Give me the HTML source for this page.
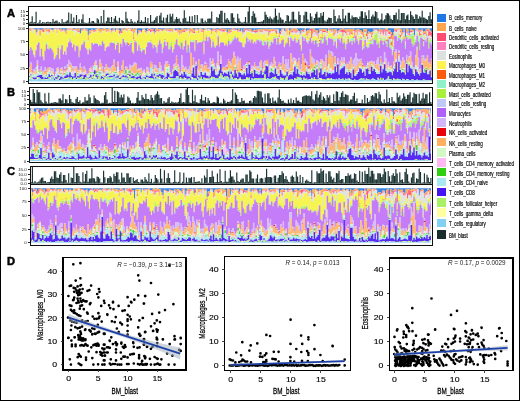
<!DOCTYPE html><html><head><meta charset="utf-8"><style>html,body{margin:0;padding:0;background:#fff;}svg{display:block;will-change:transform;}</style></head><body><svg width="520" height="401" viewBox="0 0 520 401" shape-rendering="crispEdges">
<rect x="0" y="0" width="520" height="401" fill="#fff"/>
<defs><filter id="bl" x="0" y="0" width="1" height="1"><feGaussianBlur stdDeviation="0.35 0.2"/></filter></defs>
<g opacity="1.0" filter="url(#bl)">
<path d="M29.6 28.2v0.6M30.9 28.2v0.6M33.5 28.2v0.5M34.9 28.2v1.0M36.1 28.2v4.2M37.5 28.2v1.1M38.8 28.2v0.6M40.0 28.2v1.9M41.4 28.2v0.8M42.6 28.2v1.6M44.0 28.2v0.5M45.2 28.2v0.3M46.5 28.2v1.0M47.9 28.2v0.4M49.2 28.2v0.6M50.5 28.2v0.7M51.8 28.2v1.3M53.0 28.2v1.9M54.4 28.2v0.3M55.7 28.2v0.4M57.0 28.2v0.6M58.2 28.2v0.4M59.5 28.2v0.8M60.9 28.2v0.6M62.1 28.2v2.0M63.5 28.2v0.8M64.8 28.2v1.5M66.1 28.2v3.4M67.3 28.2v0.4M68.7 28.2v0.4M70.0 28.2v0.4M71.2 28.2v0.4M72.6 28.2v0.2M73.8 28.2v0.9M75.2 28.2v1.0M76.5 28.2v0.2M77.8 28.2v0.8M79.1 28.2v0.4M80.3 28.2v4.7M81.7 28.2v0.7M83.0 28.2v0.9M84.2 28.2v0.4M85.6 28.2v1.1M86.8 28.2v1.1M88.2 28.2v6.9M89.5 28.2v2.3M90.8 28.2v2.3M92.1 28.2v1.1M93.4 28.2v1.9M94.7 28.2v1.7M96.0 28.2v0.8M97.2 28.2v0.2M98.5 28.2v0.3M99.9 28.2v0.7M101.2 28.2v0.9M102.5 28.2v0.7M103.8 28.2v0.3M105.0 28.2v0.3M106.4 28.2v1.0M107.7 28.2v0.9M109.0 28.2v0.4M110.2 28.2v0.3M111.5 28.2v2.0M112.9 28.2v1.5M114.2 28.2v0.4M115.5 28.2v2.3M116.8 28.2v0.5M118.0 28.2v0.2M119.4 28.2v1.9M120.7 28.2v3.6M122.0 28.2v0.4M123.2 28.2v0.5M124.5 28.2v1.1M125.9 28.2v0.4M129.8 28.2v0.4M131.1 28.2v0.5M132.4 28.2v0.9M133.7 28.2v0.4M134.9 28.2v0.7M136.2 28.2v0.4M137.6 28.2v5.7M138.9 28.2v1.9M140.2 28.2v1.9M141.4 28.2v2.8M142.8 28.2v0.6M144.1 28.2v0.3M145.4 28.2v2.4M146.7 28.2v3.3M147.9 28.2v0.9M149.2 28.2v0.4M150.6 28.2v0.6M151.9 28.2v0.9M153.2 28.2v0.7M154.4 28.2v3.5M155.8 28.2v0.7M158.3 28.2v1.3M159.7 28.2v0.9M161.0 28.2v0.7M162.2 28.2v1.5M163.6 28.2v0.8M164.8 28.2v0.5M166.2 28.2v0.6M167.5 28.2v0.5M168.8 28.2v0.6M170.1 28.2v1.1M171.3 28.2v0.5M172.7 28.2v0.6M174.0 28.2v0.4M175.2 28.2v1.8M176.6 28.2v0.7M177.8 28.2v1.1M179.2 28.2v1.9M180.5 28.2v1.7M181.8 28.2v0.5M183.1 28.2v0.6M184.3 28.2v1.0M185.7 28.2v1.3M187.0 28.2v0.9M188.2 28.2v0.5M189.6 28.2v1.2M192.2 28.2v0.4M193.5 28.2v1.2M194.8 28.2v1.7M196.1 28.2v0.3M197.3 28.2v1.0M198.7 28.2v1.0M200.0 28.2v0.3M201.2 28.2v0.6M202.6 28.2v0.7M203.8 28.2v2.1M205.2 28.2v0.2M206.5 28.2v0.5M207.8 28.2v1.3M209.1 28.2v0.5M210.3 28.2v0.9M211.7 28.2v1.9M213.0 28.2v0.5M214.2 28.2v0.6M215.6 28.2v0.6M216.8 28.2v0.7M218.2 28.2v1.1M219.5 28.2v0.6M220.8 28.2v0.5M222.1 28.2v0.9M223.3 28.2v0.7M224.7 28.2v0.8M226.0 28.2v0.9M227.2 28.2v4.0M228.6 28.2v0.9M229.8 28.2v1.7M231.2 28.2v1.1M232.5 28.2v0.3M233.8 28.2v0.3M235.1 28.2v1.1M236.3 28.2v0.6M237.7 28.2v2.1M239.0 28.2v0.5M240.2 28.2v3.1M241.6 28.2v1.4M242.8 28.2v4.2M244.2 28.2v1.1M245.5 28.2v0.4M246.8 28.2v1.0M248.1 28.2v1.1M249.3 28.2v1.4M250.7 28.2v0.9M252.0 28.2v3.0M253.2 28.2v2.4M254.6 28.2v1.4M255.8 28.2v1.9M257.1 28.2v1.5M258.5 28.2v1.3M259.8 28.2v0.9M261.1 28.2v0.7M262.4 28.2v1.3M263.6 28.2v0.7M265.0 28.2v0.8M266.2 28.2v1.0M267.6 28.2v1.0M268.9 28.2v1.2M270.1 28.2v0.8M271.5 28.2v1.1M272.8 28.2v0.6M274.1 28.2v1.1M275.4 28.2v1.3M276.6 28.2v0.8M278.0 28.2v0.8M279.2 28.2v5.2M280.6 28.2v3.0M281.9 28.2v1.0M283.1 28.2v0.3M284.5 28.2v2.6M285.8 28.2v0.6M287.1 28.2v0.2M288.4 28.2v0.4M289.7 28.2v2.5M290.9 28.2v1.3M292.2 28.2v0.4M293.6 28.2v0.6M294.9 28.2v0.5M296.2 28.2v0.4M297.4 28.2v1.0M298.8 28.2v2.7M300.1 28.2v5.1M301.4 28.2v2.1M302.7 28.2v1.5M303.9 28.2v2.0M305.2 28.2v0.3M306.6 28.2v3.4M307.9 28.2v1.7M309.2 28.2v1.6M310.4 28.2v0.4M311.8 28.2v0.5M313.1 28.2v0.6M314.4 28.2v0.6M315.7 28.2v2.2M316.9 28.2v2.0M318.2 28.2v5.4M319.6 28.2v1.2M320.9 28.2v1.2M322.2 28.2v0.7M323.4 28.2v0.7M324.8 28.2v0.9M326.1 28.2v0.7M327.4 28.2v2.9M328.7 28.2v0.4M329.9 28.2v1.2M331.2 28.2v1.6M332.6 28.2v0.9M333.9 28.2v2.6M335.2 28.2v0.7M336.4 28.2v1.3M337.8 28.2v3.4M339.1 28.2v2.0M340.4 28.2v0.7M341.7 28.2v1.1M342.9 28.2v0.3M344.2 28.2v0.7M345.6 28.2v1.4M346.9 28.2v1.2M348.2 28.2v0.8M349.4 28.2v0.5M350.8 28.2v0.9M352.1 28.2v1.1M353.4 28.2v0.6M354.7 28.2v1.5M355.9 28.2v2.4M357.2 28.2v1.0M358.6 28.2v0.9M359.9 28.2v1.7M361.2 28.2v2.6M362.4 28.2v3.9M363.8 28.2v1.2M365.1 28.2v0.8M366.4 28.2v0.8M367.7 28.2v5.6M368.9 28.2v3.3M370.2 28.2v4.6M371.6 28.2v4.1M372.9 28.2v3.3M374.2 28.2v0.8M375.4 28.2v1.0M376.8 28.2v1.3M378.1 28.2v2.9M379.4 28.2v0.6M380.7 28.2v1.5M381.9 28.2v1.2M383.2 28.2v1.5M384.6 28.2v0.8M385.9 28.2v0.3M387.2 28.2v0.4M388.4 28.2v2.1M389.8 28.2v2.2M391.1 28.2v3.9M392.4 28.2v7.3M393.7 28.2v4.0M394.9 28.2v0.3M396.2 28.2v0.3M397.6 28.2v0.4M400.2 28.2v0.5M401.4 28.2v0.9M402.8 28.2v3.8M404.1 28.2v1.0M405.4 28.2v8.5M406.7 28.2v0.3M407.9 28.2v1.3M409.2 28.2v4.7M410.6 28.2v1.2M411.9 28.2v1.5M413.2 28.2v1.7M414.4 28.2v6.7M415.8 28.2v0.7M417.1 28.2v0.4M418.4 28.2v1.5M419.7 28.2v2.2M420.9 28.2v1.6M422.2 28.2v1.3M423.6 28.2v3.5M424.9 28.2v3.1M426.2 28.2v1.2M427.4 28.2v0.7M428.8 28.2v0.5M430.1 28.2v2.3M431.4 28.2v3.5" stroke="#3585e8" stroke-width="1.50" fill="none" shape-rendering="auto"/>
<path d="M29.6 28.7v1.3M30.9 28.7v1.4M32.2 28.3v0.7M33.5 28.6v0.7M36.1 32.4v1.1M37.5 29.2v2.2M38.8 28.8v0.6M40.0 30.1v0.7M41.4 29.0v0.3M42.6 29.8v0.5M44.0 28.7v0.9M45.2 28.4v0.9M46.5 29.2v2.3M47.9 28.6v2.7M49.2 28.7v0.6M50.5 28.8v0.4M51.8 29.5v0.3M53.0 30.0v0.5M54.4 28.5v0.2M55.7 28.5v0.2M57.0 28.7v2.8M58.2 28.6v0.5M59.5 28.9v0.3M60.9 28.8v1.6M62.1 30.2v0.7M63.5 29.0v1.0M64.8 29.6v1.2M66.1 31.6v0.5M67.3 28.6v0.3M68.7 28.5v0.3M70.0 28.5v0.7M71.2 28.5v0.4M72.6 28.4v1.8M73.8 29.0v1.0M75.2 29.2v1.1M76.5 28.4v1.9M77.8 29.0v1.5M79.1 28.5v2.7M81.7 28.8v1.4M83.0 29.0v0.6M84.2 28.6v0.4M85.6 29.3v0.7M86.8 29.3v1.4M88.2 35.0v5.2M89.5 30.4v3.3M90.8 30.5v2.2M92.1 29.2v0.7M93.4 30.1v1.2M94.7 29.8v0.6M96.0 28.9v1.4M97.2 28.4v0.3M98.5 28.4v2.1M99.9 28.8v3.3M101.2 29.1v3.5M102.5 28.8v1.2M103.8 28.4v2.5M105.0 28.5v1.4M106.4 29.1v2.5M107.7 29.0v1.5M109.0 28.5v2.5M110.2 28.4v0.4M111.5 30.2v0.3M112.9 29.6v1.4M114.2 28.6v1.2M115.5 30.4v0.8M116.8 28.6v0.5M118.0 28.4v1.2M119.4 30.0v0.9M120.7 31.8v0.7M122.0 28.5v2.5M123.2 28.7v1.0M124.5 29.2v0.6M125.9 28.5v1.8M127.2 28.3v2.2M128.4 28.3v0.3M129.8 28.5v0.4M131.1 28.6v0.9M132.4 29.0v1.7M133.7 28.5v9.2M134.9 28.8v3.3M136.2 28.6v1.5M137.6 33.8v1.2M138.9 30.1v1.6M140.2 30.0v0.2M141.4 30.9v0.2M142.8 28.7v0.6M144.1 28.4v0.7M145.4 30.5v0.6M146.7 31.4v0.8M147.9 29.0v0.9M149.2 28.5v0.5M150.6 28.7v1.1M151.9 29.0v1.1M153.2 28.9v0.6M154.4 31.7v0.5M155.8 28.9v2.2M157.1 28.3v1.9M158.3 29.5v2.5M159.7 29.1v0.8M161.0 28.8v0.6M162.2 29.7v0.4M163.6 28.9v1.0M164.8 28.7v0.3M166.2 28.7v1.6M167.5 28.6v1.3M168.8 28.8v1.8M170.1 29.2v2.2M171.3 28.7v2.2M172.7 28.8v2.5M174.0 28.5v0.9M175.2 30.0v0.7M176.6 28.8v0.3M177.8 29.3v2.0M179.2 30.1v4.2M180.5 29.8v3.0M181.8 28.7v4.4M183.1 28.8v2.1M184.3 29.1v1.8M185.7 29.4v0.8M187.0 29.0v0.5M188.2 28.6v1.1M189.6 29.4v3.3M190.8 28.3v2.2M192.2 28.5v3.1M193.5 29.3v2.9M194.8 29.8v2.3M196.1 28.4v0.8M197.3 29.2v0.6M198.7 29.2v3.3M200.0 28.5v1.0M201.2 28.7v1.4M202.6 28.9v2.3M203.8 30.3v12.3M205.2 28.4v1.5M206.5 28.6v0.5M207.8 29.5v0.6M209.1 28.7v0.2M210.3 29.0v0.4M211.7 30.1v3.3M213.0 28.7v1.2M214.2 28.8v0.8M215.6 28.7v0.6M216.8 28.9v4.3M218.2 29.3v0.4M219.5 28.8v1.1M220.8 28.6v0.3M222.1 29.1v1.7M223.3 28.8v1.1M224.7 29.0v1.5M226.0 29.0v2.1M227.2 32.1v2.1M228.6 29.1v3.5M229.8 29.8v1.7M231.2 29.2v2.5M232.5 28.4v0.9M233.8 28.4v0.2M235.1 29.3v0.3M236.3 28.8v0.6M237.7 30.2v1.1M239.0 28.7v1.4M240.2 31.3v0.9M241.6 29.6v0.4M242.8 32.3v0.8M244.2 29.3v0.5M245.5 28.5v0.4M246.8 29.1v0.6M248.1 29.2v0.4M249.3 29.6v1.1M250.7 29.0v2.0M252.0 31.1v0.5M253.2 30.5v1.1M254.6 29.6v1.2M255.8 30.0v0.9M257.1 29.6v0.8M258.5 29.5v0.9M259.8 29.1v3.3M261.1 28.9v1.9M262.4 29.5v2.7M263.6 28.8v0.9M265.0 28.9v1.4M266.2 29.1v1.3M267.6 29.1v0.8M268.9 29.3v2.5M270.1 29.0v2.2M271.5 29.2v1.7M272.8 28.8v1.6M274.1 29.3v1.0M275.4 29.5v2.7M276.6 29.0v1.7M278.0 29.0v0.5M279.2 33.3v3.0M280.6 31.2v0.8M281.9 29.2v2.0M283.1 28.5v0.3M284.5 30.8v0.5M285.8 28.8v1.4M287.1 28.4v6.4M288.4 28.5v0.2M289.7 30.7v1.1M290.9 29.4v2.4M292.2 28.6v2.4M293.6 28.8v2.0M294.9 28.6v2.6M296.2 28.6v2.2M297.4 29.2v1.5M298.8 30.8v0.5M300.1 33.2v1.1M301.4 30.3v2.0M302.7 29.7v0.3M303.9 30.1v1.0M305.2 28.4v0.6M306.6 31.6v2.7M307.9 29.9v8.9M309.2 29.7v3.1M310.4 28.6v0.6M311.8 28.7v0.4M313.1 28.7v4.6M314.4 28.7v1.7M315.7 30.3v2.5M316.9 30.1v2.9M318.2 33.5v4.0M319.6 29.4v2.5M320.9 29.4v0.9M322.2 28.8v9.3M323.4 28.8v2.2M324.8 29.1v2.1M326.1 28.9v3.2M327.4 31.1v1.3M328.7 28.6v0.6M329.9 29.3v0.6M331.2 29.8v1.5M332.6 29.1v2.0M333.9 30.8v2.2M335.2 28.9v4.6M336.4 29.5v1.1M337.8 31.5v0.4M339.1 30.1v0.6M340.4 28.8v2.0M341.7 29.2v0.7M342.9 28.4v1.2M344.2 28.9v0.8M345.6 29.6v2.1M346.9 29.4v4.6M348.2 28.9v2.2M349.4 28.7v2.8M350.8 29.1v4.2M352.1 29.3v3.4M353.4 28.7v2.0M354.7 29.7v0.5M355.9 30.5v0.8M357.2 29.2v5.2M358.6 29.1v1.8M359.9 29.9v1.9M361.2 30.8v2.7M362.4 32.0v1.8M363.8 29.3v5.9M365.1 29.0v2.3M366.4 28.9v4.9M367.7 33.8v3.6M368.9 31.5v2.0M370.2 32.8v0.7M371.6 32.3v3.9M372.9 31.4v3.0M374.2 28.9v0.8M375.4 29.2v0.2M376.8 29.4v0.5M378.1 31.1v1.1M379.4 28.7v2.2M380.7 29.6v3.1M381.9 29.3v0.9M383.2 29.7v0.6M384.6 29.0v0.3M385.9 28.4v2.5M387.2 28.6v1.4M388.4 30.3v2.0M389.8 30.3v1.5M391.1 32.1v1.9M392.4 35.5v10.1M393.7 32.2v6.2M394.9 28.4v2.2M396.2 28.5v1.5M397.6 28.6v0.8M398.9 28.3v0.4M400.2 28.7v2.6M401.4 29.1v4.8M402.8 31.9v1.9M404.1 29.1v1.7M405.4 36.7v2.1M406.7 28.4v3.3M407.9 29.5v1.5M409.2 32.9v0.6M410.6 29.3v1.8M411.9 29.6v1.4M413.2 29.9v1.2M414.4 34.9v1.3M415.8 28.8v1.5M417.1 28.5v1.0M418.4 29.7v1.0M419.7 30.3v1.1M420.9 29.8v1.1M422.2 29.4v1.1M423.6 31.6v1.8M424.9 31.2v1.9M426.2 29.4v4.8M427.4 28.8v1.0M428.8 28.6v2.0M430.1 30.4v1.5M431.4 31.7v0.8" stroke="#ffae5f" stroke-width="1.50" fill="none" shape-rendering="auto"/>
<path d="M29.6 30.0v0.4M30.9 30.0v0.7M32.2 29.0v0.4M33.5 29.3v0.3M34.9 29.3v0.3M36.1 33.4v0.6M37.5 31.4v0.4M38.8 29.3v0.3M40.0 30.7v5.0M41.4 29.2v1.1M42.6 30.2v1.6M44.0 29.5v2.6M45.2 29.3v0.5M46.5 31.4v0.3M47.9 31.3v0.3M49.2 29.3v3.1M50.5 29.2v0.4M51.8 29.7v0.3M53.0 30.4v0.4M54.4 28.6v0.6M55.7 28.7v0.5M57.0 31.4v0.7M59.5 29.2v0.8M62.1 30.8v0.3M63.5 29.9v0.7M64.8 30.8v0.8M66.1 32.0v2.0M67.3 28.9v0.8M68.7 28.8v0.4M70.0 29.2v0.5M71.2 28.9v0.3M72.6 30.1v0.4M76.5 30.2v0.4M77.8 30.4v1.3M79.1 31.2v0.7M80.3 33.0v0.4M81.7 30.2v0.5M83.0 29.5v0.5M84.2 28.9v0.4M86.8 30.6v0.4M88.2 40.2v0.3M90.8 32.6v1.0M92.1 29.9v0.6M93.4 31.2v0.6M94.7 30.4v0.6M96.0 30.3v0.7M97.2 28.6v0.3M98.5 30.5v0.3M99.9 32.1v0.3M102.5 30.0v0.3M103.8 30.8v0.3M105.0 29.9v0.4M106.4 31.5v0.8M107.7 30.5v0.3M109.0 30.9v0.8M111.5 30.5v0.9M114.2 29.7v0.6M115.5 31.2v0.6M116.8 29.1v0.4M118.0 29.6v0.6M119.4 30.9v2.2M120.7 32.5v0.8M122.0 30.9v2.2M123.2 29.6v0.5M127.2 30.5v0.4M128.4 28.5v0.4M131.1 29.5v1.6M132.4 30.7v0.3M133.7 37.6v1.6M134.9 32.1v0.3M137.6 35.0v0.4M138.9 31.6v0.9M140.2 30.2v1.1M141.4 31.1v1.5M142.8 29.3v0.8M144.1 29.0v0.4M145.4 31.1v0.7M147.9 29.9v0.9M149.2 29.0v1.6M150.6 29.8v2.3M151.9 30.1v0.5M153.2 29.4v1.7M154.4 32.1v0.3M155.8 31.1v0.9M157.1 30.2v0.7M158.3 31.9v0.3M161.0 29.4v0.5M162.2 30.0v0.9M163.6 29.8v0.5M164.8 28.9v0.5M166.2 30.3v0.5M167.5 29.9v0.5M168.8 30.5v0.8M170.1 31.4v0.7M171.3 30.8v0.2M172.7 31.2v0.5M175.2 30.7v0.4M176.6 29.1v1.2M177.8 31.3v0.4M180.5 32.7v0.3M181.8 33.0v0.4M183.1 30.8v0.9M184.3 30.9v1.0M185.7 30.1v0.3M187.0 29.5v0.8M189.6 32.6v0.5M190.8 30.4v1.0M192.2 31.6v1.0M193.5 32.2v0.7M194.8 32.1v0.9M196.1 29.2v0.2M197.3 29.8v0.2M198.7 32.4v0.5M202.6 31.1v0.5M203.8 42.6v0.5M205.2 29.8v0.3M207.8 30.1v0.4M209.1 28.8v0.2M210.3 29.4v0.6M211.7 33.3v0.2M213.0 29.8v0.2M214.2 29.5v0.3M215.6 29.2v1.1M218.2 29.6v0.7M219.5 29.9v0.6M220.8 28.9v1.7M222.1 30.8v0.5M223.3 29.9v1.6M224.7 30.4v1.1M227.2 34.2v0.3M231.2 31.6v0.5M232.5 29.3v0.4M233.8 28.6v0.8M235.1 29.5v0.8M236.3 29.3v0.6M237.7 31.2v0.4M239.0 30.0v0.7M240.2 32.2v0.4M241.6 29.9v0.6M242.8 33.1v0.6M244.2 29.7v2.3M245.5 28.8v1.1M246.8 29.6v0.5M248.1 29.5v1.1M249.3 30.7v0.5M250.7 31.0v0.3M252.0 31.6v0.4M253.2 31.6v0.3M254.6 30.8v1.1M255.8 30.9v2.4M257.1 30.4v1.8M258.5 30.4v0.4M261.1 30.7v1.0M262.4 32.1v0.2M263.6 29.7v0.6M265.0 30.3v0.8M266.2 30.4v0.5M267.6 29.9v0.8M268.9 31.7v3.7M270.1 31.1v1.0M271.5 30.9v0.2M272.8 30.3v0.8M274.1 30.2v0.5M275.4 32.1v0.3M276.6 30.7v3.4M279.2 36.3v0.8M280.6 32.0v2.0M281.9 31.2v0.3M283.1 28.7v0.5M284.5 31.2v0.3M285.8 30.2v1.2M287.1 34.7v0.6M288.4 28.7v0.6M289.7 31.7v3.1M290.9 31.8v0.5M292.2 30.9v1.6M293.6 30.7v0.7M294.9 31.2v0.5M296.2 30.7v0.3M297.4 30.6v0.8M300.1 34.2v0.6M301.4 32.2v0.3M302.7 30.0v1.5M303.9 31.1v1.0M305.2 29.0v0.7M306.6 34.2v0.8M309.2 32.8v0.2M310.4 29.1v1.4M311.8 29.0v9.1M313.1 33.3v0.4M314.4 30.4v1.4M315.7 32.8v0.5M316.9 33.0v0.3M318.2 37.5v1.0M319.6 31.8v0.7M320.9 30.2v0.7M322.2 38.1v1.3M323.4 30.9v1.2M324.8 31.1v0.8M326.1 32.0v0.4M327.4 32.3v0.4M328.7 29.2v0.5M329.9 29.9v0.8M331.2 31.2v0.4M332.6 31.0v0.4M333.9 32.9v2.9M335.2 33.4v0.3M336.4 30.5v0.9M337.8 31.8v1.3M339.1 30.7v0.6M340.4 30.7v1.1M341.7 29.9v1.9M342.9 29.6v6.6M344.2 29.7v2.5M345.6 31.6v1.3M346.9 33.9v1.0M348.2 31.1v0.5M349.4 31.4v0.9M350.8 33.2v0.5M352.1 32.6v1.4M353.4 30.6v0.4M354.7 30.1v1.5M355.9 31.3v0.4M357.2 34.3v0.3M358.6 30.8v0.3M359.9 31.7v0.6M361.2 33.5v0.5M362.4 33.7v1.0M363.8 35.2v1.9M365.1 31.2v0.7M366.4 33.7v2.4M367.7 37.3v1.7M370.2 33.4v0.4M371.6 36.1v0.9M372.9 34.4v0.4M375.4 29.3v0.4M376.8 29.9v0.6M378.1 32.1v0.4M379.4 30.8v0.6M380.7 32.7v1.2M381.9 30.2v1.0M383.2 30.3v4.3M384.6 29.2v1.5M385.9 30.8v4.7M387.2 29.9v1.0M388.4 32.2v1.3M389.8 31.7v2.2M391.1 33.9v4.6M392.4 45.5v0.8M393.7 38.3v1.1M394.9 30.6v0.5M396.2 29.9v2.2M397.6 29.4v0.8M398.9 28.7v0.8M400.2 31.3v1.0M401.4 33.8v0.6M402.8 33.8v0.6M404.1 30.8v1.0M405.4 38.7v0.5M406.7 31.7v0.7M407.9 30.9v0.6M409.2 33.4v2.1M410.6 31.1v1.4M411.9 31.0v1.2M413.2 31.0v0.2M414.4 36.1v0.4M415.8 30.3v0.3M417.1 29.4v0.4M418.4 30.7v0.3M419.7 31.4v4.4M420.9 30.8v0.8M422.2 30.5v0.3M423.6 33.4v0.8M424.9 33.0v1.1M426.2 34.2v1.6M427.4 29.8v1.2M428.8 30.6v5.4M430.1 31.9v3.0M431.4 32.4v4.3" stroke="#ff5c80" stroke-width="1.50" fill="none" shape-rendering="auto"/>
<path d="M29.6 30.3v0.2M30.9 30.7v0.4M34.9 29.5v0.4M37.5 31.7v0.3M38.8 29.6v0.4M44.0 32.1v0.2M47.9 31.5v0.2M49.2 32.3v0.7M50.5 29.5v0.3M53.0 30.8v1.6M55.7 29.2v0.3M57.0 32.1v1.0M58.2 29.2v0.3M60.9 30.3v1.4M62.1 31.1v0.3M64.8 31.6v0.2M67.3 29.6v0.2M68.7 29.1v0.7M70.0 29.7v0.8M71.2 29.1v0.5M72.6 30.4v0.3M73.8 30.0v0.3M75.2 30.4v0.3M76.5 30.6v0.4M77.8 31.6v0.2M79.1 31.8v0.4M80.3 33.4v0.5M81.7 30.7v0.2M83.0 30.0v0.5M84.2 29.3v0.3M85.6 30.0v0.8M86.8 31.0v0.2M89.5 33.8v0.4M92.1 30.5v0.5M94.7 30.9v1.4M96.0 31.0v0.4M98.5 30.7v0.2M99.9 32.3v0.2M101.2 32.6v0.2M102.5 30.2v0.4M105.0 30.2v0.2M107.7 30.8v0.4M110.2 28.9v0.8M111.5 31.3v1.5M112.9 31.2v0.4M114.2 30.3v0.3M118.0 30.1v0.2M119.4 33.0v1.0M120.7 33.2v0.4M122.0 33.1v0.2M123.2 30.1v0.5M125.9 30.5v0.4M132.4 30.9v0.9M133.7 39.2v0.4M136.2 30.2v0.4M137.6 35.4v0.4M138.9 32.5v0.6M141.4 32.5v0.2M142.8 30.0v0.3M144.1 29.4v0.2M145.4 31.8v0.5M146.7 32.3v0.7M147.9 30.7v0.3M151.9 30.5v1.3M153.2 31.1v0.4M154.4 32.4v1.5M155.8 31.9v0.7M157.1 30.8v0.2M158.3 32.2v0.3M159.7 29.9v1.0M161.0 29.9v0.4M162.2 30.8v0.4M164.8 29.3v0.4M166.2 30.7v0.4M167.5 30.3v0.3M170.1 32.0v0.2M172.7 31.7v0.2M174.0 29.6v0.3M176.6 30.2v0.6M177.8 31.7v1.1M179.2 34.3v1.0M180.5 33.0v0.6M183.1 31.7v0.3M184.3 31.9v0.7M185.7 30.4v1.0M187.0 30.2v0.5M188.2 29.7v0.3M189.6 33.1v0.2M192.2 32.5v0.2M193.5 32.8v0.3M194.8 33.0v0.5M201.2 30.1v1.8M202.6 31.6v0.4M207.8 30.4v0.3M211.7 33.5v0.9M213.0 29.9v1.2M214.2 29.7v0.8M215.6 30.3v1.9M216.8 33.2v0.4M218.2 30.2v0.4M219.5 30.4v0.5M220.8 30.5v1.1M222.1 31.2v0.6M223.3 31.4v0.8M224.7 31.5v0.3M226.0 31.2v0.2M228.6 32.6v0.8M229.8 31.5v1.6M231.2 32.1v0.2M233.8 29.3v0.4M235.1 30.2v0.3M236.3 29.8v0.4M237.7 31.6v0.4M239.0 30.7v0.7M244.2 32.0v0.5M245.5 29.9v0.4M246.8 30.1v0.4M248.1 30.5v0.6M250.7 31.2v0.4M252.0 31.9v0.3M254.6 31.8v0.2M257.1 32.1v0.3M261.1 31.7v0.3M265.0 31.1v0.2M266.2 30.8v0.6M267.6 30.7v1.1M268.9 35.4v0.3M270.1 32.1v0.4M271.5 31.0v0.3M272.8 31.1v0.4M274.1 30.7v0.3M276.6 34.0v0.2M278.0 29.5v0.5M279.2 37.0v0.4M280.6 33.9v0.3M281.9 31.4v0.8M283.1 29.2v0.2M288.4 29.3v0.5M290.9 32.2v0.3M292.2 32.4v0.4M293.6 31.3v0.4M294.9 31.7v1.1M296.2 30.9v2.3M297.4 31.4v0.9M300.1 34.8v0.5M301.4 32.5v1.0M303.9 32.1v0.2M306.6 35.0v0.3M309.2 33.0v0.4M310.4 30.5v0.2M313.1 33.7v0.2M314.4 31.7v0.3M315.7 33.2v0.6M316.9 33.3v2.3M318.2 38.4v0.5M319.6 32.4v0.3M320.9 30.8v0.2M327.4 32.6v0.6M328.7 29.6v0.4M331.2 31.6v0.7M332.6 31.4v0.2M333.9 35.8v0.3M335.2 33.7v0.3M337.8 33.1v0.2M340.4 31.8v0.3M342.9 36.1v0.4M346.9 34.9v0.3M349.4 32.3v3.0M350.8 33.7v0.6M352.1 34.0v1.0M353.4 31.0v0.3M354.7 31.6v6.3M355.9 31.6v0.9M357.2 34.5v0.5M358.6 31.1v0.5M363.8 37.1v0.4M366.4 36.0v0.2M367.7 39.0v0.3M368.9 33.5v0.5M370.2 33.7v0.3M371.6 36.9v0.3M374.2 29.8v1.1M375.4 29.7v0.3M378.1 32.5v0.7M379.4 31.4v0.5M380.7 33.8v0.2M381.9 31.2v1.5M383.2 34.5v0.9M384.6 30.7v1.2M385.9 35.4v0.7M387.2 30.9v0.8M388.4 33.5v0.8M391.1 38.4v0.8M392.4 46.3v0.2M393.7 39.4v0.3M396.2 32.1v0.2M397.6 30.2v0.4M398.9 29.5v0.2M400.2 32.2v0.2M401.4 34.3v1.4M402.8 34.3v0.3M404.1 31.7v1.1M405.4 39.2v1.8M406.7 32.3v0.9M407.9 31.5v3.2M409.2 35.5v0.3M413.2 31.2v0.3M417.1 29.8v1.3M418.4 30.9v1.0M419.7 35.7v0.6M420.9 31.5v0.2M422.2 30.7v0.3M423.6 34.1v1.3M424.9 34.1v0.2M426.2 35.7v0.3M428.8 35.9v0.3M430.1 34.9v0.9" stroke="#ff8dc6" stroke-width="1.50" fill="none" shape-rendering="auto"/>
<path d="M29.6 30.5v0.4M30.9 31.0v0.7M32.2 29.5v1.0M33.5 29.6v3.4M34.9 29.8v0.3M36.1 34.0v0.8M37.5 32.0v3.3M38.8 29.9v1.1M40.0 35.7v1.8M41.4 30.3v0.4M42.6 31.8v0.7M44.0 32.3v1.1M45.2 29.8v0.4M46.5 31.8v2.3M47.9 31.7v3.2M49.2 32.9v0.5M50.5 29.8v0.6M51.8 30.0v0.6M53.0 32.3v0.5M54.4 29.2v0.2M55.7 29.5v1.0M57.0 33.1v2.0M58.2 29.4v0.5M59.5 30.0v0.7M60.9 31.7v0.4M62.1 31.4v0.7M63.5 30.6v0.7M64.8 31.8v0.3M66.1 34.0v0.6M67.3 29.8v0.3M68.7 29.7v0.8M70.0 30.4v0.3M71.2 29.5v0.6M72.6 30.7v0.9M73.8 30.3v1.4M75.2 30.6v4.6M76.5 30.9v0.8M77.8 31.8v1.4M79.1 32.2v1.1M80.3 33.8v0.9M83.0 30.5v0.3M84.2 29.5v0.3M85.6 30.7v1.1M86.8 31.2v0.6M88.2 40.6v0.9M89.5 34.1v1.1M90.8 33.6v0.5M92.1 30.9v0.2M93.4 31.8v1.3M94.7 32.3v0.4M96.0 31.4v0.5M97.2 29.0v0.8M98.5 30.9v1.0M99.9 32.4v0.6M101.2 32.8v0.8M102.5 30.5v0.4M103.8 31.2v0.4M105.0 30.3v0.2M106.4 32.4v0.9M107.7 31.2v0.8M109.0 31.7v0.4M110.2 29.7v0.8M111.5 32.7v0.3M112.9 31.5v0.6M114.2 30.5v0.8M115.5 31.9v0.6M116.8 29.6v0.7M118.0 30.2v0.6M119.4 33.9v2.4M120.7 33.5v0.5M122.0 33.3v0.4M123.2 30.5v0.2M124.5 30.0v0.3M125.9 30.8v0.7M127.2 30.9v1.1M128.4 28.9v0.6M129.8 29.0v1.2M131.1 31.1v0.5M132.4 31.8v2.7M133.7 39.5v0.7M134.9 32.4v0.4M136.2 30.5v1.4M137.6 35.8v1.3M138.9 33.0v1.0M140.2 31.4v2.2M141.4 32.7v0.7M142.8 30.3v0.6M144.1 29.6v0.3M145.4 32.3v0.3M146.7 32.9v1.6M147.9 31.0v2.4M149.2 30.7v0.6M150.6 32.1v2.7M151.9 31.8v0.5M153.2 31.4v0.4M154.4 33.8v0.9M155.8 32.6v0.4M157.1 31.0v0.4M158.3 32.4v0.8M159.7 30.8v1.3M161.0 30.2v0.9M162.2 31.1v2.3M163.6 30.4v0.2M164.8 29.7v0.3M166.2 31.1v0.6M167.5 30.6v2.0M168.8 31.4v0.6M170.1 32.2v1.5M171.3 31.2v0.8M172.7 31.9v1.3M174.0 29.8v0.9M175.2 31.2v0.8M176.6 30.7v1.0M177.8 32.7v0.6M179.2 35.2v0.6M180.5 33.5v0.4M181.8 33.5v0.4M183.1 31.9v0.5M184.3 32.5v0.8M185.7 31.4v0.5M187.0 30.7v1.9M188.2 30.0v1.1M189.6 33.2v3.0M190.8 31.4v0.7M192.2 32.7v0.6M193.5 33.0v0.5M194.8 33.4v1.2M196.1 29.5v2.0M197.3 30.1v0.9M198.7 32.9v0.8M200.0 29.6v0.8M201.2 31.9v0.8M202.6 31.9v0.4M203.8 43.2v0.6M205.2 30.1v0.7M206.5 29.2v1.6M207.8 30.7v0.6M209.1 29.1v1.4M210.3 30.1v1.1M211.7 34.3v1.6M213.0 31.0v0.2M214.2 30.5v0.6M215.6 32.1v0.4M216.8 33.5v3.7M218.2 30.6v0.2M219.5 30.9v0.2M220.8 31.6v3.2M222.1 31.7v0.3M223.3 32.2v0.3M224.7 31.7v0.7M226.0 31.4v0.5M227.2 34.6v0.3M228.6 33.3v0.3M229.8 33.0v1.1M231.2 32.3v0.5M232.5 29.8v1.0M233.8 29.7v1.6M235.1 30.4v0.7M236.3 30.2v0.4M237.7 31.9v0.3M239.0 31.4v0.7M240.2 32.5v0.6M241.6 30.6v1.7M242.8 33.8v4.2M244.2 32.5v3.3M245.5 30.2v4.6M246.8 30.4v2.0M248.1 31.1v1.1M249.3 31.2v0.5M250.7 31.6v1.4M252.0 32.2v1.5M253.2 31.9v1.7M254.6 32.0v1.4M255.8 33.3v1.2M257.1 32.3v1.1M258.5 30.7v1.3M259.8 32.4v3.8M261.1 31.9v1.6M262.4 32.4v2.5M263.6 30.4v3.5M265.0 31.3v2.5M266.2 31.4v6.7M267.6 31.7v0.8M268.9 35.6v1.4M270.1 32.4v1.6M271.5 31.3v1.6M272.8 31.5v2.2M274.1 30.9v1.3M275.4 32.5v0.5M276.6 34.1v1.0M278.0 29.9v3.2M279.2 37.3v1.8M280.6 34.1v1.4M281.9 32.1v3.7M283.1 29.3v6.2M284.5 31.6v9.6M285.8 31.4v2.0M287.1 35.4v2.2M288.4 29.7v0.9M289.7 34.9v4.6M290.9 32.5v0.6M292.2 32.8v2.1M293.6 31.6v3.0M294.9 32.7v1.3M296.2 33.2v1.5M297.4 32.2v2.9M298.8 31.4v2.9M300.1 35.2v3.7M301.4 33.4v10.7M302.7 31.4v2.0M303.9 32.3v2.6M305.2 29.7v3.4M306.6 35.2v1.1M307.9 38.9v2.1M309.2 33.3v2.2M310.4 30.7v0.6M311.8 38.2v1.1M313.1 33.8v3.2M314.4 32.0v4.2M315.7 33.7v2.8M316.9 35.5v2.0M318.2 38.9v1.4M319.6 32.6v3.7M320.9 31.0v2.8M322.2 39.4v0.6M323.4 32.2v2.6M324.8 31.9v1.1M326.1 32.4v3.9M327.4 33.2v3.5M328.7 30.0v1.3M329.9 30.8v2.7M331.2 32.2v1.3M332.6 31.5v1.6M333.9 36.1v1.9M335.2 33.9v2.4M336.4 31.5v11.3M337.8 33.3v2.6M339.1 31.4v2.7M340.4 32.0v3.0M341.7 31.9v1.3M342.9 36.5v2.3M344.2 32.2v3.7M345.6 32.9v6.8M346.9 35.1v1.0M348.2 31.7v2.0M349.4 35.2v1.4M350.8 34.3v0.4M352.1 34.9v0.7M353.4 31.3v1.4M354.7 37.9v0.9M355.9 32.4v1.1M357.2 35.0v0.7M358.6 31.6v7.9M359.9 32.4v3.1M361.2 33.9v1.4M362.4 34.8v6.2M363.8 37.4v3.7M365.1 32.0v1.8M366.4 36.2v6.4M367.7 39.3v3.0M368.9 33.9v5.7M370.2 34.0v5.6M371.6 37.1v1.7M372.9 34.9v1.4M374.2 30.9v4.6M375.4 30.0v1.5M376.8 30.6v1.2M378.1 33.1v5.0M379.4 31.8v8.6M380.7 34.0v3.1M381.9 32.6v1.9M383.2 35.4v3.5M384.6 31.8v5.0M385.9 36.1v2.9M387.2 31.7v6.7M388.4 34.2v2.1M389.8 33.9v2.6M391.1 39.2v1.9M392.4 46.5v4.8M393.7 39.7v6.2M394.9 31.2v2.8M396.2 32.2v1.4M397.6 30.5v6.5M398.9 29.6v4.0M400.2 32.4v2.1M401.4 35.7v2.6M402.8 34.6v2.4M404.1 32.7v2.4M405.4 41.0v3.2M406.7 33.2v0.9M407.9 34.7v1.8M409.2 35.7v0.4M410.6 32.6v1.6M411.9 32.3v0.6M413.2 31.4v1.7M414.4 36.5v1.7M415.8 30.7v8.3M417.1 31.0v1.3M418.4 31.8v3.2M419.7 36.3v1.5M420.9 31.7v1.6M422.2 30.9v3.7M423.6 35.4v3.4M424.9 34.3v1.9M426.2 36.0v2.7M427.4 31.1v2.7M428.8 36.2v4.6M430.1 35.7v2.8M431.4 36.7v3.0" stroke="#e0e3e3" stroke-width="1.50" fill="none" shape-rendering="auto"/>
<path d="M29.6 30.8v18.8M30.9 31.7v15.2M32.2 30.5v18.5M33.5 33.0v20.5M34.9 30.1v26.4M36.1 34.7v14.9M37.5 35.2v8.5M38.8 31.0v10.6M40.0 37.5v17.6M41.4 30.7v17.6M42.6 32.5v23.2M44.0 33.3v26.5M45.2 30.2v19.2M46.5 34.1v8.3M47.9 34.8v13.0M49.2 33.4v12.7M50.5 30.4v16.6M51.8 30.5v18.3M53.0 32.7v19.2M54.4 29.4v29.3M55.7 30.4v26.3M57.0 35.0v18.9M58.2 29.9v15.7M59.5 30.6v27.4M60.9 32.0v16.4M62.1 32.0v12.6M63.5 31.2v22.6M64.8 32.0v18.7M66.1 34.6v19.6M67.3 30.1v16.3M68.7 30.5v11.4M70.0 30.7v7.5M71.2 30.0v11.7M72.6 31.6v15.4M73.8 31.6v12.1M75.2 35.2v15.1M76.5 31.6v13.7M77.8 33.2v12.5M79.1 33.3v23.0M80.3 34.6v14.7M81.7 31.0v12.6M83.0 30.7v12.8M84.2 29.8v10.3M85.6 31.8v15.5M86.8 31.7v17.0M88.2 41.4v12.1M89.5 35.1v12.9M90.8 34.0v16.0M92.1 31.1v11.6M93.4 33.0v10.7M94.7 32.7v10.5M96.0 31.9v10.5M97.2 29.8v13.5M98.5 31.8v13.5M99.9 32.9v11.4M101.2 33.6v10.3M102.5 30.8v9.1M103.8 31.6v10.9M105.0 30.5v19.6M106.4 33.3v14.1M107.7 31.9v13.5M109.0 32.1v13.8M110.2 30.4v12.2M111.5 33.0v9.0M112.9 32.0v10.8M114.2 31.2v10.3M115.5 32.4v16.5M116.8 30.3v13.9M118.0 30.7v11.3M119.4 36.3v16.1M120.7 34.0v8.6M122.0 33.7v10.9M123.2 30.7v7.3M124.5 30.3v10.1M125.9 31.5v12.1M127.2 31.9v9.5M128.4 29.5v13.8M129.8 30.2v13.9M131.1 31.6v9.6M132.4 34.4v16.5M133.7 40.2v12.8M134.9 32.7v7.8M136.2 31.8v9.3M137.6 37.0v12.1M138.9 34.0v9.5M140.2 33.5v14.7M141.4 33.4v17.1M142.8 30.8v17.3M144.1 29.8v18.5M145.4 32.6v20.9M146.7 34.5v11.6M147.9 33.3v8.6M149.2 31.3v10.0M150.6 34.7v6.2M151.9 32.2v10.1M153.2 31.7v15.4M154.4 34.7v9.9M155.8 33.0v13.4M157.1 31.3v18.1M158.3 33.2v10.2M159.7 32.1v7.1M161.0 31.1v11.6M162.2 33.4v16.3M163.6 30.5v12.6M164.8 29.9v9.8M166.2 31.6v13.1M167.5 32.5v9.1M168.8 31.9v15.8M170.1 33.6v11.6M171.3 31.9v10.0M172.7 33.2v18.2M174.0 30.7v16.9M175.2 32.0v10.1M176.6 31.7v6.4M177.8 33.3v11.0M179.2 35.7v9.1M180.5 33.8v8.5M181.8 33.8v7.3M183.1 32.3v16.2M184.3 33.2v12.2M185.7 31.8v7.6M187.0 32.5v17.9M188.2 31.0v13.0M189.6 36.2v11.4M190.8 32.1v8.5M192.2 33.3v7.6M193.5 33.5v6.5M194.8 34.6v14.6M196.1 31.5v8.2M197.3 30.9v11.1M198.7 33.7v8.2M200.0 30.4v11.1M201.2 32.6v8.9M202.6 32.3v7.1M203.8 43.8v8.2M205.2 30.7v9.5M206.5 30.7v5.0M207.8 31.3v8.8M209.1 30.4v6.0M210.3 31.2v7.5M211.7 35.9v10.5M213.0 31.2v8.6M214.2 31.1v13.4M215.6 32.5v14.2M216.8 37.1v7.9M218.2 30.8v4.7M219.5 31.1v14.6M220.8 34.8v7.2M222.1 31.9v9.7M223.3 32.4v9.6M224.7 32.3v12.8M226.0 31.9v11.4M227.2 34.8v10.4M228.6 33.6v5.3M229.8 34.1v6.9M231.2 32.7v8.6M232.5 30.7v7.5M233.8 31.2v7.8M235.1 31.1v4.5M236.3 30.5v7.7M237.7 32.1v4.8M239.0 32.0v8.9M240.2 33.1v7.7M241.6 32.2v9.4M242.8 37.9v8.1M244.2 35.8v10.1M245.5 34.8v7.0M246.8 32.3v3.8M248.1 32.1v7.2M249.3 31.6v7.3M250.7 33.0v7.5M252.0 33.6v5.5M253.2 33.5v9.6M254.6 33.4v7.9M255.8 34.4v7.4M257.1 33.4v5.8M258.5 32.0v7.2M259.8 36.2v3.9M261.1 33.5v5.7M262.4 34.8v8.0M263.6 33.9v6.5M265.0 33.7v6.9M266.2 38.0v5.0M267.6 32.5v6.9M268.9 36.9v10.1M270.1 34.0v7.2M271.5 32.8v7.5M272.8 33.6v8.1M274.1 32.2v3.9M275.4 33.0v3.7M276.6 35.1v7.0M278.0 33.0v3.8M279.2 39.0v3.6M280.6 35.4v7.0M281.9 35.7v4.4M283.1 35.5v3.2M284.5 41.1v5.1M285.8 33.3v8.7M287.1 37.5v4.8M288.4 30.6v6.0M289.7 39.5v4.7M290.9 33.1v2.8M292.2 34.9v3.7M293.6 34.5v5.7M294.9 33.9v3.0M296.2 34.6v6.9M297.4 35.1v4.7M298.8 34.3v3.9M300.1 38.9v5.2M301.4 44.1v4.3M302.7 33.4v2.5M303.9 34.8v5.0M305.2 33.1v2.7M306.6 36.2v3.7M307.9 40.9v2.1M309.2 35.4v4.7M310.4 31.2v5.6M311.8 39.2v2.5M313.1 37.0v2.4M314.4 36.1v5.0M315.7 36.5v3.1M316.9 37.5v2.6M318.2 40.2v3.6M319.6 36.2v3.9M320.9 33.8v3.6M322.2 39.9v3.0M323.4 34.7v3.0M324.8 33.0v1.8M326.1 36.2v1.5M327.4 36.6v4.5M328.7 31.2v4.9M329.9 33.4v4.0M331.2 33.5v4.0M332.6 33.1v5.3M333.9 38.0v3.9M335.2 36.2v2.3M336.4 42.7v3.6M337.8 35.8v2.1M339.1 34.1v4.6M340.4 34.9v4.3M341.7 33.1v2.2M342.9 38.8v4.0M344.2 35.8v3.7M345.6 39.7v4.2M346.9 36.1v6.3M348.2 33.6v2.5M349.4 36.5v4.9M350.8 34.6v4.0M352.1 35.6v2.8M353.4 32.6v4.5M354.7 38.7v2.0M355.9 33.5v1.4M357.2 35.7v3.6M358.6 39.4v2.9M359.9 35.4v2.7M361.2 35.3v2.0M362.4 41.0v6.1M363.8 41.1v4.3M365.1 33.8v2.4M366.4 42.6v2.2M367.7 42.3v4.1M368.9 39.6v4.5M370.2 39.5v1.1M371.6 38.8v1.0M372.9 36.2v2.6M374.2 35.5v1.7M375.4 31.5v1.8M376.8 31.7v1.7M378.1 38.1v3.3M379.4 40.3v2.4M380.7 37.1v1.4M381.9 34.5v2.6M383.2 38.9v2.8M384.6 36.7v1.6M385.9 38.9v1.4M387.2 38.4v1.1M388.4 36.3v1.2M389.8 36.5v0.7M391.1 41.1v0.7M392.4 51.2v1.1M393.7 45.8v0.9M394.9 34.0v0.6M396.2 33.6v0.6M397.6 36.9v0.4M398.9 33.5v1.0M400.2 34.5v0.7M401.4 38.3v0.9M402.8 36.9v1.2M404.1 35.0v1.6M405.4 44.2v0.9M406.7 34.0v0.6M407.9 36.4v0.9M409.2 36.1v0.6M410.6 34.1v0.6M411.9 32.9v0.7M413.2 33.1v0.7M414.4 38.2v0.6M415.8 38.9v0.5M417.1 32.3v0.5M418.4 35.0v0.8M419.7 37.7v1.2M420.9 33.2v0.9M422.2 34.6v1.3M423.6 38.8v1.0M424.9 36.1v1.4M426.2 38.7v0.7M427.4 33.7v0.6M428.8 40.7v0.6M430.1 38.4v0.4M431.4 39.6v0.6" stroke="#f6f452" stroke-width="1.50" fill="none" shape-rendering="auto"/>
<path d="M29.6 49.6v0.3M41.4 48.2v0.3M45.2 49.3v0.3M49.2 46.0v0.5M53.0 51.8v0.2M55.7 56.6v0.4M66.1 54.1v0.2M70.0 38.1v0.2M75.2 50.2v0.2M76.5 45.3v0.2M77.8 45.7v0.2M80.3 49.2v0.6M81.7 43.5v0.2M85.6 47.3v0.3M88.2 53.5v0.3M90.8 49.9v0.3M103.8 42.4v0.2M110.2 42.5v0.2M118.0 42.0v0.3M120.7 42.5v0.3M122.0 44.6v1.1M123.2 37.9v0.2M125.9 43.5v0.3M127.2 41.4v0.2M128.4 43.3v1.8M129.8 44.0v0.2M132.4 50.9v0.4M133.7 53.0v0.7M134.9 40.5v0.4M140.2 48.2v0.7M147.9 41.9v0.3M150.6 40.8v0.3M151.9 42.2v0.3M159.7 39.1v0.2M162.2 49.6v0.2M163.6 43.0v0.4M164.8 39.6v0.3M174.0 47.5v0.3M177.8 44.2v0.3M187.0 50.4v0.5M194.8 49.1v0.2M197.3 42.0v0.3M203.8 51.9v0.6M206.5 35.7v0.2M210.3 38.6v0.2M211.7 46.3v0.3M213.0 39.8v0.4M214.2 44.4v0.3M215.6 46.6v0.3M218.2 35.4v0.3M219.5 45.6v0.6M220.8 41.9v0.2M226.0 43.2v0.6M227.2 45.1v0.5M248.1 39.3v0.7M250.7 40.4v0.4M255.8 41.8v0.2M257.1 39.2v0.2M259.8 40.1v0.5M262.4 42.8v0.4M263.6 40.3v0.3M267.6 39.3v0.5M271.5 40.3v0.2M275.4 36.6v0.2M276.6 42.1v0.4M278.0 36.7v0.3M279.2 42.6v0.2M281.9 40.1v0.7M283.1 38.7v0.7M285.8 42.0v0.3M289.7 44.1v0.5M290.9 35.9v0.3M292.2 38.5v0.3M294.9 36.9v0.3M296.2 41.5v0.7M297.4 39.7v0.3M298.8 38.2v0.2M301.4 48.4v0.2M303.9 39.8v0.4M305.2 35.7v0.4M311.8 41.7v0.2M314.4 41.1v0.4M316.9 40.0v0.2M318.2 43.7v0.5M319.6 40.1v1.3M320.9 37.3v0.8M323.4 37.6v0.2M332.6 38.3v0.3M333.9 41.9v0.2M335.2 38.4v0.2M337.8 37.9v0.5M339.1 38.6v0.6M340.4 39.2v0.4M342.9 42.7v0.2M344.2 39.4v0.4M345.6 43.9v0.3M346.9 42.3v0.3M349.4 41.4v0.3M352.1 38.4v0.2M353.4 37.1v0.8M354.7 40.7v0.2M357.2 39.2v0.5M358.6 42.2v0.3M359.9 38.0v0.5M361.2 37.3v1.3M362.4 47.1v0.5M363.8 45.3v0.5M366.4 44.7v0.3M367.7 46.3v0.3M370.2 40.6v0.6M371.6 39.7v0.8M372.9 38.7v0.9M376.8 33.4v0.3M379.4 42.7v0.2M380.7 38.5v0.5M383.2 41.6v0.7M384.6 38.3v0.3M385.9 40.3v0.6M387.2 39.4v2.0M388.4 37.4v0.6M389.8 37.1v2.2M391.1 41.7v3.9M392.4 52.3v0.3M393.7 46.6v0.4M394.9 34.5v0.3M397.6 37.3v0.2M398.9 34.5v0.4M400.2 35.1v2.4M402.8 38.0v0.6M404.1 36.6v0.7M407.9 37.3v0.2M409.2 36.6v0.2M410.6 34.7v0.2M413.2 33.7v0.2M415.8 39.4v0.2M420.9 34.1v1.2M422.2 35.9v0.3M423.6 39.7v1.2M424.9 37.5v0.3M428.8 41.3v0.3M430.1 38.8v0.4M431.4 40.2v0.3" stroke="#ff6a22" stroke-width="1.50" fill="none" shape-rendering="auto"/>
<path d="M29.6 49.8v0.4M32.2 48.9v0.5M33.5 53.5v0.8M34.9 56.6v0.3M36.1 49.6v0.4M37.5 43.7v0.4M40.0 55.2v0.6M41.4 48.4v0.2M42.6 55.8v0.5M46.5 42.4v1.8M47.9 47.9v0.4M49.2 46.5v0.9M50.5 47.1v0.4M51.8 48.9v0.4M53.0 52.0v0.3M54.4 58.8v0.6M55.7 57.0v1.0M57.0 53.9v0.8M58.2 45.6v0.3M59.5 58.0v0.3M60.9 48.5v0.4M64.8 50.8v0.2M66.1 54.3v0.7M67.3 46.4v0.6M68.7 42.0v0.3M70.0 38.3v0.6M71.2 41.7v0.7M72.6 47.0v0.3M73.8 43.7v0.7M75.2 50.4v0.4M79.1 56.3v0.2M80.3 49.8v0.4M81.7 43.7v0.3M83.0 43.5v0.4M84.2 40.1v1.3M85.6 47.5v0.3M86.8 48.7v0.3M88.2 53.7v0.3M89.5 48.1v1.0M90.8 50.2v0.4M93.4 43.8v0.9M101.2 43.9v0.5M102.5 40.0v0.4M103.8 42.6v0.9M107.7 45.4v0.7M109.0 45.8v0.3M114.2 41.5v1.4M115.5 48.9v0.3M116.8 44.2v0.2M118.0 42.2v0.8M119.4 52.4v0.4M120.7 42.7v0.6M122.0 45.6v1.0M123.2 38.1v0.3M124.5 40.4v1.3M125.9 43.7v0.5M127.2 41.6v0.4M128.4 45.1v0.3M129.8 44.2v0.5M131.1 41.1v1.6M132.4 51.3v0.8M133.7 53.6v0.4M134.9 40.9v0.5M136.2 41.1v0.5M137.6 49.1v0.3M138.9 43.5v0.2M140.2 48.8v0.3M141.4 50.6v0.8M142.8 48.2v0.8M144.1 48.4v1.1M145.4 53.4v0.2M146.7 46.0v0.8M147.9 42.1v0.5M149.2 41.4v0.7M150.6 41.1v0.4M151.9 42.4v1.3M153.2 47.1v0.7M155.8 46.5v0.4M157.1 49.4v1.8M158.3 43.4v0.3M159.7 39.3v0.4M161.0 42.8v0.4M162.2 49.8v2.6M163.6 43.4v1.9M164.8 39.9v0.4M168.8 47.6v1.1M170.1 45.3v1.6M171.3 42.0v1.0M172.7 51.4v0.6M174.0 47.7v0.8M175.2 42.1v1.0M176.6 38.2v0.5M177.8 44.5v0.2M179.2 44.8v0.6M180.5 42.3v0.3M181.8 41.1v0.3M183.1 48.5v0.2M184.3 45.5v0.7M185.7 39.4v0.2M187.0 50.9v1.0M188.2 44.0v0.6M189.6 47.6v4.8M190.8 40.6v1.0M192.2 40.9v0.8M193.5 40.0v1.8M194.8 49.3v1.6M197.3 42.3v0.9M198.7 41.9v0.5M201.2 41.5v0.5M202.6 39.4v1.3M203.8 52.5v1.2M205.2 40.3v0.2M206.5 35.8v0.7M207.8 40.1v0.7M209.1 36.5v0.3M211.7 46.6v0.2M213.0 40.1v0.6M214.2 44.7v1.7M215.6 46.8v0.3M216.8 45.0v0.4M218.2 35.7v0.6M219.5 46.2v0.4M223.3 42.0v0.4M226.0 43.8v0.2M228.6 38.9v0.2M229.8 41.0v2.4M231.2 41.4v0.4M232.5 38.2v1.5M233.8 39.0v0.5M235.1 35.6v0.3M236.3 38.2v0.3M237.7 36.9v0.3M240.2 40.8v0.7M241.6 41.7v0.5M242.8 45.9v0.4M244.2 45.9v1.1M245.5 41.8v0.6M246.8 36.2v0.5M248.1 39.9v1.6M249.3 38.9v1.2M250.7 40.7v0.4M252.0 39.1v0.3M254.6 41.2v0.4M255.8 42.0v0.6M257.1 39.3v0.3M258.5 39.2v0.5M259.8 40.5v1.3M261.1 39.2v0.3M262.4 43.1v0.6M263.6 40.5v4.3M265.0 40.5v0.3M266.2 43.0v0.7M267.6 39.7v1.2M268.9 47.0v1.5M270.1 41.1v3.9M271.5 40.4v0.8M272.8 41.7v0.3M274.1 36.2v0.3M275.4 36.8v1.0M276.6 42.5v1.4M278.0 37.0v0.9M279.2 42.8v0.6M281.9 40.7v0.5M283.1 39.4v0.4M284.5 46.2v0.4M285.8 42.2v0.3M287.1 42.3v0.3M288.4 36.6v0.9M289.7 44.6v0.4M290.9 36.1v1.4M292.2 38.7v1.2M294.9 37.1v0.4M296.2 42.1v0.4M297.4 39.9v0.8M298.8 38.3v0.6M300.1 44.2v0.4M301.4 48.6v0.2M302.7 36.0v0.2M303.9 40.1v0.3M305.2 36.1v0.3M307.9 42.9v0.3M309.2 40.1v0.3M310.4 36.8v0.2M311.8 41.8v0.5M313.1 39.4v0.3M314.4 41.5v1.6M315.7 39.6v0.2M316.9 40.2v0.6M318.2 44.2v1.1M319.6 41.4v0.5M320.9 38.1v0.7M323.4 37.8v4.3M324.8 34.8v0.4M326.1 37.7v0.6M327.4 41.1v1.5M328.7 36.1v0.4M329.9 37.4v0.9M331.2 37.6v0.3M332.6 38.6v0.3M333.9 42.0v0.9M335.2 38.6v1.6M336.4 46.3v1.4M337.8 38.3v0.3M339.1 39.1v0.5M340.4 39.6v0.7M341.7 35.3v1.1M342.9 42.9v0.3M344.2 39.8v0.8M345.6 44.1v1.4M346.9 42.6v0.9M348.2 36.2v0.5M349.4 41.7v0.4M350.8 38.7v1.7M352.1 38.5v3.5M353.4 37.8v2.2M354.7 40.9v0.9M355.9 35.0v0.4M358.6 42.4v0.6M359.9 38.5v0.7M361.2 38.5v0.5M362.4 47.5v1.2M363.8 45.8v1.5M365.1 36.1v0.4M366.4 45.0v0.9M367.7 46.6v0.5M368.9 44.1v1.6M370.2 41.2v1.8M371.6 40.5v2.6M372.9 39.6v1.7M374.2 37.2v0.5M375.4 33.3v1.2M376.8 33.6v0.3M378.1 41.5v0.4M379.4 42.8v0.4M380.7 38.9v0.4M381.9 37.2v2.8M383.2 42.2v1.6M384.6 38.6v1.1M385.9 40.8v0.8M387.2 41.4v3.6M388.4 37.9v1.1M389.8 39.2v4.0M391.1 45.6v1.1M392.4 52.5v0.3M393.7 46.9v2.0M394.9 34.8v0.7M396.2 34.2v1.1M397.6 37.4v2.4M398.9 34.8v1.2M400.2 37.4v0.6M401.4 39.2v1.8M402.8 38.5v0.9M404.1 37.3v0.4M405.4 45.1v2.6M406.7 34.7v1.2M407.9 37.5v0.4M409.2 36.8v0.6M410.6 34.8v2.5M411.9 33.6v2.4M413.2 33.9v1.9M414.4 38.8v3.4M415.8 39.5v0.3M417.1 32.8v1.0M418.4 35.8v4.2M419.7 39.0v3.4M420.9 35.2v1.3M422.2 36.1v1.3M423.6 40.9v2.6M424.9 37.7v0.8M426.2 39.4v0.3M427.4 34.3v0.4M428.8 41.5v0.6M430.1 39.1v0.7M431.4 40.4v1.3" stroke="#9bf2ce" stroke-width="1.50" fill="none" shape-rendering="auto"/>
<path d="M29.6 50.2v0.8M30.9 47.0v0.2M32.2 49.4v0.5M33.5 54.3v0.4M34.9 56.8v0.4M36.1 50.0v0.3M37.5 44.1v0.5M38.8 41.7v0.5M40.0 55.7v0.5M41.4 48.6v0.4M42.6 56.2v0.2M44.0 59.9v0.2M45.2 49.7v1.4M46.5 44.2v0.2M47.9 48.3v0.3M49.2 47.3v1.9M50.5 47.5v0.4M51.8 49.2v0.4M58.2 45.8v1.8M59.5 58.2v1.0M60.9 48.8v0.7M62.1 44.7v0.4M63.5 54.1v0.4M64.8 51.0v0.4M67.3 46.9v0.3M70.0 38.9v0.5M71.2 42.3v0.5M72.6 47.3v0.4M75.2 50.8v0.4M76.5 45.5v0.2M77.8 46.0v0.3M79.1 56.5v0.6M81.7 43.9v0.9M83.0 43.9v0.3M84.2 41.4v0.4M85.6 47.8v0.3M86.8 49.0v0.3M89.5 49.1v0.3M92.1 42.8v0.2M96.0 42.4v0.8M97.2 43.4v0.3M98.5 45.5v0.6M99.9 44.4v0.5M101.2 44.4v1.1M102.5 40.3v1.2M105.0 50.3v0.3M107.7 46.0v0.3M109.0 46.1v0.5M110.2 42.8v0.4M111.5 42.0v0.6M114.2 42.9v0.2M115.5 49.2v0.4M116.8 44.3v0.5M119.4 52.8v0.3M120.7 43.3v0.4M122.0 46.6v0.3M123.2 38.4v0.7M124.5 41.7v0.5M125.9 44.1v1.1M127.2 41.9v0.5M128.4 45.3v0.5M129.8 44.6v0.3M132.4 52.0v0.2M133.7 54.0v0.2M136.2 41.5v0.7M137.6 49.4v1.3M138.9 43.7v1.2M140.2 49.0v0.6M141.4 51.3v1.1M142.8 48.9v1.3M144.1 49.5v0.3M145.4 53.6v0.7M150.6 41.4v0.7M151.9 43.7v0.4M153.2 47.7v0.4M155.8 46.8v0.4M157.1 51.2v0.8M158.3 43.6v0.5M159.7 39.6v0.6M161.0 43.1v0.3M162.2 52.4v0.4M163.6 45.3v1.9M164.8 40.2v0.4M166.2 44.9v0.8M167.5 41.6v0.4M168.8 48.7v0.5M170.1 46.8v2.2M171.3 42.9v3.3M172.7 51.9v0.5M174.0 48.5v0.3M175.2 43.1v1.3M176.6 38.7v0.6M177.8 44.7v0.3M179.2 45.3v1.0M180.5 42.5v5.9M181.8 41.4v1.5M183.1 48.7v0.2M185.7 39.6v0.8M187.0 51.8v0.3M188.2 44.6v0.5M190.8 41.6v0.3M192.2 41.6v0.7M193.5 41.7v0.3M194.8 50.9v0.3M197.3 43.1v0.5M198.7 42.3v0.4M201.2 42.0v0.5M202.6 40.7v0.8M203.8 53.6v0.3M205.2 40.5v0.5M206.5 36.5v0.5M207.8 40.8v0.3M211.7 46.8v0.7M213.0 40.7v1.1M214.2 46.3v0.5M215.6 47.0v0.6M218.2 36.2v0.2M220.8 42.2v0.6M222.1 41.7v0.2M223.3 42.3v0.5M226.0 43.9v0.5M227.2 45.7v0.5M228.6 39.1v1.8M229.8 43.3v0.8M231.2 41.8v0.2M232.5 39.6v1.5M233.8 39.4v0.3M235.1 35.9v1.2M236.3 38.5v0.7M239.0 41.0v0.3M240.2 41.5v0.7M241.6 42.1v0.5M242.8 46.3v0.3M244.2 46.9v0.5M245.5 42.4v0.6M246.8 36.7v1.1M248.1 41.5v0.3M250.7 41.1v1.3M253.2 43.2v0.4M254.6 41.6v0.4M255.8 42.5v1.0M257.1 39.6v0.3M261.1 39.5v1.1M262.4 43.7v1.0M263.6 44.8v0.4M265.0 40.8v0.8M266.2 43.6v1.3M267.6 40.9v0.4M268.9 48.4v0.5M270.1 45.0v0.8M271.5 41.2v0.6M272.8 41.9v0.6M274.1 36.4v1.8M275.4 37.8v0.6M276.6 43.9v0.3M278.0 37.8v0.3M279.2 43.3v0.7M280.6 42.6v0.9M283.1 39.7v0.4M284.5 46.5v0.2M285.8 42.5v1.6M287.1 42.6v0.6M289.7 44.9v1.0M290.9 37.5v0.5M292.2 39.9v0.3M293.6 40.3v0.3M294.9 37.4v0.2M296.2 42.4v0.3M297.4 40.7v0.6M298.8 38.9v0.4M301.4 48.7v2.2M302.7 36.2v0.5M303.9 40.4v0.6M305.2 36.4v1.5M306.6 40.2v0.3M307.9 43.2v0.3M309.2 40.4v0.4M310.4 36.9v1.0M313.1 39.6v1.1M314.4 43.0v1.1M315.7 39.7v0.3M316.9 40.8v1.9M318.2 45.2v1.7M319.6 41.8v0.7M320.9 38.7v1.3M322.2 43.1v0.6M323.4 42.0v0.4M324.8 35.2v1.0M326.1 38.3v0.3M327.4 42.6v1.8M328.7 36.5v1.1M329.9 38.3v0.3M331.2 37.8v1.1M333.9 42.9v1.3M335.2 40.2v1.3M336.4 47.6v0.6M337.8 38.5v0.5M339.1 39.6v0.3M340.4 40.2v0.8M341.7 36.4v1.3M342.9 43.1v0.6M344.2 40.5v1.7M345.6 45.5v3.4M346.9 43.4v0.5M348.2 36.6v1.9M349.4 42.0v1.0M350.8 40.4v0.8M352.1 42.0v2.5M353.4 39.9v0.6M354.7 41.7v1.2M355.9 35.3v0.4M357.2 39.8v0.6M358.6 43.0v1.4M359.9 39.1v0.8M361.2 39.0v0.5M362.4 48.6v0.8M363.8 47.2v0.3M365.1 36.4v3.3M366.4 45.8v0.6M367.7 47.1v0.8M368.9 45.7v1.4M370.2 42.9v1.0M371.6 43.0v1.0M372.9 41.2v1.4M374.2 37.7v1.1M375.4 34.5v5.7M376.8 33.9v9.9M378.1 41.8v1.0M379.4 43.2v4.7M380.7 39.3v1.1M381.9 39.9v0.3M383.2 43.8v0.5M384.6 39.7v0.7M385.9 41.5v1.2M387.2 44.9v1.7M388.4 38.9v0.4M389.8 43.2v3.5M391.1 46.6v2.3M392.4 52.8v1.9M393.7 48.8v0.5M394.9 35.4v0.4M396.2 35.2v0.7M397.6 39.8v0.9M398.9 35.9v2.3M400.2 38.0v0.8M401.4 41.0v1.4M402.8 39.3v1.1M404.1 37.6v1.0M405.4 47.6v0.8M406.7 35.8v1.5M407.9 37.8v1.2M409.2 37.4v1.0M410.6 37.3v1.2M411.9 36.0v6.5M413.2 35.8v10.4M414.4 42.2v2.4M415.8 39.7v1.8M417.1 33.8v1.3M418.4 40.0v0.7M419.7 42.3v7.6M420.9 36.5v0.4M422.2 37.4v0.4M423.6 43.5v2.0M424.9 38.5v0.8M426.2 39.6v1.3M427.4 34.6v1.0M428.8 42.0v5.9M430.1 39.8v2.5M431.4 41.7v0.3" stroke="#b1f250" stroke-width="1.50" fill="none" shape-rendering="auto"/>
<path d="M30.9 47.1v0.3M32.2 49.9v0.4M34.9 57.1v0.2M37.5 44.5v0.2M38.8 42.2v0.7M40.0 56.2v0.4M41.4 48.9v0.2M44.0 60.0v0.3M49.2 49.2v0.4M62.1 45.1v0.2M64.8 51.3v0.3M68.7 42.4v0.2M70.0 39.3v1.4M75.2 51.1v0.2M76.5 45.7v0.3M77.8 46.2v0.7M79.1 57.1v0.3M80.3 50.2v0.4M81.7 44.8v0.6M88.2 54.1v0.4M89.5 49.3v0.2M92.1 43.0v0.2M93.4 44.7v0.3M94.7 43.2v0.3M96.0 43.2v0.3M97.2 43.6v0.3M101.2 45.4v0.5M103.8 43.5v0.3M105.0 50.6v0.4M114.2 43.1v0.4M125.9 45.1v0.3M127.2 42.4v0.2M128.4 45.8v0.3M129.8 44.9v0.2M131.1 42.8v0.2M134.9 41.5v0.3M136.2 42.2v0.4M137.6 50.7v0.4M138.9 44.8v0.7M140.2 49.6v0.6M142.8 50.2v0.3M146.7 46.9v0.3M147.9 42.6v0.6M150.6 42.1v0.4M151.9 44.0v0.2M153.2 48.0v0.3M154.4 44.7v0.2M157.1 51.9v1.2M158.3 44.0v0.7M159.7 40.1v0.4M161.0 43.4v0.6M163.6 47.1v0.3M164.8 40.5v1.0M166.2 45.6v0.4M168.8 49.1v0.3M170.1 49.0v0.2M175.2 44.4v0.2M176.6 39.2v0.2M181.8 42.8v0.2M183.1 48.9v0.9M185.7 40.3v0.2M187.0 52.0v0.4M190.8 41.8v0.2M203.8 53.8v0.4M209.1 36.9v0.3M210.3 38.9v0.3M211.7 47.4v0.2M214.2 46.7v0.2M215.6 47.5v0.3M222.1 41.9v0.5M223.3 42.7v0.5M224.7 45.3v0.3M226.0 44.3v0.2M229.8 44.1v0.4M231.2 42.0v1.2M232.5 41.0v0.3M235.1 37.1v0.3M239.0 41.3v0.3M241.6 42.5v0.2M242.8 46.5v0.5M245.5 42.9v1.3M255.8 43.5v0.2M257.1 39.9v0.5M258.5 39.8v0.4M261.1 40.5v0.2M262.4 44.7v0.4M263.6 45.2v0.5M265.0 41.5v0.3M272.8 42.4v1.1M274.1 38.2v0.7M275.4 38.3v0.2M276.6 44.2v0.3M279.2 44.0v0.4M280.6 43.4v0.4M284.5 46.7v0.5M289.7 45.9v0.6M292.2 40.1v0.4M293.6 40.6v0.5M294.9 37.6v1.0M296.2 42.7v0.5M297.4 41.2v1.3M301.4 50.9v0.3M305.2 37.8v0.5M306.6 40.4v1.4M307.9 43.5v0.4M309.2 40.7v0.2M311.8 42.3v0.5M315.7 40.0v0.3M316.9 42.7v0.9M318.2 46.8v0.3M319.6 42.5v0.4M320.9 40.0v0.4M322.2 43.7v0.3M323.4 42.4v0.4M324.8 36.2v0.3M326.1 38.5v1.9M327.4 44.3v0.6M328.7 37.5v0.4M331.2 38.9v0.3M332.6 39.0v0.9M333.9 44.1v1.5M339.1 39.9v0.3M340.4 40.9v1.4M341.7 37.6v0.4M342.9 43.6v0.3M344.2 42.1v0.5M345.6 48.9v0.4M348.2 38.4v0.6M349.4 43.0v0.2M350.8 41.1v0.2M352.1 44.4v0.4M353.4 40.4v0.3M354.7 42.8v0.3M355.9 35.6v0.2M357.2 40.3v0.2M358.6 44.3v0.3M359.9 39.9v0.4M361.2 39.4v0.6M362.4 49.4v0.5M363.8 47.5v1.2M365.1 39.7v0.4M366.4 46.4v0.6M367.7 47.8v0.4M368.9 47.1v0.4M372.9 42.6v1.8M374.2 38.7v1.1M375.4 40.1v0.2M376.8 43.8v1.1M378.1 42.8v0.7M379.4 47.8v0.3M380.7 40.3v0.3M381.9 40.2v0.2M384.6 40.3v0.7M385.9 42.7v0.8M387.2 46.6v0.5M389.8 46.7v1.0M391.1 48.8v0.6M392.4 54.7v0.7M393.7 49.3v0.9M394.9 35.7v0.4M396.2 35.8v0.4M397.6 40.6v0.5M398.9 38.1v0.2M400.2 38.7v1.1M401.4 42.3v0.9M402.8 40.4v0.3M405.4 48.4v0.4M406.7 37.3v0.4M407.9 39.0v0.8M409.2 38.3v0.7M411.9 42.5v1.0M413.2 46.1v0.5M414.4 44.5v0.2M415.8 41.5v0.4M417.1 35.1v0.6M418.4 40.7v0.8M419.7 49.9v0.3M420.9 36.9v0.6M422.2 37.7v0.9M423.6 45.4v1.0M424.9 39.3v1.0M426.2 40.8v1.1M427.4 35.6v2.2M428.8 47.9v1.0M430.1 42.2v0.6M431.4 41.9v2.7" stroke="#c6cef9" stroke-width="1.50" fill="none" shape-rendering="auto"/>
<path d="M29.6 51.1v16.1M30.9 47.4v15.0M32.2 50.2v21.8M33.5 54.7v14.3M34.9 57.3v11.7M36.1 50.3v17.2M37.5 44.7v15.5M38.8 42.8v27.6M40.0 56.5v13.1M41.4 49.1v17.5M42.6 56.5v14.5M44.0 60.3v10.0M45.2 51.1v16.2M46.5 44.5v25.3M47.9 48.7v18.3M49.2 49.5v17.4M50.5 47.9v19.8M51.8 49.6v19.0M53.0 52.4v16.3M54.4 59.6v16.5M55.7 58.1v13.7M57.0 54.9v13.0M58.2 47.7v19.5M59.5 59.2v10.9M60.9 49.6v18.4M62.1 45.3v22.2M63.5 54.6v16.2M64.8 51.6v14.8M66.1 55.1v16.4M67.3 47.2v17.3M68.7 42.5v17.8M70.0 40.7v21.3M71.2 42.9v20.9M72.6 47.6v18.6M73.8 44.5v21.6M75.2 51.3v14.8M76.5 45.9v20.2M77.8 46.8v22.9M79.1 57.3v12.6M80.3 50.5v12.9M81.7 45.3v21.7M83.0 44.2v28.2M84.2 41.8v24.4M85.6 48.1v20.7M86.8 49.4v23.9M88.2 54.5v18.7M89.5 49.5v18.9M90.8 50.8v15.9M92.1 43.1v27.7M93.4 45.0v20.6M94.7 43.4v18.9M96.0 43.5v16.9M97.2 43.9v21.7M98.5 46.2v22.6M99.9 44.8v14.8M101.2 45.9v17.7M102.5 41.5v24.7M103.8 43.8v29.7M105.0 51.0v16.0M106.4 47.6v16.3M107.7 46.4v20.5M109.0 46.6v21.9M110.2 43.2v24.5M111.5 42.6v24.0M112.9 43.1v22.0M114.2 43.4v16.2M115.5 49.6v17.8M116.8 44.9v25.9M118.0 43.1v18.3M119.4 53.1v17.5M120.7 43.7v26.5M122.0 46.8v18.5M123.2 39.1v21.4M124.5 42.2v27.8M125.9 45.3v21.2M127.2 42.6v24.3M128.4 46.0v23.5M129.8 45.0v19.8M131.1 43.0v23.5M132.4 52.3v12.9M133.7 54.2v8.8M134.9 41.7v20.3M136.2 42.6v20.9M137.6 51.1v18.3M138.9 45.5v22.7M140.2 50.2v18.2M141.4 52.5v15.2M142.8 50.4v21.0M144.1 49.8v19.8M145.4 54.3v18.6M146.7 47.1v19.8M147.9 43.1v24.3M149.2 42.2v29.7M150.6 42.4v19.0M151.9 44.1v18.4M153.2 48.2v20.8M154.4 44.9v19.9M155.8 47.3v18.1M157.1 53.1v14.9M158.3 44.7v24.1M159.7 40.5v21.5M161.0 43.9v21.8M162.2 52.9v17.9M163.6 47.4v23.5M164.8 41.5v23.2M166.2 46.0v15.1M167.5 42.1v19.0M168.8 49.4v14.6M170.1 49.2v22.8M171.3 46.3v27.2M172.7 52.5v16.9M174.0 48.9v15.6M175.2 44.5v18.9M176.6 39.4v16.1M177.8 44.9v19.5M179.2 46.3v21.2M180.5 48.5v23.4M181.8 42.9v12.3M183.1 49.8v15.5M184.3 46.3v21.5M185.7 40.5v26.3M187.0 52.3v16.7M188.2 45.1v23.9M189.6 52.6v13.5M190.8 42.0v10.8M192.2 42.4v23.2M193.5 42.0v15.4M194.8 51.2v13.6M196.1 39.9v21.5M197.3 43.6v25.2M198.7 42.7v16.4M200.0 41.9v26.5M201.2 42.5v22.1M202.6 41.5v22.8M203.8 54.2v12.6M205.2 41.0v20.7M206.5 37.0v25.9M207.8 41.2v27.1M209.1 37.1v30.1M210.3 39.2v18.7M211.7 47.5v14.1M213.0 41.8v17.0M214.2 46.9v16.4M215.6 47.8v19.5M216.8 45.5v17.4M218.2 36.4v15.0M219.5 46.8v19.1M220.8 42.7v12.7M222.1 42.3v24.5M223.3 43.1v23.8M224.7 45.6v21.6M226.0 44.5v21.2M227.2 46.3v18.5M228.6 41.0v18.0M229.8 44.4v16.5M231.2 43.2v19.9M232.5 41.2v17.6M233.8 39.8v12.0M235.1 37.3v18.8M236.3 39.3v19.6M237.7 37.4v19.4M239.0 41.5v18.6M240.2 42.2v16.1M241.6 42.7v25.6M242.8 47.0v22.1M244.2 47.4v17.8M245.5 44.1v20.2M246.8 37.8v24.2M248.1 41.8v24.2M249.3 40.2v20.7M250.7 42.4v27.9M252.0 39.5v26.3M253.2 43.6v22.5M254.6 42.0v20.4M255.8 43.7v22.8M257.1 40.3v26.1M258.5 40.2v26.1M259.8 42.0v20.6M261.1 40.7v19.7M262.4 45.0v23.9M263.6 45.7v16.5M265.0 41.7v19.1M266.2 45.0v15.0M267.6 41.4v18.4M268.9 49.0v18.6M270.1 45.8v18.9M271.5 41.9v20.7M272.8 43.4v21.0M274.1 38.8v18.1M275.4 38.5v22.7M276.6 44.4v21.8M278.0 38.1v31.2M279.2 44.4v18.1M280.6 43.7v19.3M281.9 41.3v24.9M283.1 40.1v15.8M284.5 47.2v16.9M285.8 44.2v15.1M287.1 43.1v20.6M288.4 37.8v21.3M289.7 46.4v21.3M290.9 38.0v15.2M292.2 40.5v18.3M293.6 41.1v16.2M294.9 38.5v19.7M296.2 43.1v16.4M297.4 42.5v18.5M298.8 39.4v18.5M300.1 44.8v24.2M301.4 51.1v13.3M302.7 36.7v17.1M303.9 41.1v20.2M305.2 38.3v20.5M306.6 41.8v19.2M307.9 43.8v25.4M309.2 40.9v24.7M310.4 37.9v11.2M311.8 42.8v14.0M313.1 40.7v17.7M314.4 44.2v15.0M315.7 40.3v23.5M316.9 43.5v16.7M318.2 47.1v14.3M319.6 42.9v19.2M320.9 40.3v19.3M322.2 44.0v15.6M323.4 42.7v18.3M324.8 36.4v25.8M326.1 40.3v14.5M327.4 44.9v21.3M328.7 37.9v12.1M329.9 38.7v18.3M331.2 39.1v12.1M332.6 39.8v12.7M333.9 45.6v18.8M335.2 41.6v14.5M336.4 48.3v16.5M337.8 39.1v18.9M339.1 40.1v27.2M340.4 42.3v18.5M341.7 38.0v19.4M342.9 43.9v17.9M344.2 42.6v14.4M345.6 49.2v15.1M346.9 44.0v18.7M348.2 39.0v25.6M349.4 43.1v18.0M350.8 41.2v15.7M352.1 44.7v20.1M353.4 40.7v19.1M354.7 43.0v15.6M355.9 35.8v17.5M357.2 40.4v17.8M358.6 44.6v14.6M359.9 40.3v19.1M361.2 40.0v18.8M362.4 49.9v13.4M363.8 48.6v16.3M365.1 40.0v27.0M366.4 46.9v18.7M367.7 48.2v13.6M368.9 47.4v14.8M370.2 43.9v17.4M371.6 44.0v16.8M372.9 44.4v17.9M374.2 39.8v21.1M375.4 40.3v24.0M376.8 44.8v15.6M378.1 43.4v14.0M379.4 48.1v16.3M380.7 40.5v16.1M381.9 40.4v23.6M383.2 44.4v18.2M384.6 41.0v11.3M385.9 43.5v14.8M387.2 47.1v18.3M388.4 39.5v22.4M389.8 47.6v18.3M391.1 49.3v16.3M392.4 55.3v13.1M393.7 50.1v11.6M394.9 36.0v15.5M396.2 36.2v13.2M397.6 41.1v22.0M398.9 38.3v12.2M400.2 39.8v20.4M401.4 43.1v18.6M402.8 40.6v16.9M404.1 38.6v21.6M405.4 48.7v15.0M406.7 37.6v17.6M407.9 39.7v20.6M409.2 39.0v17.3M410.6 38.5v12.9M411.9 43.4v18.4M413.2 46.6v20.8M414.4 44.7v22.8M415.8 41.9v13.4M417.1 35.7v11.0M418.4 41.4v16.3M419.7 50.1v18.9M420.9 37.4v31.0M422.2 38.6v17.1M423.6 46.3v9.2M424.9 40.3v19.4M426.2 41.9v16.5M427.4 37.7v17.4M428.8 48.8v13.6M430.1 42.8v21.2M431.4 44.6v14.2" stroke="#c47cf8" stroke-width="1.50" fill="none" shape-rendering="auto"/>
<path d="M29.6 67.2v1.9M30.9 62.3v1.7M32.2 71.9v2.2M33.5 68.9v2.1M34.9 69.0v3.5M36.1 67.5v2.4M37.5 60.1v3.4M38.8 70.3v1.6M40.0 69.6v0.5M41.4 66.5v4.5M42.6 71.0v2.4M44.0 70.3v1.0M45.2 67.3v4.5M46.5 69.7v1.4M47.9 66.9v0.7M49.2 66.9v1.9M50.5 67.6v3.8M51.8 68.5v2.4M53.0 68.7v3.7M54.4 76.0v0.3M55.7 71.8v0.5M57.0 67.9v0.6M58.2 67.1v1.3M59.5 70.1v1.6M60.9 67.9v1.0M62.1 67.4v1.4M63.5 70.7v1.8M64.8 66.3v3.2M66.1 71.4v0.6M67.3 64.5v3.5M68.7 60.3v6.8M70.0 61.9v2.9M71.2 63.7v1.4M72.6 66.2v3.0M73.8 66.0v6.7M75.2 66.0v2.5M76.5 66.1v1.2M77.8 69.7v1.3M79.1 69.9v0.9M80.3 63.4v4.2M81.7 66.9v1.3M83.0 72.4v1.8M84.2 66.1v3.5M85.6 68.7v1.1M86.8 73.2v0.7M88.2 73.1v1.6M89.5 68.4v2.1M90.8 66.7v0.7M92.1 70.8v1.7M93.4 65.5v1.6M94.7 62.2v0.4M96.0 60.3v4.3M97.2 65.6v1.8M99.9 59.6v1.6M101.2 63.5v0.6M102.5 66.2v3.2M103.8 73.5v1.2M105.0 66.9v2.3M106.4 63.8v0.5M107.7 66.8v1.5M109.0 68.5v0.9M110.2 67.7v0.5M111.5 66.5v4.8M112.9 65.1v1.0M114.2 59.5v1.6M115.5 67.4v0.3M116.8 70.7v2.1M118.0 61.4v1.8M119.4 70.5v1.0M120.7 70.1v0.8M122.0 65.3v4.6M123.2 60.4v0.8M124.5 69.9v3.1M125.9 66.4v1.2M127.2 66.8v2.0M128.4 69.4v4.6M129.8 64.8v3.3M131.1 66.4v3.3M132.4 65.1v1.8M133.7 63.0v3.3M134.9 61.9v2.5M136.2 63.5v0.4M137.6 69.3v1.3M138.9 68.1v1.1M140.2 68.4v1.0M141.4 67.7v3.5M142.8 71.3v0.7M144.1 69.6v1.1M145.4 72.8v0.4M146.7 66.8v3.3M147.9 67.4v2.4M149.2 71.9v0.4M150.6 61.4v1.5M151.9 62.5v0.9M153.2 68.9v0.6M154.4 64.7v3.3M155.8 65.3v3.1M157.1 68.0v1.8M158.3 68.7v2.5M159.7 61.9v0.7M161.0 65.6v5.3M162.2 70.7v0.9M163.6 70.8v0.9M164.8 64.7v3.0M166.2 61.1v2.1M167.5 61.1v2.7M168.8 63.9v1.2M170.1 72.0v0.4M171.3 73.4v0.2M172.7 69.3v0.7M174.0 64.5v1.4M175.2 63.4v2.9M176.6 55.4v1.5M177.8 64.4v1.4M179.2 67.4v1.6M180.5 71.8v1.6M181.8 55.2v14.3M183.1 65.2v2.0M184.3 67.8v1.4M185.7 66.8v2.0M187.0 69.0v1.1M188.2 69.0v1.5M189.6 66.0v5.6M190.8 52.7v0.4M192.2 65.6v0.9M193.5 57.3v1.1M194.8 64.7v3.5M196.1 61.4v1.2M197.3 68.7v2.2M198.7 59.1v1.0M200.0 68.3v0.5M201.2 64.6v0.8M202.6 64.2v2.3M203.8 66.8v2.4M205.2 61.7v2.9M206.5 62.9v2.0M207.8 68.2v1.3M209.1 67.2v2.3M210.3 57.9v11.0M211.7 61.6v1.3M213.0 58.7v1.5M214.2 63.3v1.4M215.6 67.2v1.2M216.8 62.9v5.9M218.2 51.4v9.3M219.5 65.8v0.4M220.8 55.4v2.8M222.1 66.8v0.7M223.3 66.9v0.6M224.7 67.2v0.9M226.0 65.7v1.2M227.2 64.8v2.9M228.6 58.9v1.2M229.8 60.9v2.2M231.2 63.0v2.5M232.5 58.7v0.6M233.8 51.7v2.7M235.1 56.0v1.2M236.3 58.8v6.0M237.7 56.7v13.5M239.0 60.0v1.8M240.2 58.2v1.7M241.6 68.3v0.9M242.8 69.0v0.8M244.2 65.1v0.7M245.5 64.3v5.5M246.8 61.9v1.0M248.1 66.0v2.9M249.3 60.9v0.5M252.0 65.7v2.5M253.2 66.0v3.8M254.6 62.3v1.1M255.8 66.4v0.8M257.1 66.4v2.2M258.5 66.2v2.2M259.8 62.6v5.4M261.1 60.3v0.7M262.4 68.8v0.5M263.6 62.1v3.8M265.0 60.7v4.5M266.2 59.9v0.9M267.6 59.8v0.5M268.9 67.5v2.5M270.1 64.7v1.0M271.5 62.6v3.7M272.8 64.4v1.2M274.1 56.8v1.8M275.4 61.1v4.0M276.6 66.1v1.1M278.0 69.3v2.7M279.2 62.4v1.3M280.6 63.0v1.8M281.9 66.2v2.0M283.1 55.9v7.2M284.5 64.0v0.5M285.8 59.2v10.4M287.1 63.6v5.5M288.4 59.0v12.8M289.7 67.7v1.7M290.9 53.2v0.6M292.2 58.7v3.8M293.6 57.2v4.9M294.9 58.2v1.0M296.2 59.4v5.8M297.4 60.9v0.6M298.8 57.8v2.4M300.1 69.0v2.9M301.4 64.3v4.9M302.7 53.7v1.0M303.9 61.2v0.7M305.2 58.7v4.2M306.6 60.9v3.8M307.9 69.2v1.0M309.2 65.6v1.1M310.4 49.1v3.6M311.8 56.8v7.0M313.1 58.3v5.2M314.4 59.1v3.3M315.7 63.7v1.4M316.9 60.1v1.5M318.2 61.4v7.0M319.6 62.0v4.3M320.9 59.5v0.6M322.2 59.5v2.1M323.4 61.0v7.0M324.8 62.2v3.6M326.1 54.8v3.2M327.4 66.1v1.5M328.7 50.0v4.0M329.9 56.9v1.0M331.2 51.1v1.9M332.6 52.5v4.4M333.9 64.3v1.8M335.2 56.0v0.8M336.4 64.8v1.1M337.8 57.9v3.7M339.1 67.2v3.1M340.4 60.7v3.4M341.7 57.3v3.6M342.9 61.8v1.2M344.2 56.9v3.4M345.6 64.2v4.2M346.9 62.7v1.1M348.2 64.6v3.6M349.4 61.1v2.7M350.8 56.8v1.6M352.1 64.8v4.8M353.4 59.8v4.4M354.7 58.5v8.0M355.9 53.2v17.1M357.2 58.2v7.4M358.6 59.1v3.0M359.9 59.3v4.6M361.2 58.8v1.3M362.4 63.2v2.4M363.8 64.9v0.4M365.1 67.0v2.4M366.4 65.6v0.3M367.7 61.7v0.8M368.9 62.2v2.9M370.2 61.3v0.2M371.6 60.8v1.8M372.9 62.2v0.6M374.2 60.9v3.1M375.4 64.2v1.6M376.8 60.4v4.0M378.1 57.4v6.3M379.4 64.3v4.0M380.7 56.5v2.4M381.9 64.0v2.3M383.2 62.5v1.4M384.6 52.3v8.8M385.9 58.3v4.3M387.2 65.3v1.6M388.4 61.8v3.7M389.8 65.9v1.3M391.1 65.6v0.6M392.4 68.4v1.3M393.7 61.6v1.1M394.9 51.4v1.1M396.2 49.4v3.0M397.6 63.0v0.7M398.9 50.4v2.9M400.2 60.1v4.1M401.4 61.6v3.5M402.8 57.5v2.5M404.1 60.1v2.1M405.4 63.6v6.7M406.7 55.1v4.5M407.9 60.2v1.8M409.2 56.2v1.0M410.6 51.4v5.2M411.9 61.7v3.3M413.2 67.4v1.6M414.4 67.4v1.6M415.8 55.2v2.3M417.1 46.7v2.7M418.4 57.7v12.3M419.7 68.9v1.8M420.9 68.4v1.3M422.2 55.6v1.7M423.6 55.5v6.1M424.9 59.7v1.3M426.2 58.3v1.5M427.4 55.0v1.6M428.8 62.3v0.7M430.1 63.9v0.4M431.4 58.7v1.3" stroke="#d6bcf9" stroke-width="1.50" fill="none" shape-rendering="auto"/>
<path d="M33.5 70.9v0.2M36.1 69.8v0.2M37.5 63.4v0.2M38.8 71.8v0.3M40.0 70.1v0.3M42.6 73.4v0.3M44.0 71.2v0.4M45.2 71.8v0.8M46.5 71.1v0.3M47.9 67.6v0.3M51.8 70.9v0.3M53.0 72.4v0.3M57.0 68.4v0.2M58.2 68.4v0.4M59.5 71.7v0.3M60.9 68.9v0.3M64.8 69.5v0.8M66.1 71.9v0.2M67.3 68.0v0.5M70.0 64.7v0.3M72.6 69.1v0.4M81.7 68.2v0.6M84.2 69.6v0.2M85.6 69.7v0.6M86.8 73.8v0.2M90.8 67.4v0.4M96.0 64.5v0.3M98.5 68.9v0.3M101.2 64.0v0.2M102.5 69.3v0.2M116.8 72.8v0.3M119.4 71.5v0.5M120.7 70.9v0.5M122.0 69.9v1.0M127.2 68.7v0.2M128.4 74.0v0.8M129.8 68.0v0.2M131.1 69.7v0.6M150.6 62.8v0.2M151.9 63.3v0.5M158.3 71.1v0.2M167.5 63.7v0.6M168.8 65.1v0.4M171.3 73.6v0.3M176.6 56.9v0.7M183.1 67.1v0.2M194.8 68.2v0.3M198.7 60.0v0.2M200.0 68.8v0.3M205.2 64.5v0.6M206.5 64.8v0.2M207.8 69.4v0.5M209.1 69.4v0.4M213.0 60.2v0.2M220.8 58.2v0.3M222.1 67.5v0.9M223.3 67.4v0.2M224.7 68.1v0.3M226.0 66.9v0.5M227.2 67.6v1.2M228.6 60.1v0.5M229.8 63.1v0.2M237.7 70.1v0.7M239.0 61.8v0.2M241.6 69.1v1.1M245.5 69.8v0.5M248.1 68.9v0.3M249.3 61.3v0.7M250.7 70.3v0.2M253.2 69.8v0.5M254.6 63.3v0.3M257.1 68.5v0.2M262.4 69.3v0.4M263.6 65.9v0.4M266.2 60.7v0.2M267.6 60.2v0.5M268.9 70.0v0.2M274.1 58.5v0.3M275.4 65.1v0.3M276.6 67.2v0.3M278.0 72.0v0.3M279.2 63.7v0.4M280.6 64.7v0.3M281.9 68.1v0.6M284.5 64.5v0.2M287.1 69.1v0.4M288.4 71.8v0.5M292.2 62.5v0.3M293.6 62.0v0.2M296.2 65.1v0.3M297.4 61.5v0.7M298.8 60.1v0.4M300.1 71.9v0.3M303.9 61.9v0.5M305.2 62.9v2.1M306.6 64.7v0.4M309.2 66.6v1.7M311.8 63.7v0.4M315.7 65.1v0.2M318.2 68.3v0.2M320.9 60.1v0.2M332.6 56.8v0.3M333.9 66.1v0.2M336.4 65.8v0.2M345.6 68.4v0.3M346.9 63.7v0.3M348.2 68.2v0.6M355.9 70.2v0.6M357.2 65.5v0.3M358.6 62.1v0.5M359.9 63.9v0.3M361.2 60.0v0.5M362.4 65.6v0.6M363.8 65.2v0.6M367.7 62.4v0.4M368.9 65.1v0.4M375.4 65.8v0.3M380.7 58.8v0.6M381.9 66.2v0.3M383.2 63.9v0.2M384.6 61.0v0.3M385.9 62.5v0.3M388.4 65.4v0.2M398.9 53.3v0.6M402.8 60.0v0.3M404.1 62.2v0.4M405.4 70.3v0.5M407.9 62.0v0.3M413.2 68.9v0.2M414.4 68.9v0.2M417.1 49.4v0.2M422.2 57.3v0.4M423.6 61.5v0.2M431.4 59.9v0.7" stroke="#ea1a22" stroke-width="1.50" fill="none" shape-rendering="auto"/>
<path d="M29.6 69.0v4.7M30.9 64.0v8.6M32.2 74.2v1.0M33.5 71.1v2.5M34.9 72.5v1.2M36.1 70.0v3.9M37.5 63.6v1.8M38.8 72.0v0.5M40.0 70.3v0.8M41.4 71.1v0.9M42.6 73.6v1.2M44.0 71.5v3.8M45.2 72.5v1.5M46.5 71.3v3.6M47.9 67.8v4.2M49.2 68.8v1.5M50.5 71.5v1.6M51.8 71.2v0.5M53.0 72.6v1.4M54.4 76.3v0.5M55.7 72.3v1.9M57.0 68.6v3.1M58.2 68.7v0.3M59.5 71.9v2.3M60.9 69.1v2.0M62.1 68.8v3.0M63.5 72.6v2.5M64.8 70.3v1.6M66.1 72.1v0.9M67.3 68.5v1.5M68.7 67.2v0.6M70.0 65.0v2.6M71.2 65.1v7.3M72.6 69.4v2.2M73.8 72.7v0.4M75.2 68.5v2.2M76.5 67.3v8.1M77.8 70.9v1.4M79.1 70.9v2.4M80.3 67.6v2.8M81.7 68.8v3.6M83.0 74.3v1.7M84.2 69.7v2.5M85.6 70.3v0.9M86.8 74.0v1.0M88.2 74.8v1.4M89.5 70.5v3.2M90.8 67.8v1.3M92.1 72.6v0.4M93.4 67.2v0.3M94.7 62.6v2.7M96.0 64.8v0.5M97.2 67.4v5.3M98.5 69.2v2.6M99.9 61.2v5.7M101.2 64.2v6.9M102.5 69.5v3.1M103.8 74.6v1.3M105.0 69.2v4.4M106.4 64.3v5.8M107.7 68.4v1.6M109.0 69.4v3.3M110.2 68.3v2.6M111.5 71.3v1.9M112.9 66.0v6.3M114.2 61.3v9.9M115.5 67.8v3.2M116.8 73.0v0.6M118.0 63.2v3.7M119.4 71.9v4.0M120.7 71.3v4.2M122.0 70.8v2.4M123.2 61.3v11.5M124.5 73.1v1.6M125.9 67.6v1.4M127.2 68.9v1.0M128.4 74.8v0.8M129.8 68.2v1.7M131.1 70.2v3.9M132.4 67.0v3.9M133.7 66.3v7.2M134.9 64.4v9.5M136.2 63.8v9.4M137.6 70.7v1.5M138.9 69.2v4.5M140.2 69.4v2.9M141.4 71.2v4.8M142.8 72.0v1.5M144.1 70.7v1.1M145.4 73.3v0.8M146.7 70.2v1.7M147.9 69.8v1.8M149.2 72.2v2.1M150.6 63.0v5.1M151.9 63.8v3.3M153.2 69.6v4.4M154.4 68.1v1.5M155.8 68.4v3.7M157.1 69.8v2.9M158.3 71.3v1.5M159.7 62.6v5.5M161.0 70.9v1.3M162.2 71.7v0.4M163.6 71.7v0.9M164.8 67.6v6.8M166.2 63.2v3.7M167.5 64.2v3.2M168.8 65.4v0.8M170.1 72.4v2.2M171.3 73.8v1.3M172.7 70.0v1.7M174.0 65.9v3.6M175.2 66.3v1.0M176.6 57.5v9.1M177.8 65.9v4.3M179.2 69.0v4.7M180.5 73.5v0.4M181.8 69.6v1.5M183.1 67.3v5.6M184.3 69.2v0.4M185.7 68.8v3.5M187.0 70.1v1.1M188.2 70.6v1.5M189.6 71.6v2.4M190.8 53.1v21.5M192.2 66.6v0.8M193.5 58.5v6.9M194.8 68.4v2.0M196.1 62.6v0.7M197.3 70.9v5.4M198.7 60.1v10.7M200.0 69.1v4.0M201.2 65.5v3.2M202.6 66.5v4.5M203.8 69.2v2.8M205.2 65.0v5.5M206.5 65.0v6.5M207.8 69.8v2.2M209.1 69.8v3.3M210.3 69.0v1.5M211.7 62.9v1.6M213.0 60.4v4.0M214.2 64.7v1.6M215.6 68.4v2.2M216.8 68.8v3.7M218.2 60.7v4.7M219.5 66.3v0.8M220.8 58.4v0.4M222.1 68.4v1.3M223.3 67.6v3.2M224.7 68.3v2.2M226.0 67.4v3.0M227.2 68.8v1.8M228.6 60.6v7.4M229.8 63.2v8.6M231.2 65.7v3.1M232.5 59.3v11.7M233.8 54.4v18.2M235.1 57.3v7.6M236.3 64.8v6.6M237.7 70.8v3.1M239.0 62.0v9.2M240.2 59.9v11.4M241.6 70.2v1.6M242.8 69.8v1.4M244.2 65.9v3.2M245.5 70.2v1.7M246.8 63.0v1.2M248.1 69.1v0.5M249.3 62.0v0.9M250.7 70.5v0.9M252.0 68.3v0.9M253.2 70.2v2.6M254.6 63.6v3.6M255.8 67.3v2.2M257.1 68.7v1.2M258.5 68.5v2.2M259.8 68.0v2.2M261.1 61.1v5.8M262.4 69.6v2.3M263.6 66.2v2.6M265.0 65.2v2.6M266.2 60.9v3.7M267.6 60.7v3.8M268.9 70.1v3.4M270.1 65.8v0.5M271.5 66.3v0.2M272.8 65.6v2.0M274.1 58.8v9.2M275.4 65.3v0.9M276.6 67.5v2.1M278.0 72.2v1.8M279.2 64.0v9.3M280.6 65.0v1.9M281.9 68.6v0.9M283.1 63.1v7.1M284.5 64.7v7.8M285.8 69.7v3.8M287.1 69.4v0.9M288.4 72.3v2.1M289.7 69.4v2.4M290.9 53.9v17.3M292.2 62.7v8.7M293.6 62.2v2.4M294.9 59.3v1.8M296.2 65.4v2.0M297.4 62.2v2.7M298.8 60.5v9.0M300.1 72.2v1.4M301.4 69.3v1.6M302.7 54.8v16.6M303.9 62.3v9.7M305.2 64.9v8.0M306.6 65.0v2.4M307.9 70.2v0.7M309.2 68.3v1.3M310.4 52.7v17.6M311.8 64.1v4.7M313.1 63.6v4.1M314.4 62.4v3.1M315.7 65.3v4.3M316.9 61.7v2.9M318.2 68.5v7.0M319.6 66.4v1.6M320.9 60.3v2.5M322.2 61.7v8.7M323.4 68.1v1.1M324.8 65.7v1.7M326.1 58.0v15.9M327.4 67.7v2.0M328.7 54.0v10.1M329.9 57.9v11.3M331.2 53.0v15.1M332.6 57.1v13.4M333.9 66.3v3.9M335.2 56.8v5.9M336.4 66.0v2.0M337.8 61.6v1.3M339.1 70.3v0.5M340.4 64.2v2.1M341.7 61.0v2.5M342.9 63.1v1.6M344.2 60.4v2.8M345.6 68.6v0.8M346.9 64.0v3.9M348.2 68.7v3.3M349.4 63.8v5.2M350.8 58.4v10.6M352.1 69.5v5.3M353.4 64.2v2.9M354.7 66.7v7.3M355.9 70.8v2.2M357.2 65.7v5.5M358.6 62.5v6.9M359.9 64.1v1.7M361.2 60.5v6.7M362.4 66.1v3.1M363.8 65.7v1.6M365.1 69.5v1.4M366.4 66.0v1.6M367.7 62.7v0.5M368.9 65.4v4.0M370.2 61.5v10.4M371.6 62.7v1.3M372.9 62.8v2.5M374.2 64.0v1.8M375.4 66.0v2.6M376.8 64.4v4.6M378.1 63.7v7.6M379.4 68.2v2.6M380.7 59.3v2.9M381.9 66.4v3.3M383.2 64.1v1.1M384.6 61.2v1.4M385.9 62.7v5.2M387.2 67.0v2.9M388.4 65.6v1.3M389.8 67.2v1.3M391.1 66.3v2.6M392.4 69.7v2.7M393.7 62.8v3.5M394.9 52.5v11.8M396.2 52.3v6.7M397.6 63.9v6.2M398.9 53.8v2.7M400.2 64.3v1.3M401.4 65.2v5.0M402.8 60.3v8.1M404.1 62.6v5.8M405.4 70.8v2.1M406.7 59.6v2.4M407.9 62.2v5.8M409.2 57.2v5.0M410.6 56.5v8.8M411.9 65.1v1.2M413.2 69.0v1.2M414.4 69.1v2.3M415.8 57.5v7.5M417.1 49.5v17.6M418.4 69.9v1.3M419.7 70.7v2.0M420.9 69.7v2.2M422.2 57.7v5.3M423.6 61.6v7.7M424.9 61.0v6.9M426.2 59.9v7.4M427.4 56.6v14.8M428.8 63.0v7.3M430.1 64.4v3.1M431.4 60.5v15.6" stroke="#ffb870" stroke-width="1.50" fill="none" shape-rendering="auto"/>
<path d="M29.6 73.7v1.3M30.9 72.6v0.5M32.2 75.1v1.3M33.5 73.5v1.0M34.9 73.7v1.7M36.1 73.9v1.0M37.5 65.4v8.0M38.8 72.5v1.3M40.0 71.1v0.5M41.4 72.0v1.8M42.6 74.7v0.4M44.0 75.3v0.7M45.2 73.9v1.2M46.5 74.9v0.4M47.9 71.9v2.6M49.2 70.3v1.3M50.5 73.1v1.3M51.8 71.6v0.7M53.0 73.9v1.4M54.4 76.8v0.8M55.7 74.2v1.4M57.0 71.6v1.0M58.2 69.0v0.4M59.5 74.2v0.3M60.9 71.1v0.7M62.1 71.7v0.6M63.5 75.0v0.5M64.8 71.8v1.0M66.1 72.9v0.7M67.3 69.9v1.8M68.7 67.8v1.5M70.0 67.6v4.3M71.2 72.3v1.5M72.6 71.6v0.9M73.8 73.1v0.9M75.2 70.7v0.4M77.8 72.3v0.7M79.1 73.2v0.6M80.3 70.4v2.7M81.7 72.3v0.3M83.0 76.0v0.8M84.2 72.2v0.6M85.6 71.1v1.2M86.8 74.9v0.8M88.2 76.1v1.2M89.5 73.6v0.4M90.8 69.0v0.7M92.1 73.0v3.5M93.4 67.4v1.9M94.7 65.2v0.6M96.0 65.2v4.7M97.2 72.6v0.7M98.5 71.7v0.2M99.9 66.9v2.6M101.2 71.1v1.5M102.5 72.5v3.1M103.8 75.9v0.7M105.0 73.6v1.5M106.4 70.0v1.0M107.7 70.0v1.3M109.0 72.7v0.6M110.2 70.8v2.5M111.5 73.1v0.2M112.9 72.3v1.7M114.2 71.1v0.5M115.5 71.0v0.8M116.8 73.5v0.7M118.0 66.8v7.0M119.4 75.9v0.8M120.7 75.4v0.4M122.0 73.2v0.5M123.2 72.7v1.0M125.9 69.0v0.5M127.2 69.8v3.8M128.4 75.5v1.5M129.8 69.8v0.8M131.1 74.1v0.6M133.7 73.5v0.7M134.9 73.8v1.1M136.2 73.1v0.3M138.9 73.6v0.3M140.2 72.2v0.3M141.4 75.9v0.5M142.8 73.5v1.0M144.1 71.8v3.5M145.4 74.1v1.5M146.7 71.8v0.6M147.9 71.5v3.3M150.6 68.1v0.4M151.9 67.0v0.6M153.2 74.0v0.5M154.4 69.5v0.4M155.8 72.1v2.3M157.1 72.6v0.8M158.3 72.7v0.7M159.7 68.1v0.5M161.0 72.2v0.6M162.2 72.1v0.7M163.6 72.5v0.5M166.2 66.8v8.3M167.5 67.4v1.9M168.8 66.1v5.7M170.1 74.6v0.6M171.3 75.1v0.7M172.7 71.6v0.6M174.0 69.4v0.2M175.2 67.3v1.4M176.6 66.5v0.9M179.2 73.7v0.3M180.5 73.8v0.6M181.8 71.0v0.7M183.1 72.8v1.6M184.3 69.6v0.9M185.7 72.3v0.4M187.0 71.1v0.4M188.2 72.0v1.1M189.6 73.9v1.1M190.8 74.6v0.6M192.2 67.3v1.7M193.5 65.4v0.6M194.8 70.3v1.1M196.1 63.3v0.4M197.3 76.3v0.3M198.7 70.8v0.6M200.0 73.1v1.4M201.2 68.7v0.6M202.6 70.9v0.8M203.8 72.0v0.4M205.2 70.5v0.9M206.5 71.5v0.8M207.8 72.0v1.8M209.1 73.1v1.6M210.3 70.4v2.6M211.7 64.5v0.2M213.0 64.3v2.1M214.2 66.3v0.4M215.6 70.5v1.2M216.8 72.5v1.5M218.2 65.3v6.7M219.5 67.0v1.5M220.8 58.8v0.5M222.1 69.6v0.6M223.3 70.8v0.5M224.7 70.4v0.7M226.0 70.3v0.5M227.2 70.5v1.4M228.6 67.9v1.7M231.2 68.7v0.7M232.5 71.0v0.8M233.8 72.6v0.9M235.1 64.8v2.1M236.3 71.4v0.5M237.7 73.8v1.3M239.0 71.2v0.4M240.2 71.3v0.6M241.6 71.7v0.2M242.8 71.2v0.5M244.2 69.0v2.1M245.5 71.8v1.6M246.8 64.1v1.0M248.1 69.6v1.2M249.3 62.8v0.8M250.7 71.3v0.7M252.0 69.1v1.6M253.2 72.8v1.1M254.6 67.2v0.3M255.8 69.5v1.0M257.1 69.8v0.3M258.5 70.6v0.7M259.8 70.2v0.5M261.1 66.8v0.3M262.4 71.9v0.7M263.6 68.8v1.7M265.0 67.8v1.9M266.2 64.5v0.5M267.6 64.5v0.5M268.9 73.5v1.2M270.1 66.2v1.7M271.5 66.5v1.5M272.8 67.6v2.7M274.1 67.9v2.8M275.4 66.1v0.7M276.6 69.5v2.1M278.0 74.0v0.3M279.2 73.2v0.3M280.6 66.9v0.6M281.9 69.5v0.8M283.1 70.1v1.4M284.5 72.4v0.8M285.8 73.5v0.3M287.1 70.3v0.4M288.4 74.3v0.6M289.7 71.8v0.7M290.9 71.2v1.0M292.2 71.3v1.3M293.6 64.5v2.8M294.9 61.0v3.0M296.2 67.4v0.7M297.4 64.8v1.3M298.8 69.5v0.3M302.7 71.4v2.4M303.9 71.9v1.1M305.2 72.8v0.2M306.6 67.4v0.9M307.9 70.8v0.8M309.2 69.5v1.7M310.4 70.3v0.8M311.8 68.7v2.1M313.1 67.6v0.3M314.4 65.4v0.7M315.7 69.5v1.5M316.9 64.5v0.5M318.2 75.4v0.5M320.9 62.7v1.8M322.2 70.4v0.4M323.4 69.2v0.2M324.8 67.4v2.1M326.1 73.9v1.2M327.4 69.7v1.2M328.7 64.1v4.7M329.9 69.2v1.9M331.2 68.1v1.5M332.6 70.4v0.6M333.9 70.1v0.7M335.2 62.7v1.2M336.4 68.0v1.7M337.8 62.8v0.9M339.1 70.7v0.6M340.4 66.3v1.0M341.7 63.4v1.1M342.9 64.6v0.3M344.2 63.2v0.8M345.6 69.4v0.6M346.9 67.8v0.6M348.2 72.0v0.5M349.4 68.9v0.9M350.8 69.0v1.6M352.1 74.8v0.9M353.4 67.0v0.4M354.7 73.9v0.6M355.9 73.0v1.7M357.2 71.2v1.2M358.6 69.4v0.4M359.9 65.8v1.2M361.2 67.2v1.2M362.4 69.2v2.3M363.8 67.3v1.2M365.1 70.9v3.4M366.4 67.5v0.6M367.7 63.2v1.2M368.9 69.3v0.7M370.2 71.9v1.1M371.6 64.0v0.9M372.9 65.3v1.8M375.4 68.6v1.6M376.8 69.0v3.9M378.1 71.2v0.7M379.4 70.8v0.9M380.7 62.2v0.3M381.9 69.7v0.8M383.2 65.1v1.4M384.6 62.6v0.7M385.9 67.8v0.4M387.2 69.8v0.5M388.4 66.9v1.7M389.8 68.4v1.0M391.1 68.8v2.1M392.4 72.3v1.1M393.7 66.2v2.0M394.9 64.2v2.1M396.2 59.0v0.6M397.6 70.0v0.4M398.9 56.5v2.2M400.2 65.5v0.9M401.4 70.1v0.8M402.8 68.3v0.6M404.1 68.4v1.0M405.4 72.8v0.5M406.7 62.0v0.2M407.9 68.0v0.6M409.2 62.1v1.8M410.6 65.2v1.0M411.9 66.3v1.3M413.2 70.2v1.5M414.4 71.4v2.0M415.8 64.9v2.3M417.1 67.1v3.4M418.4 71.2v2.1M422.2 62.9v0.7M423.6 69.3v0.6M424.9 67.9v0.4M426.2 67.3v0.6M427.4 71.3v0.5M428.8 70.3v1.7M430.1 67.5v1.2" stroke="#d6f9ca" stroke-width="1.50" fill="none" shape-rendering="auto"/>
<path d="M29.6 75.0v0.7M30.9 73.0v0.6M32.2 76.3v0.3M33.5 74.5v0.3M34.9 75.3v0.3M36.1 74.8v0.4M37.5 73.3v0.7M38.8 73.7v0.3M42.6 75.0v0.4M44.0 75.9v0.8M45.2 75.0v0.8M46.5 75.2v0.4M47.9 74.4v0.2M49.2 71.5v0.7M50.5 74.4v0.2M51.8 72.2v0.2M53.0 75.3v0.5M54.4 77.6v0.2M57.0 72.6v1.5M58.2 69.3v0.6M59.5 74.5v1.7M60.9 71.7v1.7M62.1 72.3v2.4M63.5 75.5v1.3M64.8 72.8v0.5M66.1 73.6v0.4M67.3 71.7v0.3M68.7 69.3v2.8M70.0 71.8v0.3M72.6 72.5v1.5M75.2 71.0v0.8M77.8 73.0v0.6M79.1 73.7v0.2M80.3 73.1v0.5M81.7 72.5v1.2M83.0 76.7v0.4M84.2 72.8v0.5M85.6 72.3v1.1M86.8 75.7v0.3M88.2 77.3v0.3M89.5 73.9v0.3M90.8 69.6v2.4M92.1 76.4v0.5M93.4 69.3v3.1M94.7 65.7v0.5M96.0 69.8v1.1M97.2 73.2v0.8M98.5 71.9v0.6M99.9 69.4v1.0M101.2 72.5v0.2M102.5 75.5v0.3M103.8 76.6v0.6M105.0 75.0v0.4M106.4 70.9v1.1M107.7 71.2v1.1M109.0 73.2v0.6M110.2 73.3v0.3M111.5 73.3v0.8M112.9 74.0v0.8M114.2 71.5v1.1M115.5 71.7v0.6M116.8 74.1v0.3M120.7 75.8v0.2M122.0 73.6v0.3M125.9 69.4v0.3M127.2 73.5v0.2M128.4 77.0v0.4M129.8 70.6v0.3M131.1 74.6v0.4M132.4 70.9v2.3M133.7 74.1v0.8M134.9 74.9v0.2M136.2 73.4v0.8M137.6 72.3v0.4M138.9 73.8v0.4M140.2 72.5v0.7M141.4 76.4v0.8M142.8 74.5v1.6M144.1 75.2v0.9M146.7 72.3v1.5M147.9 74.8v0.3M151.9 67.6v0.5M153.2 74.4v0.5M154.4 69.9v2.2M155.8 74.4v0.7M157.1 73.3v0.3M158.3 73.4v0.3M161.0 72.8v0.7M162.2 72.7v0.7M163.6 73.0v0.3M164.8 74.5v0.2M166.2 75.1v0.4M167.5 69.3v0.3M171.3 75.7v0.2M172.7 72.2v0.5M174.0 69.5v0.3M176.6 67.4v0.3M177.8 70.2v0.4M179.2 73.9v0.3M181.8 71.7v0.5M183.1 74.4v0.4M184.3 70.5v0.4M185.7 72.6v0.3M187.0 71.5v1.4M188.2 73.1v0.6M189.6 74.9v0.3M190.8 75.2v0.7M192.2 68.9v2.3M193.5 65.9v0.4M194.8 71.4v3.2M196.1 63.7v0.9M197.3 76.6v0.3M198.7 71.3v2.6M201.2 69.2v0.7M202.6 71.6v0.3M203.8 72.4v0.3M205.2 71.3v0.5M206.5 72.2v2.2M207.8 73.7v0.8M209.1 74.7v2.1M210.3 73.0v0.7M211.7 64.7v0.5M214.2 66.6v0.2M215.6 71.7v0.6M216.8 73.9v0.4M218.2 72.0v0.5M219.5 68.5v1.1M220.8 59.2v3.9M222.1 70.2v0.9M223.3 71.3v1.5M224.7 71.0v0.3M227.2 71.8v0.8M229.8 71.9v1.2M231.2 69.4v0.5M232.5 71.7v0.2M235.1 66.8v0.5M236.3 71.9v0.3M237.7 75.0v0.3M241.6 71.9v0.4M242.8 71.6v2.1M244.2 71.0v0.4M245.5 73.3v0.3M246.8 65.1v0.3M248.1 70.7v0.5M249.3 63.6v0.4M250.7 71.9v0.8M252.0 70.7v0.3M253.2 73.8v0.7M254.6 67.4v0.8M255.8 70.5v0.8M257.1 70.1v1.2M258.5 71.3v1.3M259.8 70.6v2.4M261.1 67.0v0.3M262.4 72.5v0.4M263.6 70.4v1.5M265.0 69.7v0.2M268.9 74.6v0.6M270.1 67.8v2.1M271.5 67.9v0.6M272.8 70.2v0.3M274.1 70.7v0.9M276.6 71.5v0.5M278.0 74.2v0.4M279.2 73.4v0.5M280.6 67.4v0.8M281.9 70.2v1.1M283.1 71.4v0.9M284.5 73.2v0.6M285.8 73.7v0.2M287.1 70.6v0.5M288.4 74.9v0.2M289.7 72.4v0.9M290.9 72.1v0.4M292.2 72.5v1.0M293.6 67.3v2.4M294.9 64.0v0.4M296.2 68.1v1.0M297.4 66.1v0.5M300.1 73.6v0.5M301.4 70.9v1.4M302.7 73.8v1.2M303.9 73.0v0.4M305.2 73.0v0.3M306.6 68.2v0.9M307.9 71.6v1.1M309.2 71.2v1.3M310.4 71.0v4.0M311.8 70.8v0.4M313.1 67.9v0.8M314.4 66.1v0.6M315.7 71.0v0.7M316.9 64.9v0.5M322.2 70.7v0.4M323.4 69.4v0.6M324.8 69.5v0.3M327.4 70.9v0.5M328.7 68.7v1.9M329.9 71.1v0.8M331.2 69.6v2.7M332.6 70.9v0.3M333.9 70.7v0.4M336.4 69.7v0.4M337.8 63.7v0.2M339.1 71.3v0.6M340.4 67.2v0.6M341.7 64.4v2.2M342.9 64.9v0.4M345.6 69.9v0.4M348.2 72.4v0.4M349.4 69.7v1.0M350.8 70.6v0.5M352.1 75.6v0.3M353.4 67.4v0.6M354.7 74.5v0.3M355.9 74.6v0.3M357.2 72.4v0.5M358.6 69.7v0.3M361.2 68.4v0.2M363.8 68.4v0.4M365.1 74.3v0.2M366.4 68.1v0.2M367.7 64.4v1.5M368.9 69.9v0.2M370.2 73.0v0.2M371.6 64.8v0.2M372.9 67.1v0.8M374.2 65.9v1.4M375.4 70.2v0.3M378.1 71.8v0.3M379.4 71.6v0.5M380.7 62.4v0.4M381.9 70.5v0.4M383.2 66.5v1.4M385.9 68.2v0.2M387.2 70.2v1.0M388.4 68.5v0.4M389.8 69.4v0.4M391.1 70.9v0.3M392.4 73.4v0.3M393.7 68.1v0.5M396.2 59.5v0.5M398.9 58.7v0.8M400.2 66.4v0.6M401.4 70.9v0.2M404.1 69.3v1.3M405.4 73.2v0.2M406.7 62.2v0.2M407.9 68.5v0.6M409.2 63.9v0.8M413.2 71.6v0.2M414.4 73.4v0.5M418.4 73.3v0.4M419.7 72.8v1.0M420.9 71.9v0.4M422.2 63.5v0.6M423.6 69.8v0.6M424.9 68.2v0.8M427.4 71.8v0.3M428.8 72.0v0.2M430.1 68.6v0.3M431.4 76.2v0.3" stroke="#ffbff2" stroke-width="1.50" fill="none" shape-rendering="auto"/>
<path d="M33.5 74.8v0.3M36.1 75.2v0.3M37.5 74.0v0.2M40.0 71.6v0.9M41.4 73.8v0.2M42.6 75.4v0.6M44.0 76.7v0.4M45.2 75.7v0.3M46.5 75.6v0.3M47.9 74.5v0.3M49.2 72.2v0.2M51.8 72.4v0.2M53.0 75.7v0.3M57.0 74.0v0.2M58.2 69.9v0.4M59.5 76.1v1.0M60.9 73.3v0.6M62.1 74.7v0.7M63.5 76.8v0.7M64.8 73.2v1.4M66.1 74.0v0.5M67.3 71.9v0.4M70.0 72.0v0.2M71.2 74.0v0.6M72.6 73.9v0.3M73.8 74.1v0.2M76.5 75.5v0.5M77.8 73.5v0.5M79.1 73.9v0.3M85.6 73.4v0.2M89.5 74.1v0.3M90.8 72.0v0.8M92.1 76.9v0.3M93.4 72.3v0.7M94.7 66.2v0.5M96.0 70.9v2.3M97.2 74.0v1.1M98.5 72.4v0.6M99.9 70.4v0.5M101.2 72.7v0.8M102.5 75.8v0.3M103.8 77.1v0.3M107.7 72.2v0.4M109.0 73.8v1.2M110.2 73.6v0.4M112.9 74.7v0.2M114.2 72.5v0.5M115.5 72.3v0.7M116.8 74.4v0.9M119.4 76.7v0.3M120.7 76.0v0.3M123.2 73.8v0.4M124.5 74.9v0.6M125.9 69.7v4.1M127.2 73.7v1.2M128.4 77.3v0.6M129.8 70.8v2.1M131.1 74.9v0.7M132.4 73.2v1.9M133.7 74.9v0.5M134.9 75.1v1.5M136.2 74.1v1.7M137.6 72.6v1.5M138.9 74.1v1.4M140.2 73.1v0.7M141.4 77.1v0.2M145.4 75.6v0.4M146.7 73.8v0.6M151.9 68.1v0.6M153.2 74.8v0.6M157.1 73.6v0.6M158.3 73.7v0.2M159.7 68.7v0.4M161.0 73.5v0.2M162.2 73.3v0.6M163.6 73.2v0.4M164.8 74.7v0.5M166.2 75.5v0.3M167.5 69.5v0.5M172.7 72.6v0.5M174.0 69.8v0.3M175.2 68.7v0.6M176.6 67.6v0.6M177.8 70.5v0.4M179.2 74.1v0.3M183.1 74.7v0.3M184.3 70.8v0.7M185.7 72.9v0.3M187.0 72.8v0.3M188.2 73.6v0.7M189.6 75.2v0.3M190.8 75.8v0.4M192.2 71.2v0.7M194.8 74.5v0.6M196.1 64.6v0.5M197.3 76.9v0.3M200.0 74.5v0.3M201.2 69.9v0.3M205.2 71.7v0.2M210.3 73.7v0.8M213.0 66.5v0.3M214.2 66.8v0.7M215.6 72.2v0.5M219.5 69.5v0.5M227.2 72.6v0.2M228.6 69.7v0.2M229.8 73.1v0.2M231.2 69.8v0.6M233.8 73.5v0.4M235.1 67.3v1.2M236.3 72.2v0.4M237.7 75.3v0.4M239.0 71.6v0.3M240.2 71.9v0.3M244.2 71.3v0.5M245.5 73.5v0.3M246.8 65.3v0.8M250.7 72.6v0.4M252.0 71.0v0.8M253.2 74.5v1.1M255.8 71.2v0.7M257.1 71.3v0.4M258.5 72.6v0.4M261.1 67.3v0.5M262.4 72.8v0.6M263.6 71.9v1.0M265.0 69.8v1.1M266.2 65.0v0.6M267.6 65.0v0.3M268.9 75.2v0.2M270.1 69.9v0.3M271.5 68.5v2.2M272.8 70.5v0.8M274.1 71.5v0.4M275.4 66.9v0.4M276.6 72.0v0.2M278.0 74.6v0.2M279.2 73.9v0.4M284.5 73.7v0.2M287.1 71.1v0.2M288.4 75.1v0.5M290.9 72.5v0.6M292.2 73.5v0.2M293.6 69.6v0.3M294.9 64.4v0.2M297.4 66.6v0.6M301.4 72.3v1.6M302.7 74.9v0.4M303.9 73.3v0.3M305.2 73.2v0.5M306.6 69.1v0.3M307.9 72.7v0.6M309.2 72.4v0.8M310.4 75.0v0.3M311.8 71.1v0.3M313.1 68.6v2.9M314.4 66.7v1.3M315.7 71.6v1.1M316.9 65.3v1.2M318.2 76.0v0.4M319.6 68.2v1.5M320.9 64.6v0.9M322.2 71.1v0.5M323.4 69.9v0.5M324.8 69.7v0.3M326.1 75.2v0.6M327.4 71.4v0.3M328.7 70.5v0.3M329.9 71.9v0.3M331.2 72.2v0.2M335.2 63.9v0.6M336.4 70.0v0.4M340.4 67.8v0.4M341.7 66.6v0.2M344.2 64.0v0.4M346.9 68.4v0.3M349.4 70.6v0.3M350.8 71.0v0.5M352.1 75.8v0.7M353.4 67.9v0.5M354.7 74.7v0.3M355.9 74.9v0.3M357.2 72.8v0.3M358.6 69.9v0.3M363.8 68.8v0.2M365.1 74.4v0.4M366.4 68.3v0.2M367.7 65.8v0.2M368.9 70.1v0.8M371.6 65.0v0.4M372.9 67.8v0.3M375.4 70.4v0.5M378.1 72.0v0.4M379.4 72.1v0.3M380.7 62.8v0.6M385.9 68.4v0.2M387.2 71.2v0.3M389.8 69.7v0.5M392.4 73.6v0.8M393.7 68.6v0.9M394.9 66.3v0.5M400.2 66.9v0.6M402.8 69.0v1.1M404.1 70.6v0.8M405.4 73.4v0.3M406.7 62.4v0.6M407.9 69.1v0.2M409.2 64.6v0.3M410.6 66.3v0.2M411.9 67.6v0.3M413.2 71.8v1.0M414.4 73.9v0.3M415.8 67.2v0.3M417.1 70.4v0.4M418.4 73.6v0.2M419.7 73.8v0.3M420.9 72.2v0.2M422.2 64.0v0.4M424.9 69.0v3.2M426.2 67.9v1.2M427.4 72.0v0.2M428.8 72.2v0.6M430.1 68.8v0.3" stroke="#45d528" stroke-width="1.50" fill="none" shape-rendering="auto"/>
<path d="M29.6 75.7v0.7M30.9 73.7v1.0M32.2 76.7v0.8M33.5 75.0v2.5M34.9 75.7v2.2M36.1 75.5v2.1M37.5 74.1v1.9M38.8 74.1v1.6M40.0 72.5v2.7M41.4 73.9v1.0M42.6 75.9v1.1M44.0 77.1v0.9M45.2 75.9v1.7M46.5 75.9v2.1M47.9 74.8v2.1M49.2 72.3v2.0M50.5 74.6v1.8M51.8 72.6v2.5M53.0 76.0v1.5M54.4 77.8v1.1M55.7 75.7v1.6M57.0 74.1v3.2M58.2 70.3v5.1M59.5 77.1v1.7M60.9 73.8v2.7M62.1 75.3v1.9M63.5 77.5v0.7M64.8 74.6v1.8M66.1 74.4v1.2M67.3 72.2v2.4M68.7 72.2v3.3M70.0 72.2v0.4M71.2 74.5v1.3M72.6 74.1v2.4M73.8 74.3v2.3M75.2 71.9v1.0M76.5 75.9v1.6M77.8 74.0v2.1M79.1 74.1v2.4M80.3 73.6v0.9M81.7 73.7v0.7M83.0 77.1v0.9M84.2 73.3v1.8M85.6 73.6v1.1M86.8 76.0v1.1M88.2 77.5v0.6M89.5 74.4v2.6M90.8 72.7v2.1M92.1 77.1v0.8M93.4 73.0v1.8M94.7 66.7v3.6M96.0 73.2v1.3M97.2 75.0v1.3M98.5 73.0v2.7M99.9 70.8v1.7M101.2 73.5v2.9M102.5 76.0v0.8M103.8 77.3v0.6M105.0 75.5v0.8M106.4 72.0v1.7M107.7 72.6v0.9M109.0 74.9v1.4M110.2 73.9v2.0M111.5 74.2v1.5M112.9 74.9v1.4M114.2 73.0v1.5M115.5 72.9v4.6M116.8 75.2v1.2M118.0 74.0v1.5M119.4 76.9v1.2M120.7 76.2v1.3M122.0 73.9v2.6M123.2 74.1v1.2M124.5 75.4v0.9M125.9 73.8v1.9M127.2 74.9v1.8M128.4 77.8v0.9M129.8 72.9v1.8M131.1 75.5v1.3M132.4 75.1v1.2M133.7 75.3v0.7M134.9 76.5v1.1M136.2 75.7v1.8M137.6 74.0v2.7M138.9 75.5v1.2M140.2 73.8v1.8M141.4 77.3v1.1M142.8 76.1v1.6M144.1 76.2v1.4M145.4 76.0v1.4M146.7 74.4v1.2M147.9 75.1v1.2M149.2 74.6v2.2M150.6 68.6v7.6M151.9 68.6v5.2M153.2 75.4v1.1M154.4 72.1v1.6M155.8 75.2v1.9M157.1 74.1v1.1M158.3 73.9v1.4M159.7 69.0v4.9M161.0 73.6v1.1M162.2 73.9v1.2M163.6 73.5v2.0M164.8 75.2v2.7M166.2 75.7v1.4M167.5 69.9v2.9M168.8 72.0v1.9M170.1 75.3v1.8M171.3 76.0v0.7M172.7 73.1v3.4M174.0 70.0v1.3M175.2 69.3v0.9M176.6 68.1v3.0M177.8 70.8v1.5M179.2 74.3v1.4M180.5 74.6v0.9M181.8 72.3v1.5M183.1 75.0v0.9M184.3 71.5v0.7M185.7 73.1v1.2M187.0 73.0v3.4M188.2 74.3v2.3M189.6 75.5v1.2M190.8 76.2v1.9M192.2 71.8v1.7M193.5 66.4v1.1M194.8 75.1v0.8M196.1 65.0v0.8M197.3 77.1v1.1M198.7 73.9v1.7M200.0 74.8v1.7M201.2 70.1v2.0M202.6 72.0v2.8M203.8 72.6v2.4M205.2 71.9v0.9M206.5 74.4v1.1M207.8 74.6v1.5M209.1 76.7v0.9M210.3 74.4v1.4M211.7 65.2v1.6M213.0 66.7v4.3M214.2 67.4v1.9M215.6 72.6v2.2M216.8 74.4v1.2M218.2 72.5v1.8M219.5 69.9v0.7M220.8 63.1v1.0M222.1 71.1v0.8M223.3 72.8v1.5M224.7 71.4v1.1M226.0 71.0v2.6M227.2 72.7v1.5M228.6 69.8v1.8M229.8 73.3v2.0M231.2 70.3v1.2M232.5 72.0v2.5M233.8 73.9v2.4M235.1 68.5v1.3M236.3 72.5v1.0M237.7 75.6v1.2M239.0 71.8v0.5M240.2 72.2v0.9M241.6 72.4v2.2M242.8 73.8v1.5M244.2 71.8v1.9M245.5 73.8v1.6M246.8 66.0v1.9M248.1 71.3v2.6M249.3 64.0v0.7M250.7 72.9v1.1M252.0 71.8v1.0M253.2 75.6v1.2M254.6 68.3v1.7M255.8 71.8v1.9M257.1 71.6v2.2M258.5 72.9v1.9M259.8 73.0v1.3M261.1 67.7v2.7M262.4 73.4v1.7M263.6 72.8v1.5M265.0 70.9v0.5M266.2 65.5v0.4M267.6 65.3v1.1M268.9 75.3v1.4M270.1 70.2v2.7M271.5 70.7v1.1M272.8 71.2v1.7M274.1 71.9v2.5M275.4 67.2v1.3M276.6 72.1v1.9M278.0 74.7v1.4M279.2 74.2v1.6M280.6 68.2v2.0M281.9 71.4v2.4M283.1 72.4v3.1M284.5 73.9v1.7M285.8 74.0v1.6M287.1 71.3v0.6M288.4 75.6v0.7M289.7 73.4v1.4M290.9 73.0v1.2M292.2 73.6v1.7M293.6 69.9v1.9M294.9 64.5v2.0M296.2 69.1v4.6M297.4 67.1v1.9M298.8 69.8v4.2M300.1 74.2v1.5M301.4 73.8v1.2M302.7 75.2v1.0M303.9 73.5v1.3M305.2 73.7v2.1M306.6 69.3v2.1M307.9 73.3v0.5M309.2 73.1v1.2M310.4 75.3v1.2M311.8 71.4v1.4M313.1 71.5v0.7M314.4 67.9v2.0M315.7 72.7v2.4M316.9 66.4v2.8M318.2 76.4v1.9M319.6 69.7v2.8M320.9 65.5v3.0M322.2 71.6v3.4M323.4 70.4v3.8M324.8 69.9v2.2M326.1 75.8v0.6M327.4 71.6v1.0M328.7 70.8v2.9M329.9 72.1v1.1M331.2 72.3v2.1M332.6 71.3v2.1M333.9 71.2v2.1M335.2 64.4v2.2M336.4 70.3v1.7M337.8 64.0v0.7M339.1 71.9v2.5M340.4 68.1v1.7M341.7 66.8v1.8M342.9 65.3v2.5M344.2 64.3v1.9M345.6 70.4v3.7M346.9 68.7v3.6M348.2 72.9v2.2M349.4 70.9v1.1M350.8 71.4v1.8M352.1 76.5v1.5M353.4 68.4v1.1M354.7 75.0v1.2M355.9 75.2v0.9M357.2 73.0v0.9M358.6 70.2v1.9M359.9 67.1v1.2M361.2 68.6v0.7M362.4 71.7v1.2M363.8 69.0v2.6M365.1 74.8v1.3M366.4 68.4v0.6M367.7 66.0v2.6M368.9 70.9v3.3M370.2 73.3v0.7M371.6 65.4v1.5M372.9 68.1v2.8M374.2 67.3v1.8M375.4 70.9v1.2M376.8 73.0v0.9M378.1 72.4v1.5M379.4 72.3v1.7M380.7 63.4v2.4M381.9 71.0v1.6M383.2 67.9v1.3M384.6 63.4v1.0M385.9 68.5v2.6M387.2 71.4v1.6M388.4 68.9v3.7M389.8 70.2v1.7M391.1 71.2v1.1M392.4 74.4v0.9M393.7 69.5v1.8M394.9 66.8v2.0M396.2 60.2v2.1M397.6 70.5v1.6M398.9 59.5v2.3M400.2 67.4v2.7M401.4 71.1v1.7M402.8 70.0v1.9M404.1 71.3v1.3M405.4 73.6v1.3M406.7 62.9v1.0M407.9 69.3v2.9M409.2 64.9v0.7M410.6 66.5v1.7M411.9 67.9v1.5M413.2 72.7v1.2M414.4 74.1v1.7M415.8 67.4v1.8M417.1 70.8v1.0M418.4 73.8v0.3M419.7 74.0v1.6M420.9 72.4v0.7M422.2 64.4v0.5M423.6 70.4v2.2M424.9 72.2v1.0M426.2 69.1v0.9M427.4 72.2v2.1M428.8 72.7v1.7M430.1 69.1v1.5M431.4 76.4v0.8" stroke="#b1eaf2" stroke-width="1.50" fill="none" shape-rendering="auto"/>
<path d="M29.6 76.3v1.0M30.9 74.6v1.0M32.2 77.4v0.8M33.5 77.5v1.5M34.9 77.8v2.0M36.1 77.5v1.4M37.5 75.9v1.4M38.8 75.6v1.5M40.0 75.1v3.1M41.4 74.9v4.7M42.6 77.0v2.0M44.0 77.9v0.8M45.2 77.6v1.3M46.5 77.9v1.2M47.9 76.9v2.0M49.2 74.3v2.6M50.5 76.3v1.0M51.8 75.0v1.0M53.0 77.5v1.0M54.4 78.8v1.4M55.7 77.3v1.4M57.0 77.3v1.7M58.2 75.3v2.3M59.5 78.7v1.3M60.9 76.4v3.4M62.1 77.2v1.5M63.5 78.2v0.7M64.8 76.4v1.9M66.1 75.6v2.6M67.3 74.6v3.2M68.7 75.5v1.4M70.0 72.6v5.8M71.2 75.8v1.2M72.6 76.5v2.6M73.8 76.6v1.1M75.2 72.9v4.9M76.5 77.5v1.6M77.8 76.1v1.4M79.1 76.5v1.8M80.3 74.5v2.8M81.7 74.4v2.0M83.0 78.0v1.1M84.2 75.0v4.0M85.6 74.6v2.8M86.8 77.0v0.6M88.2 78.0v0.7M89.5 77.0v1.0M90.8 74.7v2.9M92.1 77.9v1.0M93.4 74.7v1.7M94.7 70.3v3.8M96.0 74.4v2.6M97.2 76.2v2.7M98.5 75.7v1.0M99.9 72.5v1.1M101.2 76.3v2.6M102.5 76.7v1.5M103.8 77.9v1.7M105.0 76.2v1.1M106.4 73.7v2.4M107.7 73.4v1.5M109.0 76.3v1.3M110.2 75.9v1.7M111.5 75.7v1.6M112.9 76.2v0.8M114.2 74.4v2.1M115.5 77.4v1.0M116.8 76.4v1.3M118.0 75.5v2.3M119.4 78.1v1.0M120.7 77.5v1.7M122.0 76.4v1.1M123.2 75.3v2.0M124.5 76.3v1.1M125.9 75.6v1.9M127.2 76.7v1.2M128.4 78.7v1.1M129.8 74.6v1.6M131.1 76.8v1.4M132.4 76.2v1.7M133.7 75.9v2.8M134.9 77.6v0.5M136.2 77.5v1.8M137.6 76.7v2.5M138.9 76.7v1.3M140.2 75.5v3.7M141.4 78.3v0.7M142.8 77.7v0.9M144.1 77.5v0.9M145.4 77.3v1.6M146.7 75.5v1.5M147.9 76.2v1.2M149.2 76.7v1.6M150.6 76.1v2.1M151.9 73.8v4.3M153.2 76.5v2.5M154.4 73.7v2.1M155.8 77.0v1.7M157.1 75.2v1.5M158.3 75.2v2.2M159.7 73.9v2.0M161.0 74.7v3.8M162.2 75.1v4.2M163.6 75.4v2.0M164.8 77.9v1.3M166.2 77.1v1.5M167.5 72.7v6.7M168.8 73.9v3.2M170.1 77.1v1.2M171.3 76.7v1.3M172.7 76.5v1.8M174.0 71.3v7.4M175.2 70.1v8.1M176.6 71.1v5.1M177.8 72.3v3.8M179.2 75.7v3.0M180.5 75.4v1.6M181.8 73.7v4.9M183.1 75.8v3.1M184.3 72.1v5.4M185.7 74.2v3.9M187.0 76.4v3.4M188.2 76.5v2.2M189.6 76.7v1.8M190.8 78.1v1.9M192.2 73.5v3.5M193.5 67.4v10.8M194.8 75.8v2.3M196.1 65.8v12.7M197.3 78.2v2.1M198.7 75.6v1.8M200.0 76.4v2.4M201.2 72.0v4.7M202.6 74.7v4.4M203.8 75.0v2.5M205.2 72.7v5.3M206.5 75.5v3.1M207.8 76.0v2.6M209.1 77.5v1.3M210.3 75.8v2.1M211.7 66.7v10.1M213.0 70.9v6.0M214.2 69.2v8.1M215.6 74.8v3.5M216.8 75.6v2.8M218.2 74.2v4.3M219.5 70.5v5.6M220.8 64.1v9.2M222.1 71.8v3.6M223.3 74.2v3.4M224.7 72.4v4.2M226.0 73.6v3.1M227.2 74.2v2.0M228.6 71.6v6.0M229.8 75.2v4.3M231.2 71.4v2.7M232.5 74.4v3.1M233.8 76.3v3.1M235.1 69.7v8.2M236.3 73.4v4.8M237.7 76.7v2.8M239.0 72.2v6.6M240.2 73.0v4.5M241.6 74.5v4.9M242.8 75.2v4.5M244.2 73.6v5.7M245.5 75.4v4.1M246.8 67.9v9.0M248.1 73.8v4.4M249.3 64.7v12.8M250.7 74.0v6.1M252.0 72.7v5.2M253.2 76.7v2.6M254.6 69.9v8.1M255.8 73.7v4.6M257.1 73.7v4.7M258.5 74.7v3.3M259.8 74.3v4.3M261.1 70.4v7.9M262.4 75.1v3.3M263.6 74.3v3.9M265.0 71.3v3.0M266.2 65.9v13.2M267.6 66.4v11.7M268.9 76.7v2.0M270.1 72.8v6.2M271.5 71.7v6.3M272.8 72.9v4.7M274.1 74.3v3.1M275.4 68.4v8.2M276.6 74.0v4.6M278.0 76.1v3.5M279.2 75.7v4.5M280.6 70.1v7.3M281.9 73.7v4.7M283.1 75.4v2.5M284.5 75.6v4.3M285.8 75.5v2.3M287.1 71.8v4.5M288.4 76.2v3.8M289.7 74.7v5.1M290.9 74.2v5.4M292.2 75.3v3.7M293.6 71.7v8.3M294.9 66.5v11.6M296.2 73.7v5.2M297.4 69.0v7.9M298.8 74.0v3.4M300.1 75.6v2.0M301.4 75.0v3.2M302.7 76.1v4.0M303.9 74.7v3.0M305.2 75.8v3.1M306.6 71.4v7.1M307.9 73.8v6.1M309.2 74.3v5.0M310.4 76.4v2.8M311.8 72.7v5.0M313.1 72.2v7.0M314.4 69.9v7.4M315.7 75.0v4.0M316.9 69.2v10.4M318.2 78.2v1.3M319.6 72.4v5.9M320.9 68.4v9.6M322.2 74.9v4.3M323.4 74.1v5.0M324.8 72.1v7.3M326.1 76.4v3.4M327.4 72.5v6.0M328.7 73.7v4.5M329.9 73.1v6.2M331.2 74.4v3.8M332.6 73.3v5.8M333.9 73.3v5.9M335.2 66.6v13.1M336.4 72.0v6.9M337.8 64.6v15.1M339.1 74.4v4.1M340.4 69.8v9.5M341.7 68.5v10.6M342.9 67.7v10.8M344.2 66.2v14.0M345.6 74.1v4.6M346.9 72.2v7.0M348.2 75.0v3.6M349.4 71.9v6.7M350.8 73.2v6.4M352.1 78.0v2.3M353.4 69.5v10.5M354.7 76.1v3.3M355.9 76.1v4.2M357.2 73.9v6.0M358.6 72.0v7.9M359.9 68.3v10.9M361.2 69.3v8.7M362.4 72.9v5.9M363.8 71.5v7.0M365.1 76.1v4.0M366.4 69.0v9.4M367.7 68.6v10.9M368.9 74.1v5.5M370.2 73.9v5.9M371.6 66.8v12.6M372.9 70.9v7.3M374.2 69.0v10.0M375.4 72.0v7.7M376.8 73.9v6.1M378.1 73.9v3.9M379.4 73.9v5.7M380.7 65.7v12.0M381.9 72.6v7.4M383.2 69.2v9.2M384.6 64.3v15.7M385.9 71.1v8.7M387.2 72.9v5.8M388.4 72.6v3.8M389.8 71.8v7.2M391.1 72.2v7.0M392.4 75.2v4.9M393.7 71.3v7.0M394.9 68.7v10.8M396.2 62.2v17.3M397.6 72.1v6.6M398.9 61.8v17.3M400.2 70.0v9.3M401.4 72.8v7.4M402.8 71.9v6.8M404.1 72.5v6.7M405.4 74.8v5.3M406.7 63.9v15.4M407.9 72.2v6.8M409.2 65.5v14.9M410.6 68.2v11.9M411.9 69.3v10.2M413.2 73.9v5.6M414.4 75.7v4.5M415.8 69.2v10.8M417.1 71.7v7.9M418.4 74.0v6.2M419.7 75.6v4.7M420.9 73.0v7.3M422.2 64.9v15.5M423.6 72.6v6.5M424.9 73.1v6.8M426.2 69.9v10.1M427.4 74.3v5.9M428.8 74.3v5.7M430.1 70.6v9.7M431.4 77.2v3.4" stroke="#582cf2" stroke-width="1.50" fill="none" shape-rendering="auto"/>
<path d="M29.6 77.2v0.5M30.9 75.5v2.7M32.2 78.2v0.6M33.5 78.9v0.6M34.9 79.8v0.4M36.1 78.9v0.8M37.5 77.3v0.8M38.8 77.1v0.8M40.0 78.2v0.4M41.4 79.6v0.5M42.6 79.0v0.4M44.0 78.6v0.4M45.2 78.9v1.0M46.5 79.0v0.6M47.9 78.8v0.4M49.2 76.9v1.1M50.5 77.3v1.5M51.8 76.0v1.0M53.0 78.4v1.2M55.7 78.6v0.5M57.0 79.0v0.7M58.2 77.6v1.9M59.5 79.9v0.5M60.9 79.7v0.5M62.1 78.6v0.4M63.5 78.8v0.7M64.8 78.3v0.5M66.1 78.1v0.4M67.3 77.7v0.5M68.7 76.8v1.0M70.0 78.3v0.6M71.2 76.9v2.5M72.6 79.0v1.0M73.8 77.7v2.2M75.2 77.7v0.4M77.8 77.4v1.6M79.1 78.3v0.6M80.3 77.3v1.6M81.7 76.3v2.6M83.0 79.0v0.5M84.2 78.9v0.9M85.6 77.3v1.7M86.8 77.5v2.6M88.2 78.7v0.5M89.5 77.9v0.8M90.8 77.6v1.0M92.1 78.9v0.3M93.4 76.3v2.9M94.7 74.0v2.6M96.0 77.0v1.6M97.2 78.8v0.3M98.5 76.6v2.4M99.9 73.5v5.2M101.2 78.9v0.9M102.5 78.2v1.7M103.8 79.5v0.3M105.0 77.2v1.2M106.4 76.0v3.3M107.7 74.9v0.6M109.0 77.6v1.3M110.2 77.5v1.3M111.5 77.2v1.3M112.9 77.0v0.4M114.2 76.5v0.4M115.5 78.4v0.3M116.8 77.7v0.6M118.0 77.7v1.4M119.4 79.0v0.3M120.7 79.2v0.3M122.0 77.4v1.6M123.2 77.2v1.3M124.5 77.4v0.8M125.9 77.4v0.4M127.2 77.8v0.7M129.8 76.1v3.4M131.1 78.1v1.3M132.4 77.9v1.0M133.7 78.6v0.9M134.9 78.0v0.7M136.2 79.2v0.5M137.6 79.1v0.5M138.9 77.9v1.0M140.2 79.1v0.7M141.4 79.0v0.2M142.8 78.6v0.3M144.1 78.3v0.9M145.4 78.9v0.7M146.7 77.0v1.0M147.9 77.4v0.8M149.2 78.3v0.4M150.6 78.2v0.7M151.9 78.1v1.1M153.2 79.0v0.5M154.4 75.7v1.2M155.8 78.7v0.5M157.1 76.6v1.0M158.3 77.4v0.9M159.7 75.8v2.5M161.0 78.5v0.8M162.2 79.2v0.4M163.6 77.4v1.4M164.8 79.1v0.4M168.8 77.1v0.9M170.1 78.2v1.1M171.3 78.0v1.8M172.7 78.2v0.8M174.0 78.6v0.6M175.2 78.2v0.3M176.6 76.2v0.3M177.8 76.0v2.5M179.2 78.7v0.6M180.5 76.9v2.5M181.8 78.6v0.9M183.1 78.9v0.6M184.3 77.5v1.3M185.7 78.1v0.5M188.2 78.7v0.5M189.6 78.4v0.3M190.8 79.9v0.3M192.2 77.0v0.7M193.5 78.1v0.6M194.8 78.0v1.1M196.1 78.5v1.0M198.7 77.3v0.5M200.0 78.7v0.9M201.2 76.7v2.6M202.6 79.1v0.6M203.8 77.4v1.3M205.2 77.9v1.2M206.5 78.5v0.9M207.8 78.6v0.7M209.1 78.7v0.6M210.3 77.8v1.1M211.7 76.7v1.8M213.0 76.8v1.1M214.2 77.2v1.5M215.6 78.3v0.7M216.8 78.3v0.5M218.2 78.5v0.9M219.5 76.0v1.4M220.8 73.2v3.9M222.1 75.3v3.2M223.3 77.5v0.6M224.7 76.5v3.3M226.0 76.7v0.3M227.2 76.1v1.4M228.6 77.5v0.7M229.8 79.4v0.4M231.2 74.0v4.3M232.5 77.5v1.7M233.8 79.3v0.3M235.1 77.9v1.5M236.3 78.2v0.2M237.7 79.5v0.5M239.0 78.8v0.4M240.2 77.5v1.4M241.6 79.3v0.5M242.8 79.7v0.4M244.2 79.3v0.7M245.5 79.4v0.5M246.8 76.9v1.5M248.1 78.2v1.6M249.3 77.5v1.7M250.7 80.0v0.2M252.0 77.9v0.5M253.2 79.3v0.3M254.6 78.0v1.6M255.8 78.3v0.4M257.1 78.4v1.4M258.5 77.9v1.6M259.8 78.5v0.8M261.1 78.3v0.4M262.4 78.4v0.8M263.6 78.2v1.6M265.0 74.3v4.6M266.2 79.1v0.7M267.6 78.1v0.5M268.9 78.7v0.2M270.1 79.0v0.2M271.5 78.0v1.0M272.8 77.5v0.4M274.1 77.3v0.9M275.4 76.6v2.5M276.6 78.5v0.6M279.2 80.2v0.3M280.6 77.3v1.8M281.9 78.4v1.0M283.1 77.9v2.1M284.5 79.8v0.4M285.8 77.8v1.3M287.1 76.3v3.4M289.7 79.8v0.5M290.9 79.5v0.6M292.2 78.9v0.7M293.6 80.0v0.2M294.9 78.1v1.6M296.2 78.9v0.7M297.4 76.8v2.5M298.8 77.3v0.9M300.1 77.6v2.0M301.4 78.2v0.4M303.9 77.6v1.8M305.2 78.8v0.9M306.6 78.4v0.4M307.9 79.8v0.3M309.2 79.2v0.4M310.4 79.2v0.3M311.8 77.7v0.7M313.1 79.1v0.4M314.4 77.3v2.4M315.7 79.0v0.9M316.9 79.5v0.2M318.2 79.4v0.2M319.6 78.2v0.4M320.9 77.9v0.5M322.2 79.2v0.6M323.4 79.1v1.1M324.8 79.3v1.1M326.1 79.7v0.6M327.4 78.5v1.1M328.7 78.1v1.4M329.9 79.3v0.6M331.2 78.1v0.3M332.6 79.1v0.2M333.9 79.1v0.5M335.2 79.7v0.6M336.4 78.8v0.4M339.1 78.5v0.2M340.4 79.2v0.2M341.7 79.1v1.0M342.9 78.5v0.9M344.2 80.1v0.5M345.6 78.6v1.2M346.9 79.2v0.2M348.2 78.5v0.4M349.4 78.6v1.0M350.8 79.5v0.5M353.4 79.9v0.3M354.7 79.4v0.5M358.6 79.8v0.3M359.9 79.1v0.2M361.2 77.9v0.6M362.4 78.7v1.4M363.8 78.5v0.6M365.1 80.0v0.3M366.4 78.4v0.6M367.7 79.4v0.5M368.9 79.6v0.5M371.6 79.4v0.3M372.9 78.1v0.3M375.4 79.7v0.4M376.8 80.0v0.5M378.1 77.8v1.5M379.4 79.5v0.2M380.7 77.7v2.3M381.9 79.9v0.3M383.2 78.3v1.1M384.6 79.9v0.2M387.2 78.7v0.2M388.4 76.3v2.7M389.8 79.0v0.3M391.1 79.2v0.5M392.4 80.1v0.3M393.7 78.2v0.7M394.9 79.5v1.0M396.2 79.5v0.5M397.6 78.6v1.7M398.9 79.1v0.4M400.2 79.3v0.8M402.8 78.7v0.4M404.1 79.2v0.7M405.4 80.1v0.3M406.7 79.3v0.5M407.9 78.9v0.4M409.2 80.4v0.2M411.9 79.5v0.3M413.2 79.5v0.7M414.4 80.2v0.4M415.8 79.9v0.4M417.1 79.6v0.7M418.4 80.1v0.3M419.7 80.2v0.3M422.2 80.4v0.2M423.6 79.1v1.4M424.9 79.8v0.5M426.2 79.9v0.3M427.4 80.1v0.2M428.8 80.0v0.4M430.1 80.3v0.3M431.4 80.6v0.5" stroke="#b1f274" stroke-width="1.50" fill="none" shape-rendering="auto"/>
<path d="M29.6 77.7v1.3M30.9 78.2v0.4M32.2 78.8v0.7M37.5 78.0v1.3M38.8 77.9v0.4M40.0 78.5v0.2M42.6 79.3v0.2M45.2 79.8v0.3M46.5 79.6v0.2M47.9 79.2v0.3M49.2 78.0v0.3M50.5 78.7v0.6M51.8 76.9v0.3M55.7 79.0v0.2M58.2 79.5v0.3M64.8 78.7v0.5M66.1 78.5v0.5M67.3 78.2v0.8M70.0 78.9v0.3M71.2 79.4v0.3M73.8 79.8v0.2M75.2 78.0v0.2M76.5 79.2v0.4M77.8 79.0v0.3M84.2 79.8v0.3M88.2 79.2v0.3M89.5 78.6v0.3M90.8 78.5v0.7M92.1 79.1v0.4M93.4 79.2v0.4M94.7 76.6v1.4M96.0 78.6v1.1M98.5 79.0v0.4M105.0 78.4v0.7M106.4 79.3v0.4M107.7 75.5v0.5M111.5 78.5v0.6M114.2 76.9v0.3M115.5 78.7v0.7M116.8 78.2v0.2M118.0 79.0v0.3M119.4 79.3v0.4M122.0 79.0v0.9M123.2 78.4v0.4M124.5 78.2v0.4M125.9 77.8v0.3M127.2 78.4v0.2M128.4 79.8v0.3M129.8 79.5v0.4M131.1 79.4v0.4M132.4 78.8v0.8M134.9 78.7v0.3M142.8 78.8v0.2M144.1 79.2v0.3M146.7 77.9v0.5M147.9 78.1v0.2M149.2 78.6v1.0M150.6 78.9v0.5M151.9 79.1v0.6M153.2 79.4v0.3M154.4 76.8v0.6M155.8 79.2v0.4M157.1 77.6v0.4M158.3 78.2v0.3M159.7 78.2v1.1M161.0 79.2v0.3M162.2 79.6v0.5M163.6 78.7v0.3M164.8 79.5v0.3M166.2 78.6v0.5M167.5 79.5v0.6M168.8 77.9v1.0M170.1 79.3v0.5M172.7 78.9v0.2M176.6 76.5v0.9M179.2 79.2v0.3M180.5 79.4v0.7M183.1 79.4v0.4M184.3 78.7v0.8M185.7 78.5v0.9M187.0 79.9v0.5M188.2 79.1v0.2M189.6 78.7v0.6M190.8 80.1v0.3M192.2 77.6v1.8M194.8 79.1v0.3M196.1 79.4v0.6M198.7 77.7v0.6M200.0 79.6v0.4M201.2 79.3v0.3M206.5 79.3v0.7M207.8 79.2v0.5M209.1 79.3v0.2M211.7 78.5v1.3M215.6 79.0v0.2M216.8 78.7v0.3M218.2 79.4v0.2M219.5 77.4v0.7M220.8 77.0v0.3M222.1 78.4v0.3M223.3 78.1v1.1M224.7 79.8v0.3M228.6 78.2v0.3M231.2 78.3v0.3M233.8 79.5v0.6M235.1 79.3v0.3M236.3 78.4v1.0M237.7 80.0v0.2M239.0 79.1v0.4M240.2 78.9v1.2M244.2 79.9v0.3M245.5 79.8v0.2M246.8 78.3v1.2M248.1 79.7v0.3M250.7 80.2v0.2M254.6 79.6v0.2M255.8 78.7v0.4M259.8 79.3v0.2M265.0 78.8v0.9M270.1 79.2v0.5M271.5 78.9v0.2M272.8 77.8v0.3M274.1 78.2v0.9M275.4 79.0v0.4M278.0 79.6v0.3M280.6 79.1v0.4M281.9 79.4v0.5M283.1 79.9v0.3M284.5 80.1v0.2M285.8 79.1v0.3M288.4 80.1v0.2M294.9 79.6v0.3M296.2 79.5v0.3M297.4 79.3v0.2M298.8 78.2v0.2M300.1 79.5v0.5M301.4 78.6v0.2M303.9 79.4v0.4M305.2 79.7v0.5M306.6 78.7v0.2M309.2 79.6v0.3M310.4 79.4v0.5M311.8 78.4v1.0M313.1 79.5v0.4M314.4 79.6v0.3M315.7 79.8v0.4M318.2 79.6v0.3M319.6 78.6v0.7M320.9 78.4v2.1M322.2 79.8v0.3M323.4 80.1v0.3M327.4 79.6v0.3M328.7 79.5v0.7M329.9 79.9v0.2M331.2 78.4v1.1M339.1 78.6v0.4M340.4 79.4v0.2M342.9 79.3v0.3M344.2 80.6v0.3M349.4 79.6v0.7M350.8 80.0v0.3M353.4 80.1v0.3M354.7 79.8v0.3M355.9 80.3v0.4M358.6 80.1v0.2M359.9 79.3v0.5M366.4 78.9v0.8M367.7 79.8v0.5M368.9 80.0v0.3M371.6 79.6v0.4M374.2 79.1v0.4M375.4 80.0v0.3M380.7 79.9v0.5M381.9 80.2v0.3M383.2 79.3v0.4M385.9 79.8v0.6M387.2 78.9v0.4M388.4 78.9v0.3M393.7 78.9v0.9M400.2 80.0v0.3M401.4 80.2v0.3M402.8 79.0v0.3M404.1 79.9v0.2M406.7 79.8v0.3M407.9 79.3v0.4M410.6 80.1v0.2M411.9 79.7v0.3M417.1 80.2v0.2M418.4 80.3v0.3M426.2 80.2v0.3M428.8 80.3v0.4M430.1 80.5v0.2" stroke="#ffffaa" stroke-width="1.50" fill="none" shape-rendering="auto"/>
<path d="M29.6 78.9v2.4M30.9 78.5v2.9M32.2 79.4v1.9M33.5 79.5v1.8M34.9 80.2v1.2M36.1 79.7v1.6M37.5 79.3v2.0M38.8 78.2v3.2M40.0 78.7v2.7M41.4 80.1v1.3M42.6 79.5v1.8M44.0 79.1v2.3M45.2 80.1v1.3M46.5 79.7v1.6M47.9 79.4v1.9M49.2 78.2v3.2M50.5 79.2v2.1M51.8 77.1v4.2M53.0 79.6v1.8M54.4 80.3v1.0M55.7 79.2v2.2M57.0 79.8v1.5M58.2 79.7v1.6M59.5 80.5v0.9M60.9 80.2v1.1M62.1 79.1v2.2M63.5 79.6v1.8M64.8 79.2v2.2M66.1 78.9v2.5M67.3 79.0v2.4M68.7 77.9v3.4M70.0 79.1v2.2M71.2 79.6v1.8M72.6 80.1v1.3M73.8 80.0v1.3M75.2 78.2v3.1M76.5 79.5v1.8M77.8 79.3v2.1M79.1 79.0v2.4M80.3 78.9v2.4M81.7 78.9v2.4M83.0 79.6v1.7M84.2 80.0v1.4M85.6 79.1v2.2M86.8 80.1v1.2M88.2 79.4v1.9M89.5 78.9v2.5M90.8 79.2v2.1M92.1 79.5v1.9M93.4 79.5v1.9M94.7 77.9v3.4M96.0 79.6v1.8M97.2 79.2v2.2M98.5 79.4v2.0M99.9 78.7v2.7M101.2 79.8v1.5M102.5 79.9v1.4M103.8 79.9v1.4M105.0 79.1v2.3M106.4 79.7v1.6M107.7 76.0v5.4M109.0 78.9v2.5M110.2 79.0v2.4M111.5 79.0v2.4M112.9 77.4v3.9M114.2 77.1v4.3M115.5 79.4v2.0M116.8 78.4v2.9M118.0 79.3v2.1M119.4 79.6v1.7M120.7 79.6v1.7M122.0 79.8v1.5M123.2 78.8v2.5M124.5 78.6v2.8M125.9 78.0v3.4M127.2 78.6v2.7M128.4 80.1v1.2M129.8 79.8v1.6M131.1 79.8v1.6M132.4 79.6v1.8M133.7 79.6v1.7M134.9 79.0v2.3M136.2 79.7v1.6M137.6 79.6v1.7M138.9 78.9v2.4M140.2 79.8v1.6M141.4 79.2v2.1M142.8 79.0v2.3M144.1 79.5v1.9M145.4 79.7v1.7M146.7 78.4v3.0M147.9 78.3v3.0M149.2 79.6v1.8M150.6 79.3v2.0M151.9 79.7v1.7M153.2 79.7v1.7M154.4 77.4v4.0M155.8 79.5v1.9M157.1 78.0v3.4M158.3 78.5v2.9M159.7 79.2v2.1M161.0 79.5v1.9M162.2 80.0v1.4M163.6 79.0v2.4M164.8 79.7v1.6M166.2 79.1v2.3M167.5 80.0v1.4M168.8 78.9v2.5M170.1 79.7v1.7M171.3 79.8v1.6M172.7 79.1v2.3M174.0 79.3v2.0M175.2 78.5v2.8M176.6 77.3v4.0M177.8 78.6v2.7M179.2 79.5v1.9M180.5 80.0v1.4M181.8 79.5v1.9M183.1 79.7v1.6M184.3 79.5v1.9M185.7 79.3v2.0M187.0 80.3v1.0M188.2 79.3v2.0M189.6 79.3v2.1M190.8 80.4v1.0M192.2 79.3v2.0M193.5 78.8v2.5M194.8 79.3v2.0M196.1 80.0v1.4M197.3 80.4v1.0M198.7 78.3v3.1M200.0 79.9v1.4M201.2 79.5v1.8M202.6 79.6v1.7M203.8 78.8v2.6M205.2 79.3v2.1M206.5 79.9v1.4M207.8 79.6v1.8M209.1 79.5v1.9M210.3 78.9v2.4M211.7 79.7v1.6M213.0 78.0v3.4M214.2 78.8v2.6M215.6 79.2v2.2M216.8 78.9v2.4M218.2 79.5v1.8M219.5 78.0v3.3M220.8 77.3v4.0M222.1 78.7v2.7M223.3 79.1v2.2M224.7 80.1v1.3M226.0 77.0v4.4M227.2 77.6v3.8M228.6 78.5v2.9M229.8 79.9v1.4M231.2 78.6v2.8M232.5 79.2v2.1M233.8 80.0v1.3M235.1 79.6v1.8M236.3 79.4v2.0M237.7 80.2v1.2M239.0 79.5v1.9M240.2 80.1v1.3M241.6 79.9v1.4M242.8 80.1v1.2M244.2 80.2v1.2M245.5 80.0v1.4M246.8 79.4v2.0M248.1 79.9v1.4M249.3 79.2v2.1M250.7 80.4v1.0M252.0 78.4v2.9M253.2 79.7v1.6M254.6 79.8v1.6M255.8 79.0v2.4M257.1 79.8v1.5M258.5 79.6v1.7M259.8 79.5v1.8M261.1 78.7v2.6M262.4 79.1v2.3M263.6 79.8v1.5M265.0 79.7v1.6M266.2 79.9v1.4M267.6 78.6v2.8M268.9 78.9v2.4M270.1 79.6v1.7M271.5 79.0v2.3M272.8 78.1v3.3M274.1 79.1v2.2M275.4 79.3v2.0M276.6 79.1v2.2M278.0 79.9v1.5M279.2 80.6v0.7M280.6 79.4v1.9M281.9 79.8v1.5M283.1 80.2v1.2M284.5 80.3v1.1M285.8 79.3v2.0M287.1 79.7v1.6M288.4 80.3v1.1M289.7 80.4v1.0M290.9 80.2v1.1M292.2 79.6v1.7M293.6 80.2v1.1M294.9 79.8v1.5M296.2 79.8v1.6M297.4 79.4v1.9M298.8 78.3v3.0M300.1 80.0v1.4M301.4 78.7v2.6M302.7 80.2v1.1M303.9 79.8v1.6M305.2 80.1v1.3M306.6 78.9v2.5M307.9 80.1v1.2M309.2 79.8v1.6M310.4 79.8v1.5M311.8 79.3v2.0M313.1 79.8v1.6M314.4 79.9v1.4M315.7 80.1v1.2M316.9 79.8v1.6M318.2 79.9v1.5M319.6 79.2v2.1M320.9 80.4v0.9M322.2 80.0v1.3M323.4 80.3v1.0M324.8 80.4v1.0M326.1 80.3v1.1M327.4 79.9v1.5M328.7 80.1v1.2M329.9 80.0v1.3M331.2 79.4v1.9M332.6 79.3v2.0M333.9 79.7v1.7M335.2 80.4v1.0M336.4 79.2v2.2M337.8 79.8v1.6M339.1 79.0v2.3M340.4 79.5v1.8M341.7 80.1v1.2M342.9 79.6v1.8M344.2 80.8v0.5M345.6 79.8v1.5M346.9 79.5v1.9M348.2 79.0v2.4M349.4 80.2v1.1M350.8 80.2v1.1M352.1 80.4v0.9M353.4 80.4v1.0M354.7 80.1v1.3M355.9 80.7v0.7M357.2 80.1v1.3M358.6 80.3v1.1M359.9 79.8v1.6M361.2 78.6v2.8M362.4 80.1v1.3M363.8 79.1v2.2M365.1 80.4v0.9M366.4 79.6v1.7M367.7 80.3v1.1M368.9 80.3v1.1M370.2 80.0v1.3M371.6 79.9v1.4M372.9 78.5v2.8M374.2 79.4v1.9M375.4 80.2v1.1M376.8 80.4v0.9M378.1 79.4v1.9M379.4 79.8v1.6M380.7 80.3v1.1M381.9 80.4v0.9M383.2 79.7v1.7M384.6 80.2v1.1M385.9 80.4v1.0M387.2 79.2v2.1M388.4 79.2v2.1M389.8 79.3v2.0M391.1 79.8v1.6M392.4 80.4v1.0M393.7 79.7v1.6M394.9 80.5v0.8M396.2 80.0v1.3M397.6 80.4v0.9M398.9 79.5v1.8M400.2 80.3v1.0M401.4 80.4v0.9M402.8 79.3v2.1M404.1 80.0v1.3M405.4 80.4v0.9M406.7 80.0v1.3M407.9 79.6v1.7M409.2 80.6v0.7M410.6 80.3v1.1M411.9 80.0v1.4M413.2 80.1v1.3M414.4 80.7v0.7M415.8 80.2v1.1M417.1 80.3v1.0M418.4 80.6v0.7M419.7 80.6v0.8M420.9 80.6v0.7M422.2 80.6v0.7M423.6 80.5v0.9M424.9 80.3v1.0M426.2 80.5v0.9M427.4 80.4v1.0M428.8 80.6v0.7M430.1 80.7v0.6M431.4 81.0v0.3" stroke="#90d5f2" stroke-width="1.50" fill="none" shape-rendering="auto"/>
</g>
<path d="M29.6 23.8v-1.3M30.9 23.8v-2.1M32.2 23.8v-7.6M33.5 23.8v-1.4M34.9 23.8v-1.7M36.1 23.8v-12.0M37.5 23.8v-0.9M38.8 23.8v-1.3M40.0 23.8v-3.9M41.4 23.8v-0.9M42.6 23.8v-1.9M44.0 23.8v-1.6M45.2 23.8v-1.1M46.5 23.8v-1.9M47.9 23.8v-2.0M49.2 23.8v-1.6M50.5 23.8v-1.7M51.8 23.8v-1.2M53.0 23.8v-4.8M54.4 23.8v-2.1M55.7 23.8v-3.1M57.0 23.8v-3.4M58.2 23.8v-1.2M59.5 23.8v-1.6M60.9 23.8v-0.9M62.1 23.8v-4.8M63.5 23.8v-1.6M64.8 23.8v-1.5M66.1 23.8v-2.2M67.3 23.8v-3.5M68.7 23.8v-11.4M70.0 23.8v-1.3M71.2 23.8v-10.1M72.6 23.8v-2.3M73.8 23.8v-6.2M75.2 23.8v-1.0M76.5 23.8v-8.7M77.8 23.8v-1.8M79.1 23.8v-4.6M80.3 23.8v-0.8M81.7 23.8v-4.6M83.0 23.8v-9.6M84.2 23.8v-1.4M85.6 23.8v-1.1M86.8 23.8v-0.8M88.2 23.8v-1.2M89.5 23.8v-5.8M90.8 23.8v-1.3M92.1 23.8v-2.9M93.4 23.8v-2.9M94.7 23.8v-1.3M96.0 23.8v-0.8M97.2 23.8v-5.6M98.5 23.8v-4.4M99.9 23.8v-1.1M101.2 23.8v-7.7M102.5 23.8v-1.1M103.8 23.8v-13.8M105.0 23.8v-1.0M106.4 23.8v-2.6M107.7 23.8v-6.3M109.0 23.8v-6.3M110.2 23.8v-1.7M111.5 23.8v-6.7M112.9 23.8v-1.7M114.2 23.8v-5.3M115.5 23.8v-7.7M116.8 23.8v-3.4M118.0 23.8v-2.1M119.4 23.8v-6.1M120.7 23.8v-0.9M122.0 23.8v-3.8M123.2 23.8v-2.9M124.5 23.8v-1.1M125.9 23.8v-12.1M127.2 23.8v-5.4M128.4 23.8v-2.2M129.8 23.8v-1.7M131.1 23.8v-4.9M132.4 23.8v-2.4M133.7 23.8v-1.0M134.9 23.8v-2.0M136.2 23.8v-1.1M137.6 23.8v-3.4M138.9 23.8v-13.5M140.2 23.8v-1.8M141.4 23.8v-3.6M142.8 23.8v-2.1M144.1 23.8v-2.1M145.4 23.8v-6.9M146.7 23.8v-1.2M147.9 23.8v-5.8M149.2 23.8v-0.9M150.6 23.8v-8.7M151.9 23.8v-2.1M153.2 23.8v-2.2M154.4 23.8v-3.9M155.8 23.8v-6.3M157.1 23.8v-7.7M158.3 23.8v-0.9M159.7 23.8v-8.4M161.0 23.8v-11.1M162.2 23.8v-3.2M163.6 23.8v-6.3M164.8 23.8v-1.3M166.2 23.8v-6.1M167.5 23.8v-9.1M168.8 23.8v-1.6M170.1 23.8v-10.0M171.3 23.8v-7.4M172.7 23.8v-10.1M174.0 23.8v-2.2M175.2 23.8v-4.5M176.6 23.8v-6.7M177.8 23.8v-4.7M179.2 23.8v-5.3M180.5 23.8v-2.0M181.8 23.8v-1.1M183.1 23.8v-5.2M184.3 23.8v-13.5M185.7 23.8v-6.0M187.0 23.8v-2.3M188.2 23.8v-2.3M189.6 23.8v-7.5M190.8 23.8v-1.8M192.2 23.8v-7.6M193.5 23.8v-1.5M194.8 23.8v-8.7M196.1 23.8v-0.8M197.3 23.8v-8.8M198.7 23.8v-1.3M200.0 23.8v-1.0M201.2 23.8v-5.2M202.6 23.8v-5.3M203.8 23.8v-1.5M205.2 23.8v-3.4M206.5 23.8v-1.6M207.8 23.8v-5.1M209.1 23.8v-5.3M210.3 23.8v-5.3M211.7 23.8v-12.2M213.0 23.8v-1.2M214.2 23.8v-1.3M215.6 23.8v-1.3M216.8 23.8v-6.9M218.2 23.8v-5.9M219.5 23.8v-9.6M220.8 23.8v-13.0M222.1 23.8v-13.0M223.3 23.8v-1.4M224.7 23.8v-11.1M226.0 23.8v-4.4M227.2 23.8v-5.9M228.6 23.8v-4.1M229.8 23.8v-2.0M231.2 23.8v-10.6M232.5 23.8v-10.6M233.8 23.8v-6.4M235.1 23.8v-1.7M236.3 23.8v-0.9M237.7 23.8v-10.0M239.0 23.8v-5.3M240.2 23.8v-2.2M241.6 23.8v-1.4M242.8 23.8v-1.2M244.2 23.8v-2.1M245.5 23.8v-6.7M246.8 23.8v-1.2M248.1 23.8v-12.2M249.3 23.8v-16.8M250.7 23.8v-1.1M252.0 23.8v-7.8M253.2 23.8v-12.5M254.6 23.8v-10.2M255.8 23.8v-6.4M257.1 23.8v-1.7M258.5 23.8v-1.8M259.8 23.8v-1.8M261.1 23.8v-2.4M262.4 23.8v-2.4M263.6 23.8v-3.7M265.0 23.8v-12.0M266.2 23.8v-9.0M267.6 23.8v-6.8M268.9 23.8v-5.1M270.1 23.8v-7.2M271.5 23.8v-5.3M272.8 23.8v-4.4M274.1 23.8v-6.3M275.4 23.8v-15.2M276.6 23.8v-8.0M278.0 23.8v-4.1M279.2 23.8v-11.1M280.6 23.8v-6.3M281.9 23.8v-4.4M283.1 23.8v-4.1M284.5 23.8v-1.0M285.8 23.8v-2.9M287.1 23.8v-8.7M288.4 23.8v-8.0M289.7 23.8v-2.2M290.9 23.8v-4.0M292.2 23.8v-12.0M293.6 23.8v-12.0M294.9 23.8v-4.3M296.2 23.8v-4.0M297.4 23.8v-1.0M298.8 23.8v-12.2M300.1 23.8v-8.9M301.4 23.8v-1.0M302.7 23.8v-1.5M303.9 23.8v-8.6M305.2 23.8v-12.0M306.6 23.8v-12.0M307.9 23.8v-4.2M309.2 23.8v-1.7M310.4 23.8v-10.6M311.8 23.8v-7.2M313.1 23.8v-3.2M314.4 23.8v-5.9M315.7 23.8v-10.1M316.9 23.8v-12.0M318.2 23.8v-6.3M319.6 23.8v-6.3M320.9 23.8v-10.8M322.2 23.8v-8.1M323.4 23.8v-11.9M324.8 23.8v-3.4M326.1 23.8v-2.4M327.4 23.8v-4.3M328.7 23.8v-6.2M329.9 23.8v-5.8M331.2 23.8v-5.8M332.6 23.8v-0.9M333.9 23.8v-14.4M335.2 23.8v-7.7M336.4 23.8v-2.3M337.8 23.8v-5.4M339.1 23.8v-8.5M340.4 23.8v-5.0M341.7 23.8v-2.9M342.9 23.8v-14.9M344.2 23.8v-5.3M345.6 23.8v-8.2M346.9 23.8v-2.1M348.2 23.8v-11.1M349.4 23.8v-11.1M350.8 23.8v-5.0M352.1 23.8v-8.2M353.4 23.8v-6.6M354.7 23.8v-6.5M355.9 23.8v-6.7M357.2 23.8v-6.3M358.6 23.8v-4.9M359.9 23.8v-7.3M361.2 23.8v-12.5M362.4 23.8v-12.5M363.8 23.8v-5.9M365.1 23.8v-11.6M366.4 23.8v-8.2M367.7 23.8v-4.7M368.9 23.8v-13.5M370.2 23.8v-4.8M371.6 23.8v-7.2M372.9 23.8v-9.4M374.2 23.8v-7.2M375.4 23.8v-12.5M376.8 23.8v-11.8M378.1 23.8v-5.6M379.4 23.8v-3.3M380.7 23.8v-4.2M381.9 23.8v-10.4M383.2 23.8v-3.3M384.6 23.8v-4.5M385.9 23.8v-8.5M387.2 23.8v-10.9M388.4 23.8v-10.4M389.8 23.8v-8.3M391.1 23.8v-5.1M392.4 23.8v-3.7M393.7 23.8v-8.8M394.9 23.8v-8.8M396.2 23.8v-11.3M397.6 23.8v-4.4M398.9 23.8v-14.6M400.2 23.8v-3.6M401.4 23.8v-10.8M402.8 23.8v-10.9M404.1 23.8v-10.9M405.4 23.8v-4.6M406.7 23.8v-8.3M407.9 23.8v-9.2M409.2 23.8v-3.9M410.6 23.8v-12.5M411.9 23.8v-8.8M413.2 23.8v-7.2M414.4 23.8v-4.7M415.8 23.8v-9.6M417.1 23.8v-9.1M418.4 23.8v-5.1M419.7 23.8v-7.6M420.9 23.8v-6.2M422.2 23.8v-13.0M423.6 23.8v-6.2M424.9 23.8v-6.0M426.2 23.8v-4.7M427.4 23.8v-4.1M428.8 23.8v-7.7M430.1 23.8v-11.5M431.4 23.8v-4.5" stroke="#1c3434" stroke-width="1.17" fill="none" shape-rendering="auto"/>
<rect x="28.5" y="6.5" width="404.0" height="18.4" fill="none" stroke="#111" stroke-width="1"/>
<rect x="28.5" y="24.9" width="404.0" height="58.300000000000004" fill="none" stroke="#111" stroke-width="1"/>
<line x1="28.5" y1="24.9" x2="432.5" y2="24.9" stroke="#111" stroke-width="1.3"/>
<line x1="26.0" y1="11.0" x2="28.5" y2="11.0" stroke="#222" stroke-width="1"/>
<text x="25.2" y="12.5" font-family="Liberation Sans, sans-serif" font-size="4.4" fill="#1a1a1a" text-anchor="end">15</text>
<line x1="26.0" y1="15.2" x2="28.5" y2="15.2" stroke="#222" stroke-width="1"/>
<text x="25.2" y="16.7" font-family="Liberation Sans, sans-serif" font-size="4.4" fill="#1a1a1a" text-anchor="end">10</text>
<line x1="26.0" y1="19.3" x2="28.5" y2="19.3" stroke="#222" stroke-width="1"/>
<text x="25.2" y="20.8" font-family="Liberation Sans, sans-serif" font-size="4.4" fill="#1a1a1a" text-anchor="end">5</text>
<line x1="26.0" y1="23.5" x2="28.5" y2="23.5" stroke="#222" stroke-width="1"/>
<text x="25.2" y="25.0" font-family="Liberation Sans, sans-serif" font-size="4.4" fill="#1a1a1a" text-anchor="end">0</text>
<line x1="26.0" y1="28.20" x2="28.5" y2="28.20" stroke="#222" stroke-width="1"/>
<text x="25.2" y="29.70" font-family="Liberation Sans, sans-serif" font-size="4.4" fill="#1a1a1a" text-anchor="end">100</text>
<line x1="26.0" y1="41.47" x2="28.5" y2="41.47" stroke="#222" stroke-width="1"/>
<text x="25.2" y="42.97" font-family="Liberation Sans, sans-serif" font-size="4.4" fill="#1a1a1a" text-anchor="end">75</text>
<line x1="26.0" y1="54.75" x2="28.5" y2="54.75" stroke="#222" stroke-width="1"/>
<text x="25.2" y="56.25" font-family="Liberation Sans, sans-serif" font-size="4.4" fill="#1a1a1a" text-anchor="end">50</text>
<line x1="26.0" y1="68.02" x2="28.5" y2="68.02" stroke="#222" stroke-width="1"/>
<text x="25.2" y="69.52" font-family="Liberation Sans, sans-serif" font-size="4.4" fill="#1a1a1a" text-anchor="end">25</text>
<line x1="26.0" y1="81.30" x2="28.5" y2="81.30" stroke="#222" stroke-width="1"/>
<text x="25.2" y="82.80" font-family="Liberation Sans, sans-serif" font-size="4.4" fill="#1a1a1a" text-anchor="end">0</text>
<text font-family="Liberation Sans, sans-serif" font-size="10.5" font-weight="bold" fill="#000" stroke="#000" stroke-width="0.45" transform="translate(6.9 16.5) scale(1.06 1)">A</text>
<g opacity="1.0" filter="url(#bl)">
<path d="M30.6 108.3v2.4M34.5 108.3v3.4M35.8 108.3v3.9M37.1 108.3v0.8M38.4 108.3v1.3M39.7 108.3v5.7M41.0 108.3v2.6M42.3 108.3v3.8M43.6 108.3v1.0M44.9 108.3v2.8M46.2 108.3v2.2M47.5 108.3v0.9M50.1 108.3v1.3M51.4 108.3v1.5M52.7 108.3v1.7M54.0 108.3v1.0M55.3 108.3v0.7M56.6 108.3v0.7M57.8 108.3v0.6M59.1 108.3v0.8M60.4 108.3v2.7M61.7 108.3v0.9M63.0 108.3v0.8M64.3 108.3v0.8M65.6 108.3v0.8M66.9 108.3v1.6M68.2 108.3v3.6M69.5 108.3v1.5M70.8 108.3v2.3M72.1 108.3v2.7M73.4 108.3v0.7M74.7 108.3v2.7M76.0 108.3v0.9M77.3 108.3v1.1M78.6 108.3v0.7M79.9 108.3v0.4M81.2 108.3v2.6M82.5 108.3v0.4M83.7 108.3v0.3M85.0 108.3v1.4M86.3 108.3v1.9M87.6 108.3v0.5M91.5 108.3v0.6M92.8 108.3v1.2M94.1 108.3v0.8M95.4 108.3v0.4M96.7 108.3v1.1M98.0 108.3v3.4M99.3 108.3v2.3M100.6 108.3v3.5M101.9 108.3v1.1M103.2 108.3v1.4M104.5 108.3v1.0M105.8 108.3v0.7M107.1 108.3v1.9M108.4 108.3v0.5M109.7 108.3v0.5M110.9 108.3v2.3M112.2 108.3v1.7M113.5 108.3v4.7M114.8 108.3v2.3M116.1 108.3v1.6M117.4 108.3v4.8M118.7 108.3v1.0M120.0 108.3v1.5M121.3 108.3v2.7M122.6 108.3v2.2M123.9 108.3v2.1M125.2 108.3v2.0M126.5 108.3v0.8M127.8 108.3v1.1M129.1 108.3v0.9M131.7 108.3v0.3M133.0 108.3v0.4M134.3 108.3v3.5M135.6 108.3v0.9M136.9 108.3v1.0M138.1 108.3v1.4M139.4 108.3v4.4M140.7 108.3v0.9M142.0 108.3v4.9M143.3 108.3v0.4M144.6 108.3v2.9M145.9 108.3v0.3M147.2 108.3v0.3M148.5 108.3v2.2M149.8 108.3v1.3M151.1 108.3v1.9M152.4 108.3v0.6M153.7 108.3v0.3M155.0 108.3v0.8M156.3 108.3v2.4M157.6 108.3v0.9M158.9 108.3v0.8M160.2 108.3v0.9M161.5 108.3v0.8M162.8 108.3v0.3M164.0 108.3v0.4M165.3 108.3v0.6M166.6 108.3v0.3M167.9 108.3v1.1M169.2 108.3v0.6M170.5 108.3v0.5M171.8 108.3v1.9M173.1 108.3v2.2M174.4 108.3v1.2M175.7 108.3v2.0M177.0 108.3v0.6M178.3 108.3v0.9M179.6 108.3v0.6M180.9 108.3v0.5M182.2 108.3v0.6M183.5 108.3v0.7M184.8 108.3v0.4M186.1 108.3v0.6M187.4 108.3v1.0M188.7 108.3v0.6M190.0 108.3v0.2M191.2 108.3v0.5M192.5 108.3v0.5M193.8 108.3v0.9M195.1 108.3v3.0M196.4 108.3v0.5M197.7 108.3v0.4M199.0 108.3v3.9M200.3 108.3v1.1M201.6 108.3v2.1M202.9 108.3v3.4M204.2 108.3v0.7M205.5 108.3v1.0M206.8 108.3v0.4M208.1 108.3v1.2M209.4 108.3v0.3M210.7 108.3v1.9M212.0 108.3v0.8M213.3 108.3v2.7M214.6 108.3v0.6M215.9 108.3v1.0M217.2 108.3v1.6M218.4 108.3v1.5M219.7 108.3v1.3M221.0 108.3v3.2M222.3 108.3v0.5M223.6 108.3v2.3M224.9 108.3v0.9M226.2 108.3v3.5M227.5 108.3v0.3M228.8 108.3v1.1M230.1 108.3v0.4M231.4 108.3v1.1M232.7 108.3v0.2M234.0 108.3v0.3M235.3 108.3v0.8M236.6 108.3v3.4M237.9 108.3v1.1M239.2 108.3v3.2M240.5 108.3v2.1M241.8 108.3v0.6M243.1 108.3v2.0M244.3 108.3v1.3M245.6 108.3v1.7M246.9 108.3v1.2M248.2 108.3v1.3M249.5 108.3v0.7M250.8 108.3v0.4M252.1 108.3v0.7M253.4 108.3v0.6M254.7 108.3v0.9M256.0 108.3v1.0M257.3 108.3v1.4M258.6 108.3v1.0M259.9 108.3v0.4M261.2 108.3v1.5M262.5 108.3v3.1M263.8 108.3v5.2M265.1 108.3v0.3M266.4 108.3v0.8M267.7 108.3v0.7M269.0 108.3v1.1M270.3 108.3v0.6M271.5 108.3v0.8M272.8 108.3v0.8M274.1 108.3v0.3M275.4 108.3v0.7M276.7 108.3v5.0M278.0 108.3v1.2M279.3 108.3v1.1M280.6 108.3v4.2M281.9 108.3v0.5M283.2 108.3v3.5M284.5 108.3v4.1M285.8 108.3v0.8M287.1 108.3v2.3M288.4 108.3v2.5M289.7 108.3v1.7M291.0 108.3v0.9M292.3 108.3v0.2M293.6 108.3v1.0M294.9 108.3v4.7M296.2 108.3v2.3M297.5 108.3v4.4M298.7 108.3v0.7M300.0 108.3v3.2M301.3 108.3v4.8M302.6 108.3v1.1M303.9 108.3v0.4M305.2 108.3v1.9M306.5 108.3v0.9M307.8 108.3v1.0M309.1 108.3v0.7M310.4 108.3v0.6M311.7 108.3v0.3M313.0 108.3v1.0M314.3 108.3v0.7M315.6 108.3v0.9M316.9 108.3v2.3M318.2 108.3v0.4M319.5 108.3v0.6M320.8 108.3v0.6M322.1 108.3v2.8M323.4 108.3v0.9M324.6 108.3v1.4M325.9 108.3v1.4M327.2 108.3v1.7M328.5 108.3v2.8M329.8 108.3v0.9M331.1 108.3v1.6M332.4 108.3v1.8M333.7 108.3v0.6M335.0 108.3v1.3M336.3 108.3v0.7M337.6 108.3v0.6M338.9 108.3v0.4M340.2 108.3v1.0M341.5 108.3v0.4M342.8 108.3v0.4M344.1 108.3v0.9M345.4 108.3v0.4M346.7 108.3v0.3M348.0 108.3v0.4M349.3 108.3v0.9M350.6 108.3v0.4M351.8 108.3v1.0M353.1 108.3v0.9M354.4 108.3v0.9M355.7 108.3v0.9M357.0 108.3v1.3M358.3 108.3v0.3M359.6 108.3v1.5M360.9 108.3v3.7M362.2 108.3v7.4M363.5 108.3v2.3M364.8 108.3v2.5M366.1 108.3v0.8M367.4 108.3v0.6M368.7 108.3v0.5M370.0 108.3v2.3M371.3 108.3v0.6M372.6 108.3v1.0M373.9 108.3v0.5M375.2 108.3v0.4M376.5 108.3v0.8M377.8 108.3v0.6M379.0 108.3v0.7M380.3 108.3v1.7M381.6 108.3v2.9M382.9 108.3v1.4M384.2 108.3v0.3M385.5 108.3v4.3M386.8 108.3v1.1M388.1 108.3v0.4M389.4 108.3v1.1M390.7 108.3v0.8M392.0 108.3v2.4M393.3 108.3v8.0M394.6 108.3v1.8M395.9 108.3v0.8M397.2 108.3v1.4M398.5 108.3v0.3M399.8 108.3v1.9M401.1 108.3v1.7M402.4 108.3v0.3M404.9 108.3v0.2M406.2 108.3v1.3M407.5 108.3v0.9M408.8 108.3v6.1M410.1 108.3v3.1M411.4 108.3v3.4M412.7 108.3v1.9M414.0 108.3v0.5M415.3 108.3v2.2M416.6 108.3v0.8M417.9 108.3v0.7M419.2 108.3v1.1M420.5 108.3v1.4M421.8 108.3v1.2M423.1 108.3v0.7M424.4 108.3v0.6M425.7 108.3v0.6M427.0 108.3v1.3M428.3 108.3v1.5M429.6 108.3v0.5M430.9 108.3v4.2" stroke="#3585e8" stroke-width="1.50" fill="none" shape-rendering="auto"/>
<path d="M30.6 110.6v1.5M31.9 108.4v0.5M33.2 108.4v1.0M34.5 111.6v2.4M35.8 112.1v7.1M37.1 109.1v0.6M38.4 109.6v1.0M39.7 113.9v3.4M41.0 110.8v1.8M42.3 112.0v1.8M43.6 109.2v4.1M44.9 111.0v5.6M46.2 110.5v3.2M47.5 109.2v4.8M48.8 108.4v2.7M50.1 109.5v4.2M51.4 109.7v0.9M52.7 110.0v1.7M54.0 109.3v2.1M55.3 108.9v0.5M56.6 109.0v0.9M57.8 108.8v2.8M59.1 109.1v2.2M60.4 110.9v0.9M61.7 109.2v1.7M63.0 109.1v0.3M64.3 109.0v0.4M65.6 109.1v0.7M66.9 109.9v2.0M68.2 111.8v0.7M69.5 109.7v1.6M70.8 110.6v2.1M72.1 110.9v11.4M73.4 108.9v1.5M74.7 111.0v0.4M76.0 109.2v0.5M77.3 109.3v0.7M78.6 109.0v0.4M79.9 108.7v1.2M81.2 110.8v8.9M82.5 108.6v2.5M83.7 108.5v2.4M85.0 109.7v1.9M86.3 110.1v0.4M87.6 108.8v0.4M88.9 108.4v0.5M90.2 108.4v1.2M91.5 108.9v1.3M92.8 109.4v0.6M94.1 109.0v1.5M95.4 108.7v0.3M96.7 109.3v0.4M98.0 111.7v1.0M99.3 110.5v1.4M100.6 111.8v0.3M101.9 109.3v0.7M103.2 109.6v0.5M104.5 109.3v4.0M105.8 109.0v1.1M107.1 110.1v0.9M108.4 108.7v0.9M109.7 108.7v4.8M110.9 110.5v3.9M112.2 109.9v0.7M113.5 113.0v0.9M114.8 110.5v0.9M116.1 109.9v0.9M117.4 113.1v0.9M118.7 109.2v1.8M120.0 109.8v3.9M121.3 111.0v2.5M122.6 110.5v0.8M123.9 110.3v1.5M125.2 110.3v0.7M126.5 109.0v0.9M127.8 109.4v0.6M129.1 109.1v2.9M130.4 108.4v0.7M131.7 108.5v3.3M133.0 108.6v7.5M135.6 109.1v2.8M136.9 109.3v12.2M138.1 109.7v0.7M139.4 112.6v3.0M140.7 109.1v8.1M142.0 113.2v3.5M143.3 108.6v2.5M144.6 111.1v0.6M145.9 108.5v1.4M147.2 108.6v1.0M148.5 110.5v0.6M149.8 109.6v1.6M151.1 110.2v1.4M152.4 108.8v0.8M153.7 108.6v1.1M155.0 109.1v2.7M156.3 110.6v1.2M157.6 109.1v4.2M158.9 109.0v2.9M160.2 109.2v1.7M161.5 109.0v0.4M162.8 108.5v0.6M164.0 108.6v0.6M165.3 108.9v1.6M166.6 108.6v0.5M167.9 109.4v2.0M169.2 108.8v1.1M170.5 108.7v2.8M171.8 110.1v0.7M173.1 110.5v1.0M174.4 109.4v1.2M175.7 110.2v1.0M177.0 108.8v1.7M178.3 109.2v4.9M179.6 108.9v4.9M180.9 108.7v1.4M182.2 108.8v4.0M183.5 109.0v9.2M184.8 108.6v1.0M186.1 108.9v1.2M187.4 109.3v0.4M188.7 108.8v0.8M190.0 108.5v1.0M191.2 108.8v2.5M192.5 108.7v1.3M193.8 109.1v1.1M195.1 111.3v0.6M196.4 108.8v0.5M197.7 108.7v1.5M199.0 112.2v8.3M200.3 109.4v1.6M201.6 110.3v4.9M202.9 111.7v8.8M204.2 108.9v0.8M205.5 109.3v1.0M206.8 108.6v1.5M208.1 109.5v9.3M209.4 108.6v0.7M210.7 110.2v4.8M212.0 109.1v1.0M213.3 111.0v1.0M214.6 108.9v0.5M215.9 109.2v0.3M217.2 109.9v2.4M218.4 109.8v3.3M219.7 109.6v3.6M221.0 111.5v0.4M222.3 108.7v0.2M223.6 110.6v1.2M224.9 109.2v0.5M226.2 111.8v0.9M227.5 108.6v1.8M228.8 109.4v0.8M230.1 108.6v0.5M231.4 109.3v1.3M232.7 108.5v0.8M234.0 108.6v1.7M235.3 109.0v0.3M236.6 111.6v2.1M237.9 109.3v0.4M239.2 111.5v5.0M240.5 110.4v3.4M241.8 108.9v1.5M243.1 110.3v0.7M244.3 109.5v1.9M245.6 109.9v1.6M246.9 109.4v0.6M248.2 109.5v1.8M249.5 108.9v0.5M250.8 108.7v0.5M252.1 108.9v1.6M253.4 108.9v4.0M254.7 109.2v1.1M256.0 109.3v0.4M257.3 109.6v1.7M258.6 109.3v1.8M259.9 108.7v2.5M261.2 109.7v0.9M262.5 111.3v1.3M263.8 113.4v4.8M265.1 108.6v0.4M266.4 109.0v1.3M267.7 109.0v1.9M269.0 109.3v0.8M270.3 108.8v1.4M271.5 109.0v1.2M272.8 109.1v3.5M274.1 108.6v18.6M275.4 108.9v1.4M276.7 113.3v0.4M278.0 109.4v0.8M279.3 109.4v2.1M280.6 112.5v0.4M281.9 108.7v0.8M283.2 111.7v0.9M284.5 112.3v4.5M285.8 109.1v1.4M287.1 110.5v1.1M288.4 110.8v0.6M289.7 109.9v1.7M291.0 109.2v0.2M292.3 108.5v0.4M293.6 109.3v3.2M294.9 112.9v3.0M296.2 110.5v4.7M297.5 112.7v0.8M298.7 109.0v0.8M300.0 111.4v1.6M301.3 113.0v1.7M302.6 109.3v1.9M303.9 108.6v3.7M305.2 110.1v8.4M306.5 109.2v0.5M307.8 109.3v1.1M309.1 108.9v0.5M310.4 108.8v0.3M311.7 108.5v1.4M313.0 109.2v5.9M314.3 109.0v3.3M315.6 109.1v1.2M316.9 110.5v1.3M318.2 108.6v1.4M319.5 108.9v3.8M320.8 108.8v0.9M322.1 111.1v0.7M323.4 109.2v0.5M324.6 109.6v0.8M325.9 109.7v0.4M327.2 109.9v1.8M328.5 111.1v3.0M329.8 109.1v0.8M331.1 109.8v3.9M332.4 110.1v0.9M333.7 108.8v0.6M335.0 109.6v0.5M336.3 108.9v0.6M338.9 108.6v0.3M340.2 109.2v1.2M341.5 108.6v1.8M342.8 108.6v1.4M344.1 109.1v1.1M345.4 108.7v1.0M346.7 108.5v2.4M348.0 108.7v3.9M349.3 109.2v1.2M350.6 108.7v1.3M351.8 109.3v4.1M353.1 109.1v2.4M354.4 109.1v2.6M355.7 109.2v1.6M357.0 109.5v2.7M359.6 109.7v2.9M360.9 111.9v1.8M362.2 115.6v0.4M363.5 110.6v1.0M364.8 110.7v5.6M366.1 109.1v6.0M367.4 108.8v4.0M368.7 108.8v6.0M370.0 110.5v1.3M371.3 108.9v0.9M372.6 109.3v3.2M373.9 108.8v0.6M375.2 108.6v3.1M376.5 109.1v1.1M377.8 108.8v0.5M379.0 108.9v1.6M380.3 109.9v0.5M381.6 111.1v1.3M382.9 109.6v1.1M384.2 108.6v0.9M385.5 112.5v2.3M386.8 109.3v2.0M388.1 108.6v3.1M389.4 109.4v4.8M390.7 109.0v0.7M392.0 110.7v0.2M393.3 116.2v0.8M394.6 110.1v1.5M395.9 109.0v1.1M397.2 109.6v1.3M398.5 108.5v0.3M399.8 110.2v0.6M401.1 110.0v0.6M402.4 108.6v0.4M403.7 108.4v0.4M404.9 108.5v0.9M406.2 109.6v3.8M407.5 109.1v1.9M408.8 114.4v2.0M410.1 111.4v1.9M411.4 111.6v5.0M412.7 110.1v2.4M414.0 108.8v1.1M415.3 110.4v3.1M416.6 109.0v1.4M417.9 108.9v2.0M419.2 109.4v1.2M420.5 109.7v0.4M421.8 109.4v1.6M423.1 109.0v2.7M424.4 108.8v2.0M425.7 108.8v12.6M427.0 109.6v3.4M428.3 109.7v4.1M429.6 108.7v1.1M430.9 112.5v0.7" stroke="#ffae5f" stroke-width="1.50" fill="none" shape-rendering="auto"/>
<path d="M30.6 112.1v1.1M31.9 108.9v0.2M33.2 109.4v0.4M34.5 113.9v0.4M35.8 119.2v0.5M37.1 109.6v0.3M38.4 110.5v2.0M39.7 117.3v1.5M41.0 112.6v4.3M42.3 113.7v1.3M43.6 113.3v0.7M44.9 116.6v0.5M47.5 113.9v0.3M48.8 111.1v0.3M51.4 110.6v0.2M52.7 111.6v0.5M54.0 111.3v1.6M55.3 109.4v0.4M56.6 109.8v0.2M57.8 111.5v0.2M59.1 111.2v0.3M60.4 111.8v0.6M61.7 110.8v0.6M63.0 109.3v1.0M64.3 109.3v0.3M65.6 109.7v1.1M66.9 111.8v0.7M68.2 112.5v2.3M69.5 111.3v2.5M70.8 112.6v0.6M72.1 122.2v0.4M73.4 110.4v0.2M74.7 111.4v0.4M76.0 109.7v3.0M77.3 110.0v1.0M78.6 109.3v0.6M79.9 109.8v2.7M81.2 119.6v0.4M82.5 111.1v0.2M83.7 110.9v1.2M85.0 111.5v2.2M86.3 110.5v0.3M87.6 109.1v0.8M88.9 108.9v1.8M90.2 109.6v2.3M91.5 110.2v0.5M92.8 109.9v1.8M94.1 110.5v1.6M95.4 108.9v2.4M96.7 109.7v1.2M98.0 112.6v0.8M99.3 111.9v2.2M100.6 112.0v1.4M101.9 110.0v2.3M103.2 110.0v3.3M104.5 113.2v0.3M107.1 111.0v0.7M108.4 109.6v8.6M109.7 113.4v0.5M110.9 114.4v1.2M114.8 111.4v0.8M116.1 110.7v1.1M117.4 113.9v1.5M118.7 111.0v0.4M120.0 113.7v0.9M121.3 113.4v0.7M122.6 111.2v2.0M123.9 111.7v0.6M125.2 110.9v0.7M126.5 109.9v1.2M127.8 110.0v1.4M130.4 109.0v1.0M131.7 111.7v0.6M133.0 116.1v1.7M134.3 111.9v0.5M135.6 111.9v1.0M136.9 121.4v0.4M138.1 110.4v0.5M139.4 115.6v0.4M140.7 117.2v0.6M142.0 116.6v1.4M143.3 111.1v2.3M145.9 109.9v1.2M147.2 109.6v0.3M148.5 111.0v0.8M149.8 111.1v3.4M151.1 111.6v0.3M152.4 109.6v0.9M153.7 109.6v4.7M155.0 111.8v1.4M156.3 111.7v3.4M157.6 113.2v3.8M158.9 111.8v1.8M160.2 110.8v0.9M161.5 109.4v0.3M162.8 109.1v0.6M164.0 109.2v0.4M165.3 110.4v4.2M166.6 109.1v1.6M167.9 111.4v0.6M169.2 109.9v0.6M170.5 111.4v0.4M171.8 110.8v1.2M173.1 111.5v2.4M174.4 110.6v3.9M175.7 111.2v0.4M177.0 110.5v2.2M178.3 114.1v2.8M179.6 113.7v8.2M180.9 110.1v0.3M182.2 112.7v0.3M183.5 118.1v0.3M184.8 109.6v0.2M187.4 109.7v0.5M188.7 109.6v0.8M190.0 109.5v1.2M191.2 111.2v0.6M192.5 110.0v0.4M193.8 110.2v0.9M195.1 111.8v0.4M196.4 109.2v0.3M197.7 110.1v1.8M199.0 120.4v1.6M200.3 111.0v0.2M201.6 115.1v0.8M202.9 120.4v2.7M204.2 109.7v1.3M205.5 110.3v1.1M206.8 110.0v0.4M208.1 118.8v0.2M209.4 109.2v0.5M210.7 115.0v0.7M212.0 110.1v0.3M213.3 112.0v0.8M215.9 109.5v0.5M217.2 112.2v0.3M218.4 113.0v0.9M219.7 113.2v1.5M221.0 111.8v1.5M222.3 108.9v1.8M223.6 111.8v0.6M224.9 109.6v1.0M226.2 112.6v0.7M227.5 110.4v4.7M228.8 110.1v1.0M230.1 109.1v0.8M231.4 110.5v1.2M232.7 109.2v0.4M234.0 110.3v0.8M235.3 109.3v0.4M237.9 109.7v0.3M239.2 116.5v0.2M240.5 113.7v0.5M241.8 110.3v1.6M243.1 110.9v2.1M244.3 111.4v1.0M245.6 111.5v1.0M246.9 110.0v0.7M248.2 111.3v4.5M249.5 109.4v0.2M250.8 109.2v0.4M252.1 110.4v0.5M253.4 112.8v1.2M254.7 110.2v0.9M256.0 109.6v1.0M257.3 111.3v2.2M259.9 111.1v0.3M261.2 110.6v0.3M262.5 112.6v0.2M265.1 108.9v0.6M266.4 110.2v2.5M267.7 110.8v0.6M269.0 110.1v1.9M270.3 110.2v2.5M271.5 110.1v0.8M272.8 112.5v0.7M274.1 127.1v0.5M275.4 110.3v0.3M276.7 113.6v0.3M279.3 111.4v0.8M280.6 112.8v1.6M281.9 109.5v0.4M283.2 112.6v0.5M284.5 116.8v0.4M285.8 110.4v0.7M287.1 111.6v0.2M288.4 111.3v0.3M289.7 111.6v0.3M291.0 109.4v0.6M292.3 108.8v1.4M293.6 112.5v0.5M294.9 115.8v0.9M296.2 115.2v1.4M297.5 113.4v0.9M298.7 109.7v0.3M300.0 113.0v1.5M301.3 114.7v3.4M302.6 111.1v5.6M303.9 112.3v0.5M305.2 118.5v0.8M306.5 109.6v1.0M307.8 110.3v0.4M310.4 109.1v0.7M311.7 109.9v1.8M313.0 115.1v1.3M314.3 112.2v0.9M315.6 110.3v0.3M316.9 111.8v0.3M319.5 112.6v0.8M320.8 109.7v2.8M322.1 111.8v1.0M323.4 109.7v1.2M324.6 110.3v0.6M325.9 110.0v0.9M327.2 111.7v0.7M328.5 114.0v1.1M329.8 109.8v0.6M332.4 110.9v0.5M333.7 109.4v0.8M335.0 110.0v0.2M336.3 109.5v1.2M337.6 109.0v0.7M338.9 108.9v0.5M341.5 110.3v0.6M342.8 110.0v0.4M344.1 110.2v0.5M345.4 109.7v2.0M346.7 110.9v0.4M348.0 112.5v0.5M349.3 110.3v1.0M350.6 109.9v0.4M351.8 113.3v0.2M353.1 111.5v0.3M354.4 111.6v0.7M355.7 110.8v0.5M357.0 112.2v0.2M358.3 108.6v2.8M359.6 112.6v0.8M360.9 113.7v0.7M362.2 116.0v0.7M363.5 111.5v0.9M364.8 116.3v1.6M366.1 115.0v6.6M367.4 112.8v3.7M368.7 114.7v0.7M370.0 111.8v1.0M371.3 109.8v1.1M372.6 112.4v0.4M373.9 109.3v0.5M375.2 111.7v0.5M376.5 110.1v0.8M377.8 109.3v0.2M379.0 110.5v0.4M380.3 110.4v3.1M381.6 112.3v0.6M382.9 110.7v0.6M384.2 109.4v1.1M385.5 114.8v0.7M386.8 111.3v0.7M388.1 111.7v1.2M389.4 114.2v0.5M390.7 109.6v1.1M392.0 110.8v0.9M393.3 117.0v2.0M394.6 111.6v2.4M395.9 110.1v1.0M397.2 110.9v1.2M398.5 108.8v0.9M399.8 110.7v1.1M401.1 110.5v1.4M402.4 109.0v0.5M403.7 108.8v0.3M404.9 109.3v1.0M406.2 113.3v0.8M407.5 111.0v0.4M408.8 116.3v0.8M410.1 113.3v1.4M411.4 116.6v0.3M412.7 112.5v1.3M414.0 109.8v0.4M415.3 113.5v0.3M416.6 110.4v0.4M417.9 110.8v1.1M419.2 110.5v0.3M420.5 110.0v0.4M421.8 111.0v2.0M423.1 111.6v0.2M424.4 110.8v0.6M425.7 121.4v0.5M427.0 112.9v0.7M428.3 113.8v2.9M429.6 109.7v0.6M430.9 113.2v0.7" stroke="#ff5c80" stroke-width="1.50" fill="none" shape-rendering="auto"/>
<path d="M33.2 109.7v0.4M34.5 114.3v0.3M35.8 119.6v1.8M37.1 109.9v0.5M38.4 112.5v0.3M39.7 118.7v0.4M41.0 116.8v0.8M42.3 115.0v0.7M43.6 113.9v1.6M44.9 117.0v0.5M46.2 113.7v0.3M47.5 114.2v1.7M48.8 111.4v1.1M52.7 112.0v0.4M54.0 112.8v0.9M56.6 110.0v0.3M57.8 111.7v0.5M59.1 111.5v0.5M60.4 112.3v0.4M61.7 111.3v1.7M63.0 110.3v0.5M64.3 109.6v0.4M65.6 110.7v0.4M66.9 112.4v0.4M68.2 114.8v4.7M73.4 110.6v0.4M74.7 111.7v0.5M76.0 112.7v0.5M77.3 110.9v0.5M78.6 109.9v0.2M79.9 112.4v0.3M85.0 113.6v0.6M86.3 110.8v1.0M87.6 109.8v0.6M90.2 111.8v0.2M91.5 110.6v0.7M92.8 111.7v2.3M94.1 112.0v1.0M95.4 111.2v0.7M96.7 110.8v0.7M98.0 113.3v0.2M99.3 114.1v0.4M100.6 113.4v0.3M101.9 112.2v0.3M103.2 113.3v0.9M104.5 113.5v2.4M107.1 111.7v4.5M108.4 118.2v0.5M109.7 113.9v1.0M116.1 111.8v0.2M117.4 115.4v0.9M118.7 111.3v1.5M120.0 114.6v0.5M121.3 114.0v0.3M122.6 113.2v1.7M123.9 112.3v0.7M125.2 111.5v0.5M126.5 111.0v0.2M127.8 111.3v0.9M129.1 112.0v0.4M130.4 110.0v0.2M131.7 112.3v0.5M133.0 117.7v0.6M134.3 112.3v0.3M135.6 112.8v0.5M136.9 121.8v3.4M138.1 110.9v0.4M142.0 117.9v0.5M143.3 113.3v1.0M144.6 111.7v0.3M145.9 111.1v0.8M147.2 109.8v0.3M151.1 111.8v0.3M153.7 114.3v1.5M155.0 113.1v0.2M156.3 115.0v1.9M158.9 113.5v0.2M162.8 109.7v0.4M165.3 114.6v0.4M166.6 110.6v0.8M167.9 112.0v0.3M169.2 110.4v1.1M170.5 111.8v0.3M171.8 111.9v0.3M173.1 113.8v0.5M174.4 114.5v0.6M175.7 111.5v1.1M177.0 112.7v0.2M178.3 116.9v0.2M180.9 110.3v0.2M182.2 113.0v0.4M183.5 118.4v0.2M184.8 109.8v0.4M186.1 110.1v0.4M187.4 110.1v0.3M188.7 110.3v0.6M190.0 110.6v0.2M191.2 111.7v0.2M193.8 111.0v0.2M195.1 112.1v0.4M196.4 109.4v0.2M197.7 111.9v0.2M199.0 122.0v0.2M201.6 115.8v0.4M204.2 110.9v0.8M205.5 111.3v0.5M206.8 110.4v0.6M208.1 118.9v0.5M209.4 109.6v0.2M213.3 112.7v0.2M214.6 109.4v0.8M215.9 109.9v0.6M218.4 113.9v0.4M223.6 112.3v1.9M224.9 110.6v0.4M228.8 111.1v0.3M230.1 109.8v0.5M231.4 111.7v0.2M232.7 109.5v0.2M234.0 111.1v2.1M235.3 109.6v0.3M239.2 116.6v0.6M240.5 114.2v1.2M241.8 111.9v1.2M243.1 112.9v0.4M244.3 112.4v0.7M245.6 112.5v0.6M246.9 110.6v1.7M248.2 115.7v0.4M249.5 109.5v0.3M250.8 109.5v0.6M252.1 110.9v1.3M253.4 114.0v0.3M254.7 111.0v0.3M256.0 110.6v0.4M257.3 113.4v0.3M259.9 111.3v0.5M261.2 110.9v0.5M263.8 118.3v0.3M266.4 112.7v0.3M269.0 112.0v0.5M270.3 112.7v0.6M274.1 127.5v0.2M276.7 113.9v0.7M278.0 110.3v0.6M279.3 112.2v3.1M280.6 114.3v1.1M281.9 109.8v0.3M283.2 113.0v0.3M285.8 111.0v0.6M287.1 111.8v1.0M288.4 111.6v0.2M289.7 111.9v0.3M291.0 110.0v0.2M292.3 110.2v1.5M293.6 112.9v0.3M294.9 116.7v0.9M296.2 116.6v1.5M297.5 114.3v0.4M298.7 110.0v0.3M303.9 112.8v0.2M305.2 119.2v0.7M306.5 110.6v0.8M307.8 110.6v0.6M310.4 109.7v0.7M311.7 111.6v0.6M313.0 116.4v0.5M316.9 112.1v0.3M319.5 113.4v0.5M324.6 110.9v0.4M325.9 110.9v0.4M328.5 115.1v0.4M329.8 110.4v0.8M331.1 113.8v0.6M332.4 111.4v0.9M333.7 110.1v1.7M335.0 110.2v0.6M337.6 109.6v0.4M338.9 109.3v0.9M341.5 110.9v0.4M342.8 110.3v0.9M344.1 110.6v0.3M345.4 111.6v4.4M346.7 111.2v2.4M348.0 113.0v0.5M349.3 111.2v0.9M351.8 113.5v0.4M353.1 111.8v0.3M354.4 112.3v0.2M355.7 111.2v0.3M357.0 112.4v0.4M358.3 111.4v0.3M359.6 113.4v0.3M360.9 114.3v0.3M362.2 116.6v0.3M363.5 112.4v0.8M364.8 117.8v0.7M366.1 121.6v0.6M367.4 116.4v0.2M370.0 112.7v0.5M371.3 110.8v0.8M372.6 112.8v0.4M373.9 109.8v0.6M375.2 112.1v0.6M376.5 110.9v0.6M379.0 110.9v0.3M382.9 111.2v0.5M385.5 115.4v0.2M386.8 112.0v0.3M388.1 112.8v0.8M389.4 114.6v2.2M390.7 110.7v0.7M392.0 111.7v0.4M393.3 119.0v0.4M394.6 113.9v0.3M395.9 111.0v0.8M397.2 112.0v0.6M398.5 109.6v0.2M399.8 111.7v1.9M401.1 111.9v0.4M402.4 109.4v0.6M406.2 114.0v0.6M407.5 111.3v0.3M408.8 117.0v1.1M410.1 114.6v1.1M411.4 116.8v1.2M412.7 113.8v0.6M414.0 110.2v0.3M415.3 113.8v2.2M416.6 110.7v0.7M417.9 111.8v0.4M419.2 110.7v0.6M420.5 110.3v0.3M421.8 112.9v1.7M423.1 111.8v0.5M424.4 111.3v1.1M425.7 121.8v1.5M427.0 113.6v0.5M429.6 110.2v0.2M430.9 113.8v0.3" stroke="#ff8dc6" stroke-width="1.50" fill="none" shape-rendering="auto"/>
<path d="M30.6 113.2v3.5M31.9 109.1v5.1M33.2 110.0v2.2M34.5 114.5v2.0M35.8 121.3v1.6M37.1 110.3v2.5M38.4 112.7v1.5M39.7 119.1v4.9M41.0 117.6v1.6M42.3 115.6v0.7M43.6 115.5v0.8M44.9 117.4v3.8M46.2 113.9v9.3M47.5 115.9v4.6M48.8 112.4v1.5M50.1 113.8v1.4M51.4 110.8v4.8M52.7 112.4v4.8M54.0 113.6v1.2M55.3 109.8v12.4M56.6 110.2v8.6M57.8 112.1v0.8M59.1 111.9v2.1M60.4 112.7v2.9M61.7 113.0v0.7M63.0 110.7v3.2M64.3 110.0v3.1M65.6 111.1v8.3M66.9 112.8v8.0M68.2 119.4v3.3M69.5 113.8v4.3M70.8 113.3v2.9M72.1 122.7v3.1M73.4 110.9v6.6M74.7 112.2v3.9M76.0 113.1v2.9M77.3 111.4v2.1M78.6 110.1v1.9M79.9 112.6v0.9M81.2 120.1v1.7M82.5 111.4v8.8M83.7 112.2v6.2M85.0 114.1v12.5M86.3 111.7v5.0M87.6 110.4v1.1M88.9 110.8v1.2M90.2 111.9v1.5M91.5 111.2v0.7M92.8 113.9v3.9M94.1 113.0v3.3M95.4 111.9v7.2M96.7 111.5v3.9M98.0 113.5v8.6M99.3 114.4v2.1M100.6 113.6v1.1M101.9 112.5v2.2M103.2 114.1v0.9M104.5 115.9v4.1M105.8 110.3v3.7M107.1 116.2v1.2M108.4 118.6v1.0M109.7 114.9v0.8M110.9 115.7v1.8M112.2 110.7v2.7M113.5 114.1v1.6M114.8 112.3v3.6M116.1 111.9v3.1M117.4 116.2v4.9M118.7 112.8v4.7M120.0 115.0v2.3M121.3 114.3v6.3M122.6 114.8v1.2M123.9 112.9v1.6M125.2 112.0v2.9M126.5 111.2v8.6M127.8 112.1v1.3M129.1 112.4v1.4M130.4 110.2v8.3M131.7 112.7v2.5M133.0 118.2v1.3M134.3 112.5v3.7M135.6 113.2v2.9M136.9 125.1v0.6M138.1 111.2v1.9M139.4 116.0v1.3M140.7 117.8v1.2M142.0 118.4v1.0M143.3 114.2v1.5M144.6 112.0v6.0M145.9 111.8v2.5M147.2 110.1v1.0M148.5 111.8v1.4M149.8 114.6v1.8M151.1 112.1v2.7M152.4 110.5v1.7M153.7 115.8v2.9M155.0 113.3v4.4M156.3 116.9v4.1M157.6 117.1v2.3M158.9 113.7v0.9M160.2 111.8v0.7M161.5 109.8v14.4M162.8 110.1v4.5M164.0 109.6v2.3M165.3 115.0v2.4M166.6 111.3v3.2M167.9 112.2v6.6M169.2 111.5v6.2M170.5 112.0v4.5M171.8 112.2v6.7M173.1 114.3v2.5M174.4 115.0v3.6M175.7 112.5v0.7M177.0 112.9v1.7M178.3 117.0v12.5M179.6 122.0v2.1M180.9 110.5v1.2M182.2 113.3v16.5M183.5 118.5v4.9M184.8 110.2v2.0M186.1 110.4v0.9M187.4 110.3v3.4M188.7 110.8v7.9M190.0 110.8v9.7M191.2 111.8v4.4M192.5 110.3v0.6M193.8 111.2v4.7M195.1 112.5v9.5M196.4 109.6v4.7M197.7 112.0v1.3M199.0 122.2v0.9M200.3 111.3v1.1M201.6 116.2v4.9M202.9 123.2v1.5M204.2 111.6v3.9M205.5 111.8v0.9M206.8 111.0v0.3M208.1 119.4v1.2M209.4 109.8v1.2M210.7 115.8v2.9M212.0 110.5v2.1M213.3 112.9v2.5M214.6 110.1v3.7M215.9 110.4v2.6M217.2 112.6v2.8M218.4 114.3v2.0M219.7 114.7v3.8M221.0 113.2v1.1M222.3 110.8v3.9M223.6 114.2v1.5M224.9 110.9v3.0M226.2 113.3v2.8M227.5 115.1v3.9M228.8 111.3v1.9M230.1 110.2v2.9M231.4 111.9v1.7M232.7 109.7v8.2M234.0 113.1v2.1M235.3 109.9v0.5M236.6 114.0v6.3M237.9 110.1v2.1M239.2 117.2v2.1M240.5 115.3v1.9M241.8 113.1v1.2M243.1 113.3v7.1M244.3 113.0v2.3M245.6 113.0v2.3M246.9 112.3v2.2M248.2 116.1v1.5M249.5 109.8v11.4M250.8 110.1v3.9M252.1 112.1v2.0M253.4 114.2v0.9M254.7 111.3v1.5M256.0 111.0v1.9M257.3 113.7v1.4M258.6 111.2v0.8M259.9 111.8v2.4M261.2 111.3v4.1M262.5 112.9v1.8M263.8 118.5v2.2M265.1 109.6v3.4M266.4 113.0v2.7M267.7 111.5v14.3M269.0 112.5v9.9M270.3 113.2v3.3M271.5 110.9v16.1M272.8 113.2v1.9M274.1 127.7v2.2M275.4 110.6v0.6M276.7 114.5v10.0M278.0 110.9v1.5M279.3 115.2v8.3M280.6 115.4v2.6M281.9 110.1v2.0M283.2 113.2v3.7M284.5 117.2v9.7M285.8 111.6v7.2M287.1 112.8v4.6M288.4 111.7v3.0M289.7 112.2v13.2M291.0 110.1v8.4M292.3 111.6v5.3M293.6 113.2v1.3M294.9 117.6v1.5M296.2 118.1v5.0M297.5 114.6v7.0M298.7 110.2v7.7M300.0 114.6v7.8M301.3 118.1v8.1M302.6 116.8v3.3M303.9 112.9v5.2M305.2 119.9v0.5M306.5 111.3v5.7M307.8 111.1v4.5M309.1 109.7v5.4M310.4 110.3v1.5M311.7 112.2v4.3M313.0 116.8v1.3M314.3 113.1v4.4M315.6 110.6v1.5M316.9 112.4v1.5M318.2 110.1v0.4M319.5 113.8v1.7M320.8 112.5v2.9M322.1 112.8v4.3M323.4 110.9v1.1M324.6 111.3v1.7M325.9 111.2v2.4M327.2 112.5v4.2M328.5 115.4v2.3M329.8 111.2v3.7M331.1 114.3v7.0M332.4 112.3v2.7M333.7 111.8v4.2M335.0 110.7v1.2M336.3 110.8v4.8M337.6 110.0v5.3M338.9 110.2v5.1M340.2 110.5v1.4M341.5 111.2v1.6M342.8 111.2v4.8M344.1 110.9v7.9M345.4 115.9v3.9M346.7 113.6v4.5M348.0 113.4v7.8M349.3 112.1v2.1M350.6 110.2v0.8M351.8 113.9v0.9M353.1 112.1v2.3M354.4 112.5v6.4M355.7 111.5v7.2M357.0 112.7v2.2M358.3 111.6v5.1M359.6 113.7v1.5M360.9 114.6v0.5M362.2 116.9v1.5M363.5 113.2v6.2M364.8 118.5v1.2M366.1 122.2v0.5M367.4 116.6v2.7M368.7 115.5v2.5M370.0 113.2v1.2M371.3 111.6v6.0M372.6 113.1v0.6M373.9 110.4v0.5M375.2 112.6v7.3M376.5 111.4v7.3M377.8 109.6v1.8M379.0 111.1v3.4M380.3 113.6v2.1M381.6 113.0v1.4M382.9 111.7v3.3M384.2 110.6v5.6M385.5 115.5v8.8M386.8 112.2v5.7M388.1 113.6v5.2M389.4 116.7v3.1M390.7 111.3v4.0M392.0 112.0v1.4M393.3 119.3v6.6M394.6 114.2v10.7M395.9 111.7v3.8M397.2 112.5v4.5M398.5 109.8v5.2M399.8 113.6v2.4M401.1 112.3v4.6M402.4 110.0v6.7M403.7 109.1v5.0M404.9 110.3v2.5M406.2 114.5v4.0M407.5 111.6v17.8M408.8 118.1v3.7M410.1 115.6v4.6M411.4 118.0v2.9M412.7 114.3v3.0M414.0 110.5v4.0M415.3 115.9v2.7M416.6 111.4v2.8M417.9 112.2v5.1M419.2 111.3v3.2M420.5 110.6v11.9M421.8 114.6v5.4M423.1 112.3v6.8M424.4 112.4v3.0M425.7 123.3v1.2M427.0 114.0v2.6M428.3 116.8v4.3M429.6 110.4v1.5M430.9 114.1v4.6" stroke="#e0e3e3" stroke-width="1.50" fill="none" shape-rendering="auto"/>
<path d="M30.6 116.7v9.8M31.9 114.2v12.6M33.2 112.2v7.2M34.5 116.5v6.9M35.8 122.9v5.9M37.1 112.8v17.3M38.4 114.2v17.6M39.7 123.9v5.0M41.0 119.1v11.0M42.3 116.3v13.6M43.6 116.2v17.8M44.9 121.2v6.1M46.2 123.2v4.7M47.5 120.4v17.4M48.8 113.9v15.9M50.1 115.1v5.5M51.4 115.6v2.9M52.7 117.1v7.7M54.0 114.7v12.1M55.3 122.2v7.8M56.6 118.8v12.7M57.8 112.9v5.6M59.1 114.0v4.7M60.4 115.5v6.9M61.7 113.6v14.2M63.0 113.9v7.9M64.3 113.0v9.4M65.6 119.3v15.9M66.9 120.7v12.3M68.2 122.7v5.8M69.5 118.1v10.7M70.8 116.1v2.0M72.1 125.8v7.8M73.4 117.4v6.3M74.7 116.0v4.1M76.0 116.0v2.3M77.3 113.5v5.8M78.6 111.9v8.1M79.9 113.5v9.0M81.2 121.8v9.1M82.5 120.1v13.5M83.7 118.3v5.3M85.0 126.6v5.4M86.3 116.7v12.9M87.6 111.5v7.5M88.9 111.9v7.3M90.2 113.4v3.7M91.5 111.8v27.0M92.8 117.8v12.9M94.1 116.3v5.4M95.4 119.1v16.8M96.7 115.4v6.6M98.0 122.0v6.7M99.3 116.5v8.3M100.6 114.7v12.1M101.9 114.6v5.8M103.2 115.0v11.2M104.5 119.9v11.0M105.8 113.9v6.7M107.1 117.3v8.7M108.4 119.6v21.9M109.7 115.6v23.5M110.9 117.5v13.3M112.2 113.4v10.0M113.5 115.7v17.1M114.8 115.8v16.5M116.1 115.0v10.7M117.4 121.1v10.9M118.7 117.4v14.8M120.0 117.3v11.6M121.3 120.5v11.7M122.6 115.9v7.2M123.9 114.5v8.4M125.2 114.8v10.4M126.5 119.8v8.6M127.8 113.4v5.0M129.1 113.7v19.6M130.4 118.4v12.6M131.7 115.2v10.0M133.0 119.4v8.0M134.3 116.1v10.1M135.6 116.1v6.2M136.9 125.6v4.5M138.1 113.1v7.5M139.4 117.2v9.0M140.7 119.0v9.8M142.0 119.3v5.9M143.3 115.7v16.7M144.6 117.9v9.3M145.9 114.2v6.5M147.2 111.0v17.0M148.5 113.2v5.6M149.8 116.3v6.9M151.1 114.7v12.8M152.4 112.2v13.5M153.7 118.7v3.2M155.0 117.7v8.5M156.3 120.9v2.8M157.6 119.3v4.5M158.9 114.5v13.4M160.2 112.4v9.3M161.5 124.1v3.4M162.8 114.5v13.6M164.0 111.8v5.5M165.3 117.3v13.6M166.6 114.5v14.1M167.9 118.8v4.8M169.2 117.6v16.5M170.5 116.4v10.4M171.8 118.8v9.1M173.1 116.7v16.1M174.4 118.6v8.8M175.7 113.2v6.0M177.0 114.6v6.1M178.3 129.5v3.5M179.6 124.1v6.8M180.9 111.6v9.3M182.2 129.8v10.1M183.5 123.4v10.3M184.8 112.1v5.7M186.1 111.3v9.7M187.4 113.6v3.3M188.7 118.7v5.3M190.0 120.4v4.4M191.2 116.2v25.4M192.5 110.9v10.8M193.8 115.8v7.6M195.1 122.0v9.4M196.4 114.2v18.0M197.7 113.3v10.2M199.0 123.0v8.0M200.3 112.3v10.5M201.6 121.0v6.5M202.9 124.6v18.9M204.2 115.5v7.6M205.5 112.6v4.9M206.8 111.2v6.9M208.1 120.6v6.5M209.4 110.9v7.9M210.7 118.6v4.1M212.0 112.5v6.6M213.3 115.4v4.2M214.6 113.8v5.1M215.9 113.0v5.5M217.2 115.3v10.5M218.4 116.2v12.1M219.7 118.4v12.0M221.0 114.3v5.8M222.3 114.6v3.8M223.6 115.7v12.3M224.9 113.9v3.1M226.2 116.0v14.2M227.5 119.0v15.1M228.8 113.1v18.2M230.1 113.1v8.5M231.4 113.5v18.5M232.7 117.9v6.0M234.0 115.1v11.6M235.3 110.4v7.1M236.6 120.2v7.7M237.9 112.1v8.3M239.2 119.2v13.8M240.5 117.1v18.8M241.8 114.2v9.1M243.1 120.3v6.7M244.3 115.2v11.2M245.6 115.3v11.7M246.9 114.5v14.4M248.2 117.5v14.4M249.5 121.1v2.9M250.8 113.9v16.4M252.1 114.1v10.6M253.4 115.1v12.7M254.7 112.8v11.6M256.0 112.8v4.2M257.3 115.0v3.6M258.6 111.9v6.5M259.9 114.1v9.5M261.2 115.3v7.8M262.5 114.7v3.3M263.8 120.7v11.5M265.1 113.0v4.8M266.4 115.6v7.6M267.7 125.7v7.3M269.0 122.4v11.5M270.3 116.5v11.3M271.5 127.0v6.1M272.8 115.1v3.4M274.1 129.9v7.4M275.4 111.2v10.4M276.7 124.4v9.8M278.0 112.4v6.1M279.3 123.4v2.9M280.6 117.9v5.7M281.9 112.0v12.1M283.2 116.9v8.3M284.5 126.9v13.2M285.8 118.7v14.8M287.1 117.3v11.1M288.4 114.7v16.6M289.7 125.3v6.6M291.0 118.5v11.1M292.3 116.9v9.7M293.6 114.4v11.1M294.9 119.0v3.1M296.2 123.0v15.1M297.5 121.5v6.4M298.7 117.9v20.4M300.0 122.3v7.1M301.3 126.1v5.6M302.6 120.0v10.1M303.9 118.1v12.7M305.2 120.4v3.0M306.5 116.9v5.7M307.8 115.6v15.4M309.1 115.0v3.0M310.4 111.8v10.6M311.7 116.4v9.7M313.0 118.1v4.3M314.3 117.4v4.2M315.6 112.1v8.2M316.9 113.9v10.4M318.2 110.5v8.6M319.5 115.4v6.1M320.8 115.4v2.7M322.1 117.1v9.4M323.4 111.9v10.7M324.6 113.0v8.3M325.9 113.5v7.5M327.2 116.7v13.7M328.5 117.7v8.1M329.8 114.8v4.3M331.1 121.3v8.9M332.4 114.9v12.1M333.7 116.0v7.9M335.0 111.9v11.7M336.3 115.5v10.3M337.6 115.2v5.4M338.9 115.3v12.3M340.2 111.9v6.4M341.5 112.7v7.5M342.8 116.0v7.8M344.1 118.7v4.9M345.4 119.8v3.1M346.7 118.0v7.0M348.0 121.2v8.7M349.3 114.1v5.6M350.6 111.0v11.2M351.8 114.8v12.8M353.1 114.3v4.8M354.4 118.8v6.0M355.7 118.6v8.4M357.0 114.9v5.4M358.3 116.6v10.3M359.6 115.1v10.6M360.9 115.0v21.2M362.2 118.3v11.5M363.5 119.3v7.8M364.8 119.6v10.8M366.1 122.6v12.1M367.4 119.2v9.9M368.7 117.9v5.0M370.0 114.3v13.8M371.3 117.5v4.9M372.6 113.7v9.1M373.9 110.9v3.1M375.2 119.8v8.7M376.5 118.6v6.2M377.8 111.4v7.2M379.0 114.5v9.9M380.3 115.6v8.3M381.6 114.4v7.3M382.9 114.9v4.3M384.2 116.2v3.2M385.5 124.3v3.9M386.8 117.8v12.1M388.1 118.7v14.2M389.4 119.8v5.4M390.7 115.3v4.8M392.0 113.4v5.6M393.3 125.9v4.7M394.6 124.8v5.1M395.9 115.5v5.4M397.2 116.9v2.4M398.5 115.0v8.0M399.8 115.9v4.7M401.1 116.9v2.7M402.4 116.6v2.7M403.7 114.0v1.1M404.9 112.8v3.6M406.2 118.5v5.2M407.5 129.3v1.5M408.8 121.7v1.3M410.1 120.2v2.8M411.4 120.8v1.0M412.7 117.3v0.8M414.0 114.5v0.5M415.3 118.6v0.8M416.6 114.2v0.3M417.9 117.2v0.8M419.2 114.4v1.3M420.5 122.5v0.8M421.8 119.9v0.5M423.1 119.1v1.9M424.4 115.3v2.3M425.7 124.4v1.7M427.0 116.5v1.2M428.3 121.0v1.0M430.9 118.7v0.9" stroke="#f6f452" stroke-width="1.50" fill="none" shape-rendering="auto"/>
<path d="M30.6 126.4v0.2M34.5 123.4v0.2M39.7 128.9v0.3M46.2 127.8v0.2M48.8 129.8v0.5M50.1 120.5v0.9M52.7 124.8v0.2M54.0 126.8v0.3M59.1 118.6v0.5M66.9 132.9v0.3M69.5 128.7v0.4M72.1 133.6v0.3M82.5 133.6v0.3M85.0 132.0v0.2M96.7 121.9v0.2M100.6 126.7v0.4M101.9 120.4v0.3M103.2 126.1v0.3M105.8 120.6v0.2M109.7 139.0v0.4M112.2 123.3v0.2M114.8 132.3v0.3M116.1 125.6v0.2M125.2 125.2v0.2M126.5 128.3v0.7M127.8 118.4v0.3M134.3 126.2v0.3M136.9 130.1v0.3M138.1 120.6v0.3M155.0 126.2v0.6M156.3 123.7v0.4M164.0 117.3v0.4M165.3 130.8v0.4M169.2 134.0v0.2M184.8 117.8v0.3M193.8 123.4v0.2M204.2 123.0v0.3M206.8 118.1v0.3M223.6 128.0v0.5M237.9 120.4v0.3M239.2 132.9v0.4M240.5 135.9v0.4M241.8 123.3v0.2M248.2 131.8v0.2M253.4 127.7v0.2M254.7 124.3v0.2M266.4 123.2v0.2M269.0 133.8v0.3M272.8 118.5v0.3M283.2 125.2v0.2M296.2 138.1v0.2M297.5 127.8v0.2M298.7 138.2v0.2M303.9 130.7v0.3M307.8 130.9v0.2M310.4 122.4v0.3M336.3 125.8v0.2M337.6 120.5v0.4M338.9 127.5v0.2M340.2 118.2v0.4M341.5 120.2v0.2M342.8 123.7v0.3M348.0 129.8v0.2M349.3 119.7v0.7M351.8 127.6v0.9M353.1 119.1v0.3M357.0 120.2v0.2M358.3 126.8v0.4M359.6 125.6v0.3M362.2 129.8v0.2M366.1 134.7v0.3M367.4 129.1v0.5M370.0 128.1v0.6M371.3 122.4v0.2M373.9 114.0v0.3M376.5 124.8v0.4M377.8 118.5v0.4M379.0 124.4v0.4M382.9 119.1v0.5M384.2 119.3v0.2M385.5 128.2v0.4M388.1 132.9v0.3M389.4 125.1v0.3M390.7 120.1v0.4M392.0 119.0v0.3M394.6 129.8v0.3M395.9 120.9v0.4M397.2 119.2v2.9M398.5 123.0v0.7M399.8 120.6v0.6M401.1 119.6v0.2M403.7 115.1v0.3M404.9 116.4v0.6M406.2 123.6v1.0M407.5 130.8v0.3M410.1 122.9v0.6M411.4 121.8v0.3M412.7 118.1v1.0M414.0 114.9v0.6M415.3 119.4v0.4M416.6 114.5v0.8M417.9 118.0v0.9M419.2 115.7v0.4M420.5 123.2v0.2M421.8 120.4v0.4M427.0 117.7v0.4M428.3 122.0v0.5M430.9 119.5v1.3" stroke="#ff6a22" stroke-width="1.50" fill="none" shape-rendering="auto"/>
<path d="M31.9 126.9v0.4M33.2 119.5v0.5M34.5 123.5v1.3M35.8 128.8v0.2M37.1 130.1v1.2M38.4 131.8v0.2M42.3 129.8v0.3M43.6 134.1v0.8M44.9 127.3v0.7M47.5 137.9v0.2M48.8 130.2v0.5M50.1 121.4v0.4M52.7 124.9v0.2M54.0 127.0v0.3M55.3 130.0v0.6M56.6 131.6v1.2M57.8 118.5v1.1M59.1 119.0v0.3M64.3 122.4v0.5M65.6 135.3v2.6M66.9 133.2v1.7M68.2 128.6v0.4M74.7 120.1v0.4M76.0 118.3v0.6M77.3 119.3v0.6M79.9 122.5v0.3M81.2 130.8v0.2M82.5 133.8v0.3M83.7 123.7v0.3M85.0 132.1v0.6M86.3 129.6v0.4M87.6 119.1v0.2M88.9 119.2v0.2M90.2 117.1v0.5M91.5 138.9v1.2M92.8 130.6v0.7M94.1 121.7v0.7M95.4 135.8v0.7M96.7 122.0v0.9M98.0 128.7v1.1M99.3 124.9v0.4M100.6 127.0v0.7M101.9 120.6v0.4M103.2 126.4v0.3M104.5 131.0v0.6M105.8 120.8v1.5M107.1 126.0v1.2M108.4 141.5v0.4M109.7 139.3v0.2M110.9 130.8v0.2M116.1 125.8v0.4M117.4 132.0v1.6M118.7 132.2v1.3M120.0 129.0v0.3M121.3 132.1v0.4M127.8 118.7v0.2M130.4 131.0v0.2M131.7 125.2v0.3M133.0 127.5v0.3M134.3 126.4v0.8M135.6 122.3v0.4M138.1 120.8v1.1M139.4 126.2v0.8M140.7 128.8v0.2M143.3 132.4v0.5M144.6 127.2v0.4M145.9 120.7v0.8M149.8 123.4v0.3M152.4 125.7v0.3M153.7 121.9v1.2M155.0 126.7v1.0M156.3 124.0v0.4M157.6 123.8v0.4M158.9 127.9v1.1M160.2 121.8v0.5M161.5 127.5v0.2M162.8 128.1v0.7M164.0 117.7v0.3M165.3 131.1v0.3M170.5 126.9v0.5M171.8 127.9v0.3M173.1 132.8v1.0M174.4 127.4v1.0M175.7 119.2v0.7M177.0 120.7v0.6M178.3 133.0v0.6M180.9 121.0v0.5M182.2 139.9v0.4M183.5 133.8v1.0M184.8 118.0v0.4M186.1 121.0v0.3M187.4 117.0v0.3M188.7 124.0v0.9M190.0 124.8v0.7M195.1 131.4v0.3M196.4 132.2v0.3M197.7 123.5v0.5M199.0 131.0v0.7M200.3 122.7v0.5M201.6 127.5v0.8M202.9 143.5v0.3M204.2 123.2v0.5M205.5 117.6v0.8M206.8 118.4v0.6M208.1 127.0v0.3M210.7 122.7v0.9M212.0 119.1v0.3M213.3 119.6v0.2M214.6 119.0v0.3M215.9 118.6v0.2M217.2 125.8v0.6M219.7 130.5v1.0M222.3 118.4v0.2M223.6 128.5v0.4M228.8 131.4v1.4M230.1 121.5v0.6M231.4 132.0v0.4M232.7 124.0v0.3M236.6 127.9v0.6M237.9 120.6v0.3M239.2 133.3v0.2M240.5 136.3v0.5M241.8 123.5v0.4M243.1 127.0v0.4M244.3 126.4v0.2M245.6 127.0v0.2M249.5 124.0v0.5M250.8 130.3v0.8M252.1 124.7v2.4M256.0 117.1v0.4M257.3 118.7v1.0M259.9 123.7v1.0M261.2 123.1v0.4M262.5 117.9v0.2M263.8 132.2v0.8M265.1 117.8v0.2M266.4 123.3v0.7M267.7 133.1v0.2M270.3 127.8v0.4M274.1 137.3v0.3M278.0 118.4v0.4M279.3 126.3v0.3M280.6 123.6v0.8M281.9 124.2v0.2M283.2 125.4v0.2M285.8 133.5v1.3M287.1 128.5v0.3M288.4 131.3v0.2M291.0 129.5v1.0M292.3 126.6v0.3M293.6 125.5v0.6M294.9 122.2v0.3M296.2 138.3v0.3M297.5 128.0v0.5M300.0 129.5v0.3M306.5 122.6v0.7M307.8 131.1v0.6M309.1 118.0v0.5M310.4 122.6v0.2M311.7 126.3v0.6M313.0 122.4v0.4M314.3 121.7v0.2M315.6 120.2v0.2M316.9 124.3v0.7M319.5 121.5v0.3M324.6 121.3v0.5M325.9 121.0v0.4M327.2 130.4v0.3M328.5 125.8v1.1M329.8 119.1v2.2M332.4 127.1v0.5M333.7 123.9v0.2M335.0 123.7v0.5M336.3 126.0v0.2M338.9 127.7v0.2M340.2 118.6v0.2M341.5 120.4v0.5M342.8 124.0v0.5M344.1 123.6v0.7M345.4 122.9v3.2M346.7 125.1v0.7M348.0 130.0v0.2M349.3 120.4v0.8M350.6 122.2v4.3M351.8 128.4v2.6M353.1 119.3v3.2M354.4 124.9v0.4M355.7 127.1v0.6M357.0 120.3v0.5M358.3 127.2v1.4M359.6 125.8v0.7M360.9 136.4v1.1M364.8 130.5v0.5M366.1 134.9v0.4M367.4 129.5v0.2M368.7 123.0v0.6M370.0 128.6v1.4M371.3 122.6v1.3M372.6 122.8v2.0M373.9 114.3v0.5M375.2 128.6v0.8M376.5 125.2v0.3M377.8 118.8v1.4M379.0 124.8v2.4M380.3 123.9v3.1M381.6 121.8v1.4M382.9 119.6v0.8M384.2 119.5v0.2M385.5 128.5v0.6M386.8 130.0v2.8M388.1 133.1v0.5M389.4 125.3v0.4M390.7 120.4v1.5M392.0 119.2v1.8M393.3 130.6v1.2M394.6 130.1v0.3M395.9 121.2v1.9M397.2 122.1v0.7M398.5 123.6v0.5M399.8 121.2v0.3M401.1 119.7v2.0M402.4 119.4v1.5M403.7 115.3v0.9M404.9 116.9v0.8M406.2 124.6v0.9M408.8 123.0v0.6M410.1 123.5v1.5M411.4 122.0v3.5M412.7 119.1v3.3M414.0 115.4v5.1M415.3 119.7v1.2M416.6 115.2v2.8M417.9 118.9v0.4M419.2 116.0v0.5M420.5 123.4v4.1M421.8 120.7v1.6M423.1 121.0v2.5M424.4 117.7v3.3M425.7 126.2v1.3M427.0 118.0v3.4M428.3 122.4v7.7M429.6 112.1v1.8M430.9 120.8v4.3" stroke="#9bf2ce" stroke-width="1.50" fill="none" shape-rendering="auto"/>
<path d="M30.6 126.7v0.6M31.9 127.2v0.5M34.5 124.8v0.6M35.8 129.0v0.7M37.1 131.3v2.0M38.4 132.0v1.7M39.7 129.2v2.8M41.0 130.3v0.2M44.9 127.9v0.2M46.2 128.1v0.3M47.5 138.0v0.8M48.8 130.6v0.2M52.7 125.1v0.9M54.0 127.3v0.7M55.3 130.5v0.5M57.8 119.5v0.3M59.1 119.2v0.8M60.4 122.6v0.9M61.7 128.0v0.3M64.3 122.9v0.4M65.6 137.8v0.3M66.9 134.8v0.8M69.5 129.1v3.4M70.8 118.2v0.4M73.4 123.9v0.5M74.7 120.5v0.3M76.0 118.8v0.3M77.3 119.8v1.2M78.6 120.1v0.7M79.9 122.8v0.2M81.2 131.0v0.8M82.5 134.1v0.3M83.7 123.9v0.3M86.3 129.9v0.3M88.9 119.4v0.2M90.2 117.6v0.5M91.5 140.0v0.6M92.8 131.2v0.7M94.1 122.4v2.7M95.4 136.5v0.2M96.7 122.9v0.4M98.0 129.8v0.4M99.3 125.2v2.9M100.6 127.6v0.3M101.9 121.0v0.3M103.2 126.7v0.6M104.5 131.5v0.3M105.8 122.2v0.2M107.1 127.1v0.6M108.4 141.9v0.4M109.7 139.5v0.2M117.4 133.6v0.9M118.7 133.5v0.5M120.0 129.2v0.3M122.6 123.2v0.4M123.9 122.9v0.3M127.8 118.8v1.2M129.1 133.4v2.2M130.4 131.2v0.3M131.7 125.5v0.3M133.0 127.8v0.6M134.3 127.2v0.4M135.6 122.6v1.2M136.9 130.4v0.3M138.1 121.8v0.7M142.0 125.2v0.3M143.3 132.8v0.3M144.6 127.5v0.5M145.9 121.5v1.4M147.2 128.0v0.3M148.5 118.9v0.2M149.8 123.6v0.3M151.1 127.5v0.5M152.4 125.9v0.2M155.0 127.7v1.7M156.3 124.4v1.0M158.9 129.0v0.7M160.2 122.2v0.4M161.5 127.6v0.7M162.8 128.7v0.4M165.3 131.4v0.2M169.2 134.3v0.6M171.8 128.1v0.3M173.1 133.8v0.3M174.4 128.3v0.5M175.7 119.8v0.6M177.0 121.2v0.4M180.9 121.4v0.4M182.2 140.3v0.4M183.5 134.7v0.9M186.1 121.2v0.5M188.7 124.9v0.5M190.0 125.4v0.3M191.2 141.7v0.4M192.5 121.8v0.6M193.8 123.7v2.3M195.1 131.6v1.1M196.4 132.5v0.4M199.0 131.7v0.3M200.3 123.2v0.5M201.6 128.2v0.5M204.2 123.6v0.8M205.5 118.3v0.2M206.8 119.0v0.2M208.1 127.3v0.4M209.4 118.9v0.5M210.7 123.6v0.3M212.0 119.3v0.5M215.9 118.7v0.3M218.4 128.4v0.2M219.7 131.4v0.3M221.0 120.2v0.5M224.9 117.1v0.6M226.2 130.3v0.9M227.5 134.2v1.0M228.8 132.7v0.6M231.4 132.4v0.4M234.0 126.9v0.9M235.3 117.5v0.3M236.6 128.5v0.3M237.9 120.8v0.2M239.2 133.4v0.4M240.5 136.7v0.4M241.8 123.8v0.7M243.1 127.3v1.0M244.3 126.6v0.5M248.2 132.1v0.4M253.4 128.0v1.0M254.7 124.6v0.7M256.0 117.5v2.1M257.3 119.7v0.7M258.6 118.4v0.7M259.9 124.6v0.7M262.5 118.1v0.6M263.8 133.0v0.3M266.4 124.0v0.7M267.7 133.2v0.3M269.0 134.2v0.4M270.3 128.1v0.2M271.5 133.2v0.3M272.8 118.8v0.2M274.1 137.5v0.2M275.4 121.6v0.2M276.7 134.4v0.3M278.0 118.7v0.7M279.3 126.6v0.3M284.5 140.3v0.4M285.8 134.8v1.1M287.1 128.7v0.6M288.4 131.5v0.3M289.7 132.0v0.3M291.0 130.5v0.7M292.3 126.8v0.3M293.6 126.0v1.0M294.9 122.4v0.4M297.5 128.4v0.5M298.7 138.4v0.6M300.0 129.7v0.3M303.9 131.0v0.5M305.2 123.5v0.3M306.5 123.3v0.3M307.8 131.7v0.6M310.4 122.7v0.3M311.7 126.8v1.0M314.3 121.9v0.2M315.6 120.4v0.4M316.9 125.0v0.3M319.5 121.8v0.5M323.4 122.8v0.4M324.6 121.8v0.5M325.9 121.4v0.5M327.2 130.7v0.2M328.5 126.8v0.3M332.4 127.5v0.5M333.7 124.1v0.3M335.0 124.1v0.6M336.3 126.2v1.4M337.6 121.0v0.8M338.9 127.9v0.4M340.2 118.8v0.4M341.5 120.8v2.2M342.8 124.4v1.0M344.1 124.2v3.7M345.4 126.0v4.6M346.7 125.7v0.3M348.0 130.2v1.9M349.3 121.1v3.3M350.6 126.4v0.5M351.8 130.9v0.3M353.1 122.4v1.4M354.4 125.2v2.5M355.7 127.6v1.1M357.0 120.8v0.9M358.3 128.6v0.5M359.6 126.5v0.8M360.9 137.4v4.1M363.5 127.3v0.3M364.8 130.9v0.6M366.1 135.3v1.4M367.4 129.7v2.2M368.7 123.6v0.6M370.0 129.9v1.7M371.3 123.9v0.3M372.6 124.8v0.7M373.9 114.7v0.6M375.2 129.3v0.5M377.8 120.1v0.8M379.0 127.1v2.1M380.3 126.9v0.5M381.6 123.1v1.2M382.9 120.3v2.5M384.2 119.6v0.3M385.5 129.0v0.6M386.8 132.7v0.7M388.1 133.6v1.3M389.4 125.6v3.3M390.7 121.8v7.5M392.0 120.9v1.3M393.3 131.8v1.5M394.6 130.4v3.1M395.9 123.1v0.6M397.2 122.8v1.5M398.5 124.0v1.2M399.8 121.4v2.6M401.1 121.6v8.0M402.4 120.9v1.2M403.7 116.2v0.8M404.9 117.6v1.4M406.2 125.4v2.0M407.5 131.2v0.7M408.8 123.5v1.5M410.1 124.9v1.4M411.4 125.5v1.5M412.7 122.3v0.9M414.0 120.4v1.7M415.3 120.9v6.2M416.6 118.0v6.0M417.9 119.2v0.9M419.2 116.4v0.5M420.5 127.4v3.1M421.8 122.3v3.9M423.1 123.4v1.5M424.4 120.9v0.7M425.7 127.4v1.8M427.0 121.4v1.1M428.3 130.0v1.3M429.6 113.9v0.5M430.9 125.0v1.0" stroke="#b1f250" stroke-width="1.50" fill="none" shape-rendering="auto"/>
<path d="M30.6 127.2v0.4M31.9 127.7v0.3M33.2 120.0v0.4M34.5 125.3v0.3M47.5 138.7v0.2M51.4 118.7v0.5M52.7 125.9v0.6M59.1 120.0v0.7M60.4 123.4v0.5M63.0 122.0v0.2M64.3 123.2v0.4M66.9 135.6v0.4M73.4 124.3v0.3M78.6 120.8v0.3M85.0 132.7v0.8M86.3 130.2v0.4M92.8 131.8v0.2M94.1 125.0v0.4M96.7 123.2v0.2M99.3 128.1v0.2M104.5 131.7v0.2M121.3 132.4v0.4M122.6 123.6v0.2M123.9 123.2v0.2M125.2 125.5v0.9M126.5 129.2v0.6M127.8 120.0v0.3M135.6 123.7v0.3M136.9 130.7v0.4M138.1 122.5v0.4M139.4 127.0v0.3M140.7 129.1v0.3M142.0 125.4v0.2M143.3 133.1v0.7M147.2 128.2v0.3M149.8 123.9v0.3M151.1 128.0v0.2M153.7 123.2v0.3M155.0 129.3v0.6M156.3 125.4v0.5M161.5 128.3v0.2M164.0 117.9v0.3M165.3 131.6v0.2M169.2 134.9v0.3M173.1 134.1v0.6M175.7 120.4v0.3M177.0 121.6v0.3M178.3 133.6v0.3M180.9 121.7v0.2M183.5 135.6v0.2M184.8 118.4v0.2M196.4 132.9v0.3M197.7 124.0v0.2M202.9 143.9v0.3M204.2 124.4v0.2M205.5 118.5v0.3M206.8 119.1v0.5M213.3 119.9v0.2M214.6 119.4v0.3M215.9 119.0v0.2M219.7 131.7v0.8M224.9 117.6v0.3M228.8 133.3v0.4M231.4 132.7v0.2M237.9 121.0v0.2M243.1 128.3v0.4M244.3 127.0v0.5M246.9 129.1v0.3M266.4 124.7v0.2M267.7 133.4v0.3M269.0 134.5v0.3M270.3 128.3v0.6M271.5 133.5v0.6M274.1 137.6v0.4M275.4 121.8v0.2M279.3 126.8v0.4M280.6 124.4v0.3M281.9 124.5v0.3M283.2 125.6v0.3M287.1 129.2v0.2M293.6 127.0v0.2M297.5 128.8v0.2M298.7 138.9v0.2M300.0 130.0v0.2M302.6 130.4v0.3M307.8 132.2v0.3M310.4 123.0v0.5M311.7 127.8v1.0M313.0 122.9v0.3M315.6 120.8v0.5M320.8 118.2v0.2M322.1 126.7v0.3M323.4 123.1v0.5M327.2 130.9v0.7M331.1 130.5v0.3M332.4 128.0v0.6M333.7 124.4v0.2M335.0 124.7v1.6M336.3 127.5v0.3M337.6 121.8v0.3M340.2 119.1v0.3M348.0 132.0v0.3M349.3 124.4v0.5M350.6 126.9v0.3M351.8 131.1v0.3M353.1 123.8v0.2M355.7 128.6v0.2M358.3 129.0v0.2M360.9 141.5v0.2M363.5 127.6v0.4M367.4 131.9v0.3M368.7 124.2v0.7M370.0 131.5v0.6M371.3 124.1v0.4M372.6 125.4v0.3M373.9 115.3v1.0M376.5 125.4v0.3M377.8 120.9v0.5M379.0 129.2v1.1M380.3 127.4v0.6M381.6 124.2v0.7M382.9 122.7v1.4M384.2 119.9v0.6M385.5 129.6v2.2M386.8 133.3v1.5M388.1 134.9v0.2M389.4 128.9v3.0M390.7 129.2v4.6M392.0 122.2v0.6M393.3 133.2v0.3M394.6 133.4v0.3M395.9 123.6v0.3M397.2 124.2v0.4M398.5 125.2v0.3M399.8 124.0v0.3M401.1 129.5v0.9M402.4 122.0v1.0M404.9 119.0v0.6M406.2 127.4v1.0M407.5 131.8v1.9M408.8 125.0v2.6M411.4 127.0v0.7M412.7 123.2v0.3M414.0 122.0v0.2M415.3 127.0v0.8M416.6 124.0v0.2M417.9 120.0v0.6M419.2 116.8v0.3M421.8 126.1v0.4M425.7 129.2v0.5M428.3 131.3v0.3M429.6 114.4v0.3" stroke="#c6cef9" stroke-width="1.50" fill="none" shape-rendering="auto"/>
<path d="M30.6 127.5v22.3M31.9 127.9v19.7M33.2 120.4v17.3M34.5 125.6v21.6M35.8 129.7v14.4M37.1 133.3v8.8M38.4 133.6v10.7M39.7 132.1v8.3M41.0 130.5v2.7M42.3 130.3v6.0M43.6 134.9v8.3M44.9 128.1v19.5M46.2 128.5v24.8M47.5 138.9v6.0M48.8 130.9v11.4M50.1 121.9v28.8M51.4 119.2v32.9M52.7 126.5v17.1M54.0 128.0v10.1M55.3 131.0v13.0M56.6 132.9v10.9M57.8 119.9v20.2M59.1 120.6v25.7M60.4 123.8v22.5M61.7 128.3v20.3M63.0 122.2v27.8M64.3 123.6v24.6M65.6 138.1v12.8M66.9 135.9v15.3M68.2 129.1v17.5M69.5 132.6v11.8M70.8 118.5v24.0M72.1 134.2v9.4M73.4 124.6v12.6M74.7 120.8v25.2M76.0 119.1v30.8M77.3 120.9v12.9M78.6 121.0v19.1M79.9 123.1v16.0M81.2 131.8v15.3M82.5 134.5v9.2M83.7 124.2v20.6M85.0 133.5v14.5M86.3 130.5v14.5M87.6 119.3v15.4M88.9 119.6v9.9M90.2 118.1v20.5M91.5 140.5v8.3M92.8 132.0v17.2M94.1 125.4v18.9M95.4 136.7v9.6M96.7 123.4v26.4M98.0 130.2v21.3M99.3 128.3v18.8M100.6 127.9v16.2M101.9 121.3v28.8M103.2 127.2v20.2M104.5 131.9v12.1M105.8 122.4v23.9M107.1 127.8v18.8M108.4 142.2v10.0M109.7 139.8v8.2M110.9 131.1v19.8M112.2 123.7v26.4M113.5 133.1v15.8M114.8 132.9v10.0M116.1 126.3v19.4M117.4 134.5v14.8M118.7 134.0v13.2M120.0 129.6v14.8M121.3 132.8v20.5M122.6 123.7v18.9M123.9 123.4v22.9M125.2 126.4v15.7M126.5 129.8v17.9M127.8 120.2v16.9M129.1 135.7v16.9M130.4 131.5v14.1M131.7 125.8v22.8M133.0 128.3v16.8M134.3 127.6v20.9M135.6 124.0v17.9M136.9 131.1v10.7M138.1 122.9v9.9M139.4 127.2v17.2M140.7 129.4v18.0M142.0 125.6v22.6M143.3 133.7v18.0M144.6 128.2v14.8M145.9 122.8v17.9M147.2 128.4v9.0M148.5 119.1v14.7M149.8 124.1v19.4M151.1 128.2v23.5M152.4 126.1v20.3M153.7 123.5v20.0M155.0 129.9v12.3M156.3 125.8v13.0M157.6 124.2v25.6M158.9 129.7v14.5M160.2 122.7v27.8M161.5 128.5v23.9M162.8 129.1v16.2M164.0 118.1v27.1M165.3 131.8v12.1M166.6 128.9v19.0M167.9 123.9v13.8M169.2 135.1v16.3M170.5 127.5v22.7M171.8 128.5v17.8M173.1 134.6v15.3M174.4 128.9v22.8M175.7 120.6v28.4M177.0 121.8v14.5M178.3 133.8v15.3M179.6 131.2v10.3M180.9 121.9v17.5M182.2 140.7v8.6M183.5 135.7v15.0M184.8 118.6v23.8M186.1 121.8v28.4M187.4 117.4v33.5M188.7 125.5v19.3M190.0 125.7v14.3M191.2 142.1v7.0M192.5 122.3v28.9M193.8 126.0v15.9M195.1 132.8v18.6M196.4 133.1v12.8M197.7 124.1v20.7M199.0 132.0v10.2M200.3 123.6v11.0M201.6 128.7v14.9M202.9 144.1v4.7M204.2 124.5v15.6M205.5 118.8v22.5M206.8 119.5v15.1M208.1 127.7v12.6M209.4 119.4v9.7M210.7 123.9v21.0M212.0 119.9v20.4M213.3 120.0v17.1M214.6 119.6v26.9M215.9 119.1v23.1M217.2 126.6v21.5M218.4 128.6v25.4M219.7 132.4v14.2M221.0 120.9v26.8M222.3 118.7v20.2M223.6 128.9v15.5M224.9 117.8v23.5M226.2 131.2v16.8M227.5 135.2v14.4M228.8 133.7v17.2M230.1 122.2v12.6M231.4 132.9v15.0M232.7 124.6v23.4M234.0 127.9v9.6M235.3 117.8v30.3M236.6 128.9v17.9M237.9 121.2v6.7M239.2 133.8v13.1M240.5 137.1v7.4M241.8 124.5v12.5M243.1 128.6v11.9M244.3 127.4v18.0M245.6 127.4v7.5M246.9 129.4v21.6M248.2 132.5v16.6M249.5 124.6v14.4M250.8 131.2v12.2M252.1 127.2v13.7M253.4 129.0v19.2M254.7 125.3v10.8M256.0 119.6v22.5M257.3 120.4v19.7M258.6 119.1v21.5M259.9 125.3v11.9M261.2 123.7v19.6M262.5 118.7v5.6M263.8 133.3v8.4M265.1 118.1v21.4M266.4 124.9v14.7M267.7 133.7v12.9M269.0 134.8v10.3M270.3 128.8v14.4M271.5 134.0v9.0M272.8 119.0v20.7M274.1 138.0v6.8M275.4 122.0v16.0M276.7 134.8v5.9M278.0 119.5v15.6M279.3 127.1v11.7M280.6 124.7v24.4M281.9 124.7v16.4M283.2 125.9v3.9M284.5 140.6v11.4M285.8 135.9v11.7M287.1 129.4v12.3M288.4 131.8v14.6M289.7 132.3v8.0M291.0 131.2v12.3M292.3 127.2v10.1M293.6 127.2v19.1M294.9 122.8v17.5M296.2 138.7v12.9M297.5 129.0v17.1M298.7 139.1v13.5M300.0 130.2v16.1M301.3 131.9v15.5M302.6 130.6v16.7M303.9 131.4v9.0M305.2 123.7v23.5M306.5 123.7v14.0M307.8 132.5v15.3M309.1 118.6v33.9M310.4 123.4v23.6M311.7 128.7v15.4M313.0 123.2v23.7M314.3 122.2v26.5M315.6 121.3v23.3M316.9 125.2v20.4M318.2 119.4v20.5M319.5 122.2v13.7M320.8 118.4v27.1M322.1 126.9v14.4M323.4 123.6v12.5M324.6 122.2v22.7M325.9 122.0v14.4M327.2 131.6v16.4M328.5 127.1v19.2M329.8 121.3v8.7M331.1 130.7v12.2M332.4 128.5v14.8M333.7 124.5v12.3M335.0 126.2v12.8M336.3 127.8v9.4M337.6 122.1v11.6M338.9 128.4v12.1M340.2 119.3v18.8M341.5 123.1v19.3M342.8 125.5v16.6M344.1 128.0v9.7M345.4 130.6v13.6M346.7 126.1v22.9M348.0 132.2v9.1M349.3 124.8v11.0M350.6 127.1v14.5M351.8 131.4v14.1M353.1 123.9v20.4M354.4 127.7v21.8M355.7 128.8v13.5M357.0 121.6v12.3M358.3 129.2v18.9M359.6 127.3v13.8M360.9 141.6v5.7M362.2 130.3v9.5M363.5 127.9v14.0M364.8 131.5v8.8M366.1 136.7v3.9M367.4 132.2v11.4M368.7 124.8v16.9M370.0 132.1v8.2M371.3 124.5v7.4M372.6 125.6v21.0M373.9 116.2v23.1M375.2 129.9v10.5M376.5 125.7v8.9M377.8 121.3v13.8M379.0 130.3v9.2M380.3 127.9v17.7M381.6 124.9v24.2M382.9 124.1v18.0M384.2 120.4v12.8M385.5 131.7v11.3M386.8 134.8v7.3M388.1 135.1v9.1M389.4 131.9v9.3M390.7 133.8v10.5M392.0 122.8v16.9M393.3 133.5v16.5M394.6 133.6v11.8M395.9 123.9v12.2M397.2 124.6v14.6M398.5 125.4v9.6M399.8 124.2v17.2M401.1 130.4v14.5M402.4 122.9v17.6M403.7 117.1v23.7M404.9 119.5v14.5M406.2 128.3v12.6M407.5 133.7v15.5M408.8 127.6v13.5M410.1 126.5v5.3M411.4 127.6v16.6M412.7 123.5v13.9M414.0 122.2v10.1M415.3 127.7v14.8M416.6 124.1v8.7M417.9 120.6v20.7M419.2 117.0v12.8M420.5 130.6v11.1M421.8 126.5v17.3M423.1 124.9v11.3M424.4 121.6v5.2M425.7 129.7v12.6M427.0 122.5v15.1M428.3 131.5v18.0M429.6 114.6v13.7M430.9 126.0v13.5" stroke="#c47cf8" stroke-width="1.50" fill="none" shape-rendering="auto"/>
<path d="M30.6 149.8v0.8M31.9 147.6v2.0M33.2 137.6v4.7M34.5 147.2v1.3M35.8 144.1v0.4M37.1 142.0v3.6M38.4 144.3v2.7M39.7 140.3v2.4M41.0 133.2v2.9M42.3 136.2v14.7M43.6 143.2v1.4M44.9 147.6v3.0M46.2 153.2v1.0M47.5 144.8v1.2M48.8 142.3v2.7M50.1 150.6v2.3M51.4 152.1v0.7M52.7 143.6v0.7M54.0 138.1v2.5M55.3 144.0v1.4M56.6 143.7v1.0M59.1 146.3v0.5M60.4 146.3v1.4M61.7 148.6v0.6M64.3 148.1v1.3M65.6 150.9v0.7M66.9 151.2v0.6M68.2 146.6v0.4M69.5 144.3v1.4M70.8 142.5v1.6M72.1 143.5v2.2M73.4 137.1v4.0M74.7 146.0v0.8M76.0 149.8v1.0M77.3 133.8v12.9M78.6 140.1v2.2M79.9 139.1v4.2M81.2 147.0v0.6M82.5 143.7v2.4M83.7 144.8v4.0M85.0 147.9v0.6M86.3 144.9v0.9M87.6 134.7v6.4M88.9 129.5v0.9M90.2 138.6v1.0M91.5 148.8v1.2M92.8 149.2v0.7M94.1 144.2v0.5M95.4 146.3v0.7M96.7 149.7v0.6M98.0 151.4v0.6M99.3 147.0v0.9M100.6 144.1v4.8M101.9 150.1v1.5M103.2 147.4v1.5M104.5 144.0v0.3M105.8 146.3v1.3M107.1 146.5v0.5M108.4 152.2v0.4M109.7 148.0v1.5M110.9 150.9v0.7M112.2 150.1v0.6M113.5 148.9v4.6M114.8 142.9v1.3M116.1 145.6v2.1M117.4 149.2v0.6M118.7 147.1v1.0M120.0 144.3v0.5M121.3 153.2v0.5M122.6 142.5v1.6M123.9 146.3v1.1M125.2 142.0v0.5M126.5 147.6v0.3M127.8 137.1v0.4M129.1 152.5v0.3M130.4 145.5v0.2M131.7 148.5v0.7M133.0 145.1v2.5M134.3 148.4v0.9M135.6 141.9v5.3M136.9 141.7v0.8M138.1 132.7v2.6M139.4 144.4v0.9M140.7 147.3v2.5M142.0 148.2v6.4M143.3 151.6v0.3M144.6 142.9v0.7M145.9 140.7v1.3M147.2 137.4v3.9M148.5 133.8v0.5M149.8 143.5v0.9M151.1 151.7v1.5M152.4 146.4v1.2M153.7 143.4v0.6M155.0 142.1v1.0M156.3 138.8v1.4M157.6 149.7v0.8M158.9 144.2v1.1M160.2 150.4v0.6M161.5 152.4v0.6M162.8 145.2v0.8M164.0 145.2v0.9M165.3 143.8v3.7M166.6 147.9v2.7M167.9 137.7v5.9M169.2 151.4v2.2M170.5 150.1v0.5M171.8 146.2v0.5M173.1 149.9v0.8M174.4 151.6v1.0M175.7 149.0v0.8M177.0 136.3v0.8M178.3 149.1v1.3M179.6 141.4v2.9M180.9 139.3v1.9M182.2 149.2v1.5M183.5 150.7v1.2M184.8 142.3v0.5M186.1 150.1v0.5M187.4 150.9v0.9M188.7 144.8v1.1M190.0 140.0v2.1M191.2 149.0v2.1M192.5 151.2v2.0M193.8 141.9v3.7M195.1 151.4v1.2M196.4 145.8v5.8M197.7 144.8v3.9M199.0 142.1v3.8M200.3 134.5v5.7M201.6 143.6v1.2M202.9 148.8v1.0M204.2 140.1v6.0M205.5 141.3v4.4M206.8 134.5v8.6M208.1 140.2v1.5M209.4 129.1v9.3M210.7 144.9v0.8M212.0 140.2v0.5M213.3 137.1v3.5M214.6 146.5v3.0M215.9 142.2v4.5M217.2 148.1v0.8M218.4 154.0v0.6M219.7 146.6v2.1M221.0 147.6v0.7M222.3 138.9v1.4M223.6 144.3v1.2M224.9 141.3v0.9M226.2 148.0v5.2M227.5 149.5v1.5M228.8 150.8v1.2M230.1 134.8v8.8M231.4 147.8v0.5M232.7 147.9v0.5M234.0 137.5v3.6M235.3 148.0v3.1M236.6 146.7v3.0M237.9 127.8v12.2M239.2 146.8v0.5M240.5 144.5v2.4M241.8 137.0v4.0M243.1 140.5v1.2M244.3 145.3v2.4M245.6 134.8v2.1M246.9 150.9v0.4M248.2 149.1v3.5M249.5 138.9v5.0M250.8 143.3v7.5M252.1 140.9v5.4M253.4 148.2v1.8M254.7 136.0v3.0M256.0 142.0v3.1M257.3 140.0v1.0M258.6 140.5v7.9M259.9 137.1v4.1M261.2 143.3v2.4M262.5 124.3v2.6M263.8 141.7v1.4M265.1 139.5v1.4M266.4 139.5v3.0M267.7 146.5v7.1M269.0 145.0v2.4M270.3 143.1v2.1M271.5 143.0v3.0M272.8 139.7v1.1M274.1 144.7v3.6M275.4 137.9v3.3M276.7 140.6v10.9M278.0 135.1v5.8M279.3 138.8v2.1M280.6 149.0v3.8M281.9 141.1v10.9M283.2 129.7v2.0M284.5 152.0v1.4M285.8 147.6v2.4M287.1 141.6v0.3M288.4 146.4v1.5M289.7 140.2v2.8M291.0 143.5v0.6M292.3 137.2v11.7M293.6 146.3v2.1M294.9 140.2v4.7M296.2 151.5v1.3M297.5 146.1v0.5M298.7 152.5v0.3M300.0 146.3v0.8M301.3 147.3v0.9M302.6 147.2v3.4M303.9 140.3v1.4M305.2 147.2v1.9M306.5 137.6v1.4M307.8 147.8v2.4M309.1 152.4v3.3M310.4 146.9v3.6M311.7 144.0v5.0M313.0 146.8v2.9M314.3 148.7v0.5M315.6 144.5v1.6M316.9 145.6v1.0M318.2 139.9v1.9M319.5 135.9v10.8M320.8 145.5v2.8M322.1 141.2v4.5M323.4 136.0v2.1M324.6 144.8v2.1M325.9 136.3v0.9M327.2 147.9v2.1M328.5 146.2v6.5M329.8 130.0v0.8M331.1 142.9v1.8M332.4 143.2v3.6M333.7 136.8v3.9M335.0 139.0v2.2M336.3 137.1v1.0M337.6 133.6v3.8M338.9 140.4v1.2M340.2 138.1v1.7M341.5 142.3v3.5M342.8 142.1v2.5M344.1 137.6v0.9M345.4 144.1v2.9M346.7 148.9v1.5M348.0 141.3v1.2M349.3 135.8v6.8M350.6 141.6v1.9M351.8 145.5v1.1M353.1 144.3v1.7M354.4 149.5v0.9M355.7 142.3v4.0M357.0 133.9v4.1M358.3 148.1v4.3M359.6 141.0v4.9M360.9 147.3v5.6M362.2 139.8v4.9M363.5 141.8v1.0M364.8 140.3v2.3M366.1 140.6v1.0M367.4 143.5v0.6M368.7 141.6v3.1M370.0 140.2v2.4M371.3 131.8v3.3M372.6 146.6v1.6M373.9 139.3v3.5M375.2 140.3v5.4M376.5 134.5v5.9M377.8 135.1v3.3M379.0 139.5v5.9M380.3 145.6v3.6M381.6 149.0v2.6M382.9 142.0v6.4M384.2 133.1v5.6M385.5 142.9v1.2M386.8 142.1v2.0M388.1 144.2v1.6M389.4 141.2v3.3M390.7 144.2v5.6M392.0 139.6v7.6M393.3 149.9v1.7M394.6 145.4v2.4M395.9 136.1v1.4M397.2 139.1v2.2M398.5 135.0v9.4M399.8 141.3v4.5M401.1 144.8v0.7M402.4 140.4v3.9M403.7 140.8v0.4M404.9 133.9v1.7M406.2 140.8v6.0M407.5 149.1v1.0M408.8 141.1v0.8M410.1 131.7v7.7M411.4 144.2v3.2M412.7 137.3v2.0M414.0 132.3v6.6M415.3 142.5v1.1M416.6 132.8v3.5M417.9 141.3v9.0M419.2 129.8v9.5M420.5 141.6v0.8M421.8 143.7v6.1M423.1 136.2v6.6M424.4 126.7v1.2M425.7 142.2v2.5M427.0 137.6v9.5M428.3 149.5v0.7M429.6 128.2v1.1M430.9 139.4v5.5" stroke="#d6bcf9" stroke-width="1.50" fill="none" shape-rendering="auto"/>
<path d="M37.1 145.5v0.3M38.4 147.0v0.3M39.7 142.6v0.5M43.6 144.6v0.3M44.9 150.6v0.4M48.8 145.0v0.6M54.0 140.5v0.2M55.3 145.3v0.3M56.6 144.6v0.2M63.0 150.0v0.4M64.3 149.3v0.2M68.2 146.9v0.2M83.7 148.7v0.2M87.6 141.0v0.4M94.1 144.7v1.4M95.4 146.9v0.9M96.7 150.3v0.2M103.2 148.8v0.2M105.8 147.5v0.4M108.4 152.5v0.3M109.7 149.5v0.4M110.9 151.6v0.6M112.2 150.7v0.3M114.8 144.2v1.2M126.5 147.9v0.4M127.8 137.4v0.3M129.1 152.7v0.2M130.4 145.7v0.2M138.1 135.2v0.2M139.4 145.2v0.7M153.7 144.0v0.2M155.0 143.1v0.4M160.2 150.9v0.5M165.3 147.4v0.3M173.1 150.7v0.2M175.7 149.7v0.4M177.0 137.1v0.2M188.7 145.8v0.4M190.0 142.1v0.6M191.2 151.0v0.3M197.7 148.6v0.2M199.0 145.8v0.4M202.9 149.7v0.2M204.2 146.0v0.8M205.5 145.6v1.3M212.0 140.6v0.5M213.3 140.6v0.4M215.9 146.7v0.2M217.2 148.8v1.4M218.4 154.5v0.5M231.4 148.3v0.3M235.3 151.1v0.2M241.8 140.9v0.3M243.1 141.6v0.3M244.3 147.7v0.2M245.6 136.9v0.2M248.2 152.5v0.4M250.8 150.8v0.5M252.1 146.2v0.2M254.7 139.0v0.4M257.3 141.0v0.2M259.9 141.1v0.2M262.5 126.8v0.8M263.8 143.0v0.3M266.4 142.4v0.2M267.7 153.6v0.4M269.0 147.4v0.4M270.3 145.2v0.7M271.5 145.9v0.5M278.0 140.8v0.9M281.9 152.0v0.4M283.2 131.7v0.4M285.8 150.0v0.2M288.4 147.9v0.4M292.3 148.8v0.4M296.2 152.7v0.4M297.5 146.6v0.2M306.5 139.0v0.3M307.8 150.2v0.3M310.4 150.5v0.5M311.7 148.9v0.5M313.0 149.7v0.6M316.9 146.6v0.5M318.2 141.7v0.3M319.5 146.7v0.3M322.1 145.7v0.2M323.4 138.0v0.3M328.5 152.6v0.2M331.1 144.7v0.2M332.4 146.8v0.3M333.7 140.6v0.3M335.0 141.2v0.3M336.3 138.0v0.3M338.9 141.6v0.5M340.2 139.7v0.2M345.4 147.0v0.2M346.7 150.4v0.7M348.0 142.5v0.3M351.8 146.6v0.2M353.1 145.9v0.5M359.6 145.9v0.4M360.9 152.9v0.3M363.5 142.8v0.4M364.8 142.5v0.5M370.0 142.6v0.5M371.3 135.1v1.1M372.6 148.1v0.2M373.9 142.7v0.4M375.2 145.7v0.4M376.5 140.3v0.2M377.8 138.3v0.6M380.3 149.1v0.4M384.2 138.7v0.4M385.5 144.0v0.3M386.8 144.0v0.6M388.1 145.7v0.3M389.4 144.5v0.6M392.0 147.2v0.5M394.6 147.7v0.4M395.9 137.4v0.8M397.2 141.3v0.3M398.5 144.4v0.6M399.8 145.8v0.3M401.1 145.5v0.3M402.4 144.3v0.3M406.2 146.8v0.5M407.5 150.0v0.4M410.1 139.4v0.5M415.3 143.5v0.4M417.9 150.2v0.2M420.5 142.3v0.4M423.1 142.7v0.3M424.4 127.9v0.2M428.3 150.1v0.3M430.9 144.9v0.6" stroke="#ea1a22" stroke-width="1.50" fill="none" shape-rendering="auto"/>
<path d="M30.6 150.6v0.8M31.9 149.5v0.4M33.2 142.3v3.1M34.5 148.5v3.4M35.8 144.6v8.4M37.1 145.7v5.1M38.4 147.2v1.0M39.7 143.1v1.3M41.0 136.1v5.6M42.3 151.1v4.1M43.6 144.8v3.8M44.9 151.0v2.4M46.2 154.2v0.7M47.5 146.0v3.1M48.8 145.5v1.3M50.1 153.0v1.9M51.4 152.7v5.0M52.7 144.2v1.6M54.0 140.7v6.6M55.3 145.5v7.1M56.6 144.8v8.7M57.8 140.1v8.6M59.1 146.7v2.5M60.4 147.7v1.4M61.7 149.3v2.6M63.0 150.4v1.8M64.3 149.5v1.9M65.6 151.6v1.8M66.9 151.8v1.1M68.2 147.1v3.1M69.5 145.8v5.8M70.8 144.1v10.0M72.1 145.8v3.4M73.4 141.1v2.8M74.7 146.8v4.1M76.0 150.8v2.1M77.3 146.7v3.1M78.6 142.3v7.6M79.9 143.4v7.1M81.2 147.6v1.6M82.5 146.2v1.6M83.7 148.8v2.5M85.0 148.6v5.4M86.3 145.9v1.7M87.6 141.4v1.4M88.9 130.4v2.6M90.2 139.7v3.7M91.5 150.1v1.4M92.8 150.0v1.9M94.1 146.0v1.3M95.4 147.7v1.5M96.7 150.5v0.5M98.0 152.0v2.6M99.3 147.9v0.9M100.6 149.0v1.0M101.9 151.6v1.7M103.2 149.0v0.9M104.5 144.4v2.0M105.8 147.9v1.9M107.1 147.0v2.9M108.4 152.7v3.6M109.7 149.8v2.5M110.9 152.1v0.9M112.2 151.0v1.4M113.5 153.4v0.6M114.8 145.4v2.4M116.1 147.8v4.1M117.4 149.8v2.1M118.7 148.1v0.6M120.0 144.8v0.4M121.3 153.7v0.8M122.6 144.2v1.0M123.9 147.4v0.5M125.2 142.5v2.0M126.5 148.3v2.2M127.8 137.6v0.5M129.1 152.9v1.3M130.4 145.9v6.0M131.7 149.2v0.9M133.0 147.7v1.6M134.3 149.3v0.8M135.6 147.2v0.8M136.9 142.6v4.3M138.1 135.4v0.6M139.4 145.9v1.5M140.7 149.9v0.6M142.0 154.6v0.5M143.3 151.9v1.8M144.6 143.6v3.5M145.9 141.9v7.7M147.2 141.3v5.3M148.5 134.2v20.1M149.8 144.3v1.3M151.1 153.2v1.7M152.4 147.5v3.9M153.7 144.2v1.7M155.0 143.4v1.0M156.3 140.3v0.9M157.6 150.5v2.4M158.9 145.3v6.9M160.2 151.4v1.5M161.5 153.1v0.7M162.8 146.0v0.6M164.0 146.1v2.2M165.3 147.7v0.6M166.6 150.5v1.9M167.9 143.6v7.9M169.2 153.6v0.7M170.5 150.6v0.7M171.8 146.8v0.5M173.1 150.9v1.1M174.4 152.6v1.3M175.7 150.0v0.7M177.0 137.2v7.8M178.3 150.3v2.2M179.6 144.3v2.8M180.9 141.2v3.4M182.2 150.7v0.4M183.5 151.9v2.9M184.8 142.9v3.6M186.1 150.6v2.1M187.4 151.8v1.1M188.7 146.2v1.0M190.0 142.6v5.0M191.2 151.3v1.6M192.5 153.1v2.3M193.8 145.6v2.9M195.1 152.6v0.5M196.4 151.6v0.9M197.7 148.8v5.4M199.0 146.2v6.6M200.3 140.2v3.1M201.6 144.8v3.9M202.9 149.9v0.6M204.2 146.7v1.0M205.5 146.8v1.9M206.8 143.2v2.5M208.1 141.8v4.2M209.4 138.4v0.9M210.7 145.8v5.0M212.0 141.1v4.7M213.3 141.0v1.1M214.6 149.5v1.9M215.9 146.8v4.3M217.2 150.1v1.7M218.4 155.0v1.0M219.7 148.7v2.9M221.0 148.3v4.2M222.3 140.3v5.1M223.6 145.5v1.2M224.9 142.3v2.6M226.2 153.2v0.8M227.5 151.1v1.1M228.8 152.1v1.2M230.1 143.6v1.2M231.4 148.6v3.1M232.7 148.4v1.9M234.0 141.1v3.9M235.3 151.3v2.6M236.6 149.8v5.2M237.9 140.0v7.8M239.2 147.3v0.5M240.5 146.9v0.5M241.8 141.1v1.1M243.1 141.9v6.3M244.3 147.9v3.7M245.6 137.1v1.2M246.9 151.3v1.0M248.2 152.9v1.3M249.5 144.0v9.8M250.8 151.3v0.8M252.1 146.4v2.0M253.4 150.0v1.3M254.7 139.3v2.8M256.0 145.2v2.1M257.3 141.2v8.1M258.6 148.4v0.9M259.9 141.3v4.6M261.2 145.7v3.1M262.5 127.6v5.4M263.8 143.3v3.0M265.1 141.0v9.8M266.4 142.6v3.5M267.7 153.9v0.9M269.0 147.7v2.2M270.3 145.8v4.8M271.5 146.4v7.1M272.8 140.9v1.8M274.1 148.3v1.7M275.4 141.2v2.1M276.7 151.6v1.2M278.0 141.6v5.6M279.3 140.9v3.2M280.6 152.8v2.3M281.9 152.3v2.7M283.2 132.0v5.2M284.5 153.4v2.5M285.8 150.1v2.1M287.1 141.9v6.8M288.4 148.2v6.0M289.7 143.1v6.2M291.0 144.1v3.0M292.3 149.2v0.5M293.6 148.4v3.3M294.9 145.0v2.7M296.2 153.1v1.9M297.5 146.8v1.5M298.7 152.9v0.7M300.0 147.1v0.9M301.3 148.3v4.2M302.6 150.7v1.6M303.9 141.7v11.4M305.2 149.1v5.7M306.5 139.3v9.1M307.8 150.4v2.9M309.1 155.7v1.8M310.4 151.0v3.3M311.7 149.4v4.5M313.0 150.3v2.5M314.3 149.2v2.6M315.6 146.2v1.3M316.9 147.0v3.5M318.2 142.0v2.8M319.5 146.9v5.8M320.8 148.3v6.9M322.1 145.8v8.1M323.4 138.3v7.7M324.6 147.0v1.5M325.9 137.2v1.7M327.2 150.0v1.0M328.5 152.8v1.6M329.8 130.7v22.7M331.1 144.9v6.1M332.4 147.0v3.4M333.7 140.9v12.7M335.0 141.5v12.0M336.3 138.3v1.5M337.6 137.5v11.8M338.9 142.1v7.9M340.2 139.9v11.6M341.5 145.9v3.7M342.8 144.7v5.9M344.1 138.5v10.6M345.4 147.2v4.8M346.7 151.1v2.6M348.0 142.8v5.2M349.3 142.7v2.2M350.6 143.5v1.2M351.8 146.7v1.0M353.1 146.3v2.8M354.4 150.4v1.6M355.7 146.4v1.4M357.0 138.0v14.7M358.3 152.4v2.5M359.6 146.3v1.6M360.9 153.1v1.2M362.2 144.7v5.0M363.5 143.1v4.3M364.8 143.0v2.7M366.1 141.6v13.5M367.4 144.1v4.4M368.7 144.8v7.8M370.0 143.1v4.5M371.3 136.2v4.1M372.6 148.3v5.1M373.9 143.0v0.5M375.2 146.1v2.5M376.5 140.5v10.6M377.8 138.9v8.6M379.0 145.4v4.3M380.3 149.5v2.6M381.6 151.7v4.1M382.9 148.4v6.9M384.2 139.0v1.9M385.5 144.3v3.5M386.8 144.5v3.6M388.1 146.0v1.1M389.4 145.0v3.1M390.7 149.8v1.3M392.0 147.6v3.4M393.3 151.7v2.3M394.6 148.1v5.0M395.9 138.1v5.1M397.2 141.5v6.8M398.5 144.9v8.0M399.8 146.0v5.3M401.1 145.7v3.7M402.4 144.5v5.3M403.7 141.3v5.0M404.9 135.7v5.8M406.2 147.2v2.3M407.5 150.4v3.2M408.8 141.9v9.1M410.1 139.8v2.1M411.4 147.5v1.5M412.7 139.4v8.1M414.0 139.0v2.6M415.3 143.8v5.1M416.6 136.3v3.0M417.9 150.4v1.9M419.2 139.3v7.2M420.5 142.7v0.6M421.8 149.8v3.4M423.1 142.9v8.5M424.4 128.1v19.4M425.7 144.8v5.6M427.0 147.2v2.2M428.3 150.4v1.7M429.6 129.3v2.5M430.9 145.4v1.5" stroke="#ffb870" stroke-width="1.50" fill="none" shape-rendering="auto"/>
<path d="M30.6 151.3v2.7M31.9 149.9v1.3M33.2 145.3v3.4M34.5 151.8v0.9M35.8 152.9v1.1M37.1 150.8v2.8M38.4 148.2v1.4M39.7 144.4v1.9M41.0 141.6v0.8M42.3 155.1v0.5M43.6 148.5v1.7M44.9 153.3v1.3M46.2 154.9v0.4M47.5 149.0v0.6M48.8 146.8v0.6M50.1 154.8v0.8M51.4 157.7v0.4M52.7 145.8v3.6M54.0 147.3v0.8M55.3 152.6v0.7M56.6 153.5v1.4M57.8 148.7v7.6M59.1 149.2v1.6M60.4 149.0v1.7M61.7 151.9v0.3M63.0 152.1v1.0M64.3 151.3v2.3M65.6 153.3v3.1M66.9 152.8v0.9M68.2 150.1v1.2M69.5 151.6v2.3M70.8 154.1v0.9M72.1 149.1v1.0M73.4 143.8v6.1M74.7 150.9v2.9M76.0 152.8v1.3M77.3 149.8v0.5M78.6 149.8v0.7M79.9 150.5v1.5M81.2 149.1v4.3M82.5 147.8v0.4M83.7 151.3v0.3M85.0 153.9v0.5M86.3 147.6v7.9M87.6 142.8v0.9M88.9 133.0v17.1M90.2 143.3v6.3M91.5 151.4v1.8M92.8 151.8v1.8M94.1 147.2v2.1M95.4 149.1v1.3M96.7 150.9v0.7M98.0 154.6v0.4M99.3 148.7v0.3M100.6 150.0v0.7M101.9 153.2v1.3M103.2 149.9v0.7M104.5 146.4v2.5M105.8 149.7v1.7M107.1 149.9v5.0M108.4 156.2v1.6M109.7 152.2v2.0M110.9 153.0v2.0M112.2 152.3v1.3M113.5 154.0v0.8M114.8 147.7v1.1M116.1 151.8v0.6M117.4 151.9v0.6M118.7 148.7v1.4M120.0 145.2v1.5M121.3 154.4v0.3M122.6 145.1v1.9M123.9 147.8v0.3M125.2 144.4v0.6M126.5 150.4v1.4M127.8 138.0v0.6M129.1 154.2v0.9M130.4 151.8v3.5M131.7 150.1v2.6M133.0 149.2v3.2M134.3 150.0v2.1M135.6 147.9v4.7M136.9 146.8v2.7M138.1 136.0v14.5M139.4 147.4v3.5M140.7 150.4v3.3M142.0 155.0v0.8M143.3 153.6v1.8M144.6 147.0v1.4M145.9 149.6v0.8M147.2 146.6v1.8M148.5 154.2v1.5M149.8 145.5v1.4M151.1 154.8v1.5M152.4 151.4v2.9M153.7 145.8v0.5M155.0 144.3v3.3M156.3 141.2v3.5M157.6 152.8v2.5M158.9 152.2v0.5M160.2 152.9v0.6M161.5 153.7v0.8M162.8 146.6v1.4M164.0 148.3v0.8M165.3 148.2v2.9M166.6 152.4v0.7M167.9 151.5v2.5M169.2 154.3v1.4M170.5 151.2v4.3M171.8 147.3v3.4M173.1 151.9v1.7M174.4 153.8v0.3M175.7 150.7v0.6M177.0 145.0v1.2M178.3 152.4v2.3M179.6 147.1v4.1M180.9 144.5v6.0M182.2 151.1v3.1M183.5 154.7v0.6M184.8 146.4v0.6M186.1 152.6v2.2M187.4 152.8v2.8M188.7 147.1v4.7M190.0 147.6v7.7M191.2 152.8v0.7M192.5 155.4v0.8M193.8 148.5v1.2M195.1 153.1v0.7M196.4 152.4v0.6M197.7 154.2v0.5M199.0 152.7v1.1M200.3 143.3v1.1M201.6 148.6v1.7M202.9 150.4v3.1M204.2 147.7v0.9M205.5 148.6v1.5M206.8 145.6v1.3M208.1 145.9v5.4M209.4 139.2v0.5M210.7 150.7v0.8M212.0 145.8v0.6M213.3 142.0v1.1M214.6 151.4v2.2M215.9 151.1v1.4M217.2 151.8v1.5M218.4 156.0v0.4M219.7 151.5v1.4M221.0 152.5v1.1M222.3 145.3v1.8M223.6 146.6v2.4M224.9 144.8v1.3M226.2 154.0v1.6M227.5 152.2v0.5M228.8 153.3v2.1M230.1 144.7v0.8M231.4 151.6v0.8M232.7 150.3v2.4M234.0 145.0v1.0M235.3 153.8v0.4M236.6 154.9v0.7M237.9 147.7v3.1M239.2 147.8v1.5M240.5 147.3v3.9M241.8 142.2v5.9M243.1 148.1v3.5M244.3 151.6v1.7M245.6 138.2v1.7M246.9 152.2v1.4M248.2 154.1v2.0M249.5 153.8v1.4M250.8 152.0v1.9M252.1 148.3v0.5M253.4 151.3v1.9M254.7 142.1v12.9M256.0 147.3v1.7M257.3 149.3v1.9M258.6 149.3v3.2M259.9 145.9v6.2M261.2 148.8v1.8M262.5 132.9v0.8M263.8 146.3v2.4M265.1 150.7v3.6M266.4 146.0v3.4M267.7 154.8v0.3M269.0 149.9v0.5M270.3 150.6v0.6M271.5 153.4v0.8M272.8 142.6v2.8M274.1 149.9v1.8M275.4 143.2v0.8M276.7 152.8v1.0M278.0 147.2v6.0M279.3 144.0v1.5M280.6 155.1v0.3M281.9 154.9v0.7M283.2 137.1v1.0M284.5 155.8v0.5M285.8 152.2v1.4M287.1 148.7v0.8M288.4 154.2v1.2M289.7 149.3v7.4M291.0 147.0v8.4M292.3 149.6v0.7M293.6 151.7v2.7M294.9 147.7v1.1M296.2 154.9v1.2M297.5 148.2v2.7M298.7 153.5v0.9M300.0 147.9v5.1M301.3 152.5v0.3M302.6 152.3v0.4M303.9 153.1v0.8M305.2 154.8v0.3M306.5 148.4v1.4M307.8 153.3v0.4M309.1 157.5v0.7M310.4 154.2v0.6M311.7 153.9v1.6M313.0 152.8v0.8M314.3 151.7v2.5M315.6 147.5v2.9M316.9 150.4v0.7M318.2 144.8v3.3M319.5 152.7v1.2M320.8 155.1v1.5M322.1 153.9v1.1M323.4 145.9v3.2M324.6 148.4v6.7M325.9 138.9v5.8M327.2 151.0v0.4M328.5 154.3v0.4M329.8 153.4v0.3M331.1 150.9v1.6M332.4 150.3v1.0M333.7 153.5v2.5M336.3 139.7v1.8M337.6 149.2v2.1M338.9 149.9v1.6M340.2 151.4v0.8M341.5 149.5v1.1M342.8 150.5v0.7M344.1 149.0v2.6M345.4 151.9v1.5M346.7 153.6v1.8M348.0 148.0v3.4M349.3 144.8v1.1M350.6 144.7v0.5M351.8 147.7v2.3M353.1 149.1v0.5M354.4 151.9v2.0M355.7 147.8v2.8M357.0 152.7v0.4M358.3 154.8v0.3M359.6 147.8v2.0M360.9 154.2v2.8M362.2 149.7v2.7M363.5 147.4v4.5M364.8 145.7v2.7M366.1 155.1v1.1M367.4 148.5v3.1M368.7 152.5v0.3M370.0 147.6v1.3M371.3 140.2v10.3M372.6 153.3v1.5M373.9 143.5v2.2M375.2 148.5v2.0M376.5 151.1v0.8M377.8 147.5v4.0M379.0 149.7v1.1M380.3 152.1v2.0M381.6 155.7v1.1M382.9 155.2v0.4M384.2 140.9v3.2M385.5 147.7v2.2M386.8 148.1v1.9M388.1 147.1v2.7M389.4 148.0v0.6M390.7 151.1v2.7M392.0 151.0v5.7M393.3 153.9v1.5M394.6 153.0v0.3M395.9 143.2v0.8M397.2 148.2v1.4M398.5 152.8v1.1M399.8 151.3v1.1M401.1 149.4v0.6M402.4 149.8v0.2M403.7 146.2v0.5M404.9 141.5v4.7M406.2 149.4v0.5M407.5 153.5v0.5M408.8 150.9v0.7M410.1 141.8v0.8M411.4 149.0v2.0M412.7 147.4v2.0M414.0 141.5v2.6M415.3 148.9v0.9M416.6 139.3v5.3M417.9 152.3v0.7M419.2 146.4v1.0M420.5 143.2v5.0M421.8 153.1v1.6M423.1 151.4v1.3M424.4 147.4v0.8M425.7 150.3v1.2M427.0 149.4v1.3M428.3 152.0v1.7M429.6 131.8v0.9M430.9 146.9v1.8" stroke="#d6f9ca" stroke-width="1.50" fill="none" shape-rendering="auto"/>
<path d="M30.6 154.0v1.0M31.9 151.2v0.4M33.2 148.7v1.1M34.5 152.6v1.0M35.8 154.0v1.1M37.1 153.5v1.0M38.4 149.5v0.6M39.7 146.2v0.8M41.0 142.3v0.6M42.3 155.6v0.5M43.6 150.1v1.1M44.9 154.6v0.7M46.2 155.3v0.7M47.5 149.6v2.9M48.8 147.3v2.3M50.1 155.5v1.0M52.7 149.3v0.5M54.0 148.0v1.0M55.3 153.3v0.6M56.6 154.8v0.5M57.8 156.2v0.7M59.1 150.7v1.3M60.4 150.6v0.6M61.7 152.2v0.5M63.0 153.1v0.2M66.9 153.6v0.3M68.2 151.3v2.1M69.5 153.9v0.8M70.8 154.9v0.3M72.1 150.0v0.8M73.4 149.9v0.8M74.7 153.8v0.7M76.0 154.0v1.6M77.3 150.2v2.4M78.6 150.4v0.2M81.2 153.3v0.5M82.5 148.2v0.7M83.7 151.6v0.5M85.0 154.3v0.6M86.3 155.5v0.4M87.6 143.6v0.9M88.9 150.0v0.5M90.2 149.5v0.9M91.5 153.2v0.8M92.8 153.5v1.7M94.1 149.3v1.9M95.4 150.4v1.3M96.7 151.5v1.4M98.0 154.9v0.6M99.3 148.9v0.5M100.6 150.6v0.2M101.9 154.4v1.2M103.2 150.5v1.3M104.5 148.9v1.6M105.8 151.4v0.4M107.1 154.8v0.4M108.4 157.7v0.2M109.7 154.1v0.5M110.9 155.0v1.8M112.2 153.5v0.2M113.5 154.8v0.3M114.8 148.7v0.6M116.1 152.4v1.9M117.4 152.5v1.1M118.7 150.0v1.5M120.0 146.6v0.5M121.3 154.6v1.0M122.6 146.9v1.0M123.9 148.0v1.0M125.2 145.0v5.8M126.5 151.7v0.7M127.8 138.5v0.3M129.1 155.0v0.4M130.4 155.3v0.5M131.7 152.6v2.2M133.0 152.4v0.3M134.3 152.1v0.7M135.6 152.5v3.1M136.9 149.4v3.3M138.1 150.5v0.6M139.4 150.8v2.7M140.7 153.7v1.1M142.0 155.8v1.1M143.3 155.4v0.5M144.6 148.4v1.2M145.9 150.3v1.3M147.2 148.3v1.9M148.5 155.7v0.2M149.8 146.9v1.0M151.1 156.3v0.4M152.4 154.3v1.3M153.7 146.3v1.3M155.0 147.6v0.6M156.3 144.6v0.7M157.6 155.2v0.7M158.9 152.6v2.1M160.2 153.4v1.4M161.5 154.5v0.4M162.8 148.0v2.2M164.0 149.1v0.9M165.3 151.1v0.7M166.6 153.1v0.8M169.2 155.7v0.9M171.8 150.7v1.1M173.1 153.5v1.6M174.4 154.1v0.3M175.7 151.2v0.5M177.0 146.2v0.8M178.3 154.6v0.5M179.6 151.1v1.4M180.9 150.5v2.4M182.2 154.1v0.6M183.5 155.2v0.3M184.8 146.9v1.1M186.1 154.8v1.6M187.4 155.6v0.7M188.7 151.7v0.7M190.0 155.3v0.6M191.2 153.5v0.9M192.5 156.1v0.4M193.8 149.7v4.4M195.1 153.7v0.4M196.4 153.0v0.7M197.7 154.7v1.8M199.0 153.8v1.6M200.3 144.3v0.3M201.6 150.3v1.4M202.9 153.5v0.7M204.2 148.6v2.4M205.5 150.1v2.3M206.8 146.9v0.9M208.1 151.2v1.0M209.4 139.7v1.6M210.7 151.5v0.4M212.0 146.4v4.7M213.3 143.1v1.1M214.6 153.6v1.1M215.9 152.4v0.2M219.7 152.9v0.5M221.0 153.5v1.4M222.3 147.1v0.5M223.6 149.0v3.6M224.9 146.1v8.8M226.2 155.6v0.9M227.5 152.7v1.6M228.8 155.3v1.2M230.1 145.5v0.5M231.4 152.4v0.8M232.7 152.7v0.5M234.0 145.9v0.9M235.3 154.2v1.5M236.6 155.5v0.3M237.9 150.8v1.6M239.2 149.2v2.0M240.5 151.1v0.6M241.8 148.0v1.5M243.1 151.5v0.7M244.3 153.3v0.7M245.6 139.9v1.0M246.9 153.6v0.7M248.2 156.1v0.5M249.5 155.1v0.6M250.8 153.9v1.1M253.4 153.1v0.8M254.7 155.0v0.4M256.0 148.9v0.9M257.3 151.1v0.5M258.6 152.5v1.9M259.9 152.1v1.0M261.2 150.5v1.1M262.5 133.7v1.9M263.8 148.6v2.6M265.1 154.3v1.9M266.4 149.3v3.6M267.7 155.1v1.9M269.0 150.4v1.3M270.3 151.1v0.5M272.8 145.3v1.0M274.1 151.7v0.7M275.4 144.0v0.5M276.7 153.7v0.5M278.0 153.1v0.8M279.3 145.4v1.6M280.6 155.3v0.4M281.9 155.5v0.4M283.2 138.0v0.6M284.5 156.3v0.4M285.8 153.5v0.5M287.1 149.4v0.8M288.4 155.3v0.3M291.0 155.4v0.3M292.3 150.3v0.6M293.6 154.3v1.9M294.9 148.8v0.3M296.2 156.1v0.3M297.5 150.9v0.6M298.7 154.3v0.9M300.0 152.9v1.0M301.3 152.7v1.1M302.6 152.6v1.8M303.9 153.8v1.9M305.2 155.0v0.5M306.5 149.7v0.6M307.8 153.7v0.9M309.1 158.1v0.5M310.4 154.8v0.5M311.7 155.4v0.3M313.0 153.5v1.6M314.3 154.1v0.6M315.6 150.3v0.9M316.9 151.0v0.6M320.8 156.6v0.2M322.1 154.9v0.5M323.4 149.1v1.2M324.6 155.1v0.6M325.9 144.6v0.6M327.2 151.4v0.4M328.5 154.7v1.0M329.8 153.7v0.9M331.1 152.5v0.5M332.4 151.3v1.2M333.7 155.9v0.6M335.0 153.5v0.6M336.3 141.5v1.6M337.6 151.2v0.6M338.9 151.5v1.3M341.5 150.6v1.6M342.8 151.2v2.5M344.1 151.6v2.2M345.4 153.3v0.7M346.7 155.4v0.3M348.0 151.3v0.3M349.3 145.9v0.9M350.6 145.1v0.8M351.8 150.0v1.4M353.1 149.6v3.7M354.4 153.8v1.7M355.7 150.5v0.6M357.0 153.0v1.1M358.3 155.1v0.9M359.6 149.7v0.4M360.9 156.9v0.5M362.2 152.3v3.7M363.5 151.9v0.8M364.8 148.3v1.5M366.1 156.1v0.3M367.4 151.6v1.1M368.7 152.8v0.7M370.0 148.8v1.2M371.3 150.4v0.4M372.6 154.8v0.4M373.9 145.7v0.9M375.2 150.4v0.3M376.5 151.9v0.6M377.8 151.4v0.6M379.0 150.7v0.5M381.6 156.8v0.8M382.9 155.6v0.7M384.2 144.0v0.5M385.5 149.9v0.6M386.8 149.9v0.3M388.1 149.8v0.6M389.4 148.6v1.3M390.7 153.8v2.0M392.0 156.6v0.7M393.3 155.4v0.3M394.6 153.2v0.3M395.9 143.9v1.0M397.2 149.5v1.2M398.5 153.8v2.0M399.8 152.3v0.7M402.4 149.9v2.7M403.7 146.7v0.5M404.9 146.1v2.4M406.2 149.9v1.0M407.5 153.9v1.0M408.8 151.6v0.4M410.1 142.6v0.9M411.4 150.9v0.6M412.7 149.3v0.7M414.0 144.0v0.4M415.3 149.8v0.8M416.6 144.6v0.5M419.2 147.4v1.0M420.5 148.2v0.3M421.8 154.7v0.4M423.1 152.6v1.2M424.4 148.2v0.7M425.7 151.5v0.4M427.0 150.6v1.5M428.3 153.6v0.4M429.6 132.7v0.2M430.9 148.6v0.7" stroke="#ffbff2" stroke-width="1.50" fill="none" shape-rendering="auto"/>
<path d="M30.6 155.0v0.6M31.9 151.6v0.8M33.2 149.8v1.4M34.5 153.6v0.6M35.8 155.0v1.4M37.1 154.5v2.0M38.4 150.1v3.4M39.7 146.9v0.8M41.0 142.9v0.8M42.3 156.0v0.5M43.6 151.2v0.8M44.9 155.2v0.8M46.2 155.9v0.7M47.5 152.5v0.6M48.8 149.5v0.3M50.1 156.5v0.3M51.4 158.1v0.4M52.7 149.8v0.3M54.0 148.9v0.4M55.3 153.8v0.3M56.6 155.3v0.3M57.8 156.9v0.3M59.1 152.0v0.7M60.4 151.1v0.3M61.7 152.7v0.2M63.0 153.3v0.2M64.3 153.7v0.7M66.9 153.9v0.8M68.2 153.4v0.3M70.8 155.2v0.6M72.1 150.8v1.9M73.4 150.7v0.3M74.7 154.4v0.3M76.0 155.6v0.7M77.3 152.6v1.8M78.6 150.6v0.5M81.2 153.8v0.3M82.5 148.8v1.8M83.7 152.0v0.8M85.0 154.9v0.4M87.6 144.4v0.3M90.2 150.4v0.4M92.8 155.2v0.6M94.1 151.2v0.9M95.4 151.7v0.8M96.7 152.9v0.3M98.0 155.4v0.4M100.6 150.8v0.3M101.9 155.6v0.3M103.2 151.7v0.4M104.5 150.4v1.0M105.8 151.7v2.0M107.1 155.2v0.4M109.7 154.6v0.9M112.2 153.7v0.3M113.5 155.1v0.8M114.8 149.3v4.0M116.1 154.3v0.9M117.4 153.5v1.0M118.7 151.5v0.5M120.0 147.0v0.5M121.3 155.5v0.3M122.6 147.9v0.8M123.9 148.9v1.3M126.5 152.4v0.5M127.8 138.8v2.6M129.1 155.4v0.4M130.4 155.7v1.7M131.7 154.8v0.2M133.0 152.6v0.5M135.6 155.6v0.4M136.9 152.6v0.8M139.4 153.5v0.2M140.7 154.8v0.2M142.0 156.9v0.3M143.3 155.9v0.4M144.6 149.5v0.3M145.9 151.6v0.4M147.2 150.1v0.4M148.5 155.8v0.8M149.8 147.9v3.9M151.1 156.6v0.6M152.4 155.6v0.4M153.7 147.5v1.5M155.0 148.2v1.0M156.3 145.3v0.5M157.6 155.9v0.4M158.9 154.7v0.2M162.8 150.1v1.5M164.0 149.9v0.6M165.3 151.8v1.1M166.6 153.8v0.8M167.9 154.1v0.8M169.2 156.6v0.4M171.8 151.8v0.4M173.1 155.1v0.4M174.4 154.3v0.4M175.7 151.7v0.8M177.0 146.9v1.7M178.3 155.1v1.1M179.6 152.5v0.9M180.9 152.8v0.2M182.2 154.7v0.5M183.5 155.5v0.4M184.8 148.0v0.3M186.1 156.3v0.4M187.4 156.2v1.0M188.7 152.4v0.4M191.2 154.3v0.7M192.5 156.5v0.3M193.8 154.1v1.8M195.1 154.0v0.6M196.4 153.6v0.5M197.7 156.5v0.5M200.3 144.6v2.2M201.6 151.7v0.7M202.9 154.2v0.6M204.2 151.0v1.0M205.5 152.3v0.7M206.8 147.8v2.4M208.1 152.1v1.5M209.4 141.2v1.1M210.7 151.8v0.5M212.0 151.0v1.2M213.3 144.2v0.7M214.6 154.6v0.2M217.2 153.4v0.7M218.4 156.5v0.5M219.7 153.3v0.3M222.3 147.6v0.4M223.6 152.6v0.3M224.9 154.8v0.3M226.2 156.4v0.3M227.5 154.2v0.6M228.8 156.5v0.3M230.1 146.0v0.7M231.4 153.1v0.3M232.7 153.1v0.6M234.0 146.8v0.6M235.3 155.6v0.3M236.6 155.8v0.6M237.9 152.3v0.5M239.2 151.2v2.2M240.5 151.7v1.3M241.8 149.4v0.9M243.1 152.2v1.6M245.6 140.8v0.3M246.9 154.2v0.9M249.5 155.6v0.5M250.8 154.9v0.7M252.1 149.0v0.5M253.4 153.9v0.9M254.7 155.3v0.7M256.0 149.8v1.5M257.3 151.6v0.8M258.6 154.3v0.7M259.9 153.0v0.3M261.2 151.5v0.3M262.5 135.6v0.6M263.8 151.2v2.6M265.1 156.2v0.5M266.4 152.9v0.6M267.7 156.9v0.6M269.0 151.6v0.4M270.3 151.6v0.6M271.5 154.3v0.7M272.8 146.3v0.7M274.1 152.3v0.6M275.4 144.4v0.3M278.0 153.8v0.6M279.3 147.0v2.1M280.6 155.6v1.6M281.9 155.8v0.4M283.2 138.6v0.9M284.5 156.6v0.6M285.8 154.0v1.0M287.1 150.2v0.4M288.4 155.6v0.6M289.7 156.6v0.5M292.3 150.8v0.7M293.6 156.1v0.4M294.9 149.1v1.0M296.2 156.3v1.6M297.5 151.4v0.9M298.7 155.2v0.3M300.0 153.9v0.4M301.3 153.8v0.9M302.6 154.3v0.4M303.9 155.7v0.4M305.2 155.4v0.2M306.5 150.3v0.4M307.8 154.5v1.2M309.1 158.6v0.5M310.4 155.3v0.4M311.7 155.7v1.2M313.0 155.0v1.5M314.3 154.7v0.5M315.6 151.1v0.4M316.9 151.6v0.8M318.2 148.1v0.5M319.5 153.9v0.5M320.8 156.7v0.4M322.1 155.4v0.6M323.4 150.2v0.3M324.6 155.7v0.5M325.9 145.1v0.3M327.2 151.7v0.2M328.5 155.7v0.3M329.8 154.5v0.2M331.1 152.9v0.4M332.4 152.5v1.1M333.7 156.5v0.7M335.0 154.1v0.8M336.3 143.0v0.5M337.6 151.7v3.9M338.9 152.8v0.3M340.2 152.3v0.2M341.5 152.2v3.1M342.8 153.6v0.6M344.1 153.7v0.8M345.4 154.0v0.3M346.7 155.7v0.3M348.0 151.5v0.6M349.3 146.7v0.3M350.6 145.9v0.2M351.8 151.3v0.4M355.7 151.0v0.8M357.0 154.1v0.5M358.3 156.0v0.3M359.6 150.0v1.1M360.9 157.4v0.2M362.2 155.9v0.4M363.5 152.6v1.1M364.8 149.7v0.7M367.4 152.6v0.9M368.7 153.4v0.8M370.0 149.9v0.7M372.6 155.1v0.3M375.2 150.7v0.2M379.0 151.1v0.6M380.3 154.1v1.7M382.9 156.2v0.7M384.2 144.5v0.5M385.5 150.5v0.6M386.8 150.1v0.2M389.4 149.8v1.2M390.7 155.7v0.4M394.6 153.5v0.4M397.2 150.7v0.3M398.5 155.8v0.5M399.8 153.0v0.6M401.1 150.1v0.6M402.4 152.6v0.4M403.7 147.2v0.4M404.9 148.5v0.2M406.2 150.9v0.6M407.5 154.9v0.2M408.8 151.9v0.4M410.1 143.4v0.4M411.4 151.5v1.3M412.7 150.0v0.3M416.6 145.0v5.3M417.9 153.0v0.5M419.2 148.3v0.2M421.8 155.0v0.5M423.1 153.8v0.3M424.4 148.8v0.3M425.7 151.8v0.7M427.0 152.1v0.5M428.3 154.0v0.7M429.6 132.9v0.8M430.9 149.2v1.6" stroke="#45d528" stroke-width="1.50" fill="none" shape-rendering="auto"/>
<path d="M30.6 155.5v1.5M31.9 152.3v1.2M33.2 151.1v2.9M34.5 154.2v3.3M35.8 156.4v1.9M37.1 156.5v1.7M38.4 153.4v4.1M39.7 147.7v7.5M41.0 143.7v4.3M42.3 156.4v2.2M43.6 151.9v5.3M44.9 156.0v1.4M46.2 156.6v2.6M47.5 153.1v5.2M48.8 149.8v3.0M50.1 156.7v2.1M51.4 158.5v1.0M52.7 150.0v2.5M54.0 149.3v5.4M55.3 154.0v4.0M56.6 155.5v3.6M57.8 157.1v2.2M59.1 152.6v5.1M60.4 151.4v4.8M61.7 152.8v6.1M63.0 153.5v5.0M64.3 154.4v2.6M65.6 156.6v1.8M66.9 154.6v2.4M68.2 153.7v4.1M69.5 154.8v3.0M70.8 155.8v2.3M72.1 152.6v3.7M73.4 150.9v5.7M74.7 154.6v3.6M76.0 156.2v2.6M77.3 154.3v4.5M78.6 151.1v2.7M79.9 152.1v4.5M81.2 154.0v2.4M82.5 150.5v5.9M83.7 152.7v2.7M85.0 155.2v2.6M86.3 155.9v1.4M87.6 144.7v2.6M88.9 150.5v6.0M90.2 150.7v4.1M91.5 154.1v2.8M92.8 155.7v2.6M94.1 152.1v6.2M95.4 152.5v3.2M96.7 153.1v4.1M98.0 155.7v2.9M99.3 149.5v1.2M100.6 151.0v5.5M101.9 155.9v2.5M103.2 152.0v4.3M104.5 151.4v5.3M105.8 153.7v2.8M107.1 155.5v1.0M108.4 158.0v1.3M109.7 155.4v1.6M110.9 156.9v2.7M112.2 153.9v4.3M113.5 155.9v2.6M114.8 153.2v2.5M116.1 155.1v3.1M117.4 154.5v2.5M118.7 151.9v4.2M120.0 147.5v6.3M121.3 155.8v1.2M122.6 148.7v4.7M123.9 150.1v5.9M125.2 150.8v6.0M126.5 152.8v4.0M127.8 141.3v8.3M129.1 155.8v2.3M130.4 157.3v1.9M131.7 155.0v2.2M133.0 153.1v4.0M134.3 152.9v3.7M135.6 155.9v2.1M136.9 153.4v4.0M138.1 151.1v6.9M139.4 153.6v3.6M140.7 155.0v2.3M142.0 157.1v1.3M143.3 156.3v1.6M144.6 149.8v1.5M145.9 151.9v2.5M147.2 150.5v7.0M148.5 156.6v1.5M149.8 151.8v3.8M151.1 157.2v1.1M152.4 155.9v1.4M153.7 149.0v6.4M155.0 149.2v7.0M156.3 145.7v9.5M157.6 156.2v1.6M158.9 154.9v2.6M160.2 154.9v3.8M161.5 154.9v1.5M162.8 151.6v6.6M164.0 150.5v6.6M165.3 152.8v4.8M166.6 154.6v4.2M167.9 154.8v3.5M169.2 156.9v1.0M170.5 155.7v1.1M171.8 152.1v1.6M173.1 155.4v1.5M174.4 154.6v0.9M175.7 152.4v2.5M177.0 148.6v3.1M178.3 156.2v2.2M179.6 153.3v4.0M180.9 153.0v4.2M182.2 155.2v2.7M183.5 155.8v1.7M184.8 148.2v3.3M186.1 156.6v1.4M187.4 157.1v1.1M188.7 152.7v2.9M190.0 155.9v2.4M191.2 155.0v3.0M192.5 156.7v1.8M193.8 155.8v1.4M195.1 154.6v4.2M196.4 154.1v4.6M197.7 156.9v1.7M199.0 155.5v2.5M200.3 146.7v2.2M201.6 152.4v4.3M202.9 154.7v2.9M204.2 151.9v4.2M205.5 153.0v4.2M206.8 150.1v5.5M208.1 153.6v4.2M209.4 142.3v4.3M210.7 152.3v5.2M212.0 152.2v4.7M213.3 144.9v2.0M214.6 154.8v2.9M215.9 152.7v1.4M217.2 154.0v3.9M218.4 156.9v1.3M219.7 153.5v3.2M221.0 154.8v1.4M222.3 147.9v1.8M223.6 152.8v1.6M224.9 155.1v3.1M226.2 156.6v1.7M227.5 154.8v2.3M228.8 156.7v1.6M230.1 146.6v2.5M231.4 153.3v3.5M232.7 153.7v3.7M234.0 147.3v8.6M235.3 155.9v1.2M236.6 156.4v2.5M237.9 152.8v4.3M239.2 153.3v2.2M240.5 152.9v3.9M241.8 150.3v4.5M243.1 153.7v3.1M244.3 154.0v3.8M245.6 141.1v2.1M246.9 155.1v1.6M248.2 156.6v2.3M249.5 156.1v2.9M250.8 155.6v3.2M252.1 149.4v2.9M253.4 154.7v2.2M254.7 156.0v2.3M256.0 151.2v4.4M257.3 152.3v5.0M258.6 154.9v3.1M259.9 153.3v4.7M261.2 151.8v4.8M262.5 136.1v2.5M263.8 153.7v2.3M265.1 156.6v2.0M266.4 153.4v2.6M267.7 157.4v1.7M269.0 152.0v3.9M270.3 152.2v5.4M271.5 154.9v3.7M272.8 146.9v9.7M274.1 152.8v4.0M275.4 144.7v4.4M276.7 154.3v2.1M278.0 154.4v2.3M279.3 149.1v5.7M280.6 157.1v2.0M281.9 156.1v1.9M283.2 139.4v18.5M284.5 157.1v2.1M285.8 154.9v2.4M287.1 150.6v4.1M288.4 156.1v3.0M289.7 157.1v1.2M291.0 155.7v1.2M292.3 151.4v2.7M293.6 156.5v2.0M294.9 150.0v1.8M296.2 157.8v1.8M297.5 152.2v5.3M298.7 155.4v3.3M300.0 154.3v4.7M301.3 154.6v1.5M302.6 154.7v3.0M303.9 156.0v2.3M305.2 155.6v1.5M306.5 150.7v1.9M307.8 155.6v2.2M309.1 159.0v1.3M310.4 155.6v2.5M311.7 156.8v1.9M313.0 156.4v2.3M314.3 155.1v2.9M315.6 151.4v6.2M316.9 152.3v5.4M318.2 148.6v3.2M319.5 154.4v2.5M320.8 157.0v1.3M322.1 155.9v2.5M323.4 150.5v3.4M324.6 156.2v2.8M325.9 145.4v2.0M327.2 151.9v4.2M328.5 155.9v2.0M329.8 154.6v3.4M331.1 153.2v5.5M332.4 153.5v4.6M333.7 157.1v1.9M335.0 154.8v2.5M336.3 143.4v7.8M337.6 155.6v3.0M338.9 153.1v3.5M340.2 152.4v1.8M341.5 155.3v2.7M342.8 154.2v2.2M344.1 154.5v3.3M345.4 154.3v3.3M346.7 156.0v2.0M348.0 152.1v1.5M349.3 147.0v2.0M350.6 146.0v2.2M351.8 151.6v3.3M353.1 153.3v2.3M354.4 155.6v2.7M355.7 151.8v4.5M357.0 154.6v2.6M358.3 156.3v1.3M359.6 151.1v4.1M360.9 157.6v0.8M362.2 156.3v1.3M363.5 153.7v1.5M364.8 150.4v6.8M366.1 156.5v2.6M367.4 153.5v1.7M368.7 154.2v1.8M370.0 150.6v3.5M371.3 150.9v3.3M372.6 155.3v3.0M373.9 146.6v2.9M375.2 150.9v2.8M376.5 152.4v2.5M377.8 152.0v5.6M379.0 151.7v3.4M380.3 155.8v1.9M381.6 157.7v1.2M382.9 156.9v0.7M384.2 145.0v2.6M385.5 151.1v4.7M386.8 150.3v6.0M388.1 150.4v4.9M389.4 151.0v4.7M390.7 156.0v2.6M392.0 157.4v1.2M393.3 155.8v1.7M394.6 153.9v2.1M395.9 144.9v4.6M397.2 150.9v3.5M398.5 156.3v2.5M399.8 153.6v2.8M401.1 150.7v3.6M402.4 152.9v1.6M403.7 147.5v1.7M404.9 148.6v7.8M406.2 151.4v5.1M407.5 155.1v1.9M408.8 152.2v1.1M410.1 143.8v1.7M411.4 152.8v2.5M412.7 150.2v2.4M414.0 144.5v3.1M415.3 150.6v5.1M416.6 150.2v0.7M417.9 153.4v2.3M419.2 148.5v5.9M420.5 148.5v6.8M421.8 155.4v2.2M423.1 154.0v1.9M424.4 149.0v3.5M425.7 152.5v3.2M427.0 152.6v3.0M428.3 154.7v2.3M429.6 133.7v2.8M430.9 150.7v3.0" stroke="#b1eaf2" stroke-width="1.50" fill="none" shape-rendering="auto"/>
<path d="M30.6 157.0v2.0M31.9 153.5v5.5M33.2 154.0v5.4M34.5 157.4v1.7M35.8 158.2v0.9M37.1 158.1v0.9M38.4 157.5v0.9M39.7 155.1v3.6M41.0 147.9v11.2M42.3 158.6v1.0M43.6 157.2v0.8M44.9 157.3v1.1M46.2 159.1v0.9M47.5 158.2v1.4M48.8 152.8v6.4M50.1 158.7v1.3M51.4 159.4v0.5M52.7 152.4v6.2M54.0 154.6v2.9M55.3 158.0v1.4M56.6 159.0v0.6M57.8 159.3v0.8M59.1 157.6v0.9M60.4 156.1v1.8M61.7 158.9v0.9M63.0 158.4v1.0M64.3 156.9v2.1M65.6 158.3v1.2M66.9 156.9v1.9M68.2 157.7v0.9M69.5 157.7v1.3M70.8 158.0v1.1M72.1 156.2v2.9M73.4 156.6v2.3M74.7 158.2v1.1M76.0 158.8v1.1M77.3 158.7v0.6M78.6 153.7v6.1M79.9 156.6v2.1M81.2 156.4v2.5M82.5 156.3v2.5M83.7 155.3v3.1M85.0 157.8v0.5M86.3 157.3v1.6M87.6 147.2v11.1M88.9 156.5v2.1M90.2 154.7v5.1M91.5 156.8v2.9M92.8 158.3v1.2M94.1 158.2v1.1M95.4 155.7v3.5M96.7 157.2v2.3M98.0 158.6v0.8M99.3 150.6v7.8M100.6 156.5v0.9M101.9 158.4v0.9M103.2 156.3v2.9M104.5 156.6v1.1M105.8 156.5v2.2M107.1 156.4v3.3M108.4 159.2v0.8M109.7 157.0v2.7M110.9 159.5v0.6M112.2 158.1v1.0M113.5 158.4v0.9M114.8 155.7v2.1M116.1 158.2v1.2M117.4 156.9v1.0M118.7 156.1v3.0M120.0 153.7v5.1M121.3 157.0v1.7M122.6 153.3v5.2M123.9 156.0v3.4M125.2 156.7v1.8M126.5 156.8v1.5M127.8 149.6v7.9M129.1 158.0v0.9M130.4 159.2v0.5M131.7 157.2v1.7M133.0 157.0v2.4M134.3 156.5v3.6M135.6 158.0v2.1M136.9 157.4v2.1M138.1 158.0v1.9M139.4 157.1v2.5M140.7 157.2v1.2M142.0 158.3v1.8M143.3 157.8v1.9M144.6 151.2v6.9M145.9 154.4v5.1M147.2 157.4v0.8M148.5 158.0v0.6M149.8 155.5v2.2M151.1 158.2v1.5M152.4 157.2v1.8M153.7 155.3v2.2M155.0 156.1v2.7M156.3 155.1v2.5M157.6 157.7v1.7M158.9 157.4v1.4M160.2 158.6v0.9M161.5 156.4v3.0M162.8 158.1v0.8M164.0 157.1v2.7M165.3 157.6v2.0M166.6 158.8v1.1M167.9 158.2v1.6M169.2 157.9v1.3M170.5 156.7v3.6M171.8 153.6v6.5M173.1 156.9v2.0M174.4 155.5v1.1M175.7 154.9v3.3M177.0 151.6v8.0M178.3 158.3v2.0M179.6 157.2v1.9M180.9 157.1v1.1M182.2 157.9v1.9M183.5 157.5v1.4M184.8 151.5v8.0M186.1 158.0v1.9M187.4 158.2v2.1M188.7 155.5v1.4M190.0 158.2v1.3M191.2 158.0v1.9M192.5 158.4v1.3M193.8 157.1v2.5M195.1 158.7v0.7M196.4 158.6v1.1M197.7 158.6v1.4M199.0 157.9v1.3M200.3 148.9v10.5M201.6 156.6v3.2M202.9 157.5v2.3M204.2 156.1v2.3M205.5 157.1v1.6M206.8 155.5v2.8M208.1 157.8v1.9M209.4 146.5v12.4M210.7 157.4v2.2M212.0 156.8v3.5M213.3 146.8v12.7M214.6 157.7v1.9M215.9 154.1v5.9M217.2 157.9v2.0M218.4 158.1v1.9M219.7 156.7v2.9M221.0 156.2v2.1M222.3 149.6v6.2M223.6 154.4v4.5M224.9 158.2v1.7M226.2 158.3v1.4M227.5 157.1v2.5M228.8 158.3v1.9M230.1 149.1v10.9M231.4 156.8v2.5M232.7 157.4v2.2M234.0 155.9v1.8M235.3 157.0v2.4M236.6 158.8v1.0M237.9 157.0v1.7M239.2 155.5v3.7M240.5 156.8v1.6M241.8 154.7v4.0M243.1 156.7v2.5M244.3 157.7v1.8M245.6 143.1v16.3M246.9 156.6v3.6M248.2 158.9v1.1M249.5 158.9v0.9M250.8 158.7v0.9M252.1 152.3v7.5M253.4 156.9v1.4M254.7 158.2v1.2M256.0 155.5v3.8M257.3 157.3v1.8M258.6 158.0v2.1M259.9 157.9v1.6M261.2 156.5v3.0M262.5 138.6v20.8M263.8 156.0v1.9M265.1 158.5v1.2M266.4 155.9v2.7M267.7 159.1v1.3M269.0 155.8v3.8M270.3 157.6v1.9M271.5 158.6v1.4M272.8 156.6v1.9M274.1 156.8v3.1M275.4 149.0v10.4M276.7 156.3v3.4M278.0 156.6v3.1M279.3 154.8v3.7M280.6 159.1v1.0M281.9 158.0v1.9M283.2 157.9v1.6M284.5 159.2v1.5M285.8 157.3v2.5M287.1 154.6v4.5M288.4 159.1v1.2M289.7 158.3v1.7M291.0 156.9v2.6M292.3 154.1v5.5M293.6 158.5v1.1M294.9 151.8v7.2M296.2 159.6v0.9M297.5 157.4v1.8M298.7 158.7v1.0M300.0 158.9v1.3M301.3 156.1v4.4M302.6 157.7v2.0M303.9 158.3v1.9M305.2 157.0v3.4M306.5 152.5v7.7M307.8 157.7v2.4M309.1 160.3v0.4M310.4 158.0v1.7M311.7 158.7v1.4M313.0 158.7v0.8M314.3 158.0v2.5M315.6 157.6v2.7M316.9 157.7v1.4M318.2 151.7v8.0M319.5 156.9v2.0M320.8 158.3v1.5M322.1 158.3v1.7M323.4 153.8v6.2M324.6 158.9v1.0M325.9 147.3v13.3M327.2 156.0v3.7M328.5 157.9v2.3M329.8 158.0v2.1M331.1 158.7v1.5M332.4 158.1v1.2M333.7 159.0v1.2M335.0 157.3v3.0M336.3 151.2v8.0M337.6 158.6v1.2M338.9 156.6v3.5M340.2 154.2v6.2M341.5 157.9v2.0M342.8 156.3v3.3M344.1 157.7v2.3M345.4 157.5v2.5M346.7 157.9v1.2M348.0 153.5v3.9M349.3 148.9v10.5M350.6 148.2v11.9M351.8 154.9v5.5M353.1 155.6v4.3M354.4 158.2v2.0M355.7 156.2v3.8M357.0 157.1v2.7M358.3 157.6v2.3M359.6 155.1v4.4M360.9 158.3v1.8M362.2 157.5v2.7M363.5 155.2v5.0M364.8 157.1v2.9M366.1 159.0v1.4M367.4 155.1v4.3M368.7 155.9v4.2M370.0 154.0v5.7M371.3 154.2v6.2M372.6 158.3v1.3M373.9 149.5v10.6M375.2 153.7v5.8M376.5 154.8v5.4M377.8 157.6v2.4M379.0 155.1v4.6M380.3 157.7v2.6M381.6 158.8v1.4M382.9 157.5v2.4M384.2 147.5v12.9M385.5 155.7v3.9M386.8 156.3v4.0M388.1 155.2v3.7M389.4 155.7v3.8M390.7 158.5v1.7M392.0 158.5v1.9M393.3 157.5v2.5M394.6 155.9v4.2M395.9 149.4v11.1M397.2 154.4v4.8M398.5 158.7v1.6M399.8 156.3v3.7M401.1 154.2v4.9M402.4 154.4v6.1M403.7 149.1v11.3M404.9 156.4v4.2M406.2 156.4v3.8M407.5 157.0v3.2M408.8 153.3v6.6M410.1 145.4v14.7M411.4 155.2v5.1M412.7 152.5v7.7M414.0 147.5v12.6M415.3 155.6v3.9M416.6 150.9v8.3M417.9 155.6v4.5M419.2 154.4v5.4M420.5 155.3v5.0M421.8 157.5v2.3M423.1 155.8v4.4M424.4 152.5v7.2M425.7 155.6v3.9M427.0 155.5v3.7M428.3 156.9v3.1M429.6 136.4v23.7M430.9 153.6v6.6" stroke="#582cf2" stroke-width="1.50" fill="none" shape-rendering="auto"/>
<path d="M30.6 158.9v1.2M31.9 158.9v0.3M33.2 159.3v0.2M34.5 159.0v0.5M35.8 159.0v0.5M37.1 158.9v0.6M38.4 158.4v0.9M39.7 158.6v0.3M43.6 158.0v1.6M44.9 158.3v1.1M46.2 159.9v0.5M47.5 159.6v0.5M48.8 159.2v0.6M50.1 160.0v0.3M51.4 159.9v0.6M52.7 158.5v1.1M54.0 157.5v0.5M55.3 159.3v0.6M56.6 159.6v0.7M57.8 160.0v0.2M59.1 158.5v1.4M60.4 157.8v0.6M61.7 159.7v0.3M63.0 159.4v0.5M64.3 159.0v0.4M65.6 159.5v0.6M66.9 158.8v0.4M68.2 158.6v0.4M69.5 158.9v0.6M70.8 159.1v0.8M72.1 159.1v0.3M73.4 158.9v0.4M74.7 159.2v0.5M76.0 159.8v0.4M77.3 159.3v0.3M79.9 158.7v1.0M81.2 158.8v1.1M82.5 158.7v0.5M83.7 158.4v0.2M85.0 158.2v1.4M86.3 158.8v0.4M87.6 158.2v0.7M88.9 158.5v0.4M91.5 159.6v0.2M94.1 159.2v0.3M95.4 159.1v0.2M100.6 157.3v0.6M101.9 159.3v0.6M103.2 159.1v0.2M104.5 157.6v1.4M105.8 158.6v0.5M108.4 160.0v0.3M109.7 159.6v0.5M110.9 160.1v0.2M112.2 159.1v0.7M113.5 159.3v0.4M114.8 157.8v0.7M116.1 159.3v0.3M117.4 157.9v1.1M118.7 159.0v0.2M120.0 158.8v0.8M121.3 158.7v1.2M122.6 158.5v0.9M123.9 159.3v0.2M125.2 158.5v0.5M126.5 158.3v0.5M127.8 157.4v0.4M129.1 158.8v1.1M130.4 159.6v0.6M131.7 158.8v1.2M133.0 159.4v0.8M136.9 159.4v0.5M138.1 159.8v0.2M139.4 159.6v0.4M140.7 158.3v0.8M142.0 160.1v0.3M143.3 159.6v0.5M144.6 158.1v1.4M145.9 159.5v0.2M147.2 158.1v1.5M148.5 158.5v1.8M149.8 157.7v0.9M151.1 159.7v0.4M152.4 158.9v0.5M153.7 157.5v2.3M155.0 158.7v0.3M156.3 157.6v1.7M157.6 159.3v1.0M158.9 158.7v0.4M160.2 159.5v0.6M161.5 159.4v0.5M162.8 158.9v0.3M164.0 159.7v0.4M165.3 159.5v0.3M166.6 159.8v0.3M169.2 159.1v0.8M170.5 160.2v0.3M171.8 160.0v0.3M173.1 158.8v0.6M174.4 156.5v2.5M177.0 159.5v0.4M178.3 160.2v0.3M179.6 159.0v0.8M180.9 158.2v1.0M182.2 159.7v0.4M183.5 158.8v1.1M184.8 159.4v0.6M186.1 159.8v0.5M188.7 156.9v1.9M190.0 159.5v0.2M193.8 159.5v0.2M196.4 159.7v0.3M197.7 160.0v0.4M199.0 159.1v0.4M200.3 159.4v0.3M201.6 159.7v0.3M202.9 159.7v0.3M204.2 158.3v1.2M205.5 158.7v1.4M206.8 158.2v0.8M208.1 159.7v0.7M209.4 158.8v1.5M210.7 159.6v0.4M212.0 160.3v0.3M213.3 159.5v0.9M214.6 159.6v0.5M218.4 159.9v0.3M219.7 159.6v0.5M221.0 158.2v1.8M222.3 155.8v3.6M223.6 158.9v1.0M224.9 159.8v0.4M226.2 159.6v0.4M227.5 159.5v0.7M230.1 159.9v0.3M231.4 159.2v0.7M232.7 159.6v0.6M234.0 157.7v1.4M235.3 159.4v0.3M236.6 159.8v0.4M237.9 158.7v0.9M239.2 159.2v0.3M240.5 158.3v0.3M241.8 158.6v0.6M243.1 159.2v0.7M244.3 159.5v0.3M245.6 159.4v0.5M250.8 159.6v0.6M252.1 159.7v0.6M253.4 158.3v2.1M254.7 159.3v0.8M256.0 159.2v0.3M257.3 159.0v0.8M258.6 160.0v0.6M259.9 159.5v0.4M261.2 159.5v0.7M262.5 159.4v0.4M263.8 157.8v2.5M265.1 159.7v0.4M266.4 158.6v0.7M269.0 159.6v0.7M270.3 159.4v0.2M271.5 160.0v0.2M272.8 158.5v1.4M274.1 159.8v0.3M275.4 159.4v0.5M276.7 159.6v0.6M278.0 159.6v0.2M279.3 158.4v0.5M280.6 160.1v0.3M281.9 159.8v0.4M283.2 159.5v0.3M285.8 159.7v0.4M287.1 159.0v1.3M288.4 160.2v0.2M289.7 159.9v0.4M291.0 159.4v0.9M293.6 159.5v0.3M294.9 158.9v1.3M296.2 160.4v0.3M297.5 159.2v1.3M298.7 159.6v0.9M301.3 160.4v0.3M302.6 159.6v0.9M303.9 160.1v0.4M306.5 160.1v0.2M307.8 160.1v0.5M310.4 159.7v0.7M313.0 159.5v0.5M315.6 160.3v0.5M316.9 159.1v0.4M318.2 159.7v0.5M319.5 158.8v1.6M320.8 159.8v0.3M324.6 159.8v0.6M327.2 159.6v0.4M329.8 160.0v0.4M332.4 159.3v0.4M333.7 160.1v0.2M336.3 159.2v0.3M337.6 159.7v0.8M340.2 160.4v0.2M341.5 159.8v0.5M342.8 159.5v0.9M344.1 160.0v0.2M345.4 160.0v0.2M346.7 159.1v1.0M348.0 157.4v2.4M349.3 159.3v0.3M351.8 160.3v0.2M353.1 159.9v0.5M354.4 160.2v0.3M355.7 159.9v0.4M357.0 159.8v0.8M358.3 159.8v0.4M359.6 159.5v0.5M360.9 160.1v0.3M362.2 160.1v0.5M363.5 160.1v0.2M366.1 160.3v0.2M367.4 159.3v1.0M368.7 160.1v0.5M370.0 159.7v0.4M371.3 160.3v0.3M372.6 159.6v0.9M373.9 160.0v0.3M375.2 159.4v0.3M377.8 159.9v0.3M379.0 159.6v0.4M380.3 160.2v0.3M381.6 160.2v0.4M385.5 159.6v0.3M386.8 160.2v0.3M388.1 158.8v1.1M389.4 159.4v0.4M390.7 160.2v0.4M393.3 159.9v0.3M394.6 160.1v0.4M397.2 159.1v1.3M401.1 159.1v1.4M403.7 160.4v0.3M406.2 160.2v0.3M407.5 160.1v0.3M412.7 160.1v0.4M415.3 159.5v0.5M416.6 159.1v0.9M420.5 160.2v0.3M421.8 159.7v0.9M424.4 159.7v0.3M425.7 159.5v0.9M427.0 159.1v0.6M428.3 159.9v0.5M429.6 160.0v0.6M430.9 160.2v0.3" stroke="#b1f274" stroke-width="1.50" fill="none" shape-rendering="auto"/>
<path d="M31.9 159.2v0.3M33.2 159.5v0.6M34.5 159.5v0.6M35.8 159.5v0.4M37.1 159.4v0.6M38.4 159.2v0.3M39.7 158.8v0.4M41.0 159.2v0.4M52.7 159.6v0.4M54.0 157.9v0.4M59.1 159.8v0.2M60.4 158.4v0.2M61.7 160.0v0.2M63.0 159.8v0.5M64.3 159.3v0.6M65.6 160.1v0.2M69.5 159.5v0.2M73.4 159.2v0.4M77.3 159.6v0.3M78.6 159.9v0.3M79.9 159.6v0.3M82.5 159.2v0.3M86.3 159.2v0.5M88.9 158.8v0.2M92.8 159.5v0.2M95.4 159.3v0.5M96.7 159.5v0.2M100.6 157.8v0.2M103.2 159.3v0.4M104.5 159.0v0.6M112.2 159.8v0.2M122.6 159.3v0.2M125.2 159.0v0.5M140.7 159.0v0.3M145.9 159.7v0.3M149.8 158.5v1.1M151.1 160.0v0.4M152.4 159.3v0.3M158.9 159.1v0.3M162.8 159.2v0.2M167.9 159.9v0.3M179.6 159.8v0.3M180.9 159.1v0.4M182.2 160.1v0.2M183.5 159.8v0.4M188.7 158.7v1.2M190.0 159.7v0.3M200.3 159.6v0.2M201.6 159.9v0.3M204.2 159.5v0.3M205.5 160.1v0.5M206.8 158.9v1.1M213.3 160.3v0.3M214.6 160.1v0.3M215.9 160.1v0.2M217.2 160.0v0.2M218.4 160.2v0.2M219.7 160.0v0.3M221.0 160.0v0.3M223.6 159.8v0.2M226.2 159.9v0.3M228.8 160.2v0.2M230.1 160.1v0.4M231.4 159.9v0.3M234.0 159.0v0.4M235.3 159.7v0.3M239.2 159.5v0.2M240.5 158.5v0.5M241.8 159.2v0.4M243.1 159.8v0.3M249.5 159.8v0.3M256.0 159.5v0.4M257.3 159.8v0.3M265.1 160.1v0.2M271.5 160.1v0.3M272.8 159.9v0.2M276.7 160.2v0.3M279.3 158.9v0.4M292.3 159.6v0.7M293.6 159.7v0.7M323.4 160.1v0.3M324.6 160.3v0.4M328.5 160.2v0.3M344.1 160.2v0.2M345.4 160.1v0.2M348.0 159.8v0.4M357.0 160.5v0.2M358.3 160.2v0.2M359.6 159.9v0.3M364.8 160.1v0.4M375.2 159.6v0.5M379.0 160.0v0.2M388.1 159.9v0.2M389.4 159.8v0.2M414.0 160.2v0.2M415.3 159.9v0.3M417.9 160.2v0.2M419.2 159.9v0.3M425.7 160.3v0.3M427.0 159.7v0.4" stroke="#ffffaa" stroke-width="1.50" fill="none" shape-rendering="auto"/>
<path d="M30.6 160.2v0.9M31.9 159.5v1.6M33.2 160.0v1.0M34.5 160.1v1.0M35.8 159.8v1.2M37.1 160.0v1.1M38.4 159.5v1.6M39.7 159.1v1.9M41.0 159.6v1.5M42.3 159.8v1.3M43.6 159.6v1.4M44.9 159.5v1.6M46.2 160.4v0.6M47.5 160.1v1.0M48.8 159.9v1.2M50.1 160.3v0.8M51.4 160.4v0.6M52.7 160.0v1.0M54.0 158.3v2.8M55.3 159.9v1.1M56.6 160.3v0.7M57.8 160.3v0.7M59.1 160.0v1.0M60.4 158.6v2.5M61.7 160.2v0.9M63.0 160.2v0.8M64.3 159.9v1.2M65.6 160.2v0.8M66.9 159.3v1.8M68.2 159.1v2.0M69.5 159.7v1.4M70.8 160.0v1.1M72.1 159.4v1.7M73.4 159.5v1.5M74.7 159.7v1.4M76.0 160.3v0.8M77.3 159.8v1.2M78.6 160.2v0.9M79.9 159.9v1.2M81.2 160.0v1.0M82.5 159.4v1.7M83.7 158.5v2.5M85.0 159.5v1.5M86.3 159.6v1.4M87.6 158.9v2.2M88.9 159.0v2.0M90.2 159.9v1.1M91.5 159.9v1.2M92.8 159.7v1.4M94.1 159.5v1.5M95.4 159.7v1.3M96.7 159.7v1.3M98.0 159.5v1.6M99.3 158.5v2.6M100.6 158.0v3.1M101.9 159.9v1.2M103.2 159.6v1.4M104.5 159.5v1.6M105.8 159.1v1.9M107.1 159.9v1.2M108.4 160.4v0.7M109.7 160.2v0.9M110.9 160.4v0.7M112.2 159.9v1.1M113.5 159.7v1.3M114.8 158.5v2.6M116.1 159.7v1.4M117.4 159.0v2.1M118.7 159.3v1.8M120.0 159.6v1.5M121.3 159.9v1.1M122.6 159.4v1.6M123.9 159.5v1.5M125.2 159.4v1.6M126.5 158.7v2.3M127.8 157.8v3.2M129.1 160.0v1.0M130.4 160.2v0.8M131.7 160.0v1.0M133.0 160.2v0.8M134.3 160.3v0.7M135.6 160.2v0.9M136.9 159.9v1.1M138.1 160.0v1.1M139.4 160.0v1.0M140.7 159.3v1.8M142.0 160.4v0.6M143.3 160.2v0.9M144.6 159.5v1.5M145.9 159.9v1.2M147.2 159.7v1.4M148.5 160.3v0.7M149.8 159.6v1.5M151.1 160.3v0.7M152.4 159.6v1.5M153.7 159.8v1.2M155.0 159.1v2.0M156.3 159.3v1.7M157.6 160.3v0.7M158.9 159.3v1.7M160.2 160.2v0.9M161.5 159.9v1.1M162.8 159.3v1.7M164.0 160.1v0.9M165.3 159.9v1.2M166.6 160.2v0.9M167.9 160.2v0.9M169.2 159.9v1.1M170.5 160.5v0.5M171.8 160.4v0.7M173.1 159.5v1.6M174.4 159.0v2.0M175.7 158.3v2.7M177.0 159.9v1.1M178.3 160.4v0.6M179.6 160.1v1.0M180.9 159.5v1.6M182.2 160.2v0.8M183.5 160.2v0.9M184.8 160.1v1.0M186.1 160.4v0.6M187.4 160.4v0.7M188.7 159.8v1.2M190.0 159.9v1.1M191.2 160.0v1.0M192.5 159.8v1.2M193.8 159.8v1.2M195.1 159.5v1.5M196.4 160.0v1.1M197.7 160.4v0.7M199.0 159.5v1.6M200.3 159.7v1.3M201.6 160.2v0.9M202.9 160.0v1.0M204.2 159.7v1.3M205.5 160.5v0.5M206.8 160.0v1.0M208.1 160.3v0.7M209.4 160.3v0.7M210.7 160.0v1.0M212.0 160.5v0.5M213.3 160.6v0.5M214.6 160.3v0.8M215.9 160.2v0.8M217.2 160.1v0.9M218.4 160.4v0.7M219.7 160.2v0.8M221.0 160.2v0.8M222.3 159.5v1.6M223.6 159.9v1.1M224.9 160.3v0.7M226.2 160.1v0.9M227.5 160.3v0.8M228.8 160.3v0.7M230.1 160.5v0.6M231.4 160.1v1.0M232.7 160.2v0.9M234.0 159.3v1.7M235.3 159.9v1.2M236.6 160.2v0.8M237.9 159.6v1.4M239.2 159.7v1.3M240.5 158.9v2.1M241.8 159.5v1.6M243.1 160.1v1.0M244.3 159.8v1.2M245.6 159.9v1.2M246.9 160.3v0.8M248.2 160.0v1.0M249.5 160.0v1.0M250.8 160.2v0.8M252.1 160.3v0.7M253.4 160.4v0.6M254.7 160.2v0.9M256.0 159.8v1.2M257.3 160.1v1.0M258.6 160.6v0.4M259.9 159.9v1.1M261.2 160.2v0.9M262.5 159.8v1.2M263.8 160.3v0.8M265.1 160.2v0.8M266.4 159.3v1.7M267.7 160.5v0.5M269.0 160.2v0.8M270.3 159.6v1.4M271.5 160.4v0.7M272.8 160.0v1.0M274.1 160.2v0.8M275.4 159.9v1.1M276.7 160.4v0.6M278.0 159.9v1.1M279.3 159.2v1.9M280.6 160.4v0.7M281.9 160.2v0.9M283.2 159.8v1.2M284.5 160.7v0.3M285.8 160.2v0.9M287.1 160.3v0.7M288.4 160.5v0.6M289.7 160.3v0.8M291.0 160.3v0.8M292.3 160.2v0.8M293.6 160.3v0.7M294.9 160.3v0.8M296.2 160.7v0.4M297.5 160.5v0.6M298.7 160.6v0.5M300.0 160.4v0.7M301.3 160.7v0.3M302.6 160.5v0.5M303.9 160.5v0.5M305.2 160.5v0.5M306.5 160.4v0.7M307.8 160.5v0.5M309.1 160.7v0.3M310.4 160.3v0.7M311.7 160.3v0.8M313.0 160.0v1.1M314.3 160.6v0.4M315.6 160.8v0.3M316.9 159.5v1.6M318.2 160.2v0.9M319.5 160.4v0.7M320.8 160.1v1.0M322.1 160.2v0.9M323.4 160.3v0.7M324.6 160.6v0.4M325.9 160.6v0.4M327.2 160.0v1.0M328.5 160.4v0.6M329.8 160.5v0.6M331.1 160.3v0.7M332.4 159.7v1.3M333.7 160.3v0.7M335.0 160.3v0.7M336.3 159.6v1.5M337.6 160.5v0.6M338.9 160.2v0.9M340.2 160.6v0.5M341.5 160.4v0.7M342.8 160.5v0.5M344.1 160.3v0.7M345.4 160.3v0.7M346.7 160.2v0.8M348.0 160.2v0.9M349.3 159.7v1.4M350.6 160.3v0.8M351.8 160.6v0.5M353.1 160.4v0.6M354.4 160.6v0.5M355.7 160.4v0.7M357.0 160.6v0.4M358.3 160.4v0.7M359.6 160.1v0.9M360.9 160.4v0.6M362.2 160.6v0.4M363.5 160.3v0.8M364.8 160.5v0.6M366.1 160.6v0.4M367.4 160.4v0.7M368.7 160.6v0.5M370.0 160.1v1.0M371.3 160.6v0.4M372.6 160.4v0.6M373.9 160.4v0.7M375.2 160.1v1.0M376.5 160.3v0.7M377.8 160.2v0.8M379.0 160.2v0.8M380.3 160.6v0.5M381.6 160.7v0.4M382.9 160.0v1.0M384.2 160.5v0.6M385.5 160.0v1.0M386.8 160.5v0.6M388.1 160.0v1.0M389.4 160.0v1.1M390.7 160.6v0.5M392.0 160.6v0.4M393.3 160.2v0.8M394.6 160.5v0.6M395.9 160.6v0.4M397.2 160.4v0.6M398.5 160.5v0.5M399.8 160.2v0.9M401.1 160.5v0.6M402.4 160.6v0.4M403.7 160.8v0.3M404.9 160.6v0.5M406.2 160.4v0.6M407.5 160.4v0.6M408.8 160.0v1.1M410.1 160.2v0.8M411.4 160.3v0.7M412.7 160.5v0.6M414.0 160.4v0.7M415.3 160.2v0.8M416.6 160.1v0.9M417.9 160.3v0.7M419.2 160.1v0.9M420.5 160.5v0.6M421.8 160.6v0.5M423.1 160.3v0.8M424.4 160.0v1.1M425.7 160.6v0.5M427.0 160.0v1.0M428.3 160.5v0.6M429.6 160.7v0.4M430.9 160.5v0.6" stroke="#90d5f2" stroke-width="1.50" fill="none" shape-rendering="auto"/>
</g>
<path d="M30.6 104.3v-4.5M31.9 104.3v-2.2M33.2 104.3v-15.4M34.5 104.3v-11.4M35.8 104.3v-1.7M37.1 104.3v-14.5M38.4 104.3v-12.1M39.7 104.3v-12.0M41.0 104.3v-4.0M42.3 104.3v-2.1M43.6 104.3v-1.1M44.9 104.3v-11.1M46.2 104.3v-2.9M47.5 104.3v-0.9M48.8 104.3v-11.6M50.1 104.3v-1.0M51.4 104.3v-1.6M52.7 104.3v-1.5M54.0 104.3v-2.0M55.3 104.3v-2.2M56.6 104.3v-1.8M57.8 104.3v-1.6M59.1 104.3v-5.8M60.4 104.3v-5.8M61.7 104.3v-4.0M63.0 104.3v-10.1M64.3 104.3v-1.4M65.6 104.3v-5.4M66.9 104.3v-4.7M68.2 104.3v-1.2M69.5 104.3v-9.2M70.8 104.3v-5.3M72.1 104.3v-2.0M73.4 104.3v-1.5M74.7 104.3v-1.0M76.0 104.3v-5.3M77.3 104.3v-7.4M78.6 104.3v-2.3M79.9 104.3v-4.1M81.2 104.3v-0.8M82.5 104.3v-1.9M83.7 104.3v-2.0M85.0 104.3v-7.2M86.3 104.3v-3.9M87.6 104.3v-3.9M88.9 104.3v-10.1M90.2 104.3v-6.8M91.5 104.3v-1.0M92.8 104.3v-1.2M94.1 104.3v-8.7M95.4 104.3v-6.1M96.7 104.3v-4.9M98.0 104.3v-4.4M99.3 104.3v-3.1M100.6 104.3v-0.9M101.9 104.3v-1.5M103.2 104.3v-1.5M104.5 104.3v-9.0M105.8 104.3v-12.2M107.1 104.3v-4.8M108.4 104.3v-0.9M109.7 104.3v-1.6M110.9 104.3v-1.0M112.2 104.3v-16.9M113.5 104.3v-2.2M114.8 104.3v-13.5M116.1 104.3v-2.2M117.4 104.3v-13.0M118.7 104.3v-12.0M120.0 104.3v-6.8M121.3 104.3v-9.6M122.6 104.3v-6.8M123.9 104.3v-10.1M125.2 104.3v-1.3M126.5 104.3v-1.8M127.8 104.3v-7.7M129.1 104.3v-6.5M130.4 104.3v-3.9M131.7 104.3v-1.0M133.0 104.3v-1.6M134.3 104.3v-0.8M135.6 104.3v-1.4M136.9 104.3v-6.6M138.1 104.3v-12.2M139.4 104.3v-3.9M140.7 104.3v-3.9M142.0 104.3v-9.2M143.3 104.3v-6.9M144.6 104.3v-5.4M145.9 104.3v-10.6M147.2 104.3v-5.3M148.5 104.3v-5.3M149.8 104.3v-4.1M151.1 104.3v-9.2M152.4 104.3v-6.5M153.7 104.3v-4.1M155.0 104.3v-9.1M156.3 104.3v-10.6M157.6 104.3v-13.0M158.9 104.3v-9.6M160.2 104.3v-6.0M161.5 104.3v-6.2M162.8 104.3v-0.9M164.0 104.3v-3.2M165.3 104.3v-1.9M166.6 104.3v-1.8M167.9 104.3v-5.8M169.2 104.3v-7.4M170.5 104.3v-1.3M171.8 104.3v-2.9M173.1 104.3v-2.0M174.4 104.3v-1.5M175.7 104.3v-2.0M177.0 104.3v-1.6M178.3 104.3v-2.5M179.6 104.3v-6.3M180.9 104.3v-11.1M182.2 104.3v-1.9M183.5 104.3v-2.4M184.8 104.3v-1.9M186.1 104.3v-14.8M187.4 104.3v-16.4M188.7 104.3v-9.2M190.0 104.3v-1.7M191.2 104.3v-1.3M192.5 104.3v-14.5M193.8 104.3v-3.1M195.1 104.3v-9.0M196.4 104.3v-2.0M197.7 104.3v-1.9M199.0 104.3v-1.2M200.3 104.3v-5.3M201.6 104.3v-9.6M202.9 104.3v-3.9M204.2 104.3v-3.9M205.5 104.3v-7.2M206.8 104.3v-1.8M208.1 104.3v-6.3M209.4 104.3v-3.9M210.7 104.3v-1.1M212.0 104.3v-1.2M213.3 104.3v-2.4M214.6 104.3v-2.1M215.9 104.3v-1.5M217.2 104.3v-7.8M218.4 104.3v-6.6M219.7 104.3v-1.1M221.0 104.3v-1.8M222.3 104.3v-0.8M223.6 104.3v-5.6M224.9 104.3v-3.9M226.2 104.3v-1.4M227.5 104.3v-2.5M228.8 104.3v-2.3M230.1 104.3v-2.9M231.4 104.3v-4.1M232.7 104.3v-15.4M234.0 104.3v-0.9M235.3 104.3v-11.9M236.6 104.3v-9.6M237.9 104.3v-5.3M239.2 104.3v-2.1M240.5 104.3v-2.1M241.8 104.3v-6.3M243.1 104.3v-3.3M244.3 104.3v-3.9M245.6 104.3v-1.0M246.9 104.3v-1.5M248.2 104.3v-1.0M249.5 104.3v-3.3M250.8 104.3v-3.9M252.1 104.3v-1.8M253.4 104.3v-6.2M254.7 104.3v-8.2M256.0 104.3v-6.8M257.3 104.3v-13.5M258.6 104.3v-13.5M259.9 104.3v-13.0M261.2 104.3v-12.9M262.5 104.3v-6.8M263.8 104.3v-1.7M265.1 104.3v-10.6M266.4 104.3v-1.1M267.7 104.3v-11.1M269.0 104.3v-11.1M270.3 104.3v-6.0M271.5 104.3v-1.2M272.8 104.3v-6.8M274.1 104.3v-2.8M275.4 104.3v-3.9M276.7 104.3v-1.8M278.0 104.3v-6.7M279.3 104.3v-14.9M280.6 104.3v-5.3M281.9 104.3v-3.4M283.2 104.3v-3.9M284.5 104.3v-1.5M285.8 104.3v-1.5M287.1 104.3v-0.9M288.4 104.3v-4.9M289.7 104.3v-1.6M291.0 104.3v-5.8M292.3 104.3v-1.6M293.6 104.3v-4.4M294.9 104.3v-1.2M296.2 104.3v-6.7M297.5 104.3v-3.5M298.7 104.3v-3.9M300.0 104.3v-2.3M301.3 104.3v-1.9M302.6 104.3v-7.5M303.9 104.3v-8.4M305.2 104.3v-8.8M306.5 104.3v-9.1M307.8 104.3v-8.2M309.1 104.3v-8.7M310.4 104.3v-8.0M311.7 104.3v-13.0M313.0 104.3v-5.0M314.3 104.3v-3.8M315.6 104.3v-10.1M316.9 104.3v-13.5M318.2 104.3v-6.7M319.5 104.3v-9.6M320.8 104.3v-12.0M322.1 104.3v-4.4M323.4 104.3v-7.7M324.6 104.3v-6.0M325.9 104.3v-3.9M327.2 104.3v-9.2M328.5 104.3v-6.8M329.8 104.3v-9.1M331.1 104.3v-1.5M332.4 104.3v-1.4M333.7 104.3v-10.1M335.0 104.3v-3.3M336.3 104.3v-13.0M337.6 104.3v-12.5M338.9 104.3v-3.9M340.2 104.3v-7.3M341.5 104.3v-11.6M342.8 104.3v-13.0M344.1 104.3v-7.2M345.4 104.3v-10.1M346.7 104.3v-9.6M348.0 104.3v-9.0M349.3 104.3v-2.9M350.6 104.3v-4.8M351.8 104.3v-4.8M353.1 104.3v-8.2M354.4 104.3v-11.5M355.7 104.3v-3.4M357.0 104.3v-5.9M358.3 104.3v-1.2M359.6 104.3v-1.4M360.9 104.3v-1.3M362.2 104.3v-4.8M363.5 104.3v-1.0M364.8 104.3v-9.2M366.1 104.3v-1.0M367.4 104.3v-6.2M368.7 104.3v-2.4M370.0 104.3v-3.9M371.3 104.3v-8.3M372.6 104.3v-9.2M373.9 104.3v-7.7M375.2 104.3v-11.4M376.5 104.3v-11.1M377.8 104.3v-5.9M379.0 104.3v-12.6M380.3 104.3v-9.8M381.6 104.3v-2.7M382.9 104.3v-1.2M384.2 104.3v-5.0M385.5 104.3v-1.5M386.8 104.3v-14.9M388.1 104.3v-2.2M389.4 104.3v-6.4M390.7 104.3v-1.4M392.0 104.3v-7.3M393.3 104.3v-3.0M394.6 104.3v-2.7M395.9 104.3v-1.3M397.2 104.3v-11.6M398.5 104.3v-7.0M399.8 104.3v-8.7M401.1 104.3v-3.8M402.4 104.3v-5.9M403.7 104.3v-11.0M404.9 104.3v-7.9M406.2 104.3v-5.4M407.5 104.3v-9.5M408.8 104.3v-9.5M410.1 104.3v-12.1M411.4 104.3v-2.0M412.7 104.3v-6.8M414.0 104.3v-11.6M415.3 104.3v-10.4M416.6 104.3v-10.0M417.9 104.3v-1.3M419.2 104.3v-10.5M420.5 104.3v-3.5M421.8 104.3v-5.8M423.1 104.3v-11.6M424.4 104.3v-5.9M425.7 104.3v-10.0M427.0 104.3v-10.0M428.3 104.3v-1.4M429.6 104.3v-12.1M430.9 104.3v-2.2" stroke="#1c3434" stroke-width="1.17" fill="none" shape-rendering="auto"/>
<rect x="29.5" y="87.5" width="402.5" height="17.400000000000006" fill="none" stroke="#111" stroke-width="1"/>
<rect x="29.5" y="104.9" width="402.5" height="57.69999999999999" fill="none" stroke="#111" stroke-width="1"/>
<line x1="29.5" y1="104.9" x2="432.0" y2="104.9" stroke="#111" stroke-width="1.3"/>
<line x1="27.0" y1="91.3" x2="29.5" y2="91.3" stroke="#222" stroke-width="1"/>
<text x="26.2" y="92.8" font-family="Liberation Sans, sans-serif" font-size="4.4" fill="#1a1a1a" text-anchor="end">15</text>
<line x1="27.0" y1="95.5" x2="29.5" y2="95.5" stroke="#222" stroke-width="1"/>
<text x="26.2" y="97.0" font-family="Liberation Sans, sans-serif" font-size="4.4" fill="#1a1a1a" text-anchor="end">10</text>
<line x1="27.0" y1="99.8" x2="29.5" y2="99.8" stroke="#222" stroke-width="1"/>
<text x="26.2" y="101.3" font-family="Liberation Sans, sans-serif" font-size="4.4" fill="#1a1a1a" text-anchor="end">5</text>
<line x1="27.0" y1="104.0" x2="29.5" y2="104.0" stroke="#222" stroke-width="1"/>
<text x="26.2" y="105.5" font-family="Liberation Sans, sans-serif" font-size="4.4" fill="#1a1a1a" text-anchor="end">0</text>
<line x1="27.0" y1="108.30" x2="29.5" y2="108.30" stroke="#222" stroke-width="1"/>
<text x="26.2" y="109.80" font-family="Liberation Sans, sans-serif" font-size="4.4" fill="#1a1a1a" text-anchor="end">100</text>
<line x1="27.0" y1="121.47" x2="29.5" y2="121.47" stroke="#222" stroke-width="1"/>
<text x="26.2" y="122.97" font-family="Liberation Sans, sans-serif" font-size="4.4" fill="#1a1a1a" text-anchor="end">75</text>
<line x1="27.0" y1="134.65" x2="29.5" y2="134.65" stroke="#222" stroke-width="1"/>
<text x="26.2" y="136.15" font-family="Liberation Sans, sans-serif" font-size="4.4" fill="#1a1a1a" text-anchor="end">50</text>
<line x1="27.0" y1="147.82" x2="29.5" y2="147.82" stroke="#222" stroke-width="1"/>
<text x="26.2" y="149.32" font-family="Liberation Sans, sans-serif" font-size="4.4" fill="#1a1a1a" text-anchor="end">25</text>
<line x1="27.0" y1="161.00" x2="29.5" y2="161.00" stroke="#222" stroke-width="1"/>
<text x="26.2" y="162.50" font-family="Liberation Sans, sans-serif" font-size="4.4" fill="#1a1a1a" text-anchor="end">0</text>
<text font-family="Liberation Sans, sans-serif" font-size="10.5" font-weight="bold" fill="#000" stroke="#000" stroke-width="0.45" transform="translate(6.9 95.5) scale(1.06 1)">B</text>
<g opacity="1.0" filter="url(#bl)">
<path d="M31.1 188.2v0.7M32.4 188.2v3.7M33.7 188.2v0.4M35.0 188.2v1.1M36.3 188.2v1.1M37.6 188.2v3.5M38.9 188.2v0.8M40.2 188.2v0.7M41.5 188.2v0.3M42.8 188.2v1.7M44.1 188.2v1.3M45.4 188.2v3.5M46.7 188.2v0.3M48.0 188.2v0.3M50.5 188.2v0.9M51.8 188.2v0.8M53.1 188.2v0.7M54.4 188.2v0.7M55.7 188.2v0.4M57.0 188.2v2.3M58.3 188.2v0.8M59.6 188.2v0.9M60.9 188.2v0.8M62.2 188.2v0.6M63.5 188.2v2.9M64.8 188.2v0.9M66.1 188.2v1.5M67.4 188.2v1.3M68.7 188.2v2.1M70.0 188.2v0.9M71.2 188.2v1.8M72.5 188.2v1.8M73.8 188.2v0.3M75.1 188.2v0.3M76.4 188.2v0.5M77.7 188.2v0.4M80.3 188.2v0.7M81.6 188.2v0.8M82.9 188.2v1.0M84.2 188.2v2.0M85.5 188.2v2.1M86.8 188.2v1.2M88.1 188.2v4.6M89.4 188.2v2.2M90.7 188.2v0.9M91.9 188.2v0.3M93.2 188.2v1.8M94.5 188.2v0.9M95.8 188.2v0.6M97.1 188.2v1.0M98.4 188.2v0.5M99.7 188.2v1.3M101.0 188.2v1.8M102.3 188.2v1.1M103.6 188.2v0.4M104.9 188.2v0.4M106.2 188.2v0.7M107.5 188.2v0.6M108.8 188.2v1.1M110.1 188.2v0.4M111.3 188.2v1.5M112.6 188.2v0.4M113.9 188.2v0.9M115.2 188.2v0.7M116.5 188.2v1.0M117.8 188.2v1.3M119.1 188.2v2.2M120.4 188.2v0.3M121.7 188.2v0.4M123.0 188.2v1.6M124.3 188.2v2.3M126.9 188.2v1.0M128.2 188.2v0.4M132.0 188.2v2.0M133.3 188.2v1.8M134.6 188.2v9.8M135.9 188.2v1.5M137.2 188.2v0.8M138.5 188.2v1.3M139.8 188.2v0.7M141.1 188.2v4.0M142.4 188.2v0.5M143.7 188.2v1.6M145.0 188.2v0.8M146.3 188.2v0.8M147.6 188.2v0.7M148.9 188.2v0.3M150.2 188.2v2.1M151.4 188.2v1.9M152.7 188.2v1.1M155.3 188.2v1.1M156.6 188.2v0.5M157.9 188.2v0.3M159.2 188.2v0.8M160.5 188.2v1.3M161.8 188.2v4.3M163.1 188.2v7.2M164.4 188.2v1.6M165.7 188.2v1.9M167.0 188.2v2.9M168.3 188.2v3.3M169.6 188.2v1.0M170.8 188.2v2.1M172.1 188.2v2.0M173.4 188.2v2.6M174.7 188.2v0.9M176.0 188.2v4.3M177.3 188.2v0.8M178.6 188.2v1.1M179.9 188.2v2.1M181.2 188.2v3.0M182.5 188.2v1.0M183.8 188.2v0.5M185.1 188.2v6.5M186.4 188.2v2.5M187.7 188.2v0.4M189.0 188.2v0.7M190.3 188.2v1.0M191.5 188.2v1.1M192.8 188.2v0.5M194.1 188.2v5.2M195.4 188.2v0.7M196.7 188.2v0.4M198.0 188.2v1.3M199.3 188.2v0.7M200.6 188.2v1.0M201.9 188.2v1.2M203.2 188.2v0.3M204.5 188.2v1.1M205.8 188.2v0.5M207.1 188.2v8.9M208.4 188.2v3.4M209.7 188.2v3.3M210.9 188.2v0.7M212.2 188.2v0.8M213.5 188.2v4.2M214.8 188.2v2.1M216.1 188.2v0.9M217.4 188.2v1.5M218.7 188.2v0.9M220.0 188.2v1.1M221.3 188.2v0.4M222.6 188.2v1.4M223.9 188.2v0.4M225.2 188.2v2.0M226.5 188.2v7.9M227.8 188.2v0.3M229.1 188.2v1.0M230.4 188.2v6.5M231.6 188.2v1.1M232.9 188.2v1.8M234.2 188.2v0.4M235.5 188.2v0.7M236.8 188.2v0.2M238.1 188.2v1.3M239.4 188.2v3.5M240.7 188.2v0.6M242.0 188.2v0.2M243.3 188.2v0.5M244.6 188.2v1.8M245.9 188.2v2.3M247.2 188.2v2.5M248.5 188.2v0.3M249.8 188.2v0.3M251.0 188.2v3.8M252.3 188.2v1.1M253.6 188.2v1.6M254.9 188.2v1.0M256.2 188.2v0.5M257.5 188.2v2.0M258.8 188.2v5.4M260.1 188.2v1.3M261.4 188.2v5.6M262.7 188.2v0.2M264.0 188.2v0.3M265.3 188.2v0.6M266.6 188.2v0.4M267.9 188.2v0.3M269.2 188.2v2.6M270.5 188.2v1.3M271.7 188.2v1.0M273.0 188.2v0.8M274.3 188.2v1.0M275.6 188.2v0.7M276.9 188.2v0.3M278.2 188.2v0.3M279.5 188.2v4.7M280.8 188.2v2.0M282.1 188.2v0.8M283.4 188.2v1.4M284.7 188.2v1.8M286.0 188.2v0.5M287.3 188.2v2.3M288.6 188.2v1.2M289.9 188.2v0.4M291.1 188.2v0.8M292.4 188.2v2.4M293.7 188.2v3.7M295.0 188.2v1.4M296.3 188.2v0.7M297.6 188.2v1.7M298.9 188.2v2.9M300.2 188.2v1.1M301.5 188.2v1.1M302.8 188.2v0.5M304.1 188.2v0.9M305.4 188.2v0.8M306.7 188.2v1.3M308.0 188.2v1.7M309.3 188.2v2.8M310.6 188.2v2.4M311.8 188.2v7.8M313.1 188.2v1.0M314.4 188.2v1.0M315.7 188.2v0.5M317.0 188.2v1.7M318.3 188.2v2.9M319.6 188.2v1.3M320.9 188.2v1.8M322.2 188.2v1.5M323.5 188.2v0.5M324.8 188.2v0.5M326.1 188.2v1.5M327.4 188.2v0.7M328.7 188.2v2.1M330.0 188.2v2.8M331.2 188.2v1.1M332.5 188.2v0.6M333.8 188.2v0.6M335.1 188.2v0.7M336.4 188.2v1.6M337.7 188.2v0.7M339.0 188.2v0.5M340.3 188.2v1.9M341.6 188.2v2.2M342.9 188.2v1.1M344.2 188.2v0.3M345.5 188.2v2.2M346.8 188.2v0.9M348.1 188.2v1.4M349.4 188.2v3.3M350.7 188.2v1.2M351.9 188.2v5.4M353.2 188.2v1.9M354.5 188.2v0.9M355.8 188.2v0.5M357.1 188.2v0.6M358.4 188.2v1.7M359.7 188.2v2.7M361.0 188.2v2.3M362.3 188.2v2.0M363.6 188.2v3.1M364.9 188.2v0.6M366.2 188.2v2.9M367.5 188.2v0.5M368.8 188.2v0.3M370.1 188.2v0.5M371.3 188.2v1.4M372.6 188.2v0.2M373.9 188.2v0.9M375.2 188.2v0.3M376.5 188.2v1.5M377.8 188.2v5.6M379.1 188.2v3.8M380.4 188.2v4.1M381.7 188.2v5.2M383.0 188.2v2.2M384.3 188.2v2.6M385.6 188.2v5.6M386.9 188.2v1.7M388.2 188.2v0.9M389.5 188.2v5.8M390.8 188.2v1.0M392.0 188.2v4.0M393.3 188.2v1.9M394.6 188.2v0.5M395.9 188.2v1.2M397.2 188.2v6.5M398.5 188.2v0.9M399.8 188.2v2.2M401.1 188.2v1.5M402.4 188.2v1.6M403.7 188.2v4.0M405.0 188.2v5.3M406.3 188.2v0.9M407.6 188.2v0.9M408.9 188.2v1.0M410.2 188.2v2.4M411.4 188.2v0.5M412.7 188.2v0.9M414.0 188.2v0.6M415.3 188.2v0.6M416.6 188.2v0.2M417.9 188.2v0.8M419.2 188.2v7.2M420.5 188.2v1.8M421.8 188.2v1.1M423.1 188.2v1.5M424.4 188.2v4.8M425.7 188.2v4.3M427.0 188.2v3.1M428.3 188.2v0.5M429.6 188.2v1.9M430.9 188.2v2.8" stroke="#3585e8" stroke-width="1.49" fill="none" shape-rendering="auto"/>
<path d="M31.1 188.8v0.5M32.4 191.9v1.4M33.7 188.6v1.6M35.0 189.2v0.4M36.3 189.3v1.9M37.6 191.7v0.5M38.9 188.9v0.4M40.2 188.8v1.0M41.5 188.5v2.0M42.8 189.8v0.9M44.1 189.4v3.9M45.4 191.7v0.4M46.7 188.4v0.4M48.0 188.5v4.7M49.3 188.3v2.2M50.5 189.0v0.6M51.8 189.0v0.5M54.4 188.8v0.9M55.7 188.6v1.6M57.0 190.4v6.6M58.3 189.0v1.1M59.6 189.0v1.7M60.9 188.9v2.3M62.2 188.7v1.0M63.5 191.1v0.5M64.8 189.0v2.2M66.1 189.6v0.5M67.4 189.5v0.6M68.7 190.3v0.4M70.0 189.1v1.0M71.2 189.9v0.5M72.5 190.0v0.8M73.8 188.5v0.5M75.1 188.4v1.5M76.4 188.7v2.0M77.7 188.5v2.1M79.0 188.3v0.8M80.3 188.8v2.1M81.6 189.0v0.5M82.9 189.2v0.3M84.2 190.1v0.4M85.5 190.2v2.6M86.8 189.3v0.8M88.1 192.8v1.1M89.4 190.3v0.3M90.7 189.1v0.4M91.9 188.4v0.8M93.2 189.9v0.8M94.5 189.1v1.4M95.8 188.7v0.3M97.1 189.2v1.7M98.4 188.6v0.5M99.7 189.4v0.6M101.0 190.0v0.3M102.3 189.2v2.4M103.6 188.6v0.5M104.9 188.5v0.9M106.2 188.8v1.4M107.5 188.7v0.3M108.8 189.3v0.7M110.1 188.6v1.1M111.3 189.6v1.1M112.6 188.6v1.2M113.9 189.0v1.3M115.2 188.8v2.7M116.5 189.2v1.5M117.8 189.5v2.1M119.1 190.3v5.4M120.4 188.5v2.2M121.7 188.5v1.0M123.0 189.8v0.6M124.3 190.5v0.8M125.6 188.3v0.5M126.9 189.1v1.5M128.2 188.5v1.4M129.5 188.3v0.2M130.8 188.3v1.7M132.0 190.1v0.8M133.3 190.0v1.6M134.6 197.9v1.2M135.9 189.6v1.5M137.2 188.9v4.5M138.5 189.4v1.9M139.8 188.9v0.5M141.1 192.2v0.8M142.4 188.7v0.3M143.7 189.8v1.0M145.0 188.9v0.9M146.3 188.9v0.6M147.6 188.9v4.6M148.9 188.5v0.9M150.2 190.3v0.8M151.4 190.0v0.5M152.7 189.2v0.7M154.0 188.3v4.5M155.3 189.3v1.7M156.6 188.6v1.9M157.9 188.5v1.8M159.2 189.0v5.4M160.5 189.4v1.7M161.8 192.4v2.0M163.1 195.4v1.7M164.4 189.8v0.9M165.7 190.1v0.6M167.0 191.0v1.4M168.3 191.4v0.5M169.6 189.2v0.5M170.8 190.2v1.3M172.1 190.2v0.5M173.4 190.7v1.4M174.7 189.0v0.6M176.0 192.5v0.6M177.3 189.0v2.9M178.6 189.2v4.0M179.9 190.3v0.3M181.2 191.1v1.0M182.5 189.1v2.4M183.8 188.6v0.3M185.1 194.7v0.6M186.4 190.6v2.2M187.7 188.6v1.5M189.0 188.8v1.9M190.3 189.2v1.2M191.5 189.2v0.7M192.8 188.7v0.6M194.1 193.3v0.7M195.4 188.9v0.9M196.7 188.6v0.7M198.0 189.4v4.5M199.3 188.9v2.7M200.6 189.1v0.9M201.9 189.4v2.4M203.2 188.4v0.7M204.5 189.2v0.3M205.8 188.7v1.0M207.1 197.1v2.1M208.4 191.6v1.9M209.7 191.5v1.0M210.9 188.8v0.3M212.2 188.9v0.8M213.5 192.3v4.1M214.8 190.3v4.7M216.1 189.1v1.9M217.4 189.6v1.7M218.7 189.0v1.7M220.0 189.2v2.2M221.3 188.5v1.3M222.6 189.5v4.3M223.9 188.5v4.7M225.2 190.2v1.0M226.5 196.1v6.8M227.8 188.5v11.0M229.1 189.1v6.9M230.4 194.6v1.3M231.6 189.2v2.1M232.9 190.0v1.8M234.2 188.6v0.4M235.5 188.9v0.8M236.8 188.4v0.4M238.1 189.4v1.3M239.4 191.7v1.2M240.7 188.8v1.3M242.0 188.4v2.1M243.3 188.7v1.3M244.6 189.9v0.7M245.9 190.5v1.2M247.2 190.7v1.8M248.5 188.5v0.7M249.8 188.4v2.2M251.0 192.0v3.1M252.3 189.2v0.4M253.6 189.8v1.8M254.9 189.2v1.8M256.2 188.6v1.0M257.5 190.2v0.2M258.8 193.5v0.3M260.1 189.4v1.6M261.4 193.7v0.7M262.7 188.4v2.2M264.0 188.5v0.9M265.3 188.8v1.2M266.6 188.5v1.7M267.9 188.4v0.8M269.2 190.8v0.8M270.5 189.5v1.2M271.7 189.2v1.8M273.0 188.9v1.4M274.3 189.2v2.9M275.6 188.8v2.3M276.9 188.5v0.7M278.2 188.5v0.5M279.5 192.9v2.3M280.8 190.1v1.7M282.1 188.9v3.6M283.4 189.6v1.5M284.7 189.9v1.3M286.0 188.7v0.7M287.3 190.4v1.3M288.6 189.4v0.3M289.9 188.6v0.3M291.1 189.0v0.9M292.4 190.5v0.8M293.7 191.8v1.4M295.0 189.5v1.6M296.3 188.9v2.2M297.6 189.9v5.2M298.9 191.1v3.0M300.2 189.3v2.0M301.5 189.3v0.8M302.8 188.7v0.7M304.1 189.1v0.4M305.4 188.9v1.2M306.7 189.4v1.9M308.0 189.8v5.6M309.3 190.9v1.6M310.6 190.5v1.7M311.8 195.9v2.0M313.1 189.2v3.3M314.4 189.1v4.5M315.7 188.6v1.3M317.0 189.8v0.3M318.3 191.0v2.0M319.6 189.4v0.8M320.9 189.9v5.3M322.2 189.6v3.6M323.5 188.7v3.3M324.8 188.6v1.3M326.1 189.7v1.2M327.4 188.8v1.2M328.7 190.2v1.0M330.0 190.9v1.9M331.2 189.3v3.7M332.5 188.7v1.8M333.8 188.8v1.7M335.1 188.9v1.5M336.4 189.7v2.6M337.7 188.9v1.9M339.0 188.7v2.9M340.3 190.1v0.6M341.6 190.3v0.4M342.9 189.2v1.7M344.2 188.5v1.4M345.5 190.3v0.5M346.8 189.1v1.1M348.1 189.6v0.7M349.4 191.5v4.7M350.7 189.3v5.2M351.9 193.6v1.3M353.2 190.1v4.0M354.5 189.1v1.2M355.8 188.6v2.1M357.1 188.8v1.1M358.4 189.8v17.0M359.7 190.9v4.4M361.0 190.5v7.2M362.3 190.1v0.7M363.6 191.2v0.9M364.9 188.7v0.3M366.2 191.1v1.7M367.5 188.6v2.5M368.8 188.5v2.4M370.1 188.6v1.1M371.3 189.6v4.5M372.6 188.4v1.0M373.9 189.1v1.6M375.2 188.4v1.1M376.5 189.7v0.5M377.8 193.8v1.7M379.1 191.9v2.2M380.4 192.3v0.8M381.7 193.4v0.5M383.0 190.4v0.9M384.3 190.8v1.6M385.6 193.7v5.4M386.9 189.8v6.1M388.2 189.0v1.1M389.5 194.0v0.9M390.8 189.1v3.1M392.0 192.2v1.0M393.3 190.1v0.8M394.6 188.6v1.5M395.9 189.3v1.5M397.2 194.7v0.5M398.5 189.1v1.3M399.8 190.3v1.5M401.1 189.6v2.6M402.4 189.8v1.9M403.7 192.2v0.8M405.0 193.4v1.2M406.3 189.0v3.9M407.6 189.1v4.2M408.9 189.2v0.7M410.2 190.5v0.7M411.4 188.6v8.6M412.7 189.0v2.1M414.0 188.8v2.1M415.3 188.8v0.7M416.6 188.4v1.5M417.9 188.9v0.6M419.2 195.4v0.7M420.5 189.9v1.6M421.8 189.2v0.7M423.1 189.7v2.0M424.4 192.9v2.4M425.7 192.5v1.0M427.0 191.2v2.5M428.3 188.7v1.3M429.6 190.1v3.2M430.9 190.9v2.0" stroke="#ffae5f" stroke-width="1.49" fill="none" shape-rendering="auto"/>
<path d="M31.1 189.3v1.0M32.4 193.2v0.9M33.7 190.1v1.4M35.0 189.6v1.2M36.3 191.1v2.4M37.6 192.2v1.6M38.9 189.2v3.6M40.2 189.8v0.5M41.5 190.5v0.6M42.8 190.7v1.1M44.1 193.2v1.6M45.4 192.1v0.7M46.7 188.8v2.8M48.0 193.1v2.4M49.3 190.5v0.9M50.5 189.6v0.5M51.8 189.4v0.8M53.1 189.0v2.6M54.4 189.7v0.4M55.7 190.2v0.6M57.0 197.0v0.5M58.3 190.0v0.3M59.6 190.7v0.7M63.5 191.5v0.4M64.8 191.2v1.2M66.1 190.1v0.5M68.7 190.6v0.5M70.0 190.0v0.3M71.2 190.4v0.8M72.5 190.7v0.5M73.8 188.9v0.3M75.1 189.8v0.2M76.4 190.6v0.6M80.3 190.9v0.4M81.6 189.5v0.5M82.9 189.4v0.5M84.2 190.5v0.3M85.5 192.7v0.4M86.8 190.1v0.3M88.1 193.8v0.5M89.4 190.6v0.5M90.7 189.4v0.5M91.9 189.2v0.7M93.2 190.7v0.4M94.5 190.4v1.8M95.8 189.0v1.9M97.1 190.8v1.4M98.4 189.1v1.0M99.7 190.0v0.2M102.3 191.6v0.7M103.6 189.1v0.3M104.9 189.4v0.4M106.2 190.1v0.6M107.5 188.9v1.4M111.3 190.6v0.4M113.9 190.2v0.4M117.8 191.5v0.4M119.1 195.6v0.8M120.4 190.6v0.4M121.7 189.4v1.4M123.0 190.3v0.3M124.3 191.2v1.5M125.6 188.8v0.4M126.9 190.6v0.5M128.2 189.9v0.9M129.5 188.5v3.0M130.8 189.9v5.0M132.0 190.8v0.8M134.6 199.1v0.3M137.2 193.4v2.5M138.5 191.3v0.2M142.4 189.0v0.4M143.7 190.7v0.3M145.0 189.8v0.5M146.3 189.5v0.3M147.6 193.4v1.2M148.9 189.3v0.4M150.2 191.0v0.6M151.4 190.5v0.3M152.7 189.8v1.8M154.0 192.8v1.9M155.3 190.9v1.2M156.6 190.4v0.6M157.9 190.2v1.4M159.2 194.4v1.1M160.5 191.1v0.4M161.8 194.4v0.6M163.1 197.1v1.6M165.7 190.6v0.2M167.0 192.3v0.3M168.3 191.8v0.3M169.6 189.6v0.7M170.8 191.5v0.3M172.1 190.7v0.6M173.4 192.1v0.8M174.7 189.6v0.8M176.0 193.1v1.6M177.3 191.8v0.5M181.2 192.1v0.4M182.5 191.5v1.3M183.8 188.9v0.3M185.1 195.2v1.4M186.4 192.7v0.6M187.7 190.0v0.6M189.0 190.6v3.6M190.3 190.3v0.8M191.5 189.9v0.5M192.8 189.3v0.4M194.1 193.9v0.8M195.4 189.7v3.0M196.7 189.2v0.3M198.0 193.9v0.4M199.3 191.6v0.4M200.6 189.9v0.3M201.9 191.7v1.1M203.2 189.1v0.3M204.5 189.5v1.2M205.8 189.6v0.5M207.1 199.1v0.8M208.4 193.5v2.5M209.7 192.4v0.8M210.9 189.0v0.5M212.2 189.7v0.7M213.5 196.3v0.5M214.8 195.0v0.5M216.1 190.9v0.3M217.4 191.3v1.3M218.7 190.7v2.4M220.0 191.4v0.5M221.3 189.8v0.4M222.6 193.8v0.5M223.9 193.2v0.3M225.2 191.1v0.6M226.5 202.8v1.5M227.8 199.5v0.5M229.1 195.9v0.9M230.4 195.9v0.4M231.6 191.3v0.3M232.9 191.7v1.2M234.2 189.0v0.6M235.5 189.6v0.3M236.8 188.7v1.0M238.1 190.7v2.1M239.4 192.8v1.2M240.7 190.0v0.2M243.3 189.9v3.2M244.6 190.6v1.7M245.9 191.6v0.8M247.2 192.4v0.3M248.5 189.2v0.3M249.8 190.6v0.3M251.0 195.0v3.1M252.3 189.6v0.9M253.6 191.6v0.2M256.2 189.6v0.7M257.5 190.3v0.9M258.8 193.8v0.7M260.1 190.9v1.7M261.4 194.4v0.3M262.7 190.5v0.4M264.0 189.4v0.7M265.3 189.9v0.7M266.6 190.2v1.2M267.9 189.2v0.3M270.5 190.6v1.1M271.7 190.9v0.9M273.0 190.3v0.9M274.3 192.0v0.4M275.6 191.1v0.4M276.9 189.1v0.3M278.2 188.9v0.8M279.5 195.1v1.7M280.8 191.8v0.4M282.1 192.4v3.2M283.4 191.0v0.9M284.7 191.2v0.7M286.0 189.3v0.5M287.3 191.7v0.6M288.6 189.6v0.7M289.9 188.9v1.2M291.1 189.9v0.3M292.4 191.3v0.8M293.7 193.2v0.3M295.0 191.1v0.8M296.3 191.0v0.6M297.6 195.0v1.7M298.9 194.0v0.6M300.2 191.2v1.0M301.5 190.0v3.6M302.8 189.4v3.0M304.1 189.5v1.2M305.4 190.1v0.4M306.7 191.3v0.4M308.0 195.4v0.4M309.3 192.5v0.5M310.6 192.2v0.4M311.8 197.9v1.2M313.1 192.5v0.7M314.4 193.6v3.3M315.7 189.8v0.3M317.0 190.1v1.0M318.3 193.0v1.0M319.6 190.1v0.7M320.9 195.2v0.4M322.2 193.1v0.7M324.8 189.8v0.9M326.1 190.8v0.3M327.4 190.0v1.0M328.7 191.2v0.3M330.0 192.8v0.3M331.2 192.9v0.7M332.5 190.5v0.6M333.8 190.4v2.6M335.1 190.3v1.0M336.4 192.3v0.9M337.7 190.7v0.4M339.0 191.6v0.4M340.3 190.6v0.5M341.6 190.7v0.2M342.9 190.9v0.8M344.2 189.8v0.3M345.5 190.7v0.4M348.1 190.2v0.5M349.4 196.1v0.3M350.7 194.5v0.5M351.9 194.8v0.6M353.2 194.1v0.3M354.5 190.2v1.3M355.8 190.7v0.2M357.1 189.8v0.8M358.4 206.8v0.3M359.7 195.3v0.7M362.3 190.7v0.4M363.6 192.1v1.1M364.9 189.0v1.4M366.2 192.7v1.7M367.5 191.1v7.7M368.8 190.8v1.0M370.1 189.7v1.4M371.3 194.1v1.8M373.9 190.6v0.9M375.2 189.5v0.4M377.8 195.4v0.8M379.1 194.1v0.5M380.4 193.1v0.9M381.7 193.8v0.3M383.0 191.3v0.4M385.6 199.1v0.5M386.9 195.9v0.7M388.2 190.1v4.2M389.5 194.8v1.1M390.8 192.2v0.4M392.0 193.1v0.8M393.3 190.9v2.1M394.6 190.1v0.6M395.9 190.8v0.8M397.2 195.1v7.4M398.5 190.4v0.7M399.8 191.8v0.4M401.1 192.2v0.4M402.4 191.6v0.6M403.7 192.9v2.2M405.0 194.6v0.8M406.3 192.9v0.7M407.6 193.2v5.1M408.9 189.9v4.9M410.2 191.1v4.2M411.4 197.2v0.3M412.7 191.1v1.2M415.3 189.4v0.3M419.2 196.0v0.3M420.5 191.5v1.1M421.8 189.9v0.8M423.1 191.7v0.6M424.4 195.3v1.0M425.7 193.4v1.1M427.0 193.6v0.8M428.3 189.9v1.6M429.6 193.2v1.1M430.9 192.8v0.3" stroke="#ff5c80" stroke-width="1.49" fill="none" shape-rendering="auto"/>
<path d="M31.1 190.2v0.6M32.4 194.1v1.8M33.7 191.5v0.6M35.0 190.7v0.3M36.3 193.5v0.2M40.2 190.3v0.3M42.8 191.8v0.2M46.7 191.5v0.6M48.0 195.5v0.4M49.3 191.3v0.5M50.5 190.0v0.2M51.8 190.2v0.3M55.7 190.7v0.6M57.0 197.4v0.5M58.3 190.3v0.3M59.6 191.3v0.2M60.9 191.3v0.5M62.2 189.8v0.3M64.8 192.3v0.2M68.7 191.1v1.3M70.0 190.2v0.4M71.2 191.1v0.2M72.5 191.2v0.3M73.8 189.1v0.4M75.1 190.0v0.9M76.4 191.2v0.2M77.7 190.6v0.3M80.3 191.2v0.4M82.9 189.9v0.6M84.2 190.8v0.8M85.5 193.1v0.4M88.1 194.3v0.4M89.4 191.0v0.6M94.5 192.2v0.4M97.1 192.2v0.2M98.4 190.1v0.3M99.7 190.2v0.6M101.0 190.4v0.2M103.6 189.3v0.6M104.9 189.8v0.3M106.2 190.7v0.4M107.5 190.3v0.2M110.1 189.7v0.3M111.3 191.0v0.2M112.6 189.8v0.2M113.9 190.6v0.3M115.2 191.5v0.6M119.1 196.4v0.2M120.4 190.9v0.3M125.6 189.1v0.3M128.2 190.7v1.1M129.5 191.4v0.7M130.8 194.8v0.5M133.3 191.6v0.3M141.1 193.0v0.3M143.7 191.0v0.2M145.0 190.2v0.8M146.3 189.8v0.4M151.4 190.8v0.2M154.0 194.7v0.7M155.3 192.1v1.9M156.6 191.0v1.2M157.9 191.5v0.5M159.2 195.4v0.2M160.5 191.4v0.2M164.4 190.8v0.5M165.7 190.8v0.3M167.0 192.6v0.2M169.6 190.2v0.5M170.8 191.7v0.3M173.4 192.8v0.3M174.7 190.3v0.2M176.0 194.7v0.5M177.3 192.3v0.8M178.6 193.3v1.1M179.9 190.7v0.2M182.5 192.8v0.9M183.8 189.1v1.1M185.1 196.5v1.2M186.4 193.2v0.9M187.7 190.6v0.3M190.3 191.1v0.5M191.5 190.3v0.2M194.1 194.7v0.3M195.4 192.7v0.3M199.3 191.9v0.4M200.6 190.2v0.5M203.2 189.3v0.3M204.5 190.6v0.6M205.8 190.1v0.4M207.1 199.8v0.2M208.4 195.9v0.2M209.7 193.2v0.6M212.2 190.4v0.5M213.5 196.7v0.2M214.8 195.4v1.0M220.0 191.8v0.3M221.3 190.2v0.3M223.9 193.4v0.2M226.5 204.3v0.4M227.8 199.9v0.2M230.4 196.3v0.2M231.6 191.5v0.3M232.9 192.9v0.3M234.2 189.5v0.9M235.5 189.8v0.5M236.8 189.6v0.2M238.1 192.7v0.6M239.4 194.0v0.5M240.7 190.2v0.5M242.0 190.5v0.3M245.9 192.4v0.2M247.2 192.6v0.5M251.0 198.0v0.3M252.3 190.4v0.6M253.6 191.7v0.3M254.9 191.0v0.4M256.2 190.3v0.3M257.5 191.2v1.5M260.1 192.6v0.6M261.4 194.6v0.6M262.7 190.9v0.5M264.0 190.0v0.6M265.3 190.6v1.7M267.9 189.5v0.5M269.2 191.6v1.1M270.5 191.7v0.2M271.7 191.8v0.2M274.3 192.3v0.5M275.6 191.4v1.0M276.9 189.3v0.5M278.2 189.6v0.9M279.5 196.8v0.7M280.8 192.2v0.3M282.1 195.6v0.7M283.4 191.9v0.3M284.7 191.8v0.3M286.0 189.7v0.5M288.6 190.2v2.1M289.9 190.1v0.3M291.1 190.1v0.4M293.7 193.5v0.7M295.0 191.8v0.7M296.3 191.6v0.2M298.9 194.5v0.3M300.2 192.1v0.3M301.5 193.6v0.5M302.8 192.3v0.5M304.1 190.6v0.4M305.4 190.5v1.4M306.7 191.6v0.2M308.0 195.7v0.4M310.6 192.6v0.2M313.1 193.1v0.3M315.7 190.0v0.4M317.0 191.0v0.8M318.3 194.0v0.4M320.9 195.5v0.5M322.2 193.7v1.3M324.8 190.7v0.3M326.1 191.1v0.7M328.7 191.4v0.4M330.0 193.0v0.6M331.2 193.5v0.6M332.5 191.1v1.4M333.8 193.0v0.7M337.7 191.0v0.6M339.0 191.9v0.7M341.6 190.9v0.3M346.8 190.2v0.3M349.4 196.4v0.5M350.7 194.9v0.8M351.9 195.4v0.5M353.2 194.3v0.3M354.5 191.4v0.3M358.4 207.0v0.2M359.7 196.0v0.3M361.0 197.7v0.3M362.3 191.1v0.5M363.6 193.1v0.3M366.2 194.4v0.2M368.8 191.7v1.2M370.1 191.0v0.3M371.3 195.8v0.4M372.6 189.4v0.4M376.5 190.3v0.4M377.8 196.2v0.3M380.4 193.9v0.9M383.0 191.6v1.4M384.3 192.4v0.4M388.2 194.3v0.3M389.5 195.9v0.2M390.8 192.5v1.3M392.0 193.9v4.0M393.3 193.0v1.6M394.6 190.7v1.2M395.9 191.5v0.4M397.2 202.4v1.1M398.5 191.0v0.3M399.8 192.2v1.2M401.1 192.6v0.2M402.4 192.2v1.2M403.7 195.0v0.6M405.0 195.4v0.7M406.3 193.5v0.8M407.6 198.2v0.5M408.9 194.7v0.6M410.2 195.3v0.6M411.4 197.5v0.4M412.7 192.2v0.4M414.0 191.0v0.5M415.3 189.6v1.9M416.6 189.9v3.1M417.9 189.6v0.2M421.8 190.7v0.4M423.1 192.3v0.4M424.4 196.2v2.0M425.7 194.5v0.4M427.0 194.3v0.4M428.3 191.5v0.8M429.6 194.2v0.7M430.9 193.0v1.1" stroke="#ff8dc6" stroke-width="1.49" fill="none" shape-rendering="auto"/>
<path d="M31.1 190.7v1.5M32.4 195.9v0.9M33.7 192.1v0.5M35.0 191.0v3.0M36.3 193.7v1.7M37.6 193.9v1.0M38.9 192.9v1.2M40.2 190.5v0.9M41.5 191.1v2.0M42.8 191.9v1.7M44.1 194.8v1.5M45.4 192.7v1.8M46.7 192.1v1.2M48.0 195.9v2.7M49.3 191.8v1.4M50.5 190.2v1.5M51.8 190.4v2.4M53.1 191.6v0.4M54.4 190.1v0.6M55.7 191.2v1.5M57.0 197.8v0.8M58.3 190.5v1.5M59.6 191.5v2.1M60.9 191.7v1.5M62.2 190.0v1.4M63.5 192.0v1.1M64.8 192.5v1.6M66.1 190.5v1.3M67.4 190.2v1.2M68.7 192.3v2.2M70.0 190.6v0.5M71.2 191.3v1.6M72.5 191.5v4.5M73.8 189.4v0.6M75.1 190.9v1.8M76.4 191.3v2.6M77.7 190.8v1.6M79.0 189.3v7.3M80.3 191.6v2.2M81.6 190.0v0.6M82.9 190.4v1.5M84.2 191.5v1.4M85.5 193.5v3.8M86.8 190.4v1.6M88.1 194.7v3.0M89.4 191.5v1.5M90.7 190.0v1.0M91.9 189.9v1.2M93.2 191.0v1.4M94.5 192.5v0.6M95.8 190.9v0.9M97.1 192.4v1.0M98.4 190.3v0.8M99.7 190.8v0.8M101.0 190.6v0.8M102.3 192.3v1.1M103.6 189.8v0.7M104.9 190.0v2.0M106.2 191.1v1.5M107.5 190.5v4.9M108.8 190.2v1.4M110.1 189.9v2.3M111.3 191.2v0.5M112.6 190.0v0.8M113.9 190.9v0.4M115.2 192.1v1.6M116.5 190.9v2.5M117.8 191.9v1.6M119.1 196.6v1.2M120.4 191.2v1.2M121.7 190.9v1.1M123.0 190.6v1.9M124.3 192.8v2.4M125.6 189.4v1.5M126.9 191.1v0.4M128.2 191.8v2.5M129.5 192.1v1.1M130.8 195.3v0.5M132.0 191.7v2.6M133.3 191.8v0.8M134.6 199.4v2.4M135.9 191.2v3.0M137.2 196.0v6.4M138.5 191.6v1.2M139.8 189.4v0.4M141.1 193.3v2.8M142.4 189.4v0.6M143.7 191.2v0.4M145.0 191.0v5.2M146.3 190.1v2.0M147.6 194.7v0.6M148.9 189.7v0.7M150.2 191.7v1.8M151.4 191.0v2.4M152.7 191.8v1.3M154.0 195.3v2.4M155.3 193.9v1.0M156.6 192.2v0.8M157.9 192.0v0.6M159.2 195.6v0.4M160.5 191.6v0.4M161.8 195.0v1.2M163.1 198.7v1.3M164.4 191.2v2.1M165.7 191.0v2.1M167.0 192.8v2.8M168.3 192.2v1.0M169.6 190.7v2.0M170.8 191.9v2.6M172.1 191.3v1.3M173.4 193.1v1.5M174.7 190.4v2.0M176.0 195.1v3.7M177.3 193.0v3.1M178.6 194.4v0.5M181.2 192.5v0.7M183.8 190.2v5.2M185.1 197.6v2.5M186.4 194.1v1.9M187.7 190.9v5.0M189.0 194.4v2.3M190.3 191.5v2.8M191.5 190.5v1.1M192.8 189.7v1.3M194.1 195.0v1.1M195.4 192.9v0.6M196.7 189.6v1.0M198.0 194.3v1.4M199.3 192.3v3.2M200.6 190.7v2.7M201.9 192.8v1.2M203.2 189.6v8.4M204.5 191.2v3.8M205.8 190.5v0.4M207.1 200.0v0.7M208.4 196.1v0.6M209.7 193.7v1.7M210.9 189.5v2.5M212.2 190.8v1.9M213.5 196.9v2.1M214.8 196.4v2.3M216.1 191.3v1.3M217.4 192.6v0.6M218.7 193.2v0.9M220.0 192.1v1.0M221.3 190.4v1.1M222.6 194.3v1.2M223.9 193.6v2.8M225.2 191.8v5.2M226.5 204.7v1.1M227.8 200.1v0.6M229.1 196.9v1.2M230.4 196.4v1.3M231.6 191.8v3.5M232.9 193.1v2.0M234.2 190.3v2.7M235.5 190.3v0.7M236.8 189.8v0.7M238.1 193.3v1.8M239.4 194.4v0.5M240.7 190.6v6.9M242.0 190.8v2.4M243.3 193.2v1.3M244.6 192.4v1.2M245.9 192.6v0.2M247.2 193.0v3.4M248.5 189.4v2.6M249.8 190.9v0.3M251.0 198.3v2.3M252.3 190.9v1.0M253.6 191.9v3.2M254.9 191.3v1.6M256.2 190.6v1.2M257.5 192.6v1.8M258.8 194.5v0.4M260.1 193.2v0.6M261.4 195.2v0.5M262.7 191.4v2.1M264.0 190.6v3.1M265.3 192.2v0.5M266.6 191.4v1.5M267.9 189.9v2.2M269.2 192.6v7.6M270.5 191.9v1.7M271.7 192.0v2.9M273.0 191.3v3.3M274.3 192.7v1.3M275.6 192.3v0.9M276.9 189.8v1.4M278.2 190.4v4.9M279.5 197.5v2.0M280.8 192.4v1.5M282.1 196.3v7.1M283.4 192.2v5.4M284.7 192.0v2.3M286.0 190.2v1.9M287.3 192.3v0.4M288.6 192.3v2.3M289.9 190.3v1.6M291.1 190.5v0.5M292.4 192.1v0.7M293.7 194.1v6.1M295.0 192.4v3.7M296.3 191.8v1.4M297.6 196.8v2.8M298.9 194.7v0.9M300.2 192.4v2.0M301.5 194.1v4.9M302.8 192.8v4.0M304.1 191.0v1.8M305.4 191.9v2.2M306.7 191.8v0.9M308.0 196.1v0.8M309.3 193.0v3.6M310.6 192.8v5.5M311.8 199.2v2.9M313.1 193.4v7.9M314.4 196.9v2.3M315.7 190.4v0.5M317.0 191.8v3.8M318.3 194.3v1.5M319.6 190.8v2.8M320.9 195.9v1.1M322.2 195.0v1.8M323.5 192.2v14.1M324.8 191.0v0.6M326.1 191.7v0.3M327.4 191.1v0.9M328.7 191.8v1.0M330.0 193.6v2.3M331.2 194.1v3.7M332.5 192.4v1.4M333.8 193.6v1.6M335.1 191.4v2.5M336.4 193.2v9.3M337.7 191.6v3.4M339.0 192.5v0.8M340.3 191.2v2.6M341.6 191.1v2.2M342.9 191.7v3.2M344.2 190.1v5.5M345.5 191.2v8.4M346.8 190.5v14.1M348.1 190.8v4.9M349.4 196.9v6.0M350.7 195.7v3.8M351.9 195.8v4.8M353.2 194.6v1.2M354.5 191.6v2.9M355.8 191.0v2.7M357.1 190.8v1.5M358.4 207.2v3.3M359.7 196.2v1.6M361.0 198.0v2.1M362.3 191.5v4.9M363.6 193.3v5.1M364.9 190.4v2.7M366.2 194.5v1.4M367.5 198.8v2.0M368.8 192.9v1.3M370.1 191.2v6.8M371.3 196.1v15.8M372.6 189.8v6.6M373.9 191.5v6.4M375.2 189.9v3.0M376.5 190.6v3.2M377.8 196.5v3.1M379.1 194.7v14.5M380.4 194.8v1.1M381.7 194.2v1.4M383.0 193.0v2.8M384.3 192.8v5.2M385.6 199.7v4.2M386.9 196.7v1.4M388.2 194.5v15.3M389.5 196.1v2.1M390.8 193.7v8.9M392.0 197.8v2.7M393.3 194.5v10.1M394.6 191.9v5.5M395.9 191.9v1.1M397.2 203.5v1.6M398.5 191.2v2.8M399.8 193.3v2.7M401.1 192.7v15.1M402.4 193.3v10.3M403.7 195.5v11.5M405.0 196.1v5.6M406.3 194.2v3.4M407.6 198.7v5.0M408.9 195.2v11.3M410.2 195.8v4.8M411.4 197.8v2.4M412.7 192.5v6.0M414.0 191.4v2.1M415.3 191.5v3.2M416.6 193.0v8.3M417.9 189.8v8.6M419.2 196.4v7.9M420.5 192.6v7.8M421.8 191.0v12.3M423.1 192.7v21.7M424.4 198.1v4.3M425.7 194.8v8.2M427.0 194.7v13.6M428.3 192.2v6.4M429.6 194.9v4.0M430.9 194.1v1.3" stroke="#e0e3e3" stroke-width="1.49" fill="none" shape-rendering="auto"/>
<path d="M31.1 192.2v2.4M32.4 196.7v2.8M33.7 192.5v6.2M35.0 193.9v5.2M36.3 195.3v3.0M37.6 194.8v1.8M38.9 194.0v6.4M40.2 191.3v3.0M41.5 193.1v5.3M42.8 193.5v3.8M44.1 196.3v4.1M45.4 194.5v8.4M46.7 193.2v3.2M48.0 198.6v8.8M49.3 193.1v13.8M50.5 191.7v10.0M51.8 192.8v9.1M53.1 191.9v10.6M54.4 190.7v4.5M55.7 192.7v5.8M57.0 198.5v7.1M58.3 191.9v15.9M59.6 193.6v12.0M60.9 193.2v7.9M62.2 191.4v8.3M63.5 193.0v8.9M64.8 194.0v7.3M66.1 191.8v6.9M67.4 191.3v12.2M68.7 194.4v5.8M70.0 191.0v15.8M71.2 192.8v4.8M72.5 195.9v3.3M73.8 190.0v3.2M75.1 192.7v4.7M76.4 193.8v5.2M77.7 192.4v3.1M79.0 196.5v3.5M80.3 193.7v8.0M81.6 190.6v6.3M82.9 191.8v6.6M84.2 192.9v6.9M85.5 197.2v8.3M86.8 192.0v3.7M88.1 197.6v3.0M89.4 193.0v15.3M90.7 190.9v6.3M91.9 191.1v2.8M93.2 192.4v5.3M94.5 193.1v6.1M95.8 191.8v5.9M97.1 193.3v5.7M98.4 191.1v9.5M99.7 191.5v15.5M101.0 191.3v6.3M102.3 193.3v6.9M103.6 190.5v9.1M104.9 191.9v6.1M106.2 192.6v6.5M107.5 195.4v9.2M108.8 191.6v8.6M110.1 192.2v8.4M111.3 191.6v7.2M112.6 190.7v9.7M113.9 191.2v5.9M115.2 193.6v20.1M116.5 193.3v7.3M117.8 193.4v19.4M119.1 197.8v15.9M120.4 192.4v19.2M121.7 192.0v13.5M123.0 192.5v4.7M124.3 195.2v13.5M125.6 190.8v17.2M126.9 191.4v19.0M128.2 194.3v7.7M129.5 193.1v8.2M130.8 195.7v20.6M132.0 194.2v14.5M133.3 192.6v10.5M134.6 201.7v13.1M135.9 194.1v17.4M137.2 202.3v15.8M138.5 192.7v14.0M139.8 189.7v12.4M141.1 196.1v7.6M142.4 189.9v13.3M143.7 191.5v8.3M145.0 196.1v5.3M146.3 192.0v5.3M147.6 195.2v10.3M148.9 190.3v16.5M150.2 193.5v17.2M151.4 193.4v21.3M152.7 193.0v16.7M154.0 197.6v10.5M155.3 194.8v7.1M156.6 192.9v11.8M157.9 192.5v18.4M159.2 195.9v9.0M160.5 191.9v9.0M161.8 196.2v14.3M163.1 200.0v11.6M164.4 193.2v20.6M165.7 193.1v8.2M167.0 195.5v7.7M168.3 193.1v2.3M169.6 192.6v10.8M170.8 194.5v6.3M172.1 192.5v21.0M173.4 194.6v5.4M174.7 192.4v19.2M176.0 198.8v7.9M177.3 196.1v12.0M178.6 194.8v11.1M179.9 190.9v14.1M181.2 193.2v6.1M182.5 193.7v8.6M183.8 195.3v8.1M185.1 200.1v14.3M186.4 196.0v22.5M187.7 195.9v7.9M189.0 196.6v5.7M190.3 194.3v6.5M191.5 191.5v13.9M192.8 190.9v11.2M194.1 196.1v15.7M195.4 193.4v11.3M196.7 190.5v10.0M198.0 195.6v8.6M199.3 195.4v7.9M200.6 193.3v8.2M201.9 194.0v16.5M203.2 197.9v17.5M204.5 194.9v10.5M205.8 190.8v7.6M207.1 200.7v9.1M208.4 196.6v11.9M209.7 195.4v19.3M210.9 192.0v16.8M212.2 192.7v20.4M213.5 199.0v7.9M214.8 198.6v15.6M216.1 192.6v9.8M217.4 193.1v6.3M218.7 194.0v13.2M220.0 193.1v7.3M221.3 191.5v13.3M222.6 195.5v5.4M223.9 196.3v13.9M225.2 196.9v5.1M226.5 205.8v19.5M227.8 200.6v7.7M229.1 198.0v9.3M230.4 197.7v8.1M231.6 195.2v6.9M232.9 195.0v12.6M234.2 193.0v14.1M235.5 190.9v3.8M236.8 190.4v9.1M238.1 195.0v13.7M239.4 194.9v15.1M240.7 197.5v15.0M242.0 193.1v7.2M243.3 194.4v12.9M244.6 193.6v16.8M245.9 192.8v19.5M247.2 196.4v8.8M248.5 192.0v10.6M249.8 191.2v18.6M251.0 200.6v9.1M252.3 191.9v13.1M253.6 195.1v8.1M254.9 192.9v5.6M256.2 191.7v9.8M257.5 194.3v9.0M258.8 194.9v29.0M260.1 193.7v8.4M261.4 195.7v9.5M262.7 193.5v8.7M264.0 193.6v6.4M265.3 192.7v16.6M266.6 192.8v4.7M267.9 192.1v2.5M269.2 200.2v3.5M270.5 193.5v8.9M271.7 194.9v5.3M273.0 194.6v10.9M274.3 194.0v7.6M275.6 193.1v6.6M276.9 191.1v5.2M278.2 195.3v10.5M279.5 199.4v5.3M280.8 193.9v11.2M282.1 203.3v4.3M283.4 197.5v11.1M284.7 194.3v10.4M286.0 192.0v6.2M287.3 192.6v5.5M288.6 194.5v13.3M289.9 191.9v9.5M291.1 190.9v14.2M292.4 192.7v7.7M293.7 200.1v8.1M295.0 196.0v11.1M296.3 193.1v12.8M297.6 199.5v15.2M298.9 195.6v12.6M300.2 194.3v19.7M301.5 199.0v8.1M302.8 196.7v9.8M304.1 192.8v12.8M305.4 194.0v12.6M306.7 192.7v12.9M308.0 196.8v12.7M309.3 196.6v13.8M310.6 198.2v11.2M311.8 202.0v9.8M313.1 201.3v9.8M314.4 199.1v11.4M315.7 190.8v18.5M317.0 195.5v18.1M318.3 195.8v14.0M319.6 193.5v11.1M320.9 196.9v22.1M322.2 196.7v24.4M323.5 206.3v7.5M324.8 191.6v16.8M326.1 191.9v25.1M327.4 192.0v3.4M328.7 192.7v9.3M330.0 195.8v5.7M331.2 197.7v7.0M332.5 193.8v2.1M333.8 195.2v5.2M335.1 193.9v5.6M336.4 202.5v8.7M337.7 194.9v15.0M339.0 193.3v9.5M340.3 193.8v8.5M341.6 193.2v17.9M342.9 194.9v20.3M344.2 195.5v5.3M345.5 199.6v9.1M346.8 204.5v7.4M348.1 195.6v2.4M349.4 202.8v8.4M350.7 199.5v5.5M351.9 200.6v3.8M353.2 195.7v3.4M354.5 194.4v5.1M355.8 193.6v2.5M357.1 192.2v7.5M358.4 210.4v1.6M359.7 197.7v5.6M361.0 200.0v8.2M362.3 196.4v14.0M363.6 198.4v9.6M364.9 193.1v1.1M366.2 195.9v9.3M367.5 200.8v6.2M368.8 194.1v9.8M370.1 198.0v14.8M371.3 211.8v6.5M372.6 196.3v3.0M373.9 197.9v1.9M375.2 192.9v2.0M376.5 193.8v5.2M377.8 199.5v1.8M379.1 209.1v2.1M380.4 195.9v7.6M381.7 195.5v6.9M383.0 195.8v3.2M384.3 198.0v1.8M385.6 203.8v2.3M386.9 198.1v3.1M388.2 209.7v3.7M389.5 198.1v2.7M390.8 202.6v1.2M392.0 200.4v2.8M393.3 204.6v2.7M394.6 197.4v3.8M395.9 192.9v3.3M397.2 205.0v4.5M398.5 193.9v6.5M399.8 195.9v5.2M401.1 207.8v4.8M402.4 203.5v2.2M403.7 207.0v4.8M405.0 201.6v3.3M406.3 197.5v5.0M407.6 203.6v1.8M408.9 206.5v1.4M410.2 200.6v3.8M411.4 200.1v1.0M412.7 198.5v3.0M414.0 193.4v1.4M415.3 194.7v4.5M416.6 201.3v5.2M417.9 198.4v10.8M419.2 204.2v2.4M420.5 200.4v2.5M421.8 203.2v2.3M423.1 214.3v2.7M424.4 202.4v4.4M425.7 203.0v7.2M427.0 208.3v2.0M428.3 198.6v2.2M429.6 198.8v3.2M430.9 195.3v3.3" stroke="#f6f452" stroke-width="1.49" fill="none" shape-rendering="auto"/>
<path d="M32.4 199.5v0.6M33.7 198.7v0.3M40.2 194.2v0.4M46.7 196.4v0.5M48.0 207.3v0.9M49.3 206.9v0.4M54.4 195.2v0.4M55.7 198.4v0.2M57.0 205.6v0.2M58.3 207.7v0.8M59.6 205.5v0.3M62.2 199.7v0.3M63.5 201.8v0.2M66.1 198.6v0.6M67.4 203.5v0.4M70.0 206.7v0.5M71.2 197.5v0.3M76.4 199.0v0.3M80.3 201.6v0.4M81.6 196.8v0.3M82.9 198.3v0.2M97.1 199.0v0.7M99.7 207.0v0.2M101.0 197.6v0.3M104.9 198.0v0.2M106.2 199.0v0.3M108.8 200.1v0.2M121.7 205.4v0.2M132.0 208.7v0.2M146.3 197.3v0.9M148.9 206.8v0.3M155.3 201.9v0.2M159.2 204.8v0.3M165.7 201.2v0.2M170.8 200.7v0.2M173.4 199.9v0.2M185.1 214.3v0.4M186.4 218.4v0.2M187.7 203.7v0.2M198.0 204.1v0.3M208.4 208.5v0.4M209.7 214.7v0.2M210.9 208.7v0.3M212.2 213.1v0.4M223.9 210.2v0.2M230.4 205.8v0.4M238.1 208.6v0.3M239.4 209.9v0.8M243.3 207.3v0.3M244.6 210.3v0.5M245.9 212.2v0.5M251.0 209.7v0.4M252.3 204.9v0.3M257.5 203.3v0.6M262.7 202.1v0.4M265.3 209.3v0.3M275.6 199.7v0.4M279.5 204.6v0.2M288.6 207.8v0.4M293.7 208.2v0.2M297.6 214.7v0.3M311.8 211.8v0.5M313.1 211.0v0.2M314.4 210.5v0.3M317.0 213.5v0.2M318.3 209.7v0.6M327.4 195.3v0.2M331.2 204.6v0.5M332.5 195.8v0.2M337.7 209.8v0.4M341.6 211.1v0.2M354.5 199.5v0.2M355.8 196.1v0.2M359.7 203.3v0.4M362.3 210.3v0.5M364.9 194.1v0.2M366.2 205.1v1.0M367.5 206.9v0.5M375.2 194.8v0.3M376.5 198.9v0.3M377.8 201.3v0.2M379.1 211.1v0.4M380.4 203.4v0.2M381.7 202.4v0.3M383.0 199.0v0.7M384.3 199.7v0.3M389.5 200.7v0.7M393.3 207.3v0.5M394.6 201.1v0.5M395.9 196.2v0.2M397.2 209.5v1.6M398.5 200.4v0.4M401.1 212.6v0.3M402.4 205.7v0.4M407.6 205.3v0.4M408.9 207.8v0.3M410.2 204.4v0.5M411.4 201.0v0.2M412.7 201.4v0.4M414.0 194.7v0.3M415.3 199.1v0.3M416.6 206.5v0.3M419.2 206.6v0.3M420.5 202.8v0.2M425.7 210.1v0.3M428.3 200.8v0.4M429.6 202.0v0.3M430.9 198.6v0.4" stroke="#ff6a22" stroke-width="1.49" fill="none" shape-rendering="auto"/>
<path d="M31.1 194.6v0.2M33.7 198.9v3.7M37.6 196.6v0.9M38.9 200.5v0.9M41.5 198.4v0.5M42.8 197.3v0.3M44.1 200.3v0.6M45.4 203.0v0.7M46.7 196.9v0.5M48.0 208.2v1.9M49.3 207.2v0.5M50.5 201.7v0.8M51.8 201.8v1.1M53.1 202.6v0.5M54.4 195.5v0.2M55.7 198.5v0.5M57.0 205.8v1.4M58.3 208.5v0.8M59.6 205.8v0.2M60.9 201.0v0.7M62.2 200.0v0.5M63.5 202.0v0.3M64.8 201.3v0.5M66.1 199.2v0.2M68.7 200.3v1.6M70.0 207.2v0.2M71.2 197.7v1.8M72.5 199.3v1.2M73.8 193.2v0.4M75.1 197.4v0.5M76.4 199.2v0.3M79.0 200.0v0.5M80.3 201.9v0.3M82.9 198.5v0.3M84.2 199.9v0.9M85.5 205.6v0.3M88.1 200.6v0.4M89.4 208.3v0.5M90.7 197.2v0.6M91.9 194.0v0.3M93.2 197.7v0.6M94.5 199.3v0.2M95.8 197.8v0.3M97.1 199.6v0.2M98.4 200.6v0.5M99.7 207.2v0.4M101.0 197.8v0.4M102.3 200.2v0.9M103.6 199.6v1.1M104.9 198.1v1.8M106.2 199.3v2.8M107.5 204.6v0.5M108.8 200.2v2.1M110.1 200.7v0.9M112.6 200.4v0.9M113.9 197.2v0.2M115.2 213.7v0.2M121.7 205.6v0.3M123.0 197.2v0.2M124.3 208.6v0.5M126.9 210.5v0.5M128.2 202.1v0.2M129.5 201.4v0.2M132.0 208.8v0.6M134.6 214.8v0.3M138.5 206.7v0.4M141.1 203.6v0.3M146.3 198.1v0.6M147.6 205.6v0.7M154.0 208.1v0.5M155.3 202.1v0.5M157.9 210.9v0.5M159.2 205.1v0.3M161.8 210.6v0.3M163.1 211.6v0.6M164.4 213.8v0.6M165.7 201.3v0.3M167.0 203.3v0.3M168.3 195.4v0.3M169.6 203.4v1.1M170.8 200.9v0.4M172.1 213.5v0.4M173.4 200.1v0.4M174.7 211.6v0.7M176.0 206.7v0.5M177.3 208.0v0.5M178.6 205.9v1.0M179.9 205.0v0.5M181.2 199.3v0.4M182.5 202.4v3.7M183.8 203.4v0.2M185.1 214.6v0.9M186.4 218.6v0.4M187.7 203.9v1.0M189.0 202.3v0.3M190.3 200.8v1.3M191.5 205.5v1.0M192.8 202.1v0.3M194.1 211.8v0.4M195.4 204.9v0.3M196.7 200.6v0.9M198.0 204.4v0.3M200.6 201.5v1.1M201.9 210.5v0.4M203.2 215.4v1.1M204.5 205.5v0.6M205.8 198.5v0.4M207.1 209.9v0.2M208.4 208.8v0.6M209.7 214.9v1.1M210.9 209.0v0.2M212.2 213.4v0.3M213.5 206.9v0.6M214.8 214.2v0.6M216.1 202.4v0.6M217.4 199.4v0.4M220.0 200.5v1.7M221.3 204.8v0.9M223.9 210.3v0.3M225.2 202.1v0.3M226.5 225.2v0.4M227.8 208.2v0.5M229.1 207.2v1.4M230.4 206.1v0.3M236.8 199.6v0.8M238.1 208.9v1.1M239.4 210.7v0.8M240.7 212.5v0.2M242.0 200.4v0.3M243.3 207.5v0.5M245.9 212.7v0.2M247.2 205.2v0.3M248.5 202.6v0.8M251.0 210.0v1.0M252.3 205.2v1.4M253.6 203.3v0.5M254.9 198.5v0.8M256.2 201.6v0.3M257.5 203.9v0.2M260.1 202.0v0.6M261.4 205.3v0.7M262.7 202.4v0.3M264.0 200.1v0.3M265.3 209.5v0.2M266.6 197.6v0.2M267.9 194.6v0.6M269.2 203.6v0.4M270.5 202.4v2.1M273.0 205.4v0.3M275.6 200.0v0.6M276.9 196.3v0.4M278.2 205.8v0.3M279.5 204.8v0.4M283.4 208.6v0.2M284.7 204.8v0.3M286.0 198.3v0.3M287.3 198.1v0.6M288.6 208.2v0.8M289.9 201.4v0.2M291.1 205.1v0.6M292.4 200.4v0.3M296.3 205.8v0.9M297.6 215.0v1.0M298.9 208.2v0.3M301.5 207.0v0.2M302.8 206.5v1.5M306.7 205.6v0.4M308.0 209.5v0.5M309.3 210.4v0.2M311.8 212.2v0.3M313.1 211.2v0.7M315.7 209.4v0.4M317.0 213.7v0.5M318.3 210.3v0.3M319.6 204.7v0.3M322.2 221.0v0.3M324.8 208.4v1.2M326.1 217.0v0.2M327.4 195.4v0.4M330.0 201.5v0.6M331.2 205.1v0.3M332.5 196.0v0.6M333.8 200.4v1.5M335.1 199.5v0.6M336.4 211.2v0.4M337.7 210.2v0.5M339.0 202.8v0.3M341.6 211.3v1.4M342.9 215.2v1.8M344.2 200.9v0.5M345.5 208.8v0.9M346.8 212.0v0.2M348.1 198.1v0.4M349.4 211.3v0.9M350.7 205.0v1.1M351.9 204.3v0.9M353.2 199.1v0.3M354.5 199.7v0.3M357.1 199.7v0.2M358.4 212.1v0.3M359.7 203.6v0.8M362.3 210.8v0.4M366.2 206.1v0.4M367.5 207.4v2.1M368.8 203.9v0.7M370.1 212.9v0.6M371.3 218.4v0.5M372.6 199.4v0.6M373.9 199.7v0.3M375.2 195.1v0.4M376.5 199.2v0.7M379.1 211.5v0.4M380.4 203.6v0.6M381.7 202.6v0.5M383.0 199.6v0.5M384.3 199.9v1.3M386.9 201.2v3.7M388.2 213.6v0.8M389.5 201.3v0.7M390.8 203.8v14.6M392.0 203.3v2.8M393.3 207.7v3.8M394.6 201.6v0.8M395.9 196.3v1.1M397.2 211.1v1.1M398.5 200.7v0.4M399.8 201.2v1.2M401.1 212.9v0.8M402.4 206.0v0.5M403.7 211.7v1.0M405.0 205.0v0.4M406.3 202.6v0.9M407.6 205.7v0.2M408.9 208.0v0.5M410.2 204.8v1.7M411.4 201.2v0.4M412.7 201.8v0.4M414.0 194.9v0.6M415.3 199.4v0.6M416.6 206.7v1.3M417.9 209.3v0.5M419.2 206.8v0.7M420.5 203.0v0.4M421.8 205.6v0.7M423.1 217.0v0.4M424.4 206.8v0.3M425.7 210.3v0.2M427.0 210.3v0.3M428.3 201.1v0.8M429.6 202.2v0.4M430.9 198.9v0.9" stroke="#9bf2ce" stroke-width="1.49" fill="none" shape-rendering="auto"/>
<path d="M31.1 194.8v3.7M32.4 200.1v1.9M33.7 202.5v0.4M36.3 198.4v0.2M37.6 197.5v0.4M38.9 201.4v1.4M40.2 194.7v1.8M41.5 198.8v0.6M42.8 197.6v0.7M44.1 200.8v0.2M45.4 203.6v0.4M46.7 197.3v0.5M48.0 210.1v0.6M49.3 207.6v1.5M50.5 202.4v0.6M51.8 202.8v2.9M53.1 203.1v0.4M54.4 195.7v0.3M55.7 199.0v0.5M57.0 207.1v0.4M58.3 209.3v1.1M59.6 206.0v0.5M60.9 201.6v1.0M62.2 200.4v2.2M63.5 202.2v2.3M64.8 201.8v1.5M66.1 199.4v1.3M67.4 203.9v0.5M68.7 201.8v2.8M70.0 207.4v1.7M71.2 199.5v0.9M72.5 200.5v1.6M73.8 193.6v0.2M75.1 197.8v0.3M76.4 199.5v0.3M77.7 195.6v1.9M79.0 200.4v0.3M80.3 202.1v0.3M81.6 197.2v0.2M82.9 198.8v0.7M84.2 200.7v0.6M85.5 205.8v0.4M88.1 201.0v0.6M89.4 208.8v0.3M90.7 197.8v1.6M91.9 194.2v0.5M93.2 198.2v0.5M94.5 199.4v0.8M95.8 198.0v0.6M98.4 201.0v0.2M99.7 207.6v1.5M102.3 201.0v0.3M103.6 200.6v1.2M104.9 199.9v0.4M106.2 202.1v0.4M107.5 205.0v0.8M108.8 202.3v0.5M110.1 201.5v0.3M111.3 198.9v0.3M113.9 197.3v0.4M115.2 213.9v0.7M116.5 200.7v0.4M117.8 213.0v0.2M119.1 213.8v0.3M120.4 211.7v0.2M121.7 205.9v0.4M123.0 197.4v0.5M124.3 209.1v1.4M125.6 208.2v0.2M126.9 211.0v0.3M128.2 202.2v0.6M129.5 201.6v0.3M132.0 209.4v1.3M133.3 203.1v0.4M134.6 215.1v0.3M135.9 211.5v0.6M137.2 218.2v1.3M138.5 207.0v0.6M139.8 202.2v0.7M143.7 200.0v0.7M145.0 201.6v0.3M147.6 206.2v0.8M150.2 210.8v0.4M152.7 209.8v0.8M154.0 208.5v4.4M155.3 202.6v3.8M156.6 204.9v1.6M157.9 211.3v0.2M159.2 205.3v1.3M160.5 201.0v0.6M163.1 212.2v1.0M165.7 201.6v0.4M169.6 204.4v1.0M170.8 201.3v0.4M173.4 200.5v0.4M174.7 212.2v0.4M176.0 207.1v0.3M177.3 208.5v0.4M178.6 206.9v0.2M179.9 205.5v0.3M181.2 199.7v0.2M182.5 206.0v0.2M183.8 203.6v1.2M185.1 215.5v0.4M186.4 219.0v0.8M187.7 204.9v1.3M189.0 202.5v0.5M190.3 202.1v2.2M191.5 206.4v1.2M192.8 202.4v1.0M195.4 205.1v1.0M196.7 201.4v0.3M198.0 204.7v0.3M199.3 203.4v0.9M203.2 216.4v0.5M204.5 206.0v0.4M205.8 198.8v0.6M207.1 210.1v1.8M208.4 209.3v0.5M209.7 215.9v0.3M212.2 213.7v0.3M213.5 207.4v0.2M214.8 214.8v0.2M216.1 203.0v0.4M217.4 199.8v0.7M218.7 207.3v0.4M221.3 205.6v0.4M226.5 225.6v0.3M227.8 208.7v0.6M229.1 208.6v0.3M230.4 206.4v0.3M231.6 202.2v0.5M232.9 207.8v0.5M234.2 207.3v0.4M235.5 194.8v0.8M236.8 200.3v0.3M238.1 210.0v0.5M239.4 211.4v0.4M240.7 212.7v3.0M242.0 200.6v0.6M243.3 207.9v0.5M244.6 210.8v2.3M245.9 212.8v0.6M247.2 205.5v0.3M248.5 203.4v0.6M249.8 209.8v0.4M252.3 206.6v0.2M257.5 204.1v0.6M258.8 223.9v0.3M261.4 205.9v0.3M262.7 202.6v0.2M264.0 200.3v0.6M265.3 209.7v0.3M266.6 197.7v0.5M267.9 195.2v0.4M269.2 204.0v0.3M270.5 204.5v0.4M271.7 200.4v0.7M273.0 205.7v0.4M274.3 201.7v1.1M275.6 200.6v0.4M276.9 196.6v0.5M278.2 206.1v0.9M279.5 205.1v0.3M280.8 205.3v0.7M288.6 209.0v0.3M289.9 201.6v0.3M291.1 205.6v0.3M292.4 200.7v0.2M293.7 208.5v0.4M295.0 207.3v1.4M296.3 206.7v1.2M297.6 215.9v0.4M298.9 208.4v0.5M300.2 214.1v0.3M301.5 207.2v1.0M302.8 208.0v1.1M304.1 205.7v3.4M305.4 206.7v1.7M306.7 205.9v1.2M308.0 209.9v0.3M309.3 210.5v0.3M313.1 211.9v0.3M314.4 210.8v0.3M315.7 209.7v1.4M317.0 214.1v1.1M318.3 210.5v0.5M319.6 204.9v0.5M320.9 219.2v0.2M323.5 213.9v0.3M326.1 217.1v0.3M328.7 202.1v0.9M330.0 202.0v0.2M332.5 196.6v0.3M333.8 201.8v5.0M335.1 200.0v0.7M336.4 211.6v0.6M337.7 210.6v0.9M339.0 203.0v0.3M341.6 212.6v0.4M342.9 217.0v1.8M344.2 201.3v0.5M345.5 209.6v0.3M346.8 212.1v0.2M348.1 198.4v0.3M350.7 206.0v1.1M351.9 205.2v0.4M353.2 199.4v0.2M354.5 199.9v0.8M355.8 196.3v0.4M358.4 212.4v4.8M359.7 204.4v6.6M362.3 211.2v0.6M363.6 208.1v0.6M364.9 194.4v0.3M366.2 206.4v1.4M367.5 209.4v0.3M368.8 204.6v0.2M370.1 213.4v0.4M372.6 199.9v0.3M373.9 200.0v0.3M375.2 195.4v1.7M376.5 199.8v0.3M377.8 201.6v0.3M379.1 211.8v0.4M380.4 204.1v3.0M381.7 203.0v0.9M383.0 200.0v1.8M384.3 201.1v0.6M385.6 206.3v1.5M386.9 204.8v4.7M388.2 214.3v1.9M389.5 202.0v0.9M390.8 218.4v0.4M393.3 211.4v1.1M394.6 202.3v1.1M395.9 197.4v0.7M397.2 212.1v3.3M398.5 201.1v0.8M399.8 202.3v2.8M401.1 213.7v1.3M402.4 206.4v1.9M403.7 212.7v3.8M405.0 205.3v0.5M406.3 203.5v0.3M407.6 205.9v0.6M408.9 208.4v0.7M410.2 206.5v0.8M411.4 201.6v1.0M412.7 202.1v0.9M414.0 195.5v0.8M415.3 200.0v1.1M416.6 207.9v1.8M417.9 209.8v3.2M419.2 207.5v2.4M420.5 203.4v0.9M421.8 206.2v0.8M424.4 207.0v1.9M425.7 210.5v0.9M427.0 210.6v0.4M428.3 201.9v0.5M429.6 202.6v0.9M430.9 199.8v0.7" stroke="#b1f250" stroke-width="1.49" fill="none" shape-rendering="auto"/>
<path d="M32.4 201.9v0.4M33.7 202.9v0.6M35.0 199.4v0.7M36.3 198.6v0.5M41.5 199.4v0.7M42.8 198.2v0.3M44.1 201.0v0.2M45.4 203.9v0.6M51.8 205.7v0.3M55.7 199.4v0.4M57.0 207.5v0.2M58.3 210.3v0.3M59.6 206.4v0.7M60.9 202.6v0.8M62.2 202.5v0.3M63.5 204.5v0.3M64.8 203.3v0.4M66.1 200.7v0.4M67.4 204.3v0.4M68.7 204.6v0.7M72.5 202.1v0.6M73.8 193.8v0.3M75.1 198.1v0.7M76.4 199.7v0.2M77.7 197.5v0.3M80.3 202.4v0.2M86.8 195.8v0.2M90.7 199.3v0.4M91.9 194.7v0.2M93.2 198.7v0.4M98.4 201.2v0.2M99.7 209.0v0.2M101.0 198.3v0.3M102.3 201.3v0.3M103.6 201.7v0.5M106.2 202.4v0.6M107.5 205.8v0.6M108.8 202.8v1.8M110.1 201.7v0.4M111.3 199.2v0.4M112.6 201.3v0.3M119.1 214.0v0.6M121.7 206.2v0.2M124.3 210.5v0.3M128.2 202.8v0.2M132.0 210.7v0.4M133.3 203.4v0.3M134.6 215.3v0.5M135.9 212.1v0.3M137.2 219.5v0.2M139.8 202.9v0.2M142.4 203.5v0.3M145.0 201.8v0.5M146.3 198.7v0.2M147.6 207.0v0.3M150.2 211.1v0.2M154.0 212.9v0.2M156.6 206.5v0.4M160.5 201.6v0.2M161.8 211.0v0.7M167.0 203.5v0.4M169.6 205.4v0.3M170.8 201.6v0.4M172.1 214.0v0.7M173.4 200.8v0.5M174.7 212.6v1.3M176.0 207.3v0.5M183.8 204.7v0.3M192.8 203.3v0.3M198.0 204.9v0.5M199.3 204.3v0.3M200.6 202.5v0.6M201.9 211.0v0.4M208.4 209.8v0.2M212.2 213.9v0.4M213.5 207.6v0.5M214.8 214.9v0.8M216.1 203.3v0.3M221.3 205.9v0.2M226.5 225.9v0.2M231.6 202.6v0.2M234.2 207.6v0.3M236.8 200.6v0.3M238.1 210.4v0.5M239.4 211.8v0.3M240.7 215.6v0.3M243.3 208.3v0.4M252.3 206.7v0.2M257.5 204.6v0.2M258.8 224.1v0.3M262.7 202.8v0.3M264.0 200.8v0.8M265.3 209.9v0.4M269.2 204.2v0.2M270.5 204.9v0.2M271.7 201.0v0.6M278.2 207.0v0.3M279.5 205.4v0.3M280.8 205.9v0.4M295.0 208.6v0.3M297.6 216.3v0.2M301.5 208.1v0.3M304.1 209.0v0.2M309.3 210.8v0.2M310.6 209.6v0.2M311.8 212.5v0.2M314.4 211.0v0.2M318.3 211.0v0.3M319.6 205.3v0.3M320.9 219.3v0.4M326.1 217.4v0.2M328.7 202.9v0.3M335.1 200.7v0.3M342.9 218.7v0.2M344.2 201.8v0.2M349.4 212.2v0.4M350.7 207.1v0.6M351.9 205.5v0.5M355.8 196.7v0.2M368.8 204.7v1.5M370.1 213.8v0.3M371.3 219.0v0.7M372.6 200.1v0.3M373.9 200.2v0.5M375.2 197.1v0.3M377.8 201.8v0.3M379.1 212.2v0.3M380.4 207.1v0.3M384.3 201.7v1.8M386.9 209.5v0.3M388.2 216.2v0.7M389.5 202.8v1.9M390.8 218.8v1.0M392.0 206.2v0.6M393.3 212.5v0.5M397.2 215.3v0.8M398.5 201.8v1.4M399.8 205.1v0.3M401.1 214.9v0.7M402.4 208.2v0.3M403.7 216.5v0.2M405.0 205.8v0.2M406.3 203.8v0.2M407.6 206.4v0.7M408.9 209.0v0.3M410.2 207.2v0.6M411.4 202.6v0.6M414.0 196.3v0.6M415.3 201.0v2.0M417.9 212.9v0.3M419.2 209.8v0.2M420.5 204.2v0.5M421.8 206.9v1.2M423.1 217.4v0.4M424.4 208.9v0.5M425.7 211.4v0.3M427.0 210.9v0.4M428.3 202.3v0.9M429.6 203.5v2.0M430.9 200.4v3.3" stroke="#c6cef9" stroke-width="1.49" fill="none" shape-rendering="auto"/>
<path d="M31.1 198.5v30.1M32.4 202.3v12.3M33.7 203.5v13.3M35.0 200.1v33.0M36.3 199.0v31.5M37.6 197.8v26.8M38.9 202.7v20.4M40.2 196.6v24.4M41.5 200.0v26.7M42.8 198.4v26.8M44.1 201.2v25.7M45.4 204.5v25.0M46.7 197.8v33.2M48.0 210.7v18.8M49.3 209.1v16.7M50.5 203.0v16.7M51.8 206.0v17.1M53.1 203.5v32.2M54.4 196.0v31.2M55.7 199.7v15.5M57.0 207.7v22.2M58.3 210.5v15.6M59.6 207.0v17.8M60.9 203.3v19.8M62.2 202.8v20.1M63.5 204.7v26.4M64.8 203.6v19.4M66.1 201.0v27.9M67.4 204.7v26.4M68.7 205.2v16.0M70.0 209.2v24.9M71.2 200.5v14.5M72.5 202.6v29.2M73.8 194.0v33.8M75.1 198.8v31.7M76.4 199.9v24.5M77.7 197.7v31.5M79.0 200.8v33.0M80.3 202.6v23.7M81.6 197.4v30.1M82.9 199.5v26.9M84.2 201.3v27.6M85.5 206.3v23.8M86.8 195.9v37.8M88.1 201.6v22.4M89.4 209.1v21.1M90.7 199.6v29.1M91.9 194.9v36.1M93.2 199.0v27.6M94.5 200.3v24.0M95.8 198.7v20.4M97.1 200.0v20.4M98.4 201.4v13.2M99.7 209.2v13.6M101.0 198.6v16.2M102.3 201.5v8.0M103.6 202.1v24.4M104.9 200.3v29.9M106.2 203.0v18.7M107.5 206.4v12.0M108.8 204.6v19.0M110.1 202.1v10.6M111.3 199.6v14.9M112.6 201.5v19.8M113.9 197.7v22.0M115.2 214.6v20.9M116.5 201.1v23.2M117.8 213.3v12.4M119.1 214.6v9.9M120.4 211.9v10.3M121.7 206.4v13.1M123.0 197.8v20.2M124.3 210.7v16.0M125.6 208.5v23.9M126.9 211.3v14.8M128.2 203.0v25.9M129.5 201.9v24.7M130.8 216.5v5.9M132.0 211.0v4.8M133.3 203.6v9.8M134.6 215.8v6.6M135.9 212.3v14.0M137.2 219.7v9.5M138.5 207.6v14.7M139.8 203.0v29.2M141.1 204.1v18.3M142.4 203.7v24.2M143.7 200.8v23.9M145.0 202.3v13.2M146.3 198.9v26.5M147.6 207.2v23.2M148.9 207.3v24.8M150.2 211.3v10.9M151.4 214.9v15.7M152.7 210.7v12.2M154.0 213.1v8.9M155.3 206.4v24.2M156.6 206.8v17.5M157.9 211.5v18.8M159.2 206.6v25.3M160.5 201.7v19.9M161.8 211.6v15.5M163.1 213.3v18.3M164.4 214.5v7.4M165.7 202.1v21.9M167.0 203.9v12.6M168.3 196.0v28.5M169.6 205.6v14.9M170.8 202.0v24.3M172.1 214.7v16.6M173.4 201.3v23.8M174.7 213.8v13.1M176.0 207.8v14.2M177.3 208.9v13.1M178.6 207.1v15.4M179.9 205.8v23.5M181.2 199.9v23.6M182.5 206.2v20.9M183.8 205.0v26.0M185.1 216.0v10.9M186.4 219.8v7.7M187.7 206.2v6.1M189.0 203.1v13.3M190.3 204.3v17.3M191.5 207.7v20.1M192.8 203.5v13.1M194.1 212.3v9.2M195.4 206.1v18.9M196.7 201.7v18.0M198.0 205.4v16.9M199.3 204.5v15.2M200.6 203.0v25.7M201.9 211.3v18.1M203.2 216.9v11.0M204.5 206.5v13.3M205.8 199.4v25.2M207.1 211.9v14.2M208.4 209.9v21.1M209.7 216.1v14.8M210.9 209.3v16.3M212.2 214.3v8.9M213.5 208.1v15.1M214.8 215.7v16.2M216.1 203.6v18.5M217.4 200.5v25.0M218.7 207.8v12.4M220.0 202.3v20.9M221.3 206.1v18.9M222.6 201.1v15.6M223.9 210.7v17.0M225.2 202.6v24.2M226.5 226.0v8.4M227.8 209.3v23.8M229.1 208.9v19.5M230.4 206.7v26.3M231.6 202.8v27.3M232.9 208.3v19.6M234.2 207.9v23.7M235.5 195.6v38.2M236.8 200.8v29.2M238.1 210.8v10.3M239.4 212.1v11.2M240.7 215.9v13.3M242.0 201.3v20.8M243.3 208.6v12.7M244.6 213.1v18.0M245.9 213.5v16.2M247.2 205.8v21.2M248.5 203.9v16.2M249.8 210.2v24.7M251.0 211.2v22.3M252.3 206.9v22.7M253.6 203.9v18.8M254.9 199.5v33.8M256.2 201.9v26.1M257.5 204.8v20.7M258.8 224.4v8.5M260.1 202.8v22.0M261.4 206.3v14.1M262.7 203.1v23.1M264.0 201.6v26.3M265.3 210.3v20.0M266.6 198.2v30.7M267.9 195.6v22.4M269.2 204.4v18.5M270.5 205.0v14.4M271.7 201.6v23.5M273.0 206.2v21.2M274.3 202.8v21.5M275.6 200.9v23.1M276.9 197.1v31.0M278.2 207.3v23.0M279.5 205.6v24.5M280.8 206.2v17.7M282.1 207.8v20.1M283.4 209.0v12.5M284.7 205.2v25.4M286.0 198.7v30.0M287.3 198.8v36.8M288.6 209.3v13.1M289.9 201.8v10.5M291.1 206.0v6.1M292.4 200.9v25.6M293.7 209.0v18.4M295.0 208.9v22.2M296.3 208.0v12.1M297.6 216.4v6.4M298.9 208.9v16.6M300.2 214.5v17.2M301.5 208.4v12.4M302.8 209.0v10.5M304.1 209.2v4.2M305.4 208.5v19.6M306.7 207.2v22.9M308.0 210.3v11.2M309.3 211.0v16.6M310.6 209.8v13.8M311.8 212.7v12.5M313.1 212.3v15.1M314.4 211.2v11.1M315.7 211.2v15.1M317.0 215.3v12.2M318.3 211.2v10.8M319.6 205.6v17.6M320.9 219.7v16.9M322.2 221.3v10.2M323.5 214.2v10.6M324.8 209.8v9.1M326.1 217.6v11.6M327.4 195.9v13.8M328.7 203.1v23.2M330.0 202.2v17.3M331.2 205.5v20.6M332.5 196.8v25.9M333.8 206.8v14.4M335.1 201.0v25.7M336.4 212.2v9.5M337.7 211.5v10.5M339.0 203.3v19.1M340.3 202.4v30.4M341.6 212.9v10.4M342.9 218.9v6.3M344.2 202.0v5.8M345.5 210.0v20.8M346.8 212.4v14.0M348.1 198.8v25.8M349.4 212.6v20.4M350.7 207.6v7.6M351.9 206.0v11.6M353.2 199.6v20.5M354.5 200.7v26.0M355.8 196.8v29.1M357.1 200.0v34.5M358.4 217.2v15.9M359.7 210.9v16.0M361.0 208.5v11.7M362.3 211.8v13.8M363.6 208.7v20.8M364.9 194.8v5.4M366.2 207.9v10.6M367.5 209.7v18.7M368.8 206.1v21.2M370.1 214.0v19.0M371.3 219.6v9.9M372.6 200.4v24.4M373.9 200.6v21.0M375.2 197.4v16.6M376.5 200.1v34.1M377.8 202.1v22.1M379.1 212.4v15.8M380.4 207.3v18.8M381.7 203.9v26.9M383.0 201.8v22.9M384.3 203.5v21.7M385.6 207.9v20.9M386.9 209.7v15.4M388.2 216.8v14.1M389.5 204.7v9.6M390.8 219.8v11.4M392.0 206.7v15.9M393.3 213.0v15.6M394.6 203.5v26.2M395.9 198.1v18.9M397.2 216.0v14.2M398.5 203.2v19.9M399.8 205.3v11.8M401.1 215.6v13.3M402.4 208.4v20.3M403.7 216.6v11.6M405.0 206.0v23.9M406.3 203.9v24.3M407.6 207.1v23.4M408.9 209.3v15.5M410.2 207.7v15.8M411.4 203.1v4.5M412.7 203.1v9.3M414.0 196.8v5.2M415.3 202.9v17.4M416.6 209.8v21.9M417.9 213.2v20.2M419.2 210.0v15.4M420.5 204.7v21.2M421.8 208.1v18.2M423.1 217.8v13.0M424.4 209.3v8.6M425.7 211.6v15.1M427.0 211.3v16.3M428.3 203.2v31.2M429.6 205.4v19.2M430.9 203.6v11.6" stroke="#c47cf8" stroke-width="1.49" fill="none" shape-rendering="auto"/>
<path d="M31.1 228.5v6.0M32.4 214.5v4.1M33.7 216.7v2.4M35.0 233.0v3.5M36.3 230.5v0.8M37.6 224.6v2.5M38.9 223.1v0.8M40.2 220.9v0.4M41.5 226.7v2.8M42.8 225.2v1.4M44.1 226.8v1.8M45.4 229.5v2.3M46.7 230.9v0.9M48.0 229.5v0.6M49.3 225.8v4.3M50.5 219.7v6.8M51.8 223.1v1.1M53.1 235.7v0.2M54.4 227.2v0.6M55.7 215.2v3.7M57.0 229.8v1.7M58.3 226.1v3.9M59.6 224.8v6.3M60.9 223.1v7.9M62.2 222.8v4.7M63.5 231.1v1.8M64.8 223.0v0.7M66.1 228.8v0.6M67.4 231.0v2.4M68.7 221.1v6.6M70.0 234.0v1.3M71.2 214.9v2.1M72.5 231.7v0.7M73.8 227.7v1.5M75.1 230.4v1.4M76.4 224.4v1.8M77.7 229.1v0.8M79.0 233.7v0.7M80.3 226.3v1.0M81.6 227.4v3.3M82.9 226.3v0.9M84.2 228.9v1.3M85.5 230.0v0.5M86.8 233.7v0.6M88.1 224.0v0.5M89.4 230.2v1.5M90.7 228.7v1.2M91.9 230.9v1.9M93.2 226.5v0.6M94.5 224.2v2.7M95.8 219.1v2.6M97.1 220.4v0.4M98.4 214.5v3.7M99.7 222.8v9.3M101.0 214.8v4.8M102.3 209.5v3.2M103.6 226.5v6.1M104.9 230.2v1.2M106.2 221.6v0.8M107.5 218.3v2.2M108.8 223.5v3.0M110.1 212.6v5.0M111.3 214.5v2.5M112.6 221.3v7.2M113.9 219.6v2.5M115.2 235.4v0.2M116.5 224.2v1.1M117.8 225.7v2.1M119.1 224.5v2.6M120.4 222.2v0.9M121.7 219.4v1.4M123.0 218.0v11.9M124.3 226.7v3.4M125.6 232.3v1.6M126.9 226.0v2.6M128.2 228.9v1.7M129.5 226.5v0.8M130.8 222.4v2.2M132.0 215.8v7.2M133.3 213.4v2.4M134.6 222.4v1.0M137.2 229.1v0.8M138.5 222.2v13.5M139.8 232.2v2.5M141.1 222.3v3.5M142.4 227.9v3.8M143.7 224.6v1.9M145.0 215.4v0.4M146.3 225.3v0.8M147.6 230.4v0.9M148.9 232.1v0.7M150.2 222.1v0.3M152.7 222.8v0.8M154.0 221.9v5.6M155.3 230.5v1.9M156.6 224.2v1.2M157.9 230.2v0.6M159.2 231.9v1.6M160.5 221.6v4.9M161.8 227.1v3.5M163.1 231.6v0.8M164.4 221.9v5.6M165.7 223.9v1.3M167.0 216.4v4.3M168.3 224.4v0.8M169.6 220.4v2.4M170.8 226.3v4.9M172.1 231.2v4.4M173.4 225.0v3.2M174.7 226.9v1.8M176.0 222.0v6.5M177.3 221.9v5.3M178.6 222.5v3.5M179.9 229.2v4.7M181.2 223.4v6.8M182.5 227.1v4.0M183.8 230.9v1.7M185.1 226.8v1.5M186.4 227.4v3.3M187.7 212.2v14.0M189.0 216.3v6.5M190.3 221.6v4.0M191.5 227.7v1.8M192.8 216.6v5.3M194.1 221.4v11.0M195.4 225.0v7.4M196.7 219.7v5.7M198.0 222.3v3.3M199.3 219.7v1.6M200.6 228.7v3.9M201.9 229.4v2.1M203.2 227.9v8.0M204.5 219.7v7.7M205.8 224.6v3.7M207.1 226.1v1.4M208.4 230.9v2.0M209.7 230.8v0.4M210.9 225.5v1.8M212.2 223.1v4.4M213.5 223.1v0.6M214.8 231.8v1.6M216.1 222.0v10.5M217.4 225.5v5.0M218.7 220.1v5.5M220.0 223.2v1.5M221.3 225.0v1.1M222.6 216.7v3.4M223.9 227.6v1.3M225.2 226.8v1.8M226.5 234.4v0.7M227.8 233.0v0.9M229.1 228.3v2.6M230.4 233.0v0.5M231.6 230.0v2.6M232.9 227.9v4.2M234.2 231.5v1.9M235.5 233.8v2.0M236.8 229.9v0.7M238.1 221.1v2.3M239.4 223.3v0.5M240.7 229.1v2.3M242.0 222.0v2.5M243.3 221.3v8.0M244.6 231.1v3.3M245.9 229.7v2.4M247.2 226.9v2.3M248.5 220.0v1.5M249.8 234.8v1.8M251.0 233.4v1.3M252.3 229.5v2.8M253.6 222.7v8.3M254.9 233.2v1.0M256.2 228.0v2.2M257.5 225.4v1.0M258.8 232.8v1.7M260.1 224.7v2.5M261.4 220.4v1.8M262.7 226.2v0.4M264.0 227.9v2.7M265.3 230.3v2.8M266.6 228.9v2.0M267.9 218.0v12.4M269.2 222.9v5.4M270.5 219.4v6.0M271.7 225.0v1.3M273.0 227.3v0.7M274.3 224.2v0.6M275.6 224.0v3.7M276.9 228.1v1.5M278.2 230.2v2.3M279.5 230.1v1.6M280.8 223.9v2.2M282.1 227.9v0.9M283.4 221.4v6.3M284.7 230.5v2.7M286.0 228.7v0.9M287.3 235.5v0.6M288.6 222.3v6.1M289.9 212.3v19.8M291.1 212.0v5.9M292.4 226.4v1.2M293.7 227.3v2.6M295.0 231.0v0.7M296.3 220.1v5.9M297.6 222.8v3.8M298.9 225.4v4.6M300.2 231.7v0.7M301.5 220.7v9.7M302.8 219.5v4.0M304.1 213.3v4.0M305.4 228.0v1.4M306.7 230.1v1.1M308.0 221.4v0.8M309.3 227.6v2.2M310.6 223.5v2.0M311.8 225.1v3.6M313.1 227.3v5.4M314.4 222.2v0.8M315.7 226.3v2.4M317.0 227.4v4.1M318.3 222.0v2.8M319.6 223.1v2.0M320.9 236.5v0.7M322.2 231.5v1.1M323.5 224.7v1.4M324.8 218.9v4.0M326.1 229.1v2.2M327.4 209.6v11.8M328.7 226.3v3.6M330.0 219.5v8.5M331.2 226.0v2.8M332.5 222.7v1.6M333.8 221.2v5.2M335.1 226.6v0.8M336.4 221.7v0.7M337.7 221.9v2.4M339.0 222.3v2.8M340.3 232.8v2.2M341.6 223.3v2.8M342.9 225.1v5.5M344.2 207.7v2.7M345.5 230.7v0.5M346.8 226.3v2.8M348.1 224.5v2.3M349.4 232.9v0.7M350.7 215.2v0.6M351.9 217.5v5.2M353.2 220.1v12.0M354.5 226.6v3.2M355.8 225.9v1.0M357.1 234.4v1.0M358.4 233.1v1.7M359.7 226.9v2.5M361.0 220.2v0.8M362.3 225.5v1.2M363.6 229.4v0.8M364.9 200.2v0.4M366.2 218.4v2.8M367.5 228.4v0.4M368.8 227.3v2.4M370.1 233.0v0.9M371.3 229.5v0.4M372.6 224.7v1.7M373.9 221.6v8.8M375.2 214.0v15.0M376.5 234.1v1.0M377.8 224.1v0.5M379.1 228.2v1.0M380.4 226.0v4.5M381.7 230.8v3.0M383.0 224.6v0.8M384.3 225.1v1.4M385.6 228.8v3.7M386.9 225.1v1.7M388.2 230.9v3.3M389.5 214.3v1.3M390.8 231.1v1.5M392.0 222.6v5.1M393.3 228.5v0.6M394.6 229.6v0.6M395.9 217.0v2.2M397.2 230.2v3.4M398.5 223.1v1.6M399.8 217.1v4.8M401.1 228.8v2.4M402.4 228.7v1.3M403.7 228.2v5.2M405.0 229.8v1.0M406.3 228.2v2.0M408.9 224.7v2.6M410.2 223.5v1.0M411.4 207.6v10.2M412.7 212.4v3.1M414.0 202.0v4.3M415.3 220.3v6.5M416.6 231.7v0.8M417.9 233.3v1.8M419.2 225.3v5.8M420.5 225.8v1.2M421.8 226.2v7.1M423.1 230.7v3.2M424.4 217.9v2.9M425.7 226.7v1.1M427.0 227.5v1.1M428.3 234.3v1.0M429.6 224.6v4.9M430.9 215.1v10.4" stroke="#d6bcf9" stroke-width="1.49" fill="none" shape-rendering="auto"/>
<path d="M33.7 219.0v0.2M37.6 227.0v0.5M38.9 223.9v0.2M40.2 221.2v0.3M41.5 229.5v0.3M42.8 226.5v0.4M45.4 231.7v0.4M48.0 230.0v0.3M50.5 226.5v0.2M51.8 224.1v0.3M55.7 218.8v0.5M57.0 231.4v0.9M59.6 231.0v0.4M60.9 230.9v0.3M62.2 227.4v0.7M63.5 232.9v0.5M71.2 217.0v0.3M72.5 232.4v0.4M75.1 231.7v0.3M80.3 227.2v0.5M81.6 230.6v0.3M94.5 226.9v0.8M103.6 232.6v0.6M106.2 222.4v0.3M110.1 217.5v0.2M113.9 222.1v0.2M115.2 235.6v1.0M116.5 225.2v0.3M128.2 230.6v0.2M129.5 227.2v0.3M132.0 223.0v0.4M133.3 215.8v0.2M145.0 215.7v0.2M151.4 230.7v0.2M152.7 223.5v0.3M154.0 227.4v1.5M155.3 232.3v0.2M156.6 225.4v0.9M163.1 232.3v0.3M165.7 225.2v0.3M167.0 220.6v0.2M168.3 225.2v0.3M169.6 222.7v0.6M174.7 228.7v0.7M176.0 228.4v0.2M178.6 225.9v0.3M179.9 233.9v0.6M181.2 230.2v0.3M183.8 232.6v0.4M185.1 228.2v0.6M187.7 226.2v0.7M189.0 222.8v0.8M190.3 225.6v0.2M191.5 229.5v0.3M192.8 221.9v0.6M194.1 232.4v0.5M195.4 232.3v0.5M196.7 225.4v0.9M198.0 225.5v0.3M199.3 221.2v0.5M200.6 232.5v0.2M201.9 231.5v0.2M203.2 235.9v0.4M204.5 227.4v0.4M205.8 228.2v0.2M207.1 227.4v0.2M209.7 231.2v1.0M212.2 227.5v0.5M213.5 223.7v0.3M216.1 232.5v0.3M220.0 224.6v0.2M225.2 228.5v0.3M227.8 233.8v0.3M230.4 233.4v0.3M231.6 232.6v0.3M232.9 232.1v0.6M235.5 235.7v0.4M236.8 230.6v0.5M238.1 223.3v0.5M239.4 223.8v0.3M242.0 224.5v0.3M251.0 234.6v0.5M252.3 232.3v0.4M253.6 231.0v0.2M257.5 226.4v0.2M258.8 234.5v0.3M260.1 227.1v0.3M262.7 226.5v0.3M264.0 230.5v0.2M271.7 226.3v0.3M273.0 227.9v0.3M274.3 224.8v1.2M275.6 227.6v0.8M276.9 229.6v0.5M278.2 232.4v0.7M279.5 231.6v1.0M280.8 226.0v0.3M288.6 228.3v0.2M289.9 232.0v0.3M293.7 229.8v0.4M295.0 231.7v0.3M296.3 226.0v0.2M301.5 230.4v0.3M302.8 223.5v0.6M304.1 217.2v0.4M305.4 229.4v0.8M306.7 231.1v0.2M309.3 229.7v0.2M310.6 225.5v0.3M314.4 223.0v0.9M315.7 228.7v0.2M317.0 231.4v0.3M318.3 224.8v0.8M323.5 226.1v0.3M327.4 221.4v0.4M328.7 229.8v0.4M331.2 228.8v0.5M332.5 224.3v0.7M333.8 226.3v0.3M335.1 227.3v0.3M336.4 222.3v0.9M339.0 225.0v0.5M340.3 234.9v0.2M344.2 210.4v0.3M345.5 231.1v0.3M346.8 229.1v0.2M348.1 226.8v0.9M349.4 233.5v0.2M351.9 222.7v0.5M353.2 232.0v0.2M359.7 229.3v0.3M362.3 226.7v0.5M364.9 200.5v0.2M366.2 221.2v0.5M368.8 229.6v1.7M371.3 229.9v0.2M372.6 226.3v0.5M379.1 229.2v0.6M380.4 230.5v0.7M392.0 227.6v0.2M394.6 230.2v0.3M397.2 233.6v0.8M398.5 224.6v0.2M401.1 231.2v0.3M402.4 229.9v0.2M405.0 230.8v0.2M412.7 215.4v0.2M414.0 206.2v0.2M415.3 226.7v0.2M419.2 231.1v0.3M420.5 227.0v0.3M421.8 233.2v0.2M424.4 220.8v1.4M427.0 228.5v0.3M429.6 229.4v0.3M430.9 225.5v0.2" stroke="#ea1a22" stroke-width="1.49" fill="none" shape-rendering="auto"/>
<path d="M31.1 234.5v1.3M32.4 218.6v4.7M33.7 219.2v3.0M35.0 236.5v0.8M36.3 231.3v6.6M37.6 227.4v0.9M38.9 224.1v4.8M40.2 221.5v1.5M41.5 229.7v1.5M42.8 226.9v2.2M44.1 228.8v5.4M45.4 232.0v0.8M46.7 231.9v1.5M48.0 230.3v3.1M49.3 230.1v2.0M50.5 226.7v0.6M51.8 224.4v5.4M53.1 236.0v1.0M54.4 227.8v3.7M55.7 219.3v2.7M57.0 232.3v0.4M58.3 230.1v0.6M59.6 231.4v3.1M60.9 231.1v1.5M62.2 228.1v1.5M63.5 233.3v1.6M64.8 223.8v11.0M66.1 229.3v2.2M67.4 233.5v1.2M68.7 227.7v2.4M70.0 235.3v2.4M71.2 217.2v1.0M72.5 232.7v3.1M73.8 229.3v6.6M75.1 231.9v1.2M76.4 226.3v5.4M77.7 229.9v2.6M79.0 234.5v1.5M80.3 227.6v0.8M81.6 230.9v2.1M82.9 227.3v5.6M84.2 230.2v5.5M85.5 230.5v2.5M86.8 234.3v2.4M88.1 224.5v12.3M89.4 231.7v2.4M90.7 229.9v3.5M91.9 232.8v3.0M93.2 227.2v0.9M94.5 227.6v1.3M95.8 221.8v11.1M97.1 220.9v4.0M98.4 218.1v13.4M99.7 232.2v2.2M101.0 219.7v7.7M102.3 212.7v1.7M103.6 233.2v1.3M104.9 231.4v4.4M106.2 222.6v4.9M107.5 220.5v3.2M108.8 226.6v0.9M110.1 217.7v16.5M111.3 217.1v4.7M112.6 228.5v4.4M113.9 222.3v13.4M115.2 236.6v0.7M116.5 225.5v1.6M117.8 227.8v2.2M119.1 227.1v5.3M120.4 223.1v5.3M121.7 220.9v4.4M123.0 229.9v6.0M124.3 230.0v3.3M125.6 233.9v0.8M126.9 228.6v1.0M128.2 230.8v0.7M129.5 227.5v4.3M130.8 224.6v2.6M132.0 223.3v6.5M133.3 216.0v12.7M134.6 223.4v5.9M135.9 226.4v4.1M137.2 230.0v2.5M138.5 235.8v2.4M139.8 234.7v2.0M141.1 225.8v1.2M142.4 231.7v4.8M143.7 226.5v7.8M145.0 215.9v5.8M146.3 226.1v5.6M147.6 231.4v1.0M148.9 232.8v0.7M150.2 222.4v3.1M151.4 230.8v3.4M152.7 223.8v6.8M154.0 228.9v4.7M155.3 232.5v2.3M156.6 226.3v2.2M157.9 230.8v1.9M159.2 233.5v4.3M160.5 226.5v8.3M161.8 230.6v3.3M163.1 232.5v0.5M164.4 227.6v7.6M165.7 225.5v3.3M167.0 220.8v8.6M168.3 225.4v3.4M169.6 223.2v6.3M170.8 231.2v4.5M172.1 235.7v1.6M173.4 228.2v7.0M174.7 229.4v2.5M176.0 228.6v3.2M177.3 227.2v5.4M178.6 226.1v8.0M179.9 234.4v1.6M181.2 230.4v0.7M182.5 231.2v2.7M183.8 232.9v2.1M185.1 228.8v6.6M186.4 230.7v1.8M187.7 226.8v4.4M189.0 223.6v10.2M190.3 225.7v8.5M191.5 229.7v5.8M192.8 222.4v10.3M194.1 232.8v1.7M195.4 232.8v4.2M196.7 226.2v8.5M198.0 225.7v2.5M199.3 221.6v1.8M200.6 232.7v0.7M201.9 231.6v2.0M203.2 236.2v0.5M204.5 227.7v6.1M205.8 228.4v3.9M207.1 227.6v3.5M208.4 232.9v4.5M209.7 232.1v2.5M210.9 227.4v3.3M212.2 228.0v7.3M213.5 224.0v4.7M214.8 233.4v1.0M216.1 232.7v1.0M217.4 230.6v3.4M218.7 225.7v11.5M220.0 224.8v8.8M221.3 226.1v2.6M222.6 220.1v0.7M223.9 229.0v0.7M225.2 228.7v0.8M226.5 235.1v0.4M227.8 234.1v2.9M229.1 231.0v2.6M230.4 233.7v1.9M231.6 232.8v2.6M232.9 232.6v3.5M234.2 233.4v2.1M235.5 236.1v0.6M236.8 231.1v2.3M238.1 223.7v1.0M239.4 224.0v4.9M240.7 231.5v1.2M242.0 224.7v6.9M243.3 229.3v4.7M244.6 234.4v1.1M245.9 232.1v2.2M247.2 229.3v5.2M248.5 221.6v7.8M249.8 236.6v1.0M251.0 235.1v1.8M252.3 232.6v3.0M253.6 231.1v2.7M254.9 234.3v1.7M256.2 230.2v2.7M257.5 226.5v3.8M258.8 234.7v1.2M260.1 227.3v1.6M261.4 222.3v3.8M262.7 226.8v5.4M264.0 230.7v4.4M265.3 233.1v3.2M266.6 230.9v5.9M267.9 230.5v3.4M269.2 228.2v0.9M270.5 225.4v1.3M271.7 226.5v1.4M273.0 228.1v4.3M274.3 225.9v6.8M275.6 228.4v5.0M276.9 230.0v3.9M278.2 233.0v2.1M279.5 232.5v2.3M280.8 226.2v7.0M282.1 228.9v4.9M283.4 227.8v3.4M284.7 233.2v1.8M286.0 229.6v2.0M287.3 236.2v2.2M288.6 228.5v5.6M289.9 232.3v2.3M291.1 217.9v17.4M292.4 227.6v5.6M293.7 230.2v3.4M295.0 232.0v4.6M296.3 226.1v9.1M297.6 226.6v6.7M298.9 230.0v5.6M300.2 232.4v1.1M301.5 230.7v3.8M302.8 224.0v8.9M304.1 217.6v12.9M305.4 230.2v2.8M306.7 231.3v5.2M308.0 222.2v1.4M309.3 229.8v3.1M310.6 225.7v5.7M311.8 228.8v1.4M313.1 232.7v2.1M314.4 223.8v3.0M315.7 228.8v5.4M317.0 231.7v1.6M318.3 225.6v5.4M319.6 225.2v2.8M320.9 237.2v1.3M322.2 232.7v3.7M323.5 226.4v7.9M324.8 222.9v11.4M326.1 231.3v1.7M327.4 221.7v1.5M328.7 230.1v1.8M330.0 228.0v7.4M331.2 229.3v4.7M332.5 225.0v7.7M333.8 226.6v3.8M335.1 227.5v7.1M336.4 223.1v6.3M337.7 224.3v10.1M339.0 225.5v1.9M340.3 235.1v4.0M341.6 226.1v4.8M342.9 230.7v3.2M344.2 210.7v4.7M345.5 231.3v3.2M346.8 229.3v3.6M348.1 227.6v8.7M349.4 233.7v2.4M350.7 215.8v8.3M351.9 223.1v1.0M353.2 232.2v1.0M354.5 229.8v3.8M355.8 226.9v7.6M357.1 235.4v2.7M358.4 234.8v1.5M359.7 229.5v4.1M361.0 221.0v16.7M362.3 227.2v3.5M363.6 230.2v5.1M364.9 200.7v37.0M366.2 221.6v10.9M367.5 228.9v7.8M368.8 231.3v1.2M370.1 233.9v1.3M371.3 230.1v0.5M372.6 226.7v3.2M373.9 230.4v2.4M375.2 229.1v1.5M376.5 235.1v0.9M377.8 224.6v2.7M379.1 229.7v1.5M380.4 231.1v6.4M381.7 233.9v1.4M383.0 225.4v5.2M384.3 226.6v7.4M385.6 232.5v3.8M386.9 226.8v5.3M388.2 234.2v0.8M389.5 215.6v1.2M390.8 232.5v2.1M392.0 227.8v3.7M393.3 229.1v2.9M394.6 230.4v1.9M395.9 219.2v3.5M397.2 234.3v1.8M398.5 224.8v1.5M399.8 221.9v6.9M401.1 231.5v3.7M402.4 230.1v4.9M403.7 233.5v1.6M405.0 230.9v3.3M406.3 230.2v3.3M407.6 230.6v0.4M408.9 227.3v1.2M410.2 224.6v3.4M411.4 217.8v3.2M412.7 215.5v20.2M414.0 206.4v27.1M415.3 226.9v10.5M416.6 232.5v0.3M417.9 235.0v0.6M419.2 231.4v1.0M420.5 227.3v5.4M421.8 233.4v0.4M423.1 233.8v1.3M424.4 222.1v9.1M425.7 227.8v3.5M427.0 228.7v0.5M428.3 235.4v0.7M429.6 229.7v1.9M430.9 225.7v3.4" stroke="#ffb870" stroke-width="1.49" fill="none" shape-rendering="auto"/>
<path d="M32.4 223.3v0.5M33.7 222.2v7.2M35.0 237.2v0.7M36.3 237.8v0.7M37.6 228.3v1.6M38.9 228.8v1.4M40.2 222.9v10.8M41.5 231.2v3.3M42.8 229.1v2.1M44.1 234.1v0.7M45.4 232.7v1.6M46.7 233.4v0.4M48.0 233.4v0.4M49.3 232.0v0.8M50.5 227.2v0.4M51.8 229.7v1.5M53.1 236.9v0.5M54.4 231.4v2.3M55.7 221.9v1.9M57.0 232.6v0.3M58.3 230.7v0.5M59.6 234.4v2.4M60.9 232.5v2.1M62.2 229.6v1.2M63.5 234.9v1.6M64.8 234.7v0.8M66.1 231.5v2.0M67.4 234.7v1.5M68.7 230.1v1.1M70.0 237.6v0.2M71.2 218.1v0.4M72.5 235.7v0.4M73.8 235.8v1.1M75.1 233.1v1.5M76.4 231.6v0.4M77.7 232.4v2.3M79.0 235.9v0.3M80.3 228.3v1.2M81.6 232.9v0.7M82.9 232.8v0.2M84.2 235.7v0.9M85.5 233.0v0.6M86.8 236.6v0.4M88.1 236.7v0.5M89.4 234.0v2.1M90.7 233.3v1.1M91.9 235.8v1.4M93.2 228.1v5.1M94.5 228.9v2.8M95.8 232.8v1.1M97.1 224.8v5.9M98.4 231.5v2.3M99.7 234.3v0.8M101.0 227.3v1.0M102.3 214.3v0.8M103.6 234.4v1.5M104.9 235.8v0.7M106.2 227.4v2.0M107.5 223.7v2.7M108.8 227.5v1.8M110.1 234.2v2.3M111.3 221.7v2.6M112.6 232.8v1.2M113.9 235.6v1.1M115.2 237.2v0.3M116.5 227.0v0.3M117.8 229.9v3.9M119.1 232.3v2.0M120.4 228.4v1.4M121.7 225.3v6.7M123.0 235.9v1.2M124.3 233.3v2.4M125.6 234.7v0.3M126.9 229.5v4.6M128.2 231.4v0.6M129.5 231.7v1.0M130.8 227.2v1.5M132.0 229.8v0.9M133.3 228.7v0.8M134.6 229.2v1.3M135.9 230.4v2.1M137.2 232.4v6.0M138.5 238.2v0.6M139.8 236.6v1.3M141.1 226.9v0.4M142.4 236.4v0.8M143.7 234.3v0.6M145.0 221.7v0.4M146.3 231.6v0.6M147.6 232.4v1.0M148.9 233.4v2.1M150.2 225.5v4.2M151.4 234.2v1.5M152.7 230.6v1.7M154.0 233.5v0.3M155.3 234.8v0.6M156.6 228.4v0.7M157.9 232.6v0.3M159.2 237.8v0.7M160.5 234.7v1.4M161.8 233.8v0.6M163.1 232.9v1.9M164.4 235.2v2.0M165.7 228.7v5.5M167.0 229.4v1.1M168.3 228.7v0.7M169.6 229.4v3.0M170.8 235.7v1.1M172.1 237.2v0.9M173.4 235.2v1.6M174.7 231.8v3.4M176.0 231.7v3.3M177.3 232.5v4.8M178.6 234.0v1.0M179.9 235.9v1.8M181.2 231.0v0.5M182.5 233.8v0.7M183.8 235.0v1.7M185.1 235.3v1.6M186.4 232.5v5.0M187.7 231.1v1.9M189.0 233.7v0.7M190.3 234.2v1.0M191.5 235.5v1.2M192.8 232.7v0.2M194.1 234.5v1.1M195.4 236.9v1.1M196.7 234.7v1.3M198.0 228.2v5.7M199.3 223.4v13.2M200.6 233.4v4.9M201.9 233.6v1.9M203.2 236.7v0.7M204.5 233.8v1.1M205.8 232.3v2.8M207.1 231.0v3.4M208.4 237.3v0.6M209.7 234.5v1.2M210.9 230.6v1.2M212.2 235.2v0.7M213.5 228.6v0.9M214.8 234.4v2.1M216.1 233.6v0.9M217.4 233.9v3.0M218.7 237.2v0.7M220.0 233.5v0.3M221.3 228.7v5.9M222.6 220.8v0.8M223.9 229.6v1.3M225.2 229.5v0.6M226.5 235.5v0.4M227.8 236.9v1.3M229.1 233.5v0.8M230.4 235.5v0.3M231.6 235.3v1.8M232.9 236.1v0.6M234.2 235.5v1.2M235.5 236.7v0.7M236.8 233.3v2.1M238.1 224.7v1.7M239.4 228.8v1.5M240.7 232.6v1.4M242.0 231.5v0.5M243.3 234.0v0.5M244.6 235.4v0.7M245.9 234.3v2.4M247.2 234.5v0.7M248.5 229.3v2.6M249.8 237.6v1.3M251.0 236.9v0.8M252.3 235.6v1.6M253.6 233.8v1.8M254.9 236.0v0.7M256.2 232.8v1.5M257.5 230.3v7.0M258.8 235.9v1.2M260.1 228.9v2.1M261.4 226.1v4.6M262.7 232.1v3.6M264.0 235.0v0.3M265.3 236.3v1.2M266.6 236.7v2.5M267.9 233.9v4.2M269.2 229.1v7.3M270.5 226.7v3.0M271.7 227.9v3.5M273.0 232.3v2.0M274.3 232.7v0.7M275.6 233.3v4.0M276.9 233.8v3.6M278.2 235.1v0.7M279.5 234.8v1.2M280.8 233.1v0.5M282.1 233.7v0.5M283.4 231.2v1.8M284.7 235.0v0.9M286.0 231.6v1.3M287.3 238.3v0.5M288.6 234.0v0.6M289.9 234.6v1.2M291.1 235.3v1.2M292.4 233.2v1.0M293.7 233.5v1.1M295.0 236.5v0.3M296.3 235.2v0.3M297.6 233.3v0.6M298.9 235.6v0.6M300.2 233.4v4.1M301.5 234.4v1.2M302.8 232.9v2.2M304.1 230.4v3.4M305.4 232.9v1.3M306.7 236.5v0.3M308.0 223.5v0.6M309.3 232.9v0.6M310.6 231.3v1.1M311.8 230.1v1.2M313.1 234.8v1.3M314.4 226.7v1.2M315.7 234.2v0.9M317.0 233.2v0.2M318.3 230.9v1.6M320.9 238.5v1.0M322.2 236.4v0.3M323.5 234.3v0.8M324.8 234.3v1.0M326.1 233.0v0.7M327.4 223.1v0.7M328.7 231.8v2.4M330.0 235.3v0.5M331.2 233.9v0.3M332.5 232.6v1.6M333.8 230.3v1.3M335.1 234.6v0.5M336.4 229.4v0.4M337.7 234.4v0.7M339.0 227.3v1.4M340.3 239.0v0.4M341.6 230.9v2.1M342.9 233.8v1.4M344.2 215.3v3.1M345.5 234.5v0.3M346.8 232.8v0.8M348.1 236.2v1.0M349.4 236.1v0.8M350.7 224.0v0.2M351.9 224.1v1.0M353.2 233.1v1.0M354.5 233.5v0.9M355.8 234.5v0.4M357.1 238.0v0.7M358.4 236.3v2.3M359.7 233.6v0.8M361.0 237.6v0.3M362.3 230.6v1.7M363.6 235.3v1.7M364.9 237.6v0.6M366.2 232.5v3.2M367.5 236.7v0.3M368.8 232.4v1.1M370.1 235.1v0.3M371.3 230.5v0.7M372.6 229.9v0.7M373.9 232.7v2.2M375.2 230.5v0.8M376.5 236.0v0.7M377.8 227.3v0.6M379.1 231.2v1.6M380.4 237.5v0.6M381.7 235.3v2.9M383.0 230.6v5.9M384.3 234.0v0.6M385.6 236.2v0.7M386.9 232.1v3.1M388.2 235.0v0.4M389.5 216.7v0.4M390.8 234.5v1.0M392.0 231.4v0.5M393.3 232.0v2.4M394.6 232.3v1.2M395.9 222.6v1.2M397.2 236.1v1.5M398.5 226.3v1.7M399.8 228.7v1.8M401.1 235.1v2.9M402.4 235.0v2.9M403.7 235.1v0.3M405.0 234.2v0.2M406.3 233.4v0.9M407.6 230.9v0.9M408.9 228.4v2.4M410.2 227.9v1.1M411.4 220.9v1.0M412.7 235.7v0.2M414.0 233.5v2.0M415.3 237.4v0.3M416.6 232.7v0.5M417.9 235.5v1.3M419.2 232.3v1.1M420.5 232.6v1.7M421.8 233.7v1.2M423.1 235.1v1.8M424.4 231.2v1.5M425.7 231.3v3.1M427.0 229.2v1.2M428.3 236.0v0.4M429.6 231.5v1.7M430.9 229.0v1.9" stroke="#d6f9ca" stroke-width="1.49" fill="none" shape-rendering="auto"/>
<path d="M31.1 236.0v0.4M32.4 223.8v0.7M35.0 237.8v0.2M36.3 238.4v0.5M38.9 230.2v0.3M40.2 233.7v0.3M41.5 234.4v0.2M42.8 231.1v0.4M44.1 234.8v0.8M45.4 234.2v0.6M46.7 233.7v0.5M48.0 233.7v1.0M49.3 232.7v0.5M50.5 227.6v0.9M51.8 231.2v0.6M53.1 237.4v0.3M54.4 233.6v0.7M55.7 223.8v0.2M57.0 232.8v0.3M58.3 231.2v2.1M59.6 236.7v0.7M60.9 234.6v1.4M62.2 230.8v0.7M63.5 236.4v0.4M66.1 233.4v0.4M67.4 236.1v0.3M68.7 231.1v1.7M73.8 236.9v0.2M75.1 234.5v0.4M76.4 232.0v0.3M77.7 234.7v0.4M79.0 236.2v0.4M80.3 229.4v1.7M81.6 233.6v1.0M82.9 233.0v3.1M84.2 236.5v0.5M85.5 233.6v1.0M86.8 236.9v1.9M88.1 237.2v1.0M89.4 236.1v0.3M90.7 234.3v0.4M91.9 237.1v0.8M93.2 233.1v0.3M94.5 231.6v3.2M95.8 233.9v0.3M97.1 230.7v1.2M98.4 233.8v0.3M99.7 235.1v2.0M101.0 228.3v0.5M102.3 215.1v0.5M103.6 235.9v0.4M104.9 236.4v0.6M106.2 229.4v0.4M107.5 226.4v0.8M108.8 229.2v0.8M110.1 236.4v0.8M111.3 224.2v2.8M112.6 234.0v0.4M113.9 236.6v0.4M115.2 237.5v0.9M116.5 227.2v0.5M117.8 233.8v1.0M119.1 234.3v0.8M120.4 229.7v0.3M121.7 231.9v1.2M124.3 235.7v0.3M125.6 234.9v1.6M126.9 234.1v1.4M128.2 232.0v1.1M129.5 232.6v1.7M130.8 228.7v0.6M132.0 230.6v0.5M133.3 229.4v0.8M134.6 230.5v0.8M135.9 232.5v0.2M137.2 238.4v0.3M138.5 238.7v0.8M139.8 237.9v1.0M141.1 227.3v0.3M142.4 237.2v0.6M143.7 234.8v0.5M145.0 222.1v0.8M146.3 232.2v0.7M147.6 233.3v0.5M148.9 235.4v0.9M150.2 229.7v0.3M152.7 232.2v1.3M154.0 233.8v1.0M155.3 235.3v0.4M156.6 229.0v0.5M157.9 232.9v0.6M159.2 238.4v0.5M160.5 236.1v1.3M163.1 234.8v1.2M164.4 237.1v0.5M165.7 234.2v1.5M167.0 230.4v6.5M168.3 229.4v0.9M169.6 232.3v0.3M170.8 236.7v2.4M172.1 238.1v0.6M173.4 236.7v1.5M174.7 235.2v1.0M176.0 234.9v2.4M177.3 237.2v0.4M178.6 235.0v0.2M179.9 237.7v1.7M181.2 231.5v0.3M182.5 234.4v0.3M183.8 236.6v0.3M185.1 236.9v0.5M186.4 237.4v0.9M187.7 232.9v1.3M189.0 234.3v1.0M190.3 235.1v0.4M191.5 236.7v0.2M192.8 232.9v3.1M194.1 235.5v0.5M195.4 237.9v0.4M196.7 235.9v0.6M198.0 233.9v0.5M199.3 236.5v0.6M200.6 238.2v0.9M201.9 235.5v1.5M203.2 237.3v1.1M204.5 234.9v0.5M205.8 235.0v0.6M207.1 234.3v0.4M208.4 237.9v0.4M209.7 235.7v0.9M210.9 231.8v0.3M212.2 235.9v0.6M214.8 236.4v0.5M216.1 234.4v1.0M217.4 236.8v0.4M218.7 237.8v0.6M220.0 233.8v0.6M221.3 234.5v0.3M222.6 221.6v0.4M223.9 230.9v1.1M225.2 230.0v0.3M226.5 235.8v0.4M227.8 238.2v0.3M229.1 234.3v0.4M230.4 235.8v1.9M231.6 237.1v0.8M232.9 236.6v0.7M234.2 236.7v1.6M235.5 237.3v0.8M236.8 235.3v1.0M238.1 226.4v1.7M239.4 230.2v1.1M240.7 233.9v1.0M242.0 232.0v1.2M243.3 234.4v0.4M244.6 236.1v1.0M245.9 236.7v1.1M247.2 235.1v1.4M248.5 231.9v0.3M251.0 237.6v0.3M252.3 237.1v0.9M253.6 235.6v1.7M254.9 236.6v0.6M256.2 234.2v1.3M257.5 237.2v0.3M260.1 230.9v0.5M261.4 230.6v0.7M262.7 235.7v1.1M264.0 235.3v0.7M265.3 237.4v0.3M266.6 239.1v0.5M267.9 238.1v0.4M269.2 236.3v0.7M270.5 229.6v2.9M271.7 231.3v1.5M273.0 234.3v1.1M274.3 233.3v0.3M276.9 237.3v1.3M278.2 235.7v0.4M279.5 235.9v1.3M280.8 233.6v0.6M282.1 234.2v1.5M283.4 232.9v3.1M284.7 235.8v1.8M286.0 232.8v0.2M287.3 238.7v1.1M288.6 234.6v1.3M289.9 235.7v0.9M291.1 236.4v0.6M292.4 234.1v1.0M293.7 234.5v0.6M297.6 233.8v1.3M298.9 236.1v0.7M300.2 237.5v0.8M301.5 235.5v1.6M302.8 235.0v1.8M304.1 233.7v0.4M305.4 234.2v2.5M306.7 236.7v0.6M308.0 224.0v0.7M309.3 233.4v1.3M310.6 232.4v0.2M311.8 231.2v0.5M313.1 236.1v0.3M314.4 227.9v0.8M315.7 235.1v0.7M317.0 233.4v0.7M318.3 232.4v1.4M319.6 228.0v0.4M323.5 235.0v0.4M328.7 234.1v1.9M330.0 235.8v0.9M331.2 234.2v0.5M332.5 234.1v0.5M333.8 231.6v2.1M335.1 235.0v1.1M336.4 229.8v2.3M337.7 235.0v0.7M339.0 228.6v0.3M340.3 239.4v0.6M341.6 232.9v0.9M345.5 234.7v0.4M346.8 233.6v0.2M348.1 237.2v0.4M349.4 236.8v0.5M350.7 224.2v0.6M351.9 225.0v0.3M353.2 234.0v0.2M354.5 234.3v0.3M355.8 234.9v0.6M358.4 238.5v0.5M359.7 234.3v0.2M361.0 237.8v0.3M362.3 232.2v0.4M363.6 237.0v0.6M364.9 238.2v0.3M366.2 235.7v0.7M367.5 236.9v1.2M368.8 233.5v0.4M371.3 231.2v0.8M372.6 230.5v0.7M375.2 231.3v0.4M376.5 236.6v1.4M377.8 227.8v0.5M380.4 238.0v0.5M381.7 238.1v0.4M384.3 234.5v0.2M386.9 235.2v0.3M388.2 235.3v0.4M389.5 217.1v1.0M390.8 235.5v0.8M392.0 231.9v0.8M393.3 234.4v1.0M394.6 233.4v0.5M395.9 223.7v0.3M397.2 237.5v0.4M398.5 228.0v0.6M399.8 230.5v0.3M401.1 237.9v0.6M402.4 237.8v0.2M403.7 235.4v0.4M405.0 234.4v1.2M406.3 234.3v0.7M407.6 231.8v0.2M408.9 230.7v1.5M410.2 228.9v1.9M411.4 221.9v1.1M412.7 235.8v1.1M414.0 235.4v0.8M415.3 237.7v0.3M417.9 236.8v0.4M420.5 234.3v1.4M421.8 234.8v0.3M423.1 236.8v0.4M424.4 232.6v1.0M427.0 230.3v3.0M428.3 236.4v0.9M429.6 233.2v0.4M430.9 230.9v1.2" stroke="#ffbff2" stroke-width="1.49" fill="none" shape-rendering="auto"/>
<path d="M32.4 224.4v1.7M33.7 229.5v0.4M36.3 238.8v0.2M37.6 229.9v0.3M38.9 230.5v0.7M40.2 233.9v0.6M41.5 234.6v1.1M42.8 231.4v1.5M44.1 235.5v0.7M45.4 234.8v1.1M46.7 234.2v0.2M49.3 233.2v0.2M50.5 228.4v2.3M51.8 231.8v0.9M54.4 234.3v1.3M55.7 224.0v0.5M57.0 233.1v0.6M58.3 233.3v0.2M59.6 237.4v0.3M60.9 236.0v0.5M62.2 231.4v0.3M63.5 236.8v0.3M64.8 235.6v0.4M66.1 233.8v1.1M68.7 232.8v0.7M70.0 237.9v2.2M71.2 218.5v2.3M75.1 234.9v0.2M77.7 235.0v0.6M79.0 236.5v0.5M82.9 236.0v0.5M85.5 234.6v0.9M88.1 238.1v0.3M89.4 236.3v0.3M90.7 234.6v0.4M91.9 237.8v0.8M93.2 233.3v1.0M94.5 234.7v1.7M95.8 234.1v0.3M97.1 231.9v1.0M98.4 234.0v0.3M99.7 237.0v0.3M103.6 236.2v0.3M104.9 236.9v0.2M106.2 229.7v0.4M107.5 227.1v0.8M108.8 230.0v0.3M110.1 237.2v0.3M111.3 227.0v0.9M112.6 234.3v0.6M113.9 236.9v0.4M115.2 238.3v0.6M116.5 227.7v0.3M117.8 234.7v1.4M119.1 235.0v1.1M120.4 230.0v0.5M121.7 233.1v2.9M123.0 237.2v0.4M124.3 235.9v0.5M125.6 236.5v0.3M126.9 235.4v0.9M128.2 233.0v0.5M129.5 234.3v1.2M130.8 229.3v1.7M132.0 231.1v0.6M133.3 230.1v5.0M134.6 231.2v1.1M135.9 232.6v0.8M137.2 238.6v0.3M141.1 227.5v0.3M142.4 237.8v0.3M143.7 235.2v0.8M145.0 222.9v0.3M146.3 232.8v1.7M147.6 233.8v0.2M148.9 236.3v0.3M150.2 229.9v0.3M151.4 235.7v0.3M152.7 233.5v0.5M154.0 234.7v0.4M155.3 235.6v0.4M156.6 229.4v0.6M157.9 233.5v0.3M160.5 237.3v0.3M161.8 234.5v1.0M163.1 235.9v0.2M164.4 237.6v0.4M165.7 235.7v0.3M167.0 236.9v0.6M168.3 230.3v0.3M169.6 232.6v0.4M170.8 239.1v0.4M173.4 238.2v0.3M174.7 236.2v0.6M176.0 237.3v0.3M177.3 237.6v0.9M178.6 235.2v0.5M179.9 239.3v0.3M181.2 231.7v0.4M182.5 234.7v1.2M183.8 236.9v0.2M185.1 237.3v0.4M186.4 238.2v0.7M187.7 234.2v1.6M189.0 235.3v0.7M190.3 235.4v0.8M200.6 239.1v0.3M201.9 236.9v0.4M204.5 235.3v0.2M205.8 235.5v1.3M207.1 234.7v0.8M208.4 238.3v0.5M209.7 236.5v0.3M210.9 232.1v0.4M212.2 236.4v1.3M214.8 236.8v0.4M216.1 235.4v0.5M220.0 234.3v0.6M221.3 234.8v3.7M222.6 221.9v1.3M223.9 232.0v0.5M225.2 230.3v2.7M226.5 236.2v0.5M227.8 238.4v0.5M229.1 234.6v0.4M231.6 237.9v0.8M232.9 237.3v0.5M234.2 238.2v0.7M235.5 238.0v0.3M236.8 236.3v0.4M238.1 228.0v2.5M239.4 231.2v3.0M240.7 234.9v1.8M242.0 233.2v1.1M243.3 234.8v1.2M244.6 237.1v0.4M245.9 237.7v0.8M247.2 236.4v0.7M248.5 232.2v2.1M249.8 238.9v0.2M252.3 238.0v0.4M253.6 237.2v0.4M254.9 237.2v0.6M256.2 235.5v1.5M258.8 237.1v1.0M260.1 231.4v0.6M261.4 231.3v0.3M262.7 236.7v0.3M264.0 235.9v0.3M267.9 238.4v0.3M269.2 237.0v0.5M271.7 232.8v0.7M273.0 235.4v0.3M274.3 233.5v0.3M275.6 237.4v0.5M279.5 237.1v0.2M280.8 234.2v0.8M282.1 235.6v0.9M283.4 236.0v0.4M284.7 237.6v1.6M286.0 233.0v2.7M291.1 237.0v0.3M292.4 235.1v0.7M293.7 235.1v0.6M295.0 236.9v0.4M296.3 235.5v0.6M297.6 235.0v1.6M298.9 236.7v0.2M300.2 238.2v0.4M301.5 237.0v0.3M302.8 236.8v0.6M304.1 234.0v0.3M305.4 236.6v0.2M306.7 237.3v0.7M308.0 224.7v0.8M309.3 234.7v0.4M310.6 232.6v0.8M311.8 231.6v0.3M313.1 236.3v0.5M314.4 228.6v2.0M315.7 235.7v0.3M317.0 234.1v0.4M318.3 233.8v0.5M322.2 236.7v0.4M323.5 235.3v0.6M326.1 233.7v0.3M327.4 223.9v0.2M328.7 235.9v0.3M332.5 234.5v0.3M333.8 233.7v0.9M335.1 236.1v1.8M336.4 232.0v0.6M339.0 228.9v0.3M340.3 239.9v0.2M342.9 235.3v0.4M344.2 218.5v0.8M345.5 235.1v0.2M346.8 233.8v0.2M349.4 237.2v0.7M353.2 234.2v0.3M355.8 235.4v0.5M357.1 238.8v0.8M358.4 238.9v0.5M359.7 234.5v0.2M361.0 238.1v0.8M362.3 232.6v1.7M363.6 237.5v0.2M366.2 236.3v0.4M367.5 238.1v1.4M368.8 233.9v0.6M370.1 235.5v0.3M371.3 232.0v0.5M372.6 231.2v1.0M373.9 235.0v0.6M375.2 231.6v0.5M377.8 228.2v0.6M379.1 232.8v0.4M381.7 238.4v0.3M383.0 236.5v1.1M384.3 234.6v3.3M385.6 237.0v0.3M386.9 235.4v0.2M388.2 235.7v0.2M389.5 218.0v1.0M390.8 236.3v0.4M392.0 232.7v0.3M393.3 235.3v0.3M394.6 233.8v3.2M395.9 224.0v0.5M397.2 237.9v0.3M398.5 228.5v1.8M399.8 230.8v0.4M402.4 238.0v0.3M403.7 235.7v0.6M405.0 235.6v0.5M406.3 235.0v1.3M407.6 231.9v3.5M408.9 232.2v1.3M410.2 230.7v0.3M411.4 222.9v0.3M412.7 236.9v0.9M415.3 237.9v0.3M416.6 233.2v1.7M417.9 237.2v0.4M419.2 233.6v0.2M420.5 235.7v2.5M421.8 235.1v0.6M423.1 237.1v0.2M424.4 233.6v0.4M425.7 234.6v1.0M427.0 233.2v0.9M428.3 237.2v1.0M429.6 233.6v1.0" stroke="#45d528" stroke-width="1.49" fill="none" shape-rendering="auto"/>
<path d="M31.1 236.4v1.9M32.4 226.0v4.6M33.7 229.9v2.0M35.0 238.1v2.2M36.3 239.0v0.6M37.6 230.1v2.8M38.9 231.1v2.6M40.2 234.5v3.6M41.5 235.7v2.7M42.8 232.8v2.4M44.1 236.2v3.3M45.4 235.8v2.1M46.7 234.3v1.9M48.0 234.8v3.4M49.3 233.4v2.7M50.5 230.6v2.7M51.8 232.7v2.4M53.1 237.7v1.7M54.4 235.5v3.3M55.7 224.5v1.1M57.0 233.6v1.6M58.3 233.5v4.9M59.6 237.6v1.6M60.9 236.4v2.1M62.2 231.7v3.8M63.5 237.0v0.8M64.8 235.9v1.6M66.1 234.8v4.8M67.4 236.5v2.2M68.7 233.4v4.1M70.0 240.1v0.9M71.2 220.8v2.0M72.5 236.4v2.4M73.8 237.1v2.2M75.1 235.0v2.4M76.4 232.3v2.7M77.7 235.5v2.3M79.0 237.0v1.8M80.3 231.2v7.2M81.6 234.7v2.8M82.9 236.4v2.0M84.2 237.1v1.8M85.5 235.4v2.6M86.8 238.8v0.7M88.1 238.4v2.0M89.4 236.6v1.2M90.7 235.0v1.8M91.9 238.6v1.3M93.2 234.2v3.0M94.5 236.4v2.7M95.8 234.4v1.5M97.1 232.9v2.2M98.4 234.2v3.3M99.7 237.2v1.4M101.0 228.8v2.8M102.3 215.6v1.6M103.6 236.5v2.2M104.9 237.1v1.6M106.2 230.0v4.7M107.5 227.9v5.9M108.8 230.3v5.7M110.1 237.5v1.3M111.3 227.8v3.6M112.6 234.8v4.2M113.9 237.3v3.1M115.2 238.8v1.7M116.5 227.9v1.2M117.8 236.1v2.4M119.1 236.0v2.3M120.4 230.5v0.8M121.7 235.9v3.8M123.0 237.6v3.1M124.3 236.4v3.5M125.6 236.7v3.2M126.9 236.2v2.6M128.2 233.4v3.4M129.5 235.5v2.2M130.8 230.9v1.5M132.0 231.7v2.0M133.3 235.0v2.5M134.6 232.3v3.1M135.9 233.3v2.3M137.2 238.9v0.5M138.5 239.5v0.6M139.8 238.9v1.5M141.1 227.8v3.8M142.4 238.0v1.6M143.7 236.0v3.6M145.0 223.1v13.3M146.3 234.5v3.4M147.6 234.0v3.7M148.9 236.6v3.5M150.2 230.1v1.5M151.4 236.0v1.3M152.7 233.9v5.0M154.0 235.1v4.7M155.3 236.0v2.9M156.6 230.0v7.5M157.9 233.8v1.6M159.2 239.0v1.4M160.5 237.5v2.3M161.8 235.4v5.0M163.1 236.1v4.0M164.4 237.9v1.9M165.7 235.9v3.3M167.0 237.4v2.3M168.3 230.6v1.5M169.6 232.9v1.7M170.8 239.4v0.9M172.1 238.8v1.8M173.4 238.4v1.3M174.7 236.8v1.8M176.0 237.5v2.1M177.3 238.4v1.7M178.6 235.6v1.8M179.9 239.6v1.6M181.2 232.1v8.6M182.5 235.9v2.1M183.8 237.1v2.0M185.1 237.6v2.0M186.4 238.9v1.2M187.7 235.8v3.3M189.0 236.0v1.3M190.3 236.1v1.7M191.5 237.0v3.8M192.8 236.1v3.1M194.1 236.0v1.4M195.4 238.3v1.6M196.7 236.5v3.0M198.0 234.4v6.5M199.3 237.1v3.7M200.6 239.4v1.4M201.9 237.3v1.5M203.2 238.4v1.9M204.5 235.5v4.5M205.8 236.7v2.7M207.1 235.4v4.1M208.4 238.7v1.8M209.7 236.8v2.1M210.9 232.4v3.1M212.2 237.6v2.4M213.5 229.7v4.6M214.8 237.2v2.6M216.1 235.9v1.8M217.4 237.2v2.3M218.7 238.5v1.9M220.0 234.9v3.1M221.3 238.5v0.8M222.6 223.1v1.5M223.9 232.4v5.4M225.2 232.9v6.1M226.5 236.7v2.8M227.8 238.8v1.8M229.1 234.9v1.1M230.4 237.7v2.7M231.6 238.7v1.3M232.9 237.7v1.5M234.2 238.9v1.9M235.5 238.3v1.9M236.8 236.6v4.4M238.1 230.4v6.8M239.4 234.1v4.0M240.7 236.6v1.4M242.0 234.2v1.7M243.3 236.0v2.9M244.6 237.4v1.1M245.9 238.5v1.4M247.2 237.1v1.4M248.5 234.2v0.8M249.8 239.1v2.0M251.0 237.9v1.6M252.3 238.3v2.2M253.6 237.5v2.9M254.9 237.7v1.8M256.2 236.9v1.8M257.5 237.5v3.2M258.8 238.0v1.1M260.1 231.9v2.9M261.4 231.5v4.5M262.7 237.0v3.8M264.0 236.2v2.1M265.3 237.8v3.0M266.6 239.7v1.1M267.9 238.7v2.0M269.2 237.4v1.3M270.5 232.6v2.7M271.7 233.5v3.0M273.0 235.6v2.6M274.3 233.8v2.7M275.6 237.8v2.1M276.9 238.7v0.8M278.2 236.2v3.2M279.5 237.3v2.1M280.8 234.9v3.9M282.1 236.4v2.4M283.4 236.3v2.8M284.7 239.2v1.6M286.0 235.7v4.1M287.3 239.8v1.5M288.6 236.0v1.9M289.9 236.7v3.2M291.1 237.2v2.4M292.4 235.7v3.7M293.7 235.7v2.1M295.0 237.3v1.9M296.3 236.1v2.6M297.6 236.6v2.4M298.9 236.9v2.5M300.2 238.5v1.2M301.5 237.3v2.7M302.8 237.4v3.2M304.1 234.2v5.5M305.4 236.7v2.4M306.7 237.9v2.1M308.0 225.5v2.4M309.3 235.0v1.4M310.6 233.3v4.7M311.8 231.9v4.3M313.1 236.7v2.4M314.4 230.6v1.6M315.7 236.0v2.7M317.0 234.4v2.4M318.3 234.2v1.0M319.6 228.5v1.4M320.9 239.7v1.1M322.2 237.1v1.6M323.5 235.9v1.6M324.8 235.4v2.4M326.1 234.0v1.3M327.4 224.1v1.0M328.7 236.2v1.1M330.0 236.7v2.2M331.2 234.7v1.6M332.5 234.8v1.9M333.8 234.5v1.9M335.1 237.9v2.7M336.4 232.6v1.2M337.7 235.6v2.7M339.0 229.1v1.9M340.3 240.1v0.8M341.6 233.8v2.8M342.9 235.7v2.2M344.2 219.2v0.8M345.5 235.3v3.1M346.8 233.9v4.8M348.1 237.7v1.4M349.4 237.9v1.8M350.7 224.9v2.9M351.9 225.4v2.4M353.2 234.5v2.2M354.5 234.6v4.7M355.8 235.9v3.4M357.1 239.5v1.3M358.4 239.4v1.5M359.7 234.6v3.3M361.0 238.9v2.0M362.3 234.3v2.7M363.6 237.7v2.1M364.9 238.5v2.2M366.2 236.6v2.9M367.5 239.4v1.0M368.8 234.4v2.2M370.1 235.7v2.7M371.3 232.5v3.0M372.6 232.1v1.9M373.9 235.5v3.5M375.2 232.1v1.1M376.5 238.0v1.4M377.8 228.7v2.7M379.1 233.1v7.3M380.4 238.5v1.3M381.7 238.6v0.9M383.0 237.5v1.5M384.3 237.9v1.7M385.6 237.2v1.7M386.9 235.6v1.2M388.2 235.9v3.0M389.5 219.0v1.0M390.8 236.7v1.8M392.0 232.9v5.1M393.3 235.5v3.0M394.6 237.0v2.6M395.9 224.4v1.1M397.2 238.2v2.1M398.5 230.2v8.4M399.8 231.1v6.0M401.1 238.6v1.3M402.4 238.2v1.6M403.7 236.2v3.1M405.0 236.0v2.5M406.3 236.3v3.0M407.6 235.4v4.4M408.9 233.4v2.2M410.2 230.9v4.5M411.4 223.2v1.9M412.7 237.8v2.4M414.0 236.2v1.9M415.3 238.2v1.6M416.6 234.8v1.6M417.9 237.5v1.1M419.2 233.7v4.3M420.5 238.1v0.8M421.8 235.7v1.2M423.1 237.3v1.2M424.4 233.9v3.1M425.7 235.5v2.8M427.0 234.1v1.1M428.3 238.2v0.9M429.6 234.5v2.0M430.9 232.1v4.0" stroke="#b1eaf2" stroke-width="1.49" fill="none" shape-rendering="auto"/>
<path d="M31.1 238.3v2.9M32.4 230.6v9.2M33.7 231.9v9.0M35.0 240.3v1.7M36.3 239.5v2.4M37.6 232.9v8.7M38.9 233.7v5.7M40.2 238.0v3.3M41.5 238.4v3.1M42.8 235.1v4.8M44.1 239.4v1.8M45.4 237.9v3.7M46.7 236.2v5.9M48.0 238.1v3.1M49.3 236.0v6.1M50.5 233.3v8.1M51.8 235.0v6.9M53.1 239.4v2.5M54.4 238.7v3.3M55.7 225.5v16.0M57.0 235.2v6.3M58.3 238.3v2.5M59.6 239.2v2.2M60.9 238.5v3.0M62.2 235.4v5.4M63.5 237.8v3.8M64.8 237.4v4.5M66.1 239.6v2.2M67.4 238.6v3.3M68.7 237.5v3.9M70.0 241.0v1.1M71.2 222.7v18.8M72.5 238.7v1.9M73.8 239.3v2.6M75.1 237.4v3.7M76.4 235.0v5.6M77.7 237.8v3.3M79.0 238.7v3.4M80.3 238.4v3.0M81.6 237.4v4.0M82.9 238.3v2.8M84.2 238.8v2.8M85.5 238.0v3.6M86.8 239.5v2.5M88.1 240.3v1.1M89.4 237.7v4.1M90.7 236.8v4.8M91.9 239.9v1.7M93.2 237.1v4.7M94.5 239.1v2.2M95.8 235.8v5.9M97.1 235.0v7.0M98.4 237.5v4.5M99.7 238.5v3.2M101.0 231.6v10.3M102.3 217.1v25.0M103.6 238.6v2.8M104.9 238.7v2.9M106.2 234.6v6.6M107.5 233.7v7.5M108.8 235.9v5.1M110.1 238.7v2.4M111.3 231.4v9.5M112.6 239.0v2.5M113.9 240.4v1.6M115.2 240.4v0.9M116.5 229.1v12.7M117.8 238.5v2.7M119.1 238.3v1.3M120.4 231.2v10.6M121.7 239.7v1.9M123.0 240.6v1.2M124.3 239.9v1.6M125.6 239.9v1.8M126.9 238.8v2.8M128.2 236.8v5.3M129.5 237.7v4.1M130.8 232.4v8.5M132.0 233.6v7.1M133.3 237.5v4.1M134.6 235.4v5.8M135.9 235.6v6.0M137.2 239.3v2.1M138.5 240.0v1.6M139.8 240.4v1.7M141.1 231.5v10.0M142.4 239.6v2.1M143.7 239.6v1.7M145.0 236.4v3.5M146.3 237.8v3.9M147.6 237.6v4.0M148.9 240.0v2.0M150.2 231.6v10.4M151.4 237.3v4.3M152.7 238.8v2.5M154.0 239.8v1.5M155.3 238.8v2.0M156.6 237.4v2.2M157.9 235.3v6.0M159.2 240.4v1.2M160.5 239.8v1.9M161.8 240.4v1.3M163.1 240.0v1.5M164.4 239.8v1.4M165.7 239.1v2.6M167.0 239.7v2.1M168.3 232.1v9.7M169.6 234.6v6.0M170.8 240.3v1.2M172.1 240.6v1.0M173.4 239.6v2.0M174.7 238.6v2.3M176.0 239.5v1.4M177.3 240.1v1.2M178.6 237.4v2.7M179.9 241.2v0.9M181.2 240.6v1.5M182.5 238.0v3.3M183.8 239.0v2.2M185.1 239.6v1.6M186.4 240.0v1.6M187.7 239.1v1.9M189.0 237.3v3.9M190.3 237.8v3.2M191.5 240.7v0.9M192.8 239.1v1.7M194.1 237.4v4.4M195.4 239.8v1.9M196.7 239.4v2.0M198.0 240.9v0.8M199.3 240.7v1.1M200.6 240.8v0.8M201.9 238.7v2.4M203.2 240.3v0.9M204.5 240.0v0.9M205.8 239.4v1.9M207.1 239.4v1.4M208.4 240.5v1.3M209.7 238.8v2.0M210.9 235.5v6.4M212.2 240.0v1.3M213.5 234.2v7.5M214.8 239.7v1.8M216.1 237.7v3.3M217.4 239.4v1.7M218.7 240.4v1.1M220.0 238.0v3.7M221.3 239.2v2.4M222.6 224.6v16.7M223.9 237.7v2.8M225.2 238.9v2.9M226.5 239.4v1.8M227.8 240.5v1.1M229.1 236.0v6.1M230.4 240.3v1.7M231.6 239.9v1.7M232.9 239.2v1.8M234.2 240.7v0.9M235.5 240.1v1.3M236.8 240.9v0.9M238.1 237.2v2.0M239.4 238.1v2.4M240.7 238.0v3.5M242.0 235.8v5.0M243.3 238.8v2.1M244.6 238.5v2.3M245.9 239.8v1.4M247.2 238.4v2.1M248.5 235.0v4.8M249.8 241.0v1.0M251.0 239.5v2.1M252.3 240.4v1.5M253.6 240.4v1.4M254.9 239.5v2.0M256.2 238.7v2.3M257.5 240.7v1.0M258.8 239.1v0.7M260.1 234.8v6.4M261.4 236.0v4.1M262.7 240.7v1.0M264.0 238.2v1.7M265.3 240.7v0.9M266.6 240.8v0.7M267.9 240.6v1.2M269.2 238.7v2.5M270.5 235.2v6.1M271.7 236.4v5.1M273.0 238.2v3.6M274.3 236.5v4.2M275.6 239.9v1.6M276.9 239.4v2.2M278.2 239.4v1.3M279.5 239.4v2.2M280.8 238.7v2.6M282.1 238.7v2.9M283.4 239.0v1.2M284.7 240.7v1.2M286.0 239.7v1.4M287.3 241.2v0.6M288.6 237.8v2.4M289.9 239.9v1.7M291.1 239.5v1.9M292.4 239.4v1.9M293.7 237.7v3.6M295.0 239.2v2.2M296.3 238.6v3.1M297.6 238.9v1.9M298.9 239.3v2.8M300.2 239.6v0.9M301.5 239.9v1.4M302.8 240.5v1.5M304.1 239.7v1.5M305.4 239.1v1.9M306.7 240.0v1.9M308.0 227.8v14.0M309.3 236.4v5.2M310.6 238.0v3.6M311.8 236.1v5.1M313.1 239.0v2.5M314.4 232.1v9.2M315.7 238.6v3.2M317.0 236.8v5.1M318.3 235.1v5.5M319.6 229.9v11.8M320.9 240.7v1.2M322.2 238.6v2.6M323.5 237.4v4.1M324.8 237.7v3.5M326.1 235.2v6.7M327.4 225.0v15.9M328.7 237.2v4.2M330.0 238.8v3.0M331.2 236.2v5.1M332.5 236.6v3.8M333.8 236.4v4.8M335.1 240.5v1.1M336.4 233.8v8.0M337.7 238.3v2.0M339.0 231.0v9.5M340.3 240.8v1.2M341.6 236.6v4.7M342.9 237.8v3.8M344.2 220.0v21.8M345.5 238.3v3.0M346.8 238.7v2.9M348.1 239.0v2.8M349.4 239.6v1.9M350.7 227.7v13.6M351.9 227.7v13.9M353.2 236.7v4.9M354.5 239.3v2.6M355.8 239.3v2.1M357.1 240.8v1.0M358.4 240.8v0.9M359.7 237.9v3.7M361.0 240.9v1.1M362.3 236.9v4.6M363.6 239.7v2.2M364.9 240.7v1.2M366.2 239.5v2.1M367.5 240.4v1.7M368.8 236.5v4.6M370.1 238.3v3.2M371.3 235.4v6.0M372.6 233.9v7.3M373.9 239.0v2.8M375.2 233.2v8.6M376.5 239.4v2.7M377.8 231.4v10.5M379.1 240.4v1.3M380.4 239.8v1.8M381.7 239.5v2.4M383.0 239.0v2.1M384.3 239.6v1.7M385.6 238.9v3.0M386.9 236.7v4.9M388.2 238.8v3.0M389.5 220.0v21.3M390.8 238.4v2.9M392.0 238.0v3.5M393.3 238.5v2.9M394.6 239.6v2.0M395.9 225.5v16.4M397.2 240.3v1.4M398.5 238.6v3.3M399.8 237.0v4.6M401.1 239.9v2.0M402.4 239.8v1.5M403.7 239.3v1.7M405.0 238.5v2.5M406.3 239.2v2.1M407.6 239.7v1.8M408.9 235.6v5.3M410.2 235.4v6.4M411.4 225.0v15.9M412.7 240.2v1.7M414.0 238.1v3.8M415.3 239.7v2.0M416.6 236.4v5.7M417.9 238.6v3.1M419.2 237.9v3.7M420.5 238.9v2.7M421.8 236.9v4.7M423.1 238.4v2.5M424.4 237.0v3.8M425.7 238.3v2.9M427.0 235.1v6.4M428.3 239.0v2.5M429.6 236.5v4.1M430.9 236.1v4.2" stroke="#582cf2" stroke-width="1.49" fill="none" shape-rendering="auto"/>
<path d="M31.1 241.1v0.3M32.4 239.7v0.6M33.7 240.8v0.7M37.6 241.5v0.3M38.9 239.3v1.4M40.2 241.3v0.3M41.5 241.5v0.3M42.8 239.9v2.0M44.1 241.1v0.5M45.4 241.5v0.3M48.0 241.1v0.4M51.8 241.9v0.2M53.1 241.9v0.3M54.4 241.9v0.2M55.7 241.5v0.3M58.3 240.8v0.3M59.6 241.3v0.5M60.9 241.4v0.6M62.2 240.8v0.6M63.5 241.5v0.4M68.7 241.4v0.2M70.0 242.0v0.3M71.2 241.5v0.2M72.5 240.6v0.4M76.4 240.5v0.8M77.7 241.1v0.7M80.3 241.4v0.3M81.6 241.3v0.3M82.9 241.1v0.6M86.8 242.0v0.2M88.1 241.3v0.5M90.7 241.6v0.5M91.9 241.5v0.5M94.5 241.3v0.3M95.8 241.7v0.3M99.7 241.7v0.3M103.6 241.4v0.4M106.2 241.2v0.3M107.5 241.2v0.4M108.8 240.9v0.3M110.1 241.1v0.5M111.3 240.9v0.8M112.6 241.4v0.4M115.2 241.3v0.4M116.5 241.7v0.2M119.1 239.5v1.6M120.4 241.7v0.2M129.5 241.7v0.4M130.8 240.8v1.2M132.0 240.6v0.6M135.9 241.6v0.5M137.2 241.4v0.7M138.5 241.6v0.2M139.8 242.0v0.3M141.1 241.4v0.6M142.4 241.7v0.3M143.7 241.2v0.7M145.0 239.8v1.5M146.3 241.7v0.2M147.6 241.6v0.3M148.9 241.9v0.3M151.4 241.6v0.3M154.0 241.2v0.4M155.3 240.8v0.6M156.6 239.6v0.9M157.9 241.2v0.7M159.2 241.5v0.3M160.5 241.7v0.5M161.8 241.7v0.4M163.1 241.4v0.4M164.4 241.1v0.4M168.3 241.7v0.3M169.6 240.5v1.1M170.8 241.4v0.3M172.1 241.5v0.2M174.7 240.8v0.4M176.0 240.8v0.3M177.3 241.2v0.2M178.6 240.0v1.9M182.5 241.2v0.4M183.8 241.1v0.5M185.1 241.1v0.3M186.4 241.6v0.3M187.7 240.9v0.5M194.1 241.7v0.2M195.4 241.7v0.4M196.7 241.4v0.3M199.3 241.8v0.2M200.6 241.5v0.3M201.9 241.1v0.3M205.8 241.2v0.3M209.7 240.8v0.3M216.1 240.9v0.9M217.4 241.1v0.5M220.0 241.7v0.3M221.3 241.5v0.2M223.9 240.5v0.5M225.2 241.8v0.2M226.5 241.2v0.7M227.8 241.6v0.2M229.1 242.1v0.2M231.6 241.6v0.3M232.9 240.9v0.4M234.2 241.5v0.3M235.5 241.4v0.4M236.8 241.8v0.2M238.1 239.1v1.1M239.4 240.4v0.6M240.7 241.5v0.3M242.0 240.7v0.6M243.3 240.9v0.7M244.6 240.7v0.6M245.9 241.2v0.3M247.2 240.5v0.8M248.5 239.7v2.1M251.0 241.5v0.5M252.3 241.9v0.3M253.6 241.7v0.2M254.9 241.5v0.4M256.2 240.9v0.9M258.8 239.7v2.5M260.1 241.2v0.5M261.4 240.0v0.6M264.0 239.8v2.2M265.3 241.6v0.4M266.6 241.4v0.7M267.9 241.8v0.2M269.2 241.1v0.3M270.5 241.3v0.3M273.0 241.7v0.3M274.3 240.6v1.0M275.6 241.5v0.5M276.9 241.5v0.3M278.2 240.6v0.8M279.5 241.5v0.3M280.8 241.2v0.5M282.1 241.6v0.4M283.4 240.2v0.9M284.7 241.8v0.3M286.0 241.0v0.4M288.6 240.2v1.4M289.9 241.6v0.6M291.1 241.4v0.4M292.4 241.3v0.6M293.7 241.2v0.5M295.0 241.3v0.3M296.3 241.7v0.2M297.6 240.7v1.0M298.9 242.0v0.3M300.2 240.5v1.4M301.5 241.3v0.4M304.1 241.1v0.5M305.4 241.0v0.4M308.0 241.8v0.5M310.6 241.5v0.4M311.8 241.1v0.4M313.1 241.5v0.4M314.4 241.3v0.3M318.3 240.6v0.5M322.2 241.2v0.4M323.5 241.5v0.3M324.8 241.2v0.6M327.4 240.9v0.5M331.2 241.2v0.3M332.5 240.3v0.4M337.7 240.2v0.8M339.0 240.4v1.5M340.3 241.9v0.5M341.6 241.3v0.7M342.9 241.5v0.6M344.2 241.8v0.3M345.5 241.3v0.6M348.1 241.7v0.3M350.7 241.2v0.2M351.9 241.6v0.3M355.8 241.4v0.3M357.1 241.8v0.4M358.4 241.6v0.2M359.7 241.5v0.3M361.0 241.9v0.3M364.9 241.9v0.4M366.2 241.5v0.3M367.5 242.0v0.3M368.8 241.0v0.7M372.6 241.2v0.7M381.7 241.8v0.3M383.0 241.0v0.6M384.3 241.3v0.6M386.9 241.6v0.3M388.2 241.8v0.2M392.0 241.4v0.2M394.6 241.5v0.5M398.5 241.8v0.2M399.8 241.6v0.3M401.1 241.8v0.2M402.4 241.3v0.4M403.7 241.0v0.7M405.0 240.9v0.7M406.3 241.2v0.3M407.6 241.5v0.2M408.9 240.8v0.8M410.2 241.7v0.4M411.4 240.8v1.1M412.7 241.9v0.3M414.0 241.8v0.4M415.3 241.7v0.7M417.9 241.7v0.2M419.2 241.5v0.2M420.5 241.5v0.3M421.8 241.5v0.3M423.1 240.9v1.0M424.4 240.8v0.6M425.7 241.2v0.7M428.3 241.4v0.3M429.6 240.5v0.6M430.9 240.2v0.5" stroke="#b1f274" stroke-width="1.49" fill="none" shape-rendering="auto"/>
<path d="M31.1 241.4v0.4M32.4 240.3v0.6M38.9 240.7v0.4M44.1 241.6v0.4M57.0 241.5v0.3M58.3 241.0v0.3M66.1 241.9v0.2M72.5 241.0v0.2M75.1 241.2v0.7M76.4 241.3v0.2M80.3 241.6v0.3M81.6 241.6v0.3M82.9 241.6v0.3M84.2 241.7v0.3M103.6 241.8v0.2M104.9 241.5v0.3M106.2 241.5v0.3M107.5 241.5v0.3M111.3 241.6v0.2M116.5 241.8v0.4M117.8 241.2v0.4M119.1 241.1v0.5M126.9 241.6v0.3M130.8 241.9v0.3M137.2 242.0v0.2M145.0 241.3v0.3M146.3 241.8v0.2M148.9 242.2v0.2M152.7 241.4v0.4M156.6 240.4v1.2M168.3 241.9v0.3M170.8 241.6v0.2M172.1 241.7v0.2M174.7 241.1v0.6M187.7 241.4v0.4M189.0 241.1v0.5M190.3 240.9v0.7M191.5 241.7v0.2M192.8 240.8v0.6M198.0 241.8v0.3M201.9 241.3v0.4M214.8 241.6v0.3M216.1 241.8v0.2M217.4 241.5v0.3M218.7 241.5v0.2M226.5 241.8v0.3M230.4 242.1v0.2M231.6 241.8v0.3M235.5 241.7v0.3M236.8 241.9v0.2M238.1 240.2v0.2M239.4 240.9v0.3M242.0 241.3v0.7M243.3 241.5v0.4M245.9 241.4v0.7M247.2 241.3v0.5M261.4 240.6v0.3M269.2 241.4v0.2M278.2 241.4v0.3M286.0 241.4v0.2M287.3 241.9v0.2M301.5 241.6v0.3M305.4 241.3v0.5M309.3 241.6v0.2M311.8 241.4v0.2M314.4 241.5v0.5M318.3 241.0v0.8M319.6 241.7v0.6M320.9 241.9v0.3M322.2 241.5v0.3M333.8 241.3v0.3M335.1 241.7v0.2M337.7 240.9v0.5M358.4 241.8v0.4M366.2 241.7v0.4M373.9 241.9v0.2M389.5 241.4v0.5M402.4 241.6v0.2M403.7 241.7v0.2M406.3 241.5v0.2M408.9 241.6v0.3M410.2 242.0v0.2M421.8 241.7v0.3M423.1 241.8v0.4M425.7 241.8v0.2M430.9 240.6v0.8" stroke="#ffffaa" stroke-width="1.49" fill="none" shape-rendering="auto"/>
<path d="M31.1 241.7v1.0M32.4 240.9v1.7M33.7 241.5v1.2M35.0 242.0v0.6M36.3 242.0v0.6M37.6 241.9v0.8M38.9 241.0v1.6M40.2 241.6v1.1M41.5 241.7v0.9M42.8 242.0v0.7M44.1 241.9v0.8M45.4 241.8v0.8M46.7 242.2v0.5M48.0 241.6v1.1M49.3 242.2v0.4M50.5 241.5v1.2M51.8 242.1v0.6M53.1 242.1v0.5M54.4 242.1v0.5M55.7 241.8v0.9M57.0 241.8v0.9M58.3 241.3v1.4M59.6 241.8v0.9M60.9 242.0v0.6M62.2 241.5v1.2M63.5 242.0v0.7M64.8 241.9v0.7M66.1 242.1v0.6M67.4 241.9v0.8M68.7 241.6v1.1M70.0 242.3v0.3M71.2 241.8v0.9M72.5 241.1v1.5M73.8 242.0v0.6M75.1 241.8v0.8M76.4 241.5v1.2M77.7 241.9v0.8M79.0 242.1v0.5M80.3 241.9v0.8M81.6 241.8v0.8M82.9 241.8v0.8M84.2 241.9v0.7M85.5 241.6v1.0M86.8 242.2v0.5M88.1 241.8v0.8M89.4 242.0v0.7M90.7 242.1v0.5M91.9 242.0v0.6M93.2 242.0v0.7M94.5 241.6v1.0M95.8 242.0v0.6M97.1 242.1v0.5M98.4 242.1v0.6M99.7 242.0v0.7M101.0 241.9v0.7M102.3 242.2v0.5M103.6 241.9v0.7M104.9 241.8v0.9M106.2 241.7v0.9M107.5 241.7v0.9M108.8 241.2v1.4M110.1 241.5v1.1M111.3 241.8v0.8M112.6 241.8v0.9M113.9 242.1v0.5M115.2 241.6v1.0M116.5 242.2v0.4M117.8 241.5v1.1M119.1 241.5v1.1M120.4 242.0v0.6M121.7 241.7v0.9M123.0 242.0v0.7M124.3 241.7v1.0M125.6 241.7v0.9M126.9 241.9v0.8M128.2 242.1v0.5M129.5 242.1v0.5M130.8 242.1v0.5M132.0 241.3v1.4M133.3 241.7v1.0M134.6 241.2v1.4M135.9 242.1v0.6M137.2 242.1v0.5M138.5 241.9v0.7M139.8 242.3v0.3M141.1 242.0v0.7M142.4 242.0v0.7M143.7 241.9v0.7M145.0 241.6v1.1M146.3 242.0v0.6M147.6 241.9v0.7M148.9 242.4v0.3M150.2 242.1v0.5M151.4 241.9v0.7M152.7 241.7v0.9M154.0 241.7v1.0M155.3 241.5v1.2M156.6 241.6v1.0M157.9 241.9v0.8M159.2 242.0v0.7M160.5 242.2v0.5M161.8 242.0v0.6M163.1 241.8v0.8M164.4 241.6v1.1M165.7 241.8v0.8M167.0 241.9v0.7M168.3 242.1v0.5M169.6 241.7v1.0M170.8 241.8v0.8M172.1 241.9v0.8M173.4 241.7v0.9M174.7 241.6v1.1M176.0 241.2v1.4M177.3 241.5v1.2M178.6 241.9v0.8M179.9 242.1v0.5M181.2 242.2v0.4M182.5 241.7v0.9M183.8 241.6v1.1M185.1 241.4v1.3M186.4 241.9v0.8M187.7 241.8v0.9M189.0 241.6v1.1M190.3 241.6v1.1M191.5 241.8v0.8M192.8 241.4v1.2M194.1 241.9v0.7M195.4 242.2v0.5M196.7 241.8v0.8M198.0 242.0v0.6M199.3 242.0v0.7M200.6 241.8v0.9M201.9 241.6v1.0M203.2 241.3v1.4M204.5 241.0v1.7M205.8 241.5v1.2M207.1 240.9v1.8M208.4 241.8v0.8M209.7 241.1v1.5M210.9 241.9v0.7M212.2 241.4v1.3M213.5 241.9v0.7M214.8 241.8v0.8M216.1 242.0v0.7M217.4 241.8v0.9M218.7 241.6v1.0M220.0 241.9v0.7M221.3 241.8v0.9M222.6 241.3v1.3M223.9 241.0v1.7M225.2 242.0v0.7M226.5 242.0v0.6M227.8 241.8v0.8M229.1 242.3v0.4M230.4 242.3v0.3M231.6 242.0v0.6M232.9 241.4v1.2M234.2 241.8v0.8M235.5 242.0v0.6M236.8 242.1v0.5M238.1 240.3v2.3M239.4 241.2v1.5M240.7 241.8v0.8M242.0 241.9v0.7M243.3 241.8v0.8M244.6 241.4v1.3M245.9 242.1v0.5M247.2 241.7v0.9M248.5 241.9v0.8M249.8 242.1v0.5M251.0 242.0v0.6M252.3 242.3v0.4M253.6 242.0v0.7M254.9 241.9v0.8M256.2 241.8v0.8M257.5 241.7v0.9M258.8 242.2v0.4M260.1 241.7v0.9M261.4 240.8v1.8M262.7 241.8v0.9M264.0 242.0v0.7M265.3 242.0v0.7M266.6 242.1v0.5M267.9 242.0v0.6M269.2 241.6v1.1M270.5 241.7v0.9M271.7 241.7v1.0M273.0 242.0v0.6M274.3 241.6v1.1M275.6 241.9v0.8M276.9 241.9v0.8M278.2 241.6v1.0M279.5 241.8v0.8M280.8 241.7v1.0M282.1 241.9v0.7M283.4 241.1v1.5M284.7 242.2v0.5M286.0 241.5v1.1M287.3 242.1v0.5M288.6 241.7v1.0M289.9 242.2v0.4M291.1 241.7v0.9M292.4 241.9v0.8M293.7 241.8v0.9M295.0 241.6v1.1M296.3 241.9v0.7M297.6 241.8v0.9M298.9 242.3v0.4M300.2 242.0v0.7M301.5 241.9v0.8M302.8 242.0v0.6M304.1 241.5v1.1M305.4 241.7v0.9M306.7 242.0v0.7M308.0 242.3v0.4M309.3 241.8v0.8M310.6 242.0v0.6M311.8 241.6v1.0M313.1 242.0v0.6M314.4 241.9v0.7M315.7 241.9v0.7M317.0 242.0v0.6M318.3 241.8v0.9M319.6 242.2v0.5M320.9 242.2v0.5M322.2 241.7v0.9M323.5 241.8v0.9M324.8 241.8v0.8M326.1 242.0v0.6M327.4 241.4v1.2M328.7 241.6v1.0M330.0 241.8v0.9M331.2 241.5v1.2M332.5 240.7v1.9M333.8 241.5v1.2M335.1 241.9v0.8M336.4 241.9v0.7M337.7 241.4v1.3M339.0 242.0v0.7M340.3 242.4v0.3M341.6 242.1v0.6M342.9 242.1v0.5M344.2 242.1v0.6M345.5 241.9v0.7M346.8 241.8v0.9M348.1 242.0v0.6M349.4 241.7v1.0M350.7 241.5v1.2M351.9 241.9v0.7M353.2 241.6v1.0M354.5 242.0v0.7M355.8 241.6v1.0M357.1 242.2v0.5M358.4 242.2v0.5M359.7 241.9v0.8M361.0 242.1v0.5M362.3 241.7v1.0M363.6 242.0v0.7M364.9 242.3v0.4M366.2 242.1v0.6M367.5 242.2v0.4M368.8 241.7v0.9M370.1 241.6v1.0M371.3 241.5v1.2M372.6 241.8v0.8M373.9 242.1v0.6M375.2 241.9v0.8M376.5 242.2v0.5M377.8 242.0v0.6M379.1 241.8v0.8M380.4 241.7v1.0M381.7 242.1v0.5M383.0 241.7v0.9M384.3 241.9v0.8M385.6 242.0v0.7M386.9 241.9v0.7M388.2 242.0v0.6M389.5 241.9v0.8M390.8 241.4v1.3M392.0 241.7v1.0M393.3 241.5v1.1M394.6 242.0v0.7M395.9 242.0v0.6M397.2 241.9v0.7M398.5 242.2v0.5M399.8 241.9v0.7M401.1 242.1v0.6M402.4 241.8v0.9M403.7 241.9v0.8M405.0 241.7v1.0M406.3 241.6v1.0M407.6 241.8v0.9M408.9 241.8v0.8M410.2 242.2v0.5M411.4 241.9v0.7M412.7 242.1v0.5M414.0 242.2v0.5M415.3 242.3v0.3M416.6 242.2v0.5M417.9 241.9v0.8M419.2 241.8v0.9M420.5 241.8v0.8M421.8 242.0v0.7M423.1 242.1v0.5M424.4 241.4v1.2M425.7 242.0v0.7M427.0 241.7v1.0M428.3 241.7v1.0M429.6 241.2v1.4M430.9 241.4v1.2" stroke="#90d5f2" stroke-width="1.49" fill="none" shape-rendering="auto"/>
</g>
<path d="M31.1 183.8v-1.8M32.4 183.8v-16.9M33.7 183.8v-1.3M35.0 183.8v-2.9M36.3 183.8v-1.4M37.6 183.8v-1.6M38.9 183.8v-2.3M40.2 183.8v-4.4M41.5 183.8v-6.1M42.8 183.8v-6.2M44.1 183.8v-2.7M45.4 183.8v-2.9M46.7 183.8v-1.4M48.0 183.8v-1.9M49.3 183.8v-1.7M50.5 183.8v-5.3M51.8 183.8v-7.3M53.1 183.8v-4.9M54.4 183.8v-12.6M55.7 183.8v-12.6M57.0 183.8v-6.4M58.3 183.8v-5.8M59.6 183.8v-9.2M60.9 183.8v-11.6M62.2 183.8v-2.3M63.5 183.8v-8.7M64.8 183.8v-8.7M66.1 183.8v-3.7M67.4 183.8v-1.0M68.7 183.8v-10.6M70.0 183.8v-1.1M71.2 183.8v-6.4M72.5 183.8v-5.7M73.8 183.8v-16.9M75.1 183.8v-1.8M76.4 183.8v-10.6M77.7 183.8v-10.6M79.0 183.8v-7.7M80.3 183.8v-2.1M81.6 183.8v-1.4M82.9 183.8v-11.6M84.2 183.8v-2.3M85.5 183.8v-9.8M86.8 183.8v-13.0M88.1 183.8v-2.0M89.4 183.8v-5.3M90.7 183.8v-5.3M91.9 183.8v-15.5M93.2 183.8v-5.8M94.5 183.8v-5.2M95.8 183.8v-2.3M97.1 183.8v-7.3M98.4 183.8v-6.7M99.7 183.8v-5.3M101.0 183.8v-1.2M102.3 183.8v-1.3M103.6 183.8v-13.0M104.9 183.8v-6.6M106.2 183.8v-0.8M107.5 183.8v-5.5M108.8 183.8v-5.8M110.1 183.8v-7.7M111.3 183.8v-6.2M112.6 183.8v-2.1M113.9 183.8v-10.1M115.2 183.8v-7.8M116.5 183.8v-11.6M117.8 183.8v-11.6M119.1 183.8v-4.4M120.4 183.8v-1.5M121.7 183.8v-11.1M123.0 183.8v-6.3M124.3 183.8v-6.3M125.6 183.8v-1.7M126.9 183.8v-10.6M128.2 183.8v-10.6M129.5 183.8v-6.3M130.8 183.8v-6.8M132.0 183.8v-0.8M133.3 183.8v-6.4M134.6 183.8v-2.8M135.9 183.8v-3.9M137.2 183.8v-4.9M138.5 183.8v-1.9M139.8 183.8v-1.3M141.1 183.8v-4.4M142.4 183.8v-4.4M143.7 183.8v-2.2M145.0 183.8v-6.8M146.3 183.8v-4.3M147.6 183.8v-2.2M148.9 183.8v-10.6M150.2 183.8v-1.8M151.4 183.8v-5.0M152.7 183.8v-1.0M154.0 183.8v-2.1M155.3 183.8v-8.7M156.6 183.8v-5.8M157.9 183.8v-4.4M159.2 183.8v-1.3M160.5 183.8v-15.0M161.8 183.8v-5.3M163.1 183.8v-1.2M164.4 183.8v-13.5M165.7 183.8v-1.1M167.0 183.8v-5.7M168.3 183.8v-10.6M169.6 183.8v-5.7M170.8 183.8v-1.2M172.1 183.8v-1.0M173.4 183.8v-1.7M174.7 183.8v-13.5M176.0 183.8v-2.0M177.3 183.8v-1.2M178.6 183.8v-2.0M179.9 183.8v-11.6M181.2 183.8v-0.9M182.5 183.8v-2.0M183.8 183.8v-11.1M185.1 183.8v-1.1M186.4 183.8v-6.3M187.7 183.8v-1.5M189.0 183.8v-6.0M190.3 183.8v-5.5M191.5 183.8v-6.8M192.8 183.8v-1.4M194.1 183.8v-6.8M195.4 183.8v-1.7M196.7 183.8v-2.1M198.0 183.8v-2.3M199.3 183.8v-2.5M200.6 183.8v-1.3M201.9 183.8v-5.6M203.2 183.8v-1.1M204.5 183.8v-8.2M205.8 183.8v-6.3M207.1 183.8v-14.5M208.4 183.8v-1.1M209.7 183.8v-6.8M210.9 183.8v-6.8M212.2 183.8v-13.0M213.5 183.8v-7.3M214.8 183.8v-1.6M216.1 183.8v-1.7M217.4 183.8v-10.2M218.7 183.8v-1.9M220.0 183.8v-14.5M221.3 183.8v-2.8M222.6 183.8v-1.3M223.9 183.8v-1.7M225.2 183.8v-13.0M226.5 183.8v-2.0M227.8 183.8v-2.0M229.1 183.8v-5.5M230.4 183.8v-13.5M231.6 183.8v-7.3M232.9 183.8v-7.3M234.2 183.8v-4.0M235.5 183.8v-1.6M236.8 183.8v-11.3M238.1 183.8v-2.7M239.4 183.8v-1.9M240.7 183.8v-4.0M242.0 183.8v-5.3M243.3 183.8v-5.3M244.6 183.8v-1.5M245.9 183.8v-9.2M247.2 183.8v-9.2M248.5 183.8v-2.1M249.8 183.8v-13.5M251.0 183.8v-12.0M252.3 183.8v-5.3M253.6 183.8v-5.3M254.9 183.8v-1.1M256.2 183.8v-5.4M257.5 183.8v-9.2M258.8 183.8v-1.5M260.1 183.8v-5.2M261.4 183.8v-5.7M262.7 183.8v-5.4M264.0 183.8v-1.5M265.3 183.8v-6.2M266.6 183.8v-15.0M267.9 183.8v-6.8M269.2 183.8v-6.8M270.5 183.8v-6.8M271.7 183.8v-6.3M273.0 183.8v-1.1M274.3 183.8v-8.2M275.6 183.8v-8.2M276.9 183.8v-1.9M278.2 183.8v-6.1M279.5 183.8v-8.7M280.8 183.8v-8.7M282.1 183.8v-12.6M283.4 183.8v-10.6M284.7 183.8v-4.8M286.0 183.8v-7.7M287.3 183.8v-4.4M288.6 183.8v-2.0M289.9 183.8v-1.5M291.1 183.8v-7.2M292.4 183.8v-8.4M293.7 183.8v-6.8M295.0 183.8v-2.2M296.3 183.8v-12.3M297.6 183.8v-7.3M298.9 183.8v-1.7M300.2 183.8v-8.7M301.5 183.8v-1.1M302.8 183.8v-6.7M304.1 183.8v-0.8M305.4 183.8v-3.1M306.7 183.8v-4.4M308.0 183.8v-3.1M309.3 183.8v-2.1M310.6 183.8v-1.9M311.8 183.8v-13.5M313.1 183.8v-1.0M314.4 183.8v-1.5M315.7 183.8v-1.5M317.0 183.8v-12.6M318.3 183.8v-10.6M319.6 183.8v-10.6M320.9 183.8v-15.4M322.2 183.8v-12.5M323.5 183.8v-13.5M324.8 183.8v-1.5M326.1 183.8v-10.2M327.4 183.8v-1.7M328.7 183.8v-12.6M330.0 183.8v-12.6M331.2 183.8v-7.2M332.5 183.8v-4.4M333.8 183.8v-6.0M335.1 183.8v-1.8M336.4 183.8v-10.8M337.7 183.8v-10.2M339.0 183.8v-13.0M340.3 183.8v-3.7M341.6 183.8v-4.9M342.9 183.8v-4.9M344.2 183.8v-1.4M345.5 183.8v-7.7M346.8 183.8v-7.7M348.1 183.8v-10.6M349.4 183.8v-8.2M350.7 183.8v-9.3M351.9 183.8v-5.0M353.2 183.8v-5.3M354.5 183.8v-10.6M355.8 183.8v-9.7M357.1 183.8v-3.4M358.4 183.8v-1.9M359.7 183.8v-13.0M361.0 183.8v-1.3M362.3 183.8v-12.1M363.6 183.8v-1.7M364.9 183.8v-13.0M366.2 183.8v-9.7M367.5 183.8v-9.7M368.8 183.8v-16.4M370.1 183.8v-7.3M371.3 183.8v-13.0M372.6 183.8v-13.0M373.9 183.8v-10.1M375.2 183.8v-4.4M376.5 183.8v-4.4M377.8 183.8v-10.6M379.1 183.8v-10.6M380.4 183.8v-10.2M381.7 183.8v-6.7M383.0 183.8v-9.6M384.3 183.8v-15.2M385.6 183.8v-12.0M386.9 183.8v-1.9M388.2 183.8v-12.7M389.5 183.8v-7.6M390.8 183.8v-2.3M392.0 183.8v-8.6M393.3 183.8v-10.6M394.6 183.8v-7.7M395.9 183.8v-14.7M397.2 183.8v-10.2M398.5 183.8v-1.2M399.8 183.8v-11.6M401.1 183.8v-3.8M402.4 183.8v-4.6M403.7 183.8v-1.5M405.0 183.8v-11.7M406.3 183.8v-15.2M407.6 183.8v-9.6M408.9 183.8v-2.2M410.2 183.8v-0.8M411.4 183.8v-6.4M412.7 183.8v-10.6M414.0 183.8v-11.2M415.3 183.8v-1.4M416.6 183.8v-5.5M417.9 183.8v-4.7M419.2 183.8v-15.2M420.5 183.8v-11.7M421.8 183.8v-1.0M423.1 183.8v-1.6M424.4 183.8v-10.6M425.7 183.8v-1.2M427.0 183.8v-9.1M428.3 183.8v-6.3M429.6 183.8v-1.8M430.9 183.8v-5.8" stroke="#1c3434" stroke-width="1.16" fill="none" shape-rendering="auto"/>
<rect x="30.0" y="166.2" width="402.0" height="18.600000000000023" fill="none" stroke="#111" stroke-width="1"/>
<rect x="30.0" y="184.8" width="402.0" height="60.19999999999999" fill="none" stroke="#111" stroke-width="1"/>
<line x1="30.0" y1="184.8" x2="432.0" y2="184.8" stroke="#111" stroke-width="1.3"/>
<line x1="27.5" y1="169.8" x2="30.0" y2="169.8" stroke="#222" stroke-width="1"/>
<text x="26.7" y="171.3" font-family="Liberation Sans, sans-serif" font-size="4.4" fill="#1a1a1a" text-anchor="end">15.0</text>
<line x1="27.5" y1="174.2" x2="30.0" y2="174.2" stroke="#222" stroke-width="1"/>
<text x="26.7" y="175.7" font-family="Liberation Sans, sans-serif" font-size="4.4" fill="#1a1a1a" text-anchor="end">10.0</text>
<line x1="27.5" y1="179.0" x2="30.0" y2="179.0" stroke="#222" stroke-width="1"/>
<text x="26.7" y="180.5" font-family="Liberation Sans, sans-serif" font-size="4.4" fill="#1a1a1a" text-anchor="end">5.0</text>
<line x1="27.5" y1="183.5" x2="30.0" y2="183.5" stroke="#222" stroke-width="1"/>
<text x="26.7" y="185.0" font-family="Liberation Sans, sans-serif" font-size="4.4" fill="#1a1a1a" text-anchor="end">0.0</text>
<line x1="27.5" y1="188.20" x2="30.0" y2="188.20" stroke="#222" stroke-width="1"/>
<text x="26.7" y="189.70" font-family="Liberation Sans, sans-serif" font-size="4.4" fill="#1a1a1a" text-anchor="end">100</text>
<line x1="27.5" y1="201.80" x2="30.0" y2="201.80" stroke="#222" stroke-width="1"/>
<text x="26.7" y="203.30" font-family="Liberation Sans, sans-serif" font-size="4.4" fill="#1a1a1a" text-anchor="end">75</text>
<line x1="27.5" y1="215.40" x2="30.0" y2="215.40" stroke="#222" stroke-width="1"/>
<text x="26.7" y="216.90" font-family="Liberation Sans, sans-serif" font-size="4.4" fill="#1a1a1a" text-anchor="end">50</text>
<line x1="27.5" y1="229.00" x2="30.0" y2="229.00" stroke="#222" stroke-width="1"/>
<text x="26.7" y="230.50" font-family="Liberation Sans, sans-serif" font-size="4.4" fill="#1a1a1a" text-anchor="end">25</text>
<line x1="27.5" y1="242.60" x2="30.0" y2="242.60" stroke="#222" stroke-width="1"/>
<text x="26.7" y="244.10" font-family="Liberation Sans, sans-serif" font-size="4.4" fill="#1a1a1a" text-anchor="end">0</text>
<text font-family="Liberation Sans, sans-serif" font-size="10.5" font-weight="bold" fill="#000" stroke="#000" stroke-width="0.45" transform="translate(6.9 174.5) scale(1.06 1)">C</text>
<rect x="437.2" y="13.6" width="8.7" height="8.5" fill="#1f77e6"/>
<text font-family="Liberation Sans, sans-serif" font-size="6.3" fill="#000" stroke="#000" stroke-width="0.18" transform="translate(448.9 20.00) scale(0.715 1)">B_cells_memory</text>
<rect x="437.2" y="22.9" width="8.7" height="8.5" fill="#ffa54d"/>
<text font-family="Liberation Sans, sans-serif" font-size="6.3" fill="#000" stroke="#000" stroke-width="0.18" transform="translate(448.9 30.50) scale(0.715 1)">B_cells_naive</text>
<rect x="437.2" y="32.5" width="8.7" height="8.5" fill="#ff4a72"/>
<text font-family="Liberation Sans, sans-serif" font-size="6.3" fill="#000" stroke="#000" stroke-width="0.18" transform="translate(448.9 40.10) scale(0.715 1)">Dendritic_cells_activated</text>
<rect x="437.2" y="41.8" width="8.7" height="8.5" fill="#ff80c0"/>
<text font-family="Liberation Sans, sans-serif" font-size="6.3" fill="#000" stroke="#000" stroke-width="0.18" transform="translate(448.9 49.40) scale(0.715 1)">Dendritic_cells_resting</text>
<rect x="437.2" y="51.4" width="8.7" height="8.5" fill="#dce0e0"/>
<text font-family="Liberation Sans, sans-serif" font-size="6.3" fill="#000" stroke="#000" stroke-width="0.18" transform="translate(448.9 59.00) scale(0.715 1)">Eosinophils</text>
<rect x="437.2" y="60.8" width="8.7" height="8.5" fill="#fff250"/>
<text font-family="Liberation Sans, sans-serif" font-size="6.3" fill="#000" stroke="#000" stroke-width="0.18" transform="translate(448.9 68.40) scale(0.715 1)">Macrophages_M0</text>
<rect x="437.2" y="70.2" width="8.7" height="8.5" fill="#ff5a0a"/>
<text font-family="Liberation Sans, sans-serif" font-size="6.3" fill="#000" stroke="#000" stroke-width="0.18" transform="translate(448.9 77.80) scale(0.715 1)">Macrophages_M1</text>
<rect x="437.2" y="79.8" width="8.7" height="8.5" fill="#90f0c8"/>
<text font-family="Liberation Sans, sans-serif" font-size="6.3" fill="#000" stroke="#000" stroke-width="0.18" transform="translate(448.9 87.40) scale(0.715 1)">Macrophages_M2</text>
<rect x="437.2" y="89.3" width="8.7" height="8.5" fill="#a8f03c"/>
<text font-family="Liberation Sans, sans-serif" font-size="6.3" fill="#000" stroke="#000" stroke-width="0.18" transform="translate(448.9 96.90) scale(0.715 1)">Mast_cells_activated</text>
<rect x="437.2" y="98.8" width="8.7" height="8.5" fill="#c0c8f8"/>
<text font-family="Liberation Sans, sans-serif" font-size="6.3" fill="#000" stroke="#000" stroke-width="0.18" transform="translate(448.9 106.40) scale(0.715 1)">Mast_cells_resting</text>
<rect x="437.2" y="108.4" width="8.7" height="8.5" fill="#b062f8"/>
<text font-family="Liberation Sans, sans-serif" font-size="6.3" fill="#000" stroke="#000" stroke-width="0.18" transform="translate(448.9 116.00) scale(0.715 1)">Monocytes</text>
<rect x="437.2" y="118.0" width="8.7" height="8.5" fill="#d2b4f8"/>
<text font-family="Liberation Sans, sans-serif" font-size="6.3" fill="#000" stroke="#000" stroke-width="0.18" transform="translate(448.9 125.60) scale(0.715 1)">Neutrophils</text>
<rect x="437.2" y="127.8" width="8.7" height="8.5" fill="#e8000a"/>
<text font-family="Liberation Sans, sans-serif" font-size="6.3" fill="#000" stroke="#000" stroke-width="0.18" transform="translate(448.9 135.40) scale(0.715 1)">NK_cells_activated</text>
<rect x="437.2" y="137.9" width="8.7" height="8.5" fill="#ffb060"/>
<text font-family="Liberation Sans, sans-serif" font-size="6.3" fill="#000" stroke="#000" stroke-width="0.18" transform="translate(448.9 145.50) scale(0.715 1)">NK_cells_resting</text>
<rect x="437.2" y="148.0" width="8.7" height="8.5" fill="#d2f8c4"/>
<text font-family="Liberation Sans, sans-serif" font-size="6.3" fill="#000" stroke="#000" stroke-width="0.18" transform="translate(448.9 155.60) scale(0.715 1)">Plasma_cells</text>
<rect x="437.2" y="158.0" width="8.7" height="8.5" fill="#ffb8f0"/>
<text font-family="Liberation Sans, sans-serif" font-size="6.3" fill="#000" stroke="#000" stroke-width="0.18" transform="translate(448.9 165.60) scale(0.715 1)">T_cells_CD4_memory_activated</text>
<rect x="437.2" y="167.9" width="8.7" height="8.5" fill="#30d010"/>
<text font-family="Liberation Sans, sans-serif" font-size="6.3" fill="#000" stroke="#000" stroke-width="0.18" transform="translate(448.9 175.50) scale(0.715 1)">T_cells_CD4_memory_resting</text>
<rect x="437.2" y="177.8" width="8.7" height="8.5" fill="#a8e8f0"/>
<text font-family="Liberation Sans, sans-serif" font-size="6.3" fill="#000" stroke="#000" stroke-width="0.18" transform="translate(448.9 185.40) scale(0.715 1)">T_cells_CD4_naive</text>
<rect x="437.2" y="187.8" width="8.7" height="8.5" fill="#4614f0"/>
<text font-family="Liberation Sans, sans-serif" font-size="6.3" fill="#000" stroke="#000" stroke-width="0.18" transform="translate(448.9 195.40) scale(0.715 1)">T_cells_CD8</text>
<rect x="437.2" y="198.1" width="8.7" height="8.5" fill="#a8f064"/>
<text font-family="Liberation Sans, sans-serif" font-size="6.3" fill="#000" stroke="#000" stroke-width="0.18" transform="translate(448.9 205.70) scale(0.715 1)">T_cells_follicular_helper</text>
<rect x="437.2" y="208.3" width="8.7" height="8.5" fill="#ffffa0"/>
<text font-family="Liberation Sans, sans-serif" font-size="6.3" fill="#000" stroke="#000" stroke-width="0.18" transform="translate(448.9 215.90) scale(0.715 1)">T_cells_gamma_delta</text>
<rect x="437.2" y="218.5" width="8.7" height="8.5" fill="#84d0f0"/>
<text font-family="Liberation Sans, sans-serif" font-size="6.3" fill="#000" stroke="#000" stroke-width="0.18" transform="translate(448.9 226.10) scale(0.715 1)">T_cells_regulatory</text>
<rect x="437.2" y="230.2" width="8.7" height="9.0" fill="#1a2e2e"/>
<text font-family="Liberation Sans, sans-serif" font-size="6.3" fill="#000" stroke="#000" stroke-width="0.18" transform="translate(448.9 237.80) scale(0.715 1)">BM_blast</text>
<text font-family="Liberation Sans, sans-serif" font-size="10.5" font-weight="bold" fill="#000" stroke="#000" stroke-width="0.45" transform="translate(6.9 265) scale(1.06 1)">D</text>
<path d="M73.3 264.3h0M80.4 263.2h0M80.4 278.3h0M75.7 280.6h0M69.7 286.0h0M71.1 285.6h0M91.1 285.6h0M77.6 286.4h0M80.4 285.6h0M81.0 285.0h0M73.7 287.9h0M75.3 288.4h0M82.6 289.0h0M98.9 289.0h0M76.5 290.5h0M78.7 290.7h0M79.8 289.5h0M89.4 290.1h0M87.5 290.9h0M74.2 291.8h0M77.0 292.9h0M79.3 292.4h0M81.5 292.9h0M99.5 291.8h0M97.2 294.0h0M78.2 295.2h0M79.8 294.6h0M68.4 296.0h0M98.4 297.4h0M74.2 297.6h0M80.4 298.5h0M73.1 300.2h0M78.2 300.8h0M81.0 301.0h0M84.3 301.0h0M86.6 301.3h0M104.0 300.8h0M138.2 275.3h0M139.4 280.6h0M138.2 295.4h0M145.3 296.1h0M127.6 297.2h0M134.3 299.6h0M113.0 301.9h0M131.0 301.9h0M151.0 283.0h0M158.3 294.6h0M145.1 296.1h0M169.5 265.5h0M73.7 299.7h0M77.6 298.6h0M83.2 300.2h0M85.4 301.4h0M81.5 301.9h0M78.7 302.5h0M76.5 303.0h0M90.5 303.0h0M89.9 304.2h0M104.5 303.0h0M69.7 305.3h0M71.4 305.9h0M80.4 305.9h0M82.1 305.3h0M101.2 305.9h0M79.8 308.7h0M83.8 309.2h0M70.9 309.8h0M72.0 310.9h0M74.2 310.3h0M73.7 312.6h0M75.3 313.2h0M77.0 314.3h0M78.7 315.4h0M80.4 316.0h0M87.1 312.6h0M87.7 313.7h0M98.4 313.2h0M99.5 316.5h0M92.7 316.5h0M94.4 318.8h0M96.7 318.8h0M98.9 318.2h0M68.0 317.6h0M70.3 320.4h0M72.0 321.6h0M74.2 322.1h0M76.5 322.7h0M82.1 320.4h0M85.4 321.6h0M87.7 321.0h0M101.7 321.6h0M107.3 314.3h0M97.8 324.9h0M71.4 325.5h0M75.3 327.2h0M77.6 328.3h0M79.8 327.7h0M82.1 326.6h0M70.9 330.0h0M85.4 329.4h0M89.4 330.0h0M90.5 331.1h0M92.2 328.3h0M94.4 328.9h0M80.4 331.7h0M81.0 333.9h0M79.8 336.2h0M78.7 337.3h0M81.0 337.8h0M83.2 338.4h0M84.3 339.5h0M92.2 334.5h0M95.5 333.9h0M98.4 332.2h0M104.0 333.9h0M68.6 337.8h0M71.4 340.6h0M74.8 337.3h0M82.1 340.6h0M85.4 340.1h0M113.0 302.5h0M109.0 305.3h0M110.2 308.1h0M118.6 305.9h0M113.5 309.2h0M131.5 302.5h0M134.3 299.7h0M128.7 305.9h0M143.8 303.6h0M122.5 310.9h0M124.8 310.3h0M107.4 314.8h0M115.8 317.1h0M127.6 314.8h0M129.8 316.5h0M127.6 319.3h0M130.9 319.3h0M127.6 321.0h0M142.7 318.0h0M139.4 320.4h0M111.9 321.3h0M114.7 322.1h0M120.3 322.7h0M122.0 324.4h0M127.6 325.5h0M138.2 327.4h0M116.9 328.5h0M127.6 331.1h0M145.0 332.2h0M139.4 333.9h0M140.5 335.6h0M118.6 332.2h0M127.6 335.0h0M143.8 339.5h0M104.6 333.9h0M111.3 337.3h0M109.6 340.6h0M115.8 342.3h0M121.4 342.7h0M133.2 342.3h0M144.0 303.6h0M173.4 304.2h0M165.0 310.1h0M159.2 312.6h0M152.1 313.9h0M142.9 318.0h0M156.8 320.4h0M160.0 322.1h0M154.6 323.3h0M151.0 326.3h0M156.6 329.4h0M157.2 331.7h0M153.2 330.9h0M145.1 332.2h0M156.6 337.8h0M156.8 339.3h0M162.8 339.3h0M174.5 336.2h0M174.5 339.5h0M180.7 338.2h0M144.0 339.0h0M70.9 330.0h0M80.3 331.6h0M80.8 333.1h0M85.0 330.0h0M89.7 330.5h0M90.7 331.6h0M92.3 334.2h0M94.9 333.7h0M97.6 332.6h0M99.1 331.9h0M103.8 333.7h0M68.2 337.9h0M71.4 340.5h0M74.5 337.3h0M78.2 335.2h0M78.7 336.8h0M79.8 337.9h0M78.7 339.4h0M80.8 339.9h0M82.4 338.9h0M83.4 340.5h0M85.5 339.4h0M71.9 344.7h0M71.9 346.2h0M75.6 344.7h0M75.6 346.2h0M80.3 345.5h0M81.8 345.2h0M83.9 345.7h0M85.5 344.1h0M86.6 345.2h0M87.6 345.7h0M91.3 347.3h0M93.4 345.2h0M94.4 344.7h0M96.0 344.1h0M97.6 343.6h0M98.6 344.7h0M96.5 345.7h0M98.6 345.7h0M103.8 344.7h0M102.3 348.3h0M103.8 349.4h0M107.0 347.3h0M88.7 351.5h0M96.5 352.2h0M100.2 352.0h0M101.7 353.0h0M103.8 352.5h0M107.0 352.5h0M100.7 354.6h0M102.3 355.7h0M104.9 355.7h0M78.7 354.1h0M79.8 355.7h0M77.7 357.2h0M80.8 356.7h0M86.0 357.7h0M86.0 359.8h0M92.3 358.1h0M69.8 359.3h0M103.8 360.4h0M70.9 364.6h0M78.7 363.5h0M80.3 364.6h0M81.3 365.1h0M93.4 364.6h0M98.1 364.3h0M102.3 364.6h0M104.4 364.6h0M104.5 333.7h0M127.6 331.0h0M127.6 334.7h0M118.7 332.1h0M139.1 334.2h0M140.1 335.8h0M145.4 332.1h0M143.8 339.4h0M143.8 344.7h0M146.9 346.8h0M111.3 337.3h0M109.8 341.0h0M104.5 344.7h0M104.5 348.8h0M108.2 347.3h0M109.8 347.8h0M112.9 344.1h0M115.5 343.1h0M116.6 345.2h0M117.1 344.1h0M121.3 343.6h0M122.8 346.8h0M124.9 345.2h0M125.5 346.8h0M123.9 347.8h0M133.3 343.1h0M133.8 346.8h0M137.5 347.8h0M139.6 347.3h0M116.0 349.4h0M104.5 352.5h0M107.7 352.5h0M105.0 355.7h0M116.0 352.5h0M120.8 352.5h0M130.2 354.6h0M132.3 354.1h0M133.8 353.9h0M123.4 356.7h0M124.9 356.7h0M127.6 357.4h0M121.3 358.8h0M139.1 355.1h0M139.1 357.2h0M139.1 358.3h0M144.3 356.2h0M145.4 357.7h0M142.2 360.9h0M110.8 359.3h0M116.0 360.4h0M104.5 360.4h0M109.8 363.5h0M110.8 364.6h0M112.9 364.0h0M115.0 364.0h0M117.6 364.6h0M119.7 364.6h0M121.3 364.6h0M127.0 364.0h0M128.6 364.0h0M133.8 363.5h0M138.0 364.0h0M139.6 364.6h0M141.2 364.0h0M143.3 364.6h0M145.4 364.0h0M146.9 364.0h0M104.5 364.6h0M145.1 332.1h0M153.0 331.0h0M157.2 331.6h0M157.7 330.0h0M156.7 337.9h0M157.2 339.4h0M162.9 339.4h0M174.5 336.3h0M175.0 339.4h0M180.7 337.9h0M180.7 344.1h0M169.7 344.1h0M144.1 339.4h0M144.1 344.7h0M147.2 346.8h0M150.9 348.8h0M152.5 346.8h0M157.2 343.1h0M157.2 346.2h0M167.1 353.6h0M172.4 355.7h0M179.2 349.9h0M180.7 350.9h0M145.1 356.7h0M145.1 358.3h0M149.9 358.8h0M154.6 357.0h0M156.7 358.3h0M157.7 358.8h0M161.4 359.3h0M142.0 361.4h0M142.5 364.6h0M145.1 364.6h0M146.7 364.6h0M150.9 364.6h0M154.6 364.6h0M156.7 364.0h0M157.7 363.5h0M159.3 364.6h0M160.3 364.6h0M168.7 364.6h0M174.5 364.6h0" stroke="#000" stroke-width="2.7" stroke-linecap="round" fill="none" shape-rendering="auto"/>
<polygon points="68.7,313.8 73.3,315.7 78.0,317.5 82.6,319.3 87.3,321.0 91.9,322.7 96.6,324.4 101.2,326.0 105.9,327.6 110.5,329.2 115.2,330.7 119.8,332.2 124.4,333.6 129.1,335.0 133.7,336.3 138.4,337.6 143.0,338.9 147.7,340.1 152.3,341.3 157.0,342.5 161.6,343.6 166.3,344.6 170.9,345.7 175.6,346.7 180.2,347.6 180.2,359.6 175.6,357.5 170.9,355.5 166.3,353.6 161.6,351.6 157.0,349.7 152.3,347.9 147.7,346.1 143.0,344.3 138.4,342.6 133.7,340.9 129.1,339.2 124.4,337.6 119.8,336.0 115.2,334.5 110.5,333.0 105.9,331.6 101.2,330.2 96.6,328.8 91.9,327.5 87.3,326.2 82.6,324.9 78.0,323.7 73.3,322.5 68.7,321.4" fill="#a2aebb" fill-opacity="0.52" shape-rendering="auto"/>
<line x1="68.7" y1="317.6" x2="180.2" y2="353.6" stroke="#1d40a8" stroke-width="1.7" shape-rendering="auto"/>
<rect x="63.0" y="257.3" width="122.80000000000001" height="112.5" fill="none" stroke="#000" stroke-width="1.5"/>
<line x1="60.5" y1="364.50" x2="63.0" y2="364.50" stroke="#333" stroke-width="0.9"/>
<text font-family="Liberation Sans, sans-serif" font-size="7.4" fill="#000" stroke="#000" stroke-width="0.12" text-anchor="end" transform="translate(57.10 367.10) scale(1.18 1)">0</text>
<line x1="60.5" y1="341.20" x2="63.0" y2="341.20" stroke="#333" stroke-width="0.9"/>
<text font-family="Liberation Sans, sans-serif" font-size="7.4" fill="#000" stroke="#000" stroke-width="0.12" text-anchor="end" transform="translate(57.10 343.80) scale(1.18 1)">10</text>
<line x1="60.5" y1="317.90" x2="63.0" y2="317.90" stroke="#333" stroke-width="0.9"/>
<text font-family="Liberation Sans, sans-serif" font-size="7.4" fill="#000" stroke="#000" stroke-width="0.12" text-anchor="end" transform="translate(57.10 320.50) scale(1.18 1)">20</text>
<line x1="60.5" y1="294.60" x2="63.0" y2="294.60" stroke="#333" stroke-width="0.9"/>
<text font-family="Liberation Sans, sans-serif" font-size="7.4" fill="#000" stroke="#000" stroke-width="0.12" text-anchor="end" transform="translate(57.10 297.20) scale(1.18 1)">30</text>
<line x1="60.5" y1="271.30" x2="63.0" y2="271.30" stroke="#333" stroke-width="0.9"/>
<text font-family="Liberation Sans, sans-serif" font-size="7.4" fill="#000" stroke="#000" stroke-width="0.12" text-anchor="end" transform="translate(57.10 273.90) scale(1.18 1)">40</text>
<line x1="68.70" y1="369.8" x2="68.70" y2="372.3" stroke="#333" stroke-width="0.9"/>
<text font-family="Liberation Sans, sans-serif" font-size="7.4" fill="#000" stroke="#000" stroke-width="0.12" text-anchor="middle" transform="translate(68.70 381.30) scale(1.18 1)">0</text>
<line x1="98.25" y1="369.8" x2="98.25" y2="372.3" stroke="#333" stroke-width="0.9"/>
<text font-family="Liberation Sans, sans-serif" font-size="7.4" fill="#000" stroke="#000" stroke-width="0.12" text-anchor="middle" transform="translate(98.25 381.30) scale(1.18 1)">5</text>
<line x1="127.80" y1="369.8" x2="127.80" y2="372.3" stroke="#333" stroke-width="0.9"/>
<text font-family="Liberation Sans, sans-serif" font-size="7.4" fill="#000" stroke="#000" stroke-width="0.12" text-anchor="middle" transform="translate(127.80 381.30) scale(1.18 1)">10</text>
<line x1="157.35" y1="369.8" x2="157.35" y2="372.3" stroke="#333" stroke-width="0.9"/>
<text font-family="Liberation Sans, sans-serif" font-size="7.4" fill="#000" stroke="#000" stroke-width="0.12" text-anchor="middle" transform="translate(157.35 381.30) scale(1.18 1)">15</text>
<text x="0" y="0" font-family="Liberation Sans, sans-serif" font-size="9" fill="#000" stroke="#000" stroke-width="0.25" text-anchor="middle" transform="translate(124.8 394.2) scale(0.705 1)">BM_blast</text>
<text x="0" y="0" font-family="Liberation Sans, sans-serif" font-size="9" fill="#000" stroke="#000" stroke-width="0.25" text-anchor="middle" transform="translate(42.7 314.9) rotate(-90) scale(0.705 1)">Macrophages_M0</text>
<text x="182.1" y="266.6" font-family="Liberation Sans, sans-serif" font-size="6.3" fill="#1a1a1a" text-anchor="end"><tspan font-style="italic">R</tspan> = −0.39, <tspan font-style="italic">p</tspan> = 3.1e−13</text>
<path d="M290.6 319.7h0M314.4 325.1h0M266.4 334.9h0M270.1 336.0h0M301.1 335.6h0M308.4 337.3h0M308.4 339.3h0M242.3 342.2h0M257.3 343.4h0M250.7 345.4h0M290.5 343.9h0M302.2 343.9h0M332.5 345.9h0M249.4 350.6h0M236.3 352.5h0M241.1 355.3h0M260.5 353.4h0M260.0 356.7h0M262.4 356.9h0M229.7 359.4h0M231.1 360.1h0M233.0 360.5h0M235.4 362.4h0M239.2 362.0h0M241.5 361.0h0M242.5 359.6h0M243.9 360.5h0M245.3 361.5h0M247.2 361.5h0M251.0 362.4h0M263.3 362.2h0M273.8 351.8h0M278.6 351.8h0M266.3 353.4h0M264.8 355.3h0M301.3 352.0h0M290.4 357.2h0M272.4 358.8h0M274.3 359.1h0M275.7 359.4h0M266.3 360.1h0M266.3 361.5h0M278.6 361.5h0M290.4 361.0h0M294.2 361.7h0M263.9 362.4h0M264.8 362.2h0M296.3 349.0h0M307.1 351.1h0M308.4 353.1h0M308.4 355.0h0M320.4 355.0h0M314.5 349.2h0M332.7 346.2h0M302.0 360.9h0M307.8 361.2h0M322.7 361.2h0M344.7 359.6h0M344.7 365.4h0M229.7 365.5h0M231.2 365.6h0M233.0 365.6h0M234.7 365.0h0M236.0 365.8h0M237.4 365.7h0M238.3 365.4h0M239.4 365.4h0M240.8 365.0h0M241.8 365.2h0M243.5 365.6h0M244.4 365.6h0M245.4 365.5h0M246.3 365.0h0M248.0 365.2h0M249.0 365.8h0M250.7 365.2h0M252.4 365.4h0M253.9 365.2h0M255.7 365.6h0M257.4 365.7h0M258.5 365.3h0M259.5 365.1h0M260.3 365.2h0M261.8 365.0h0M263.2 365.3h0M264.3 365.7h0M265.6 365.3h0M266.9 365.6h0M267.8 365.8h0M268.6 365.6h0M270.2 365.0h0M271.8 365.3h0M273.2 365.0h0M274.0 365.1h0M275.8 365.2h0M277.4 365.7h0M279.1 365.3h0M280.2 365.4h0M281.8 365.1h0M283.4 365.6h0M285.0 365.0h0M286.8 365.1h0M287.9 365.5h0M289.6 365.3h0M291.4 365.4h0M292.5 365.3h0M293.4 365.1h0M294.4 365.6h0M296.2 365.1h0M297.0 365.8h0M298.4 365.3h0M299.4 365.5h0M301.0 365.4h0M302.3 365.0h0M304.0 365.0h0M305.3 365.7h0M306.2 365.6h0M308.0 365.5h0M309.5 365.1h0M310.8 365.1h0M312.4 365.2h0M313.7 365.8h0M315.3 365.8h0M316.6 365.4h0M318.1 365.4h0M319.2 365.3h0M320.1 365.3h0M321.9 365.8h0M323.4 365.4h0M324.5 365.1h0M325.6 365.6h0M327.2 365.3h0M328.8 365.6h0M330.3 365.5h0M331.9 365.3h0M333.4 365.2h0M334.7 365.6h0M336.2 365.2h0M337.9 365.5h0M339.3 365.0h0" stroke="#000" stroke-width="2.7" stroke-linecap="round" fill="none" shape-rendering="auto"/>
<polygon points="230.5,363.8 235.3,363.7 240.0,363.6 244.8,363.6 249.5,363.5 254.3,363.4 259.1,363.2 263.8,363.1 268.6,363.0 273.3,362.9 278.1,362.7 282.8,362.6 287.6,362.4 292.4,362.2 297.1,362.1 301.9,361.9 306.6,361.7 311.4,361.5 316.1,361.3 320.9,361.1 325.7,360.9 330.4,360.6 335.2,360.4 339.9,360.2 344.7,359.9 344.7,362.5 339.9,362.5 335.2,362.6 330.4,362.7 325.7,362.7 320.9,362.8 316.1,362.9 311.4,363.0 306.6,363.1 301.9,363.2 297.1,363.3 292.4,363.5 287.6,363.6 282.8,363.7 278.1,363.9 273.3,364.0 268.6,364.2 263.8,364.4 259.1,364.6 254.3,364.7 249.5,364.9 244.8,365.1 240.0,365.4 235.3,365.6 230.5,365.8" fill="#a2aebb" fill-opacity="0.52" shape-rendering="auto"/>
<line x1="230.5" y1="364.8" x2="344.7" y2="361.2" stroke="#1d40a8" stroke-width="1.7" shape-rendering="auto"/>
<rect x="224.6" y="256.6" width="125.70000000000002" height="113.79999999999995" fill="none" stroke="#000" stroke-width="1.5"/>
<line x1="222.1" y1="365.40" x2="224.6" y2="365.40" stroke="#333" stroke-width="0.9"/>
<text font-family="Liberation Sans, sans-serif" font-size="7.4" fill="#000" stroke="#000" stroke-width="0.12" text-anchor="end" transform="translate(218.70 368.00) scale(1.18 1)">0</text>
<line x1="222.1" y1="341.35" x2="224.6" y2="341.35" stroke="#333" stroke-width="0.9"/>
<text font-family="Liberation Sans, sans-serif" font-size="7.4" fill="#000" stroke="#000" stroke-width="0.12" text-anchor="end" transform="translate(218.70 343.95) scale(1.18 1)">10</text>
<line x1="222.1" y1="317.30" x2="224.6" y2="317.30" stroke="#333" stroke-width="0.9"/>
<text font-family="Liberation Sans, sans-serif" font-size="7.4" fill="#000" stroke="#000" stroke-width="0.12" text-anchor="end" transform="translate(218.70 319.90) scale(1.18 1)">20</text>
<line x1="222.1" y1="293.25" x2="224.6" y2="293.25" stroke="#333" stroke-width="0.9"/>
<text font-family="Liberation Sans, sans-serif" font-size="7.4" fill="#000" stroke="#000" stroke-width="0.12" text-anchor="end" transform="translate(218.70 295.85) scale(1.18 1)">30</text>
<line x1="222.1" y1="269.20" x2="224.6" y2="269.20" stroke="#333" stroke-width="0.9"/>
<text font-family="Liberation Sans, sans-serif" font-size="7.4" fill="#000" stroke="#000" stroke-width="0.12" text-anchor="end" transform="translate(218.70 271.80) scale(1.18 1)">40</text>
<line x1="230.60" y1="370.4" x2="230.60" y2="372.9" stroke="#333" stroke-width="0.9"/>
<text font-family="Liberation Sans, sans-serif" font-size="7.4" fill="#000" stroke="#000" stroke-width="0.12" text-anchor="middle" transform="translate(230.60 381.90) scale(1.18 1)">0</text>
<line x1="260.70" y1="370.4" x2="260.70" y2="372.9" stroke="#333" stroke-width="0.9"/>
<text font-family="Liberation Sans, sans-serif" font-size="7.4" fill="#000" stroke="#000" stroke-width="0.12" text-anchor="middle" transform="translate(260.70 381.90) scale(1.18 1)">5</text>
<line x1="290.80" y1="370.4" x2="290.80" y2="372.9" stroke="#333" stroke-width="0.9"/>
<text font-family="Liberation Sans, sans-serif" font-size="7.4" fill="#000" stroke="#000" stroke-width="0.12" text-anchor="middle" transform="translate(290.80 381.90) scale(1.18 1)">10</text>
<line x1="320.90" y1="370.4" x2="320.90" y2="372.9" stroke="#333" stroke-width="0.9"/>
<text font-family="Liberation Sans, sans-serif" font-size="7.4" fill="#000" stroke="#000" stroke-width="0.12" text-anchor="middle" transform="translate(320.90 381.90) scale(1.18 1)">15</text>
<text x="0" y="0" font-family="Liberation Sans, sans-serif" font-size="9" fill="#000" stroke="#000" stroke-width="0.25" text-anchor="middle" transform="translate(286.3 394.2) scale(0.705 1)">BM_blast</text>
<text x="0" y="0" font-family="Liberation Sans, sans-serif" font-size="9" fill="#000" stroke="#000" stroke-width="0.25" text-anchor="middle" transform="translate(204.5 313.5) rotate(-90) scale(0.705 1)">Macrophages_M2</text>
<text x="339.4" y="264.6" font-family="Liberation Sans, sans-serif" font-size="6.3" fill="#1a1a1a" text-anchor="end"><tspan font-style="italic">R</tspan> = 0.14, <tspan font-style="italic">p</tspan> = 0.013</text>
<path d="M431.5 298.5h0M412.3 308.2h0M451.0 314.9h0M457.0 310.8h0M412.3 322.8h0M406.3 325.2h0M407.8 326.9h0M465.9 323.3h0M397.4 329.3h0M435.2 329.3h0M453.9 328.8h0M471.9 330.0h0M481.5 327.6h0M499.6 328.1h0M407.3 327.1h0M408.5 328.3h0M397.0 330.4h0M403.7 331.7h0M409.1 331.2h0M412.5 331.2h0M403.9 334.0h0M406.2 335.2h0M394.5 336.9h0M403.3 337.5h0M406.2 336.9h0M416.0 335.7h0M428.0 334.6h0M422.3 339.8h0M424.6 339.2h0M428.0 340.3h0M413.7 340.9h0M413.7 343.2h0M413.1 344.9h0M398.7 342.0h0M399.9 343.2h0M406.8 344.1h0M423.4 343.2h0M425.7 344.3h0M428.6 343.2h0M428.6 345.5h0M394.7 347.2h0M400.5 346.6h0M401.6 348.4h0M395.3 349.5h0M396.5 350.7h0M403.9 348.4h0M405.6 349.5h0M407.3 350.7h0M409.1 351.2h0M412.5 350.1h0M414.2 348.9h0M417.1 349.5h0M418.8 348.4h0M420.0 347.2h0M421.7 347.8h0M423.4 348.9h0M425.7 350.7h0M427.4 350.1h0M422.3 351.2h0M394.2 354.1h0M417.7 359.3h0M419.4 360.4h0M421.1 358.7h0M422.3 361.6h0M423.4 363.8h0M425.7 360.4h0M426.8 362.7h0M428.6 359.3h0M429.1 363.8h0M430.3 361.6h0M422.3 365.6h0M435.1 329.7h0M454.4 329.2h0M428.6 334.6h0M465.3 331.2h0M466.4 332.3h0M455.5 335.7h0M455.0 337.5h0M453.8 338.6h0M448.1 339.2h0M460.1 338.6h0M460.1 341.5h0M465.8 336.3h0M467.6 340.9h0M468.7 337.5h0M428.6 342.1h0M429.7 343.2h0M430.9 343.8h0M428.6 345.5h0M445.2 343.8h0M446.3 344.3h0M451.5 343.8h0M453.2 342.6h0M455.0 341.5h0M464.7 343.8h0M467.0 344.3h0M469.9 343.8h0M442.3 346.6h0M448.1 347.2h0M468.7 347.2h0M441.2 350.7h0M443.5 350.7h0M445.2 351.8h0M450.9 351.2h0M453.8 350.7h0M470.4 351.2h0M428.6 355.2h0M429.1 358.1h0M428.6 360.4h0M429.7 362.7h0M430.3 365.0h0M433.7 355.8h0M434.3 359.3h0M434.9 361.6h0M436.6 360.4h0M437.2 362.7h0M438.3 364.4h0M439.5 365.6h0M439.5 358.7h0M440.6 360.4h0M441.8 362.7h0M442.9 364.4h0M444.1 355.2h0M445.2 356.4h0M446.9 354.7h0M448.6 355.8h0M449.8 357.5h0M450.9 358.7h0M451.5 359.8h0M446.3 365.0h0M443.5 365.6h0M453.8 356.4h0M454.4 354.7h0M455.5 354.1h0M453.2 360.4h0M453.8 362.7h0M455.0 363.8h0M456.1 359.3h0M457.2 360.4h0M459.0 357.5h0M460.7 357.0h0M462.4 356.4h0M459.5 361.6h0M461.3 360.4h0M465.8 357.0h0M466.4 359.8h0M466.4 362.1h0M465.8 364.4h0M469.3 358.1h0M471.0 359.3h0M469.9 362.1h0M481.6 327.8h0M499.1 328.4h0M471.9 330.4h0M470.6 334.3h0M473.2 333.6h0M475.8 334.9h0M477.7 333.6h0M478.4 336.2h0M501.7 333.0h0M497.2 336.2h0M501.7 338.2h0M506.3 341.0h0M469.3 338.2h0M471.2 340.1h0M473.2 339.5h0M469.9 342.7h0M469.3 344.0h0M483.6 340.1h0M481.6 342.7h0M482.3 344.6h0M477.7 344.0h0M483.6 345.9h0M484.2 347.9h0M472.5 347.2h0M471.9 349.8h0M479.0 347.2h0M488.8 348.5h0M501.1 351.1h0M468.0 351.1h0M470.6 351.8h0M480.3 354.4h0M482.9 355.7h0M484.2 355.0h0M486.2 355.0h0M488.8 355.7h0M491.3 355.0h0M494.6 353.1h0M495.2 354.4h0M483.6 357.6h0M484.2 359.6h0M483.6 361.5h0M484.2 362.8h0M470.0 357.6h0M470.6 360.2h0M472.5 361.5h0M473.8 364.1h0M477.7 364.7h0M495.2 358.9h0M507.6 361.5h0M507.6 363.5h0M507.6 365.4h0M405.2 359.4h0M398.0 364.6h0M395.1 360.8h0M414.8 356.3h0M407.2 362.0h0M395.9 359.5h0M410.5 360.2h0M411.0 357.2h0M400.2 356.7h0M406.1 365.2h0M408.0 363.6h0M403.4 363.3h0M397.2 358.6h0M409.8 363.1h0M404.3 356.4h0M400.9 357.7h0M401.2 364.0h0M399.4 364.8h0M414.3 356.1h0M403.3 360.7h0M395.5 360.0h0M414.9 356.7h0M408.1 356.8h0M407.7 364.9h0M399.5 355.6h0M396.8 361.2h0M395.4 356.4h0M405.9 365.2h0M404.2 359.7h0M409.1 356.5h0M407.8 357.3h0M408.4 365.6h0M396.2 361.3h0M408.3 357.1h0M400.9 365.9h0M417.0 356.8h0M410.5 365.5h0M400.2 361.9h0M395.9 359.3h0M409.8 361.7h0M412.0 356.4h0M402.6 364.6h0M407.9 360.2h0M403.8 365.9h0M407.6 355.7h0M412.6 359.0h0M404.5 357.7h0M404.8 358.9h0M397.0 362.1h0M397.3 363.7h0M395.6 363.7h0M412.8 360.7h0M410.6 358.1h0M411.2 360.0h0M400.1 365.6h0M403.8 359.4h0M413.9 359.4h0M409.7 357.3h0M413.6 358.2h0M396.1 365.7h0M398.8 365.4h0M416.7 361.9h0M395.3 356.1h0M399.6 359.6h0M408.5 365.6h0M402.8 357.0h0M407.4 356.9h0M396.9 361.3h0M410.3 356.2h0M404.9 362.9h0M411.8 359.5h0M414.5 357.3h0M410.7 363.6h0M414.4 360.7h0M397.2 356.0h0M406.6 357.3h0M408.9 356.4h0M412.2 357.8h0M395.3 357.3h0M405.0 361.4h0M403.5 357.3h0M405.6 365.4h0M406.8 365.4h0M395.6 365.9h0M414.6 361.2h0M406.5 361.1h0M415.0 356.2h0M409.1 361.2h0M401.6 363.1h0M410.9 356.6h0M410.4 360.3h0M405.8 362.2h0M396.2 361.8h0M403.2 364.7h0M400.1 364.1h0M411.1 362.1h0M414.3 355.9h0M408.1 361.9h0M409.9 359.8h0M396.5 357.5h0M408.4 357.4h0M396.4 359.2h0M405.3 361.1h0M395.6 363.6h0M402.3 363.7h0M395.2 365.5h0M408.0 365.8h0M416.7 364.2h0M397.3 359.2h0M400.1 363.7h0M399.2 357.8h0M397.4 356.8h0M415.6 365.8h0M403.2 363.3h0M405.3 361.0h0M403.1 362.2h0M400.2 358.2h0M406.4 357.6h0M404.7 365.4h0M395.5 356.6h0M412.6 356.1h0M400.5 364.4h0M408.3 357.8h0M396.3 358.4h0M401.6 363.9h0M416.5 363.8h0M414.8 365.3h0M414.3 365.2h0M416.3 356.5h0M402.0 358.1h0M408.3 360.7h0M402.6 364.3h0M403.8 357.7h0M401.1 360.3h0M408.4 361.5h0M423.0 357.9h0M422.4 359.3h0M418.7 361.4h0M419.0 363.1h0M426.5 357.4h0M426.0 359.4h0M423.2 362.1h0M428.2 364.8h0M427.7 358.1h0M424.7 359.4h0M416.3 361.5h0M423.5 364.7h0M421.2 364.3h0M424.2 357.0h0M427.5 358.8h0M424.5 356.7h0M416.2 365.2h0M416.7 357.5h0M418.6 357.0h0M429.2 366.0h0M415.2 352.0h0M421.9 352.5h0M400.8 353.5h0M407.1 351.3h0M406.0 351.9h0M402.1 353.1h0M421.3 352.9h0M397.3 353.4h0M397.6 352.4h0M421.2 353.4h0M422.4 353.8h0M404.6 350.7h0" stroke="#000" stroke-width="2.7" stroke-linecap="round" fill="none" shape-rendering="auto"/>
<polygon points="394.2,352.7 398.9,352.6 403.6,352.4 408.4,352.3 413.1,352.1 417.8,351.9 422.6,351.7 427.3,351.5 432.0,351.3 436.7,351.0 441.4,350.8 446.2,350.5 450.9,350.2 455.6,349.9 460.4,349.5 465.1,349.2 469.8,348.8 474.5,348.4 479.2,348.0 484.0,347.6 488.7,347.2 493.4,346.7 498.2,346.3 502.9,345.8 507.6,345.3 507.6,350.5 502.9,350.6 498.2,350.7 493.4,350.8 488.7,350.9 484.0,351.0 479.2,351.2 474.5,351.3 469.8,351.5 465.1,351.7 460.4,351.9 455.6,352.2 450.9,352.4 446.2,352.7 441.4,353.0 436.7,353.3 432.0,353.6 427.3,353.9 422.6,354.3 417.8,354.6 413.1,355.0 408.4,355.4 403.6,355.8 398.9,356.3 394.2,356.7" fill="#a2aebb" fill-opacity="0.52" shape-rendering="auto"/>
<line x1="394.2" y1="354.7" x2="507.6" y2="347.9" stroke="#1d40a8" stroke-width="1.7" shape-rendering="auto"/>
<rect x="389.3" y="257.8" width="123.49999999999994" height="112.59999999999997" fill="none" stroke="#000" stroke-width="1.5"/>
<line x1="386.8" y1="365.20" x2="389.3" y2="365.20" stroke="#333" stroke-width="0.9"/>
<text font-family="Liberation Sans, sans-serif" font-size="7.4" fill="#000" stroke="#000" stroke-width="0.12" text-anchor="end" transform="translate(383.40 367.80) scale(1.18 1)">0</text>
<line x1="386.8" y1="341.15" x2="389.3" y2="341.15" stroke="#333" stroke-width="0.9"/>
<text font-family="Liberation Sans, sans-serif" font-size="7.4" fill="#000" stroke="#000" stroke-width="0.12" text-anchor="end" transform="translate(383.40 343.75) scale(1.18 1)">10</text>
<line x1="386.8" y1="317.10" x2="389.3" y2="317.10" stroke="#333" stroke-width="0.9"/>
<text font-family="Liberation Sans, sans-serif" font-size="7.4" fill="#000" stroke="#000" stroke-width="0.12" text-anchor="end" transform="translate(383.40 319.70) scale(1.18 1)">20</text>
<line x1="386.8" y1="293.05" x2="389.3" y2="293.05" stroke="#333" stroke-width="0.9"/>
<text font-family="Liberation Sans, sans-serif" font-size="7.4" fill="#000" stroke="#000" stroke-width="0.12" text-anchor="end" transform="translate(383.40 295.65) scale(1.18 1)">30</text>
<line x1="386.8" y1="269.00" x2="389.3" y2="269.00" stroke="#333" stroke-width="0.9"/>
<text font-family="Liberation Sans, sans-serif" font-size="7.4" fill="#000" stroke="#000" stroke-width="0.12" text-anchor="end" transform="translate(383.40 271.60) scale(1.18 1)">40</text>
<line x1="394.50" y1="370.4" x2="394.50" y2="372.9" stroke="#333" stroke-width="0.9"/>
<text font-family="Liberation Sans, sans-serif" font-size="7.4" fill="#000" stroke="#000" stroke-width="0.12" text-anchor="middle" transform="translate(394.50 381.90) scale(1.18 1)">0</text>
<line x1="424.60" y1="370.4" x2="424.60" y2="372.9" stroke="#333" stroke-width="0.9"/>
<text font-family="Liberation Sans, sans-serif" font-size="7.4" fill="#000" stroke="#000" stroke-width="0.12" text-anchor="middle" transform="translate(424.60 381.90) scale(1.18 1)">5</text>
<line x1="454.70" y1="370.4" x2="454.70" y2="372.9" stroke="#333" stroke-width="0.9"/>
<text font-family="Liberation Sans, sans-serif" font-size="7.4" fill="#000" stroke="#000" stroke-width="0.12" text-anchor="middle" transform="translate(454.70 381.90) scale(1.18 1)">10</text>
<line x1="484.80" y1="370.4" x2="484.80" y2="372.9" stroke="#333" stroke-width="0.9"/>
<text font-family="Liberation Sans, sans-serif" font-size="7.4" fill="#000" stroke="#000" stroke-width="0.12" text-anchor="middle" transform="translate(484.80 381.90) scale(1.18 1)">15</text>
<text x="0" y="0" font-family="Liberation Sans, sans-serif" font-size="9" fill="#000" stroke="#000" stroke-width="0.25" text-anchor="middle" transform="translate(450.5 394.2) scale(0.705 1)">BM_blast</text>
<text x="0" y="0" font-family="Liberation Sans, sans-serif" font-size="9" fill="#000" stroke="#000" stroke-width="0.25" text-anchor="middle" transform="translate(368.2 313.2) rotate(-90) scale(0.705 1)">Eosinophils</text>
<text x="505.4" y="264.5" font-family="Liberation Sans, sans-serif" font-size="6.3" fill="#1a1a1a" text-anchor="end"><tspan font-style="italic">R</tspan> = 0.17, <tspan font-style="italic">p</tspan> = 0.0029</text>
<rect x="0.5" y="0.5" width="519" height="400" fill="none" stroke="#000" stroke-width="1.2"/>
</svg></body></html>
